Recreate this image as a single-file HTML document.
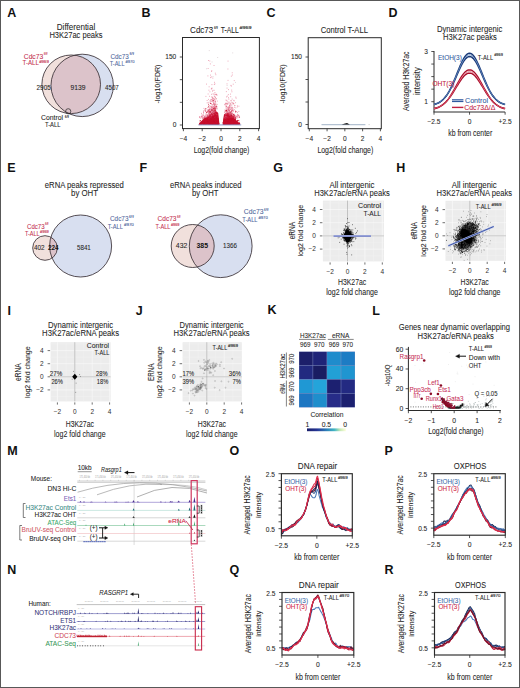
<!DOCTYPE html>
<html><head><meta charset="utf-8"><style>
html,body{margin:0;padding:0;background:#fff;overflow:hidden;}
svg{display:block;}
text{font-family:"Liberation Sans", sans-serif;}
</style></head><body>
<svg width="520" height="688" viewBox="0 0 520 688" font-family='"Liberation Sans", sans-serif' fill="#262626">
<rect width="520" height="688" fill="#fff"/>
<rect x="0.50" y="0.50" width="519.00" height="687.00" fill="none" stroke="#585858" stroke-width="1"/>
<text x="7.20" y="16.80" font-size="12.5" fill="#111" font-weight="bold">A</text>
<text x="141.60" y="16.80" font-size="12.5" fill="#111" font-weight="bold">B</text>
<text x="266.40" y="16.80" font-size="12.5" fill="#111" font-weight="bold">C</text>
<text x="388.60" y="16.80" font-size="12.5" fill="#111" font-weight="bold">D</text>
<text x="7.20" y="171.80" font-size="12.5" fill="#111" font-weight="bold">E</text>
<text x="139.60" y="171.80" font-size="12.5" fill="#111" font-weight="bold">F</text>
<text x="273.20" y="172.00" font-size="12.5" fill="#111" font-weight="bold">G</text>
<text x="396.20" y="171.80" font-size="12.5" fill="#111" font-weight="bold">H</text>
<text x="7.40" y="314.80" font-size="12.5" fill="#111" font-weight="bold">I</text>
<text x="135.80" y="314.80" font-size="12.5" fill="#111" font-weight="bold">J</text>
<text x="267.60" y="313.80" font-size="12.5" fill="#111" font-weight="bold">K</text>
<text x="372.20" y="314.60" font-size="12.5" fill="#111" font-weight="bold">L</text>
<text x="7.20" y="455.00" font-size="12.5" fill="#111" font-weight="bold">M</text>
<text x="229.60" y="455.00" font-size="12.5" fill="#111" font-weight="bold">O</text>
<text x="384.40" y="454.80" font-size="12.5" fill="#111" font-weight="bold">P</text>
<text x="7.20" y="573.80" font-size="12.5" fill="#111" font-weight="bold">N</text>
<text x="229.60" y="573.50" font-size="12.5" fill="#111" font-weight="bold">Q</text>
<text x="384.40" y="573.80" font-size="12.5" fill="#111" font-weight="bold">R</text>
<defs><clipPath id="cpA"><circle cx="82.2" cy="85.4" r="31.2"/></clipPath><clipPath id="cpF"><circle cx="220.7" cy="246.2" r="31.4"/></clipPath><clipPath id="cpE"><circle cx="80.6" cy="246" r="31"/></clipPath><linearGradient id="cb" x1="0" x2="1" y1="0" y2="0"><stop offset="0" stop-color="#1a1f6a"/><stop offset="0.25" stop-color="#253494"/><stop offset="0.5" stop-color="#2c7fb8"/><stop offset="0.7" stop-color="#41b6c4"/><stop offset="0.85" stop-color="#c7e9b4"/><stop offset="1" stop-color="#ffffe0"/></linearGradient></defs>
<text x="56.80" y="29.80" font-size="8.5" textLength="38.40" lengthAdjust="spacingAndGlyphs" stroke="#262626" stroke-width="0.07">Differential</text>
<text x="49.40" y="38.00" font-size="8.5" textLength="53.20" lengthAdjust="spacingAndGlyphs" stroke="#262626" stroke-width="0.07">H3K27ac peaks</text>
<circle cx="82.20" cy="85.40" r="31.20" fill="#d8dff0" stroke="none" stroke-width="0.8"/>
<circle cx="71.20" cy="84.30" r="29.30" fill="#f1e0dc" stroke="none" stroke-width="0.8"/>
<circle cx="71.20" cy="84.30" r="29.30" fill="#dcc3ca" stroke="none" stroke-width="0.8" clip-path="url(#cpA)"/>
<circle cx="82.20" cy="85.40" r="31.20" fill="none" stroke="#3a3036" stroke-width="0.85"/>
<circle cx="71.20" cy="84.30" r="29.30" fill="none" stroke="#3a3036" stroke-width="0.85"/>
<circle cx="68.20" cy="111.30" r="2.60" fill="none" stroke="#222" stroke-width="0.7"/>
<text x="36.50" y="89.60" font-size="6.4" textLength="14.30" lengthAdjust="spacingAndGlyphs" stroke="#262626" stroke-width="0.07">2905</text>
<text x="70.40" y="89.60" font-size="6.4" textLength="15.00" lengthAdjust="spacingAndGlyphs" stroke="#262626" stroke-width="0.07">9139</text>
<text x="105.00" y="89.60" font-size="6.4" textLength="13.80" lengthAdjust="spacingAndGlyphs" stroke="#262626" stroke-width="0.07">4507</text>
<text x="23.80" y="58.60" font-size="6.4" fill="#c4304f" textLength="19.40" lengthAdjust="spacingAndGlyphs" stroke="#c4304f" stroke-width="0.07">Cdc73</text>
<text x="43.80" y="55.00" font-size="4.3" fill="#c4304f" textLength="3.70" lengthAdjust="spacingAndGlyphs" stroke="#c4304f" stroke-width="0.12">f/f</text>
<text x="22.60" y="65.20" font-size="6.4" fill="#c4304f" textLength="16.30" lengthAdjust="spacingAndGlyphs" stroke="#c4304f" stroke-width="0.07">T-ALL</text>
<text x="39.20" y="62.60" font-size="4.3" fill="#c4304f" textLength="9.60" lengthAdjust="spacingAndGlyphs" stroke="#c4304f" stroke-width="0.12">#969</text>
<text x="110.40" y="58.70" font-size="6.4" fill="#4f679c" textLength="18.30" lengthAdjust="spacingAndGlyphs" stroke="#4f679c" stroke-width="0.07">Cdc73</text>
<text x="129.40" y="55.40" font-size="4.3" fill="#4f679c" textLength="4.60" lengthAdjust="spacingAndGlyphs" stroke="#4f679c" stroke-width="0.12">f/f</text>
<text x="109.70" y="66.40" font-size="6.4" fill="#4f679c" textLength="14.90" lengthAdjust="spacingAndGlyphs" stroke="#4f679c" stroke-width="0.07">T-ALL</text>
<text x="125.60" y="63.40" font-size="4.3" fill="#4f679c" textLength="9.00" lengthAdjust="spacingAndGlyphs" stroke="#4f679c" stroke-width="0.12">#970</text>
<text x="41.00" y="120.20" font-size="6.4" textLength="22.00" lengthAdjust="spacingAndGlyphs" stroke="#262626" stroke-width="0.07">Control</text>
<text x="64.80" y="117.50" font-size="4.3" textLength="4.20" lengthAdjust="spacingAndGlyphs" stroke="#262626" stroke-width="0.12">f/f</text>
<text x="44.90" y="127.40" font-size="6.4" textLength="15.60" lengthAdjust="spacingAndGlyphs" stroke="#262626" stroke-width="0.07">T-ALL</text>
<rect x="182.50" y="37.50" width="76.90" height="91.10" fill="none" stroke="#2a2a2a" stroke-width="1.0"/>
<line x1="179.80" y1="125.00" x2="182.50" y2="125.00" stroke="#2a2a2a" stroke-width="0.8"/>
<line x1="179.80" y1="102.33" x2="182.50" y2="102.33" stroke="#2a2a2a" stroke-width="0.8"/>
<line x1="179.80" y1="79.67" x2="182.50" y2="79.67" stroke="#2a2a2a" stroke-width="0.8"/>
<line x1="179.80" y1="57.00" x2="182.50" y2="57.00" stroke="#2a2a2a" stroke-width="0.8"/>
<text x="176.30" y="59.30" font-size="6.6" text-anchor="end" stroke="#262626" stroke-width="0.07">150</text>
<text x="176.30" y="127.30" font-size="6.6" text-anchor="end" stroke="#262626" stroke-width="0.07">0</text>
<line x1="183.40" y1="128.60" x2="183.40" y2="131.20" stroke="#2a2a2a" stroke-width="0.8"/>
<text x="183.40" y="140.50" font-size="6.6" text-anchor="middle" stroke="#262626" stroke-width="0.07">−4</text>
<line x1="202.20" y1="128.60" x2="202.20" y2="131.20" stroke="#2a2a2a" stroke-width="0.8"/>
<text x="202.20" y="140.50" font-size="6.6" text-anchor="middle" stroke="#262626" stroke-width="0.07">−2</text>
<line x1="221.00" y1="128.60" x2="221.00" y2="131.20" stroke="#2a2a2a" stroke-width="0.8"/>
<text x="221.00" y="140.50" font-size="6.6" text-anchor="middle" stroke="#262626" stroke-width="0.07">0</text>
<line x1="239.80" y1="128.60" x2="239.80" y2="131.20" stroke="#2a2a2a" stroke-width="0.8"/>
<text x="239.80" y="140.50" font-size="6.6" text-anchor="middle" stroke="#262626" stroke-width="0.07">2</text>
<line x1="258.60" y1="128.60" x2="258.60" y2="131.20" stroke="#2a2a2a" stroke-width="0.8"/>
<text x="258.60" y="140.50" font-size="6.6" text-anchor="middle" stroke="#262626" stroke-width="0.07">4</text>
<text x="190.10" y="33.40" font-size="8.6" textLength="23.20" lengthAdjust="spacingAndGlyphs" stroke="#262626" stroke-width="0.07">Cdc73</text>
<text x="213.90" y="29.00" font-size="4.4" textLength="3.90" lengthAdjust="spacingAndGlyphs" stroke="#262626" stroke-width="0.12">f/f</text>
<text x="220.70" y="33.40" font-size="8.6" textLength="18.10" lengthAdjust="spacingAndGlyphs" stroke="#262626" stroke-width="0.07">T-ALL</text>
<text x="239.50" y="29.00" font-size="4.4" textLength="12.10" lengthAdjust="spacingAndGlyphs" stroke="#262626" stroke-width="0.12">#969</text>
<text x="193.70" y="152.80" font-size="8.3" textLength="55.70" lengthAdjust="spacingAndGlyphs" stroke="#262626" stroke-width="0.07">Log2(fold change)</text>
<text x="159.90" y="84.00" font-size="7.6" text-anchor="middle" textLength="39.00" lengthAdjust="spacingAndGlyphs" transform="rotate(-90 159.90 84.00)" stroke="#262626" stroke-width="0.07">-log10(FDR)</text>
<path d="M198.5,124.8 L201,121.5 L204,118.5 L207.5,116.5 L211,114.5 L214.5,112.5 L216.8,111.6 L218.2,113 L218.9,119 L219.5,124.8 Z" fill="#c8102e"/>
<path d="M222.6,124.8 L223.2,119 L224,114.5 L226,113.6 L229.5,114.5 L233.5,117.5 L237,121 L239.5,124.8 Z" fill="#c8102e"/>
<path d="M208.5 90.2h0.85M215.1 110.8h0.85M214.2 106.8h0.85M213.6 113.4h0.85M207.9 117.4h0.85M211.5 114.7h0.85M211.0 118.1h0.85M215.7 111.0h0.85M207.5 118.1h0.85M212.6 114.4h0.85M213.2 115.1h0.85M203.5 108.4h0.85M206.9 110.6h0.85M211.3 115.3h0.85M207.8 116.1h0.85M215.2 112.8h0.85M212.1 107.0h0.85M210.7 99.8h0.85M213.0 117.4h0.85M213.8 96.0h0.85M212.0 91.2h0.85M215.2 109.2h0.85M211.9 104.9h0.85M205.5 96.4h0.85M209.0 118.0h0.85M210.3 117.4h0.85M213.5 94.2h0.85M211.1 88.4h0.85M214.9 118.1h0.85M211.1 118.0h0.85M208.3 118.2h0.85M209.4 114.3h0.85M210.6 112.9h0.85M207.3 107.6h0.85M213.7 107.0h0.85M213.7 116.7h0.85M214.6 102.6h0.85M209.4 111.5h0.85M211.3 104.7h0.85M211.7 115.9h0.85M206.1 115.1h0.85M213.3 112.1h0.85M212.0 118.2h0.85M209.1 114.5h0.85M199.3 117.2h0.85M199.4 116.5h0.85M207.8 116.6h0.85M210.8 116.9h0.85M208.0 99.4h0.85M208.0 60.5h0.85M206.1 84.1h0.85M211.5 107.6h0.85M215.6 117.9h0.85M207.9 118.1h0.85M213.1 112.2h0.85M211.3 115.3h0.85M213.9 115.9h0.85M210.4 106.1h0.85M215.5 94.5h0.85M212.5 112.5h0.85M207.8 102.4h0.85M212.3 114.6h0.85M212.6 114.8h0.85M204.1 117.4h0.85M212.0 101.0h0.85M212.4 106.8h0.85M214.6 117.6h0.85M209.8 111.7h0.85M206.1 117.5h0.85M209.9 117.8h0.85M213.0 116.8h0.85M208.8 105.5h0.85M211.1 115.5h0.85M212.7 107.2h0.85M214.8 106.4h0.85M209.3 113.4h0.85M211.1 71.3h0.85M204.0 116.4h0.85M213.6 107.5h0.85M210.8 107.4h0.85M209.2 114.2h0.85M213.2 114.2h0.85M212.5 100.5h0.85M212.3 98.6h0.85M209.4 114.5h0.85M201.4 115.0h0.85M208.8 112.7h0.85M215.7 113.3h0.85M214.4 114.2h0.85M211.5 84.6h0.85M207.7 114.2h0.85M210.4 116.5h0.85M208.2 110.1h0.85M214.0 108.1h0.85M212.4 78.1h0.85M215.8 108.8h0.85M211.1 115.9h0.85M199.9 118.1h0.85M214.5 113.9h0.85M208.4 114.8h0.85M209.1 112.5h0.85M202.0 116.1h0.85M209.8 112.7h0.85M206.8 109.7h0.85M209.9 63.9h0.85M209.0 116.7h0.85M214.4 107.5h0.85M214.9 108.3h0.85M210.2 114.2h0.85M211.3 110.5h0.85M210.6 115.0h0.85M204.3 110.1h0.85M215.3 114.1h0.85M211.4 70.8h0.85M205.0 115.7h0.85M215.2 100.9h0.85M214.5 101.6h0.85M216.3 112.9h0.85M208.2 112.9h0.85M209.2 112.7h0.85M215.8 115.0h0.85M205.1 111.4h0.85M213.1 100.2h0.85M212.7 108.5h0.85M209.1 108.4h0.85M207.4 117.2h0.85M214.6 112.6h0.85M210.2 103.5h0.85M211.7 88.2h0.85M203.1 117.3h0.85M214.0 115.4h0.85M203.3 111.7h0.85M216.3 114.5h0.85M208.4 117.1h0.85M202.3 117.0h0.85M204.0 117.5h0.85M205.9 114.9h0.85M215.7 94.1h0.85M213.6 106.7h0.85M204.8 109.2h0.85M210.2 77.6h0.85M211.9 115.9h0.85M203.0 113.1h0.85M209.1 115.6h0.85M215.1 116.6h0.85M211.0 116.8h0.85M212.9 106.4h0.85M214.7 116.3h0.85M212.3 100.0h0.85M213.0 114.1h0.85M211.5 116.8h0.85M211.7 97.5h0.85M212.7 104.5h0.85M213.2 116.6h0.85M211.4 114.1h0.85M212.1 109.1h0.85M211.4 112.7h0.85M211.6 116.5h0.85M214.3 110.5h0.85M210.5 99.7h0.85M214.9 73.2h0.85M208.9 110.9h0.85M201.2 116.4h0.85M211.8 113.7h0.85M211.1 118.0h0.85M211.8 99.1h0.85M214.9 118.2h0.85M209.6 102.2h0.85M214.5 92.5h0.85M208.2 113.5h0.85M215.3 114.1h0.85M210.9 109.7h0.85M210.1 114.4h0.85M205.3 114.1h0.85M209.5 109.8h0.85M215.0 97.5h0.85M210.4 108.9h0.85M211.0 106.5h0.85M202.4 117.7h0.85M212.9 116.3h0.85M212.3 117.5h0.85M209.4 115.4h0.85M212.3 97.3h0.85M214.8 101.5h0.85M214.0 114.2h0.85M210.8 103.5h0.85M211.5 114.3h0.85M214.6 103.9h0.85M212.3 112.0h0.85M211.1 112.9h0.85M216.7 95.1h0.85M215.9 94.8h0.85M216.6 118.1h0.85M216.2 107.5h0.85M210.5 109.9h0.85M210.9 89.1h0.85M216.4 115.3h0.85M208.1 109.4h0.85M206.5 116.9h0.85M211.4 109.7h0.85M209.8 111.5h0.85M209.7 111.4h0.85M213.7 116.4h0.85M202.9 115.0h0.85M214.5 83.8h0.85M213.0 115.9h0.85M217.1 108.8h0.85M207.9 116.4h0.85M213.8 117.8h0.85M201.7 116.1h0.85M202.5 114.9h0.85M216.9 101.1h0.85M212.2 118.1h0.85M211.6 107.6h0.85M213.1 103.7h0.85M214.6 111.6h0.85M212.8 102.1h0.85M211.4 116.1h0.85M211.8 112.2h0.85M212.6 117.3h0.85M209.9 101.9h0.85M212.5 117.8h0.85M204.1 117.9h0.85M214.2 96.7h0.85M211.8 109.6h0.85M209.5 112.6h0.85M209.0 117.1h0.85M203.8 117.3h0.85M213.5 99.2h0.85M206.9 114.9h0.85M211.8 107.9h0.85M216.4 114.3h0.85M207.5 115.4h0.85M215.4 74.7h0.85M213.4 115.4h0.85M209.5 111.7h0.85M213.6 107.5h0.85M214.5 107.9h0.85M209.3 112.5h0.85M206.7 116.9h0.85M213.7 112.1h0.85M212.9 102.1h0.85M210.0 117.7h0.85M211.4 108.9h0.85M212.6 105.2h0.85M201.0 113.4h0.85M212.8 116.1h0.85M214.5 115.9h0.85M213.1 100.9h0.85M210.1 103.5h0.85M214.0 82.3h0.85M214.7 110.9h0.85M215.9 116.8h0.85M199.0 117.3h0.85M209.2 109.5h0.85M215.2 115.7h0.85M209.5 91.8h0.85M209.8 103.6h0.85M205.7 117.8h0.85M214.7 112.4h0.85M205.7 116.5h0.85M207.9 111.1h0.85M215.2 118.2h0.85M210.9 114.0h0.85M210.8 111.8h0.85M210.4 115.9h0.85M216.8 104.4h0.85M210.7 101.3h0.85M213.0 103.2h0.85M207.8 117.9h0.85M210.9 113.5h0.85M213.7 90.3h0.85M214.8 117.4h0.85M212.7 116.8h0.85M210.5 111.2h0.85M211.9 110.1h0.85M215.7 94.7h0.85M203.2 110.9h0.85M207.7 68.5h0.85M211.4 96.7h0.85M210.9 76.9h0.85M209.2 96.3h0.85M210.7 109.0h0.85M212.4 110.1h0.85M206.1 113.1h0.85M212.3 116.1h0.85M212.7 117.9h0.85M211.5 116.8h0.85M212.0 115.7h0.85M211.0 94.3h0.85M213.4 111.6h0.85M209.6 114.0h0.85M207.5 116.7h0.85M215.7 116.4h0.85M212.6 93.9h0.85M215.8 117.1h0.85M214.0 115.6h0.85M215.8 115.4h0.85M210.8 107.2h0.85M213.7 103.4h0.85M206.7 100.5h0.85M212.7 108.9h0.85M213.1 114.5h0.85M213.7 115.8h0.85M214.3 117.9h0.85M206.7 102.9h0.85M215.5 106.9h0.85M205.6 116.2h0.85M212.4 98.1h0.85M215.4 103.2h0.85M211.3 117.4h0.85M213.8 110.2h0.85M213.9 100.2h0.85M205.3 111.4h0.85M208.9 117.3h0.85M217.4 117.5h0.85M212.5 112.0h0.85M212.5 90.3h0.85M213.4 117.9h0.85M203.3 115.7h0.85M214.5 103.9h0.85M214.5 99.2h0.85M211.2 117.5h0.85M206.2 117.7h0.85M215.7 108.6h0.85M212.5 114.8h0.85M212.9 111.9h0.85M209.0 111.8h0.85M208.0 117.6h0.85M213.4 104.4h0.85M214.3 117.8h0.85M217.2 117.1h0.85M211.5 113.2h0.85M207.6 115.1h0.85M208.7 86.8h0.85M213.6 65.5h0.85M203.1 112.6h0.85M215.2 107.4h0.85M206.4 118.1h0.85M209.6 110.3h0.85M213.7 113.6h0.85M206.6 117.8h0.85M214.6 118.2h0.85M210.3 106.7h0.85M200.8 117.8h0.85M207.5 75.9h0.85M213.9 104.2h0.85M202.4 117.8h0.85M210.5 108.4h0.85M211.3 111.7h0.85M214.9 107.1h0.85M214.9 118.0h0.85M215.7 112.3h0.85M214.8 97.0h0.85M216.0 118.2h0.85M212.9 113.7h0.85M214.2 105.7h0.85M213.2 117.9h0.85M210.0 75.1h0.85M215.0 101.8h0.85M214.2 99.1h0.85M211.4 99.7h0.85M207.7 94.0h0.85M216.6 107.0h0.85M208.7 113.3h0.85M209.6 110.2h0.85M212.8 111.0h0.85M214.6 113.9h0.85M210.4 113.2h0.85M200.9 116.8h0.85M207.1 111.8h0.85M213.0 98.6h0.85M213.0 111.7h0.85M209.4 61.0h0.85M209.7 100.5h0.85M204.2 116.2h0.85M211.6 101.6h0.85M212.6 116.8h0.85M213.8 111.1h0.85M213.1 115.3h0.85M214.0 108.9h0.85M214.4 94.2h0.85M216.2 114.6h0.85M213.9 84.5h0.85M209.7 113.3h0.85M205.8 117.5h0.85M212.1 115.6h0.85M201.3 116.6h0.85M227.6 80.4h0.85M235.4 107.8h0.85M229.4 115.1h0.85M238.0 115.3h0.85M228.2 117.3h0.85M229.9 117.2h0.85M238.4 111.5h0.85M233.4 118.2h0.85M226.1 116.5h0.85M229.9 115.6h0.85M229.6 105.0h0.85M226.3 109.6h0.85M236.7 115.4h0.85M231.7 110.3h0.85M226.8 101.3h0.85M226.1 112.4h0.85M230.8 117.0h0.85M225.0 103.5h0.85M234.7 115.4h0.85M228.0 97.7h0.85M225.8 115.1h0.85M232.5 117.7h0.85M226.8 113.1h0.85M229.2 105.4h0.85M230.5 112.6h0.85M226.5 117.9h0.85M231.7 99.1h0.85M237.1 114.4h0.85M235.4 112.0h0.85M229.5 116.1h0.85M233.8 116.8h0.85M226.2 116.6h0.85M229.1 115.6h0.85M235.7 116.1h0.85M226.3 106.6h0.85M230.7 107.0h0.85M234.0 118.1h0.85M230.4 117.1h0.85M228.3 113.4h0.85M227.8 112.1h0.85M225.5 116.5h0.85M230.9 110.2h0.85M230.4 100.7h0.85M227.0 113.5h0.85M231.7 114.4h0.85M239.2 117.1h0.85M227.9 106.7h0.85M237.3 117.1h0.85M233.5 115.0h0.85M229.1 114.2h0.85M224.4 111.6h0.85M229.3 108.2h0.85M227.0 108.2h0.85M231.3 115.5h0.85M227.8 116.3h0.85M229.0 110.6h0.85M227.2 116.5h0.85M227.7 103.8h0.85M231.7 102.9h0.85M224.8 114.9h0.85M236.1 111.5h0.85M232.7 115.3h0.85M224.7 113.8h0.85M231.1 107.5h0.85M228.3 116.1h0.85M227.6 116.7h0.85M228.9 117.7h0.85M229.1 106.0h0.85M226.8 110.1h0.85M227.9 110.4h0.85M235.4 97.1h0.85M225.2 104.9h0.85M234.3 105.7h0.85M226.9 112.0h0.85M232.0 107.9h0.85M225.6 118.0h0.85M226.9 110.8h0.85M228.7 117.2h0.85M224.4 117.7h0.85M225.6 102.9h0.85M238.7 115.9h0.85M233.7 100.9h0.85M234.6 116.2h0.85M232.6 108.9h0.85M227.6 61.1h0.85M226.0 114.8h0.85M229.6 109.5h0.85M229.2 106.0h0.85M229.5 109.0h0.85M234.5 117.2h0.85M229.8 109.5h0.85M230.3 112.6h0.85M229.8 113.4h0.85M225.7 107.8h0.85M225.5 100.1h0.85M228.5 109.6h0.85M228.9 107.6h0.85M231.5 91.8h0.85M232.7 116.5h0.85M224.6 116.9h0.85M230.5 105.1h0.85M226.4 117.5h0.85M231.9 75.0h0.85M224.6 118.1h0.85M230.9 76.2h0.85M224.2 104.7h0.85M225.7 105.9h0.85M229.3 113.4h0.85M232.8 84.2h0.85M233.9 107.4h0.85M231.6 102.4h0.85M227.5 69.0h0.85M231.0 111.3h0.85M229.4 113.7h0.85M227.7 112.6h0.85M235.3 111.6h0.85M230.3 115.3h0.85M230.2 114.2h0.85M233.8 80.6h0.85M227.8 113.4h0.85M229.4 118.1h0.85M225.9 91.6h0.85M226.6 88.1h0.85M225.5 113.4h0.85M226.0 110.8h0.85M226.3 106.2h0.85M229.1 110.5h0.85M232.2 107.3h0.85M227.6 107.6h0.85M230.1 114.8h0.85M227.3 111.5h0.85M228.5 110.2h0.85M228.1 89.6h0.85M230.7 116.5h0.85M225.3 114.3h0.85M231.3 117.6h0.85M226.6 83.9h0.85M229.3 116.4h0.85M233.1 116.6h0.85M230.5 85.4h0.85M226.3 116.6h0.85M225.2 116.1h0.85M227.4 117.5h0.85M231.0 117.5h0.85M227.3 109.8h0.85M227.3 113.8h0.85M229.7 103.6h0.85M234.6 117.9h0.85M224.0 112.6h0.85M226.2 114.6h0.85M225.6 116.5h0.85M227.9 114.8h0.85M233.9 117.2h0.85M232.1 117.3h0.85M230.2 117.0h0.85M232.7 111.2h0.85M229.2 113.0h0.85M230.1 117.3h0.85M233.4 100.4h0.85M236.3 116.5h0.85M225.8 108.7h0.85M225.8 117.7h0.85M237.1 112.4h0.85M229.0 111.5h0.85M236.9 105.8h0.85M226.9 115.8h0.85M232.6 113.4h0.85M232.7 111.2h0.85M227.5 109.3h0.85M230.9 86.1h0.85M227.5 107.6h0.85M228.6 113.4h0.85M229.5 105.1h0.85M230.0 103.9h0.85M226.3 100.4h0.85M225.5 110.1h0.85M230.6 116.6h0.85M227.5 114.7h0.85M237.4 116.8h0.85M228.1 113.6h0.85M228.1 110.7h0.85M227.9 94.6h0.85M229.7 115.8h0.85M227.0 104.0h0.85M232.2 109.2h0.85M230.8 116.7h0.85M226.3 115.3h0.85M231.1 108.6h0.85M227.8 112.2h0.85M231.8 103.8h0.85M226.1 96.9h0.85M234.2 115.4h0.85M235.2 102.7h0.85M226.7 113.9h0.85M229.5 107.7h0.85M232.9 115.6h0.85M225.6 116.6h0.85M230.1 94.1h0.85M231.2 113.1h0.85M225.9 115.7h0.85M226.9 96.1h0.85M237.0 116.0h0.85M231.5 114.9h0.85M228.5 107.8h0.85M226.2 116.7h0.85M232.8 110.3h0.85M227.6 102.8h0.85M231.3 115.4h0.85M235.6 117.0h0.85M230.7 112.0h0.85M238.9 117.1h0.85M231.4 105.1h0.85M226.6 118.1h0.85M230.9 100.8h0.85M228.6 118.2h0.85M230.6 116.4h0.85M228.9 110.5h0.85M229.6 111.7h0.85M227.7 118.2h0.85M228.3 117.2h0.85M230.8 110.2h0.85M228.8 113.7h0.85M235.4 117.2h0.85M233.9 109.7h0.85M228.3 108.0h0.85M226.0 117.5h0.85M237.2 106.9h0.85M228.2 110.9h0.85M225.9 114.2h0.85M227.1 113.1h0.85M228.7 107.2h0.85M237.5 114.9h0.85M234.0 114.3h0.85M230.3 108.0h0.85M225.7 106.7h0.85M228.4 99.1h0.85M227.6 113.5h0.85M238.5 106.2h0.85M229.1 114.4h0.85M232.3 116.5h0.85M227.2 111.8h0.85M230.6 114.8h0.85M226.8 113.3h0.85M232.0 113.6h0.85M224.4 110.1h0.85M236.5 118.2h0.85M230.7 116.0h0.85M233.8 116.4h0.85M225.8 106.6h0.85M225.8 110.3h0.85M230.7 113.6h0.85M225.8 118.1h0.85M228.5 115.1h0.85M231.3 90.1h0.85M225.3 114.3h0.85M229.2 112.0h0.85M231.8 72.8h0.85M226.4 116.1h0.85M234.5 105.6h0.85M229.0 112.7h0.85M225.9 103.7h0.85M227.3 112.6h0.85M226.7 113.3h0.85M229.5 102.8h0.85M232.8 103.0h0.85M229.7 111.8h0.85M231.1 114.9h0.85M229.6 106.6h0.85M232.3 110.2h0.85M235.7 98.2h0.85M225.2 113.7h0.85M230.3 96.7h0.85M229.0 114.5h0.85M238.2 115.4h0.85M235.2 112.3h0.85M225.7 116.3h0.85M227.7 118.1h0.85M224.7 104.1h0.85M231.5 109.1h0.85M230.9 116.1h0.85M228.5 102.0h0.85M225.2 116.1h0.85M231.7 116.7h0.85" stroke="#e06080" stroke-width="0.85" fill="none" stroke-opacity="0.7"/>
<path d="M212.1 120.8h0.9M213.3 124.1h0.9M214.0 123.5h0.9M211.8 116.0h0.9M214.1 119.1h0.9M209.6 122.2h0.9M211.6 116.3h0.9M212.2 120.7h0.9M216.6 120.6h0.9M217.5 124.1h0.9M216.4 118.8h0.9M211.4 123.1h0.9M212.3 122.6h0.9M216.9 121.8h0.9M211.4 122.4h0.9M215.2 121.5h0.9M215.2 120.1h0.9M207.2 118.1h0.9M212.6 122.7h0.9M211.8 120.2h0.9M211.8 123.2h0.9M217.0 122.3h0.9M211.6 123.0h0.9M216.2 123.3h0.9M209.1 123.1h0.9M208.5 123.9h0.9M208.6 122.5h0.9M214.8 122.7h0.9M214.0 123.1h0.9M216.2 121.7h0.9M213.0 122.5h0.9M205.3 122.2h0.9M215.1 124.1h0.9M217.7 120.8h0.9M212.6 111.0h0.9M208.4 119.5h0.9M213.7 115.3h0.9M202.4 123.6h0.9M213.4 123.0h0.9M212.7 117.3h0.9M216.0 113.3h0.9M214.0 123.4h0.9M208.6 122.9h0.9M208.5 124.0h0.9M206.0 112.4h0.9M209.1 122.0h0.9M210.4 124.1h0.9M217.7 122.2h0.9M215.4 118.5h0.9M214.6 124.1h0.9M209.6 118.3h0.9M213.0 123.2h0.9M209.4 120.6h0.9M212.5 121.1h0.9M215.9 120.5h0.9M215.3 120.8h0.9M211.2 124.0h0.9M214.5 123.8h0.9M217.7 118.3h0.9M210.3 122.8h0.9M207.4 119.4h0.9M208.0 121.5h0.9M207.9 122.0h0.9M217.0 119.3h0.9M203.0 121.1h0.9M213.3 122.8h0.9M215.7 123.4h0.9M214.3 122.9h0.9M215.1 120.9h0.9M216.4 123.5h0.9M212.8 124.1h0.9M212.1 123.7h0.9M213.5 123.2h0.9M212.1 119.6h0.9M213.4 121.2h0.9M215.2 123.7h0.9M214.7 123.0h0.9M210.4 121.3h0.9M216.8 121.4h0.9M214.6 109.3h0.9M208.1 122.5h0.9M211.8 121.6h0.9M209.8 121.0h0.9M212.7 119.3h0.9M216.3 121.0h0.9M214.2 122.9h0.9M212.3 119.2h0.9M214.2 123.9h0.9M213.4 121.4h0.9M212.0 123.2h0.9M208.5 119.3h0.9M214.4 122.6h0.9M206.7 123.0h0.9M212.7 121.2h0.9M207.8 121.2h0.9M206.9 122.2h0.9M202.4 122.4h0.9M207.3 115.3h0.9M207.2 121.1h0.9M202.7 121.9h0.9M217.2 117.3h0.9M215.8 117.4h0.9M207.5 121.0h0.9M217.8 122.9h0.9M211.9 116.5h0.9M211.9 122.9h0.9M216.9 116.3h0.9M215.6 123.9h0.9M209.5 122.0h0.9M210.1 120.4h0.9M214.7 119.0h0.9M215.4 123.7h0.9M215.1 117.5h0.9M210.4 120.6h0.9M216.7 122.4h0.9M212.5 121.8h0.9M216.8 123.7h0.9M208.1 123.9h0.9M211.7 119.6h0.9M205.3 119.6h0.9M217.9 122.9h0.9M217.7 124.1h0.9M214.8 112.3h0.9M203.9 122.5h0.9M216.2 118.6h0.9M205.4 108.5h0.9M211.9 124.0h0.9M211.9 123.2h0.9M209.2 116.8h0.9M215.8 118.9h0.9M214.8 120.0h0.9M216.4 117.9h0.9M212.1 117.1h0.9M200.6 123.7h0.9M214.0 119.6h0.9M210.2 120.1h0.9M210.9 123.0h0.9M211.7 120.5h0.9M213.3 123.6h0.9M205.0 123.2h0.9M212.1 122.2h0.9M214.4 123.4h0.9M206.6 121.1h0.9M208.5 123.7h0.9M211.1 123.2h0.9M213.0 120.2h0.9M202.4 118.8h0.9M212.4 124.1h0.9M214.6 121.7h0.9M209.5 122.2h0.9M213.6 124.0h0.9M212.4 123.2h0.9M213.8 113.3h0.9M213.1 123.5h0.9M217.1 115.6h0.9M215.3 120.5h0.9M215.1 123.2h0.9M213.5 116.8h0.9M211.2 109.9h0.9M215.7 98.8h0.9M213.0 123.1h0.9M210.5 123.9h0.9M216.0 118.0h0.9M215.5 116.3h0.9M202.3 123.8h0.9M209.2 123.7h0.9M213.0 117.8h0.9M216.6 123.1h0.9M202.7 122.9h0.9M215.6 122.3h0.9M214.2 122.0h0.9M213.0 122.0h0.9M210.7 123.2h0.9M212.3 123.8h0.9M212.5 110.8h0.9M199.3 124.1h0.9M211.9 119.1h0.9M210.2 116.8h0.9M216.7 120.1h0.9M208.3 122.7h0.9M217.3 123.0h0.9M214.8 120.1h0.9M215.1 120.3h0.9M212.4 122.1h0.9M216.1 123.1h0.9M216.1 116.6h0.9M205.9 119.0h0.9M214.1 122.5h0.9M212.7 122.9h0.9M213.6 121.2h0.9M216.8 118.9h0.9M213.0 122.3h0.9M206.4 112.3h0.9M215.1 123.2h0.9M210.1 119.8h0.9M206.2 123.9h0.9M216.3 122.5h0.9M207.7 123.8h0.9M217.6 123.5h0.9M209.0 123.2h0.9M213.7 123.7h0.9M216.1 121.8h0.9M212.9 122.2h0.9M214.7 115.6h0.9M217.2 123.9h0.9M206.5 122.0h0.9M205.9 119.2h0.9M215.8 123.1h0.9M214.0 119.3h0.9M214.3 108.3h0.9M213.4 120.2h0.9M216.4 120.1h0.9M207.2 119.4h0.9M212.1 120.7h0.9M215.7 123.9h0.9M214.2 123.5h0.9M215.1 120.5h0.9M213.1 120.6h0.9M209.0 119.9h0.9M208.9 124.1h0.9M216.0 122.6h0.9M211.9 122.9h0.9M215.5 122.9h0.9M217.3 122.7h0.9M215.9 117.7h0.9M212.4 122.8h0.9M216.9 122.3h0.9M215.0 123.7h0.9M210.2 123.2h0.9M214.9 115.2h0.9M215.0 123.6h0.9M215.6 120.5h0.9M217.5 122.4h0.9M213.5 120.1h0.9M212.3 118.2h0.9M211.9 123.5h0.9M215.8 123.3h0.9M215.8 120.4h0.9M208.1 123.6h0.9M215.6 123.3h0.9M213.6 119.9h0.9M215.9 120.9h0.9M215.9 123.6h0.9M216.9 124.1h0.9M203.5 122.4h0.9M213.8 123.2h0.9M217.6 122.6h0.9M212.3 123.2h0.9M212.5 122.0h0.9M212.4 123.9h0.9M204.2 123.6h0.9M212.7 116.6h0.9M212.4 116.5h0.9M215.0 121.6h0.9M215.8 120.8h0.9M212.6 121.7h0.9M212.9 121.5h0.9M215.6 123.2h0.9M214.3 121.7h0.9M212.1 124.0h0.9M211.8 124.1h0.9M214.6 119.9h0.9M217.8 123.0h0.9M211.4 120.9h0.9M213.9 123.2h0.9M215.7 122.0h0.9M214.3 121.0h0.9M216.2 123.5h0.9M211.4 118.0h0.9M213.9 114.3h0.9M217.2 123.1h0.9M210.9 121.4h0.9M210.2 121.3h0.9M213.2 122.7h0.9M209.9 121.8h0.9M216.9 123.6h0.9M205.2 120.8h0.9M211.0 124.1h0.9M206.8 124.1h0.9M216.9 121.9h0.9M214.6 122.7h0.9M213.7 116.1h0.9M200.4 122.7h0.9M212.6 118.7h0.9M216.4 118.1h0.9M210.0 123.1h0.9M211.6 119.0h0.9M215.1 115.8h0.9M208.2 106.3h0.9M205.9 124.0h0.9M213.4 123.8h0.9M215.7 123.7h0.9M209.1 122.3h0.9M210.6 122.7h0.9M213.7 118.9h0.9M215.3 123.6h0.9M213.5 123.0h0.9M210.2 121.3h0.9M212.2 122.8h0.9M218.4 123.7h0.9M209.3 122.8h0.9M200.8 123.8h0.9M210.6 122.9h0.9M207.8 120.5h0.9M212.3 116.5h0.9M212.3 117.1h0.9M203.8 123.8h0.9M202.8 123.6h0.9M212.9 120.8h0.9M207.8 119.4h0.9M216.9 122.8h0.9M210.4 123.6h0.9M216.9 124.1h0.9M209.6 123.8h0.9M214.1 121.0h0.9M213.2 120.3h0.9M215.5 122.3h0.9M211.1 114.0h0.9M208.5 123.2h0.9M215.5 122.5h0.9M213.6 121.6h0.9M211.1 118.3h0.9M214.6 119.6h0.9M204.8 118.8h0.9M211.1 122.1h0.9M212.7 122.7h0.9M211.6 122.7h0.9M215.2 123.0h0.9M216.8 124.0h0.9M215.0 110.7h0.9M211.1 122.0h0.9M213.5 108.4h0.9M215.4 121.7h0.9M215.8 122.3h0.9M212.2 120.3h0.9M213.6 122.3h0.9M208.3 120.6h0.9M215.8 123.4h0.9M212.6 121.3h0.9M213.7 109.6h0.9M209.6 121.2h0.9M214.2 119.1h0.9M200.7 121.4h0.9M208.4 122.7h0.9M214.9 120.9h0.9M213.0 122.8h0.9M208.5 121.1h0.9M217.2 121.9h0.9M215.0 123.6h0.9M214.5 121.5h0.9M218.1 122.7h0.9M210.9 110.3h0.9M217.4 123.7h0.9M216.3 119.6h0.9M211.7 122.7h0.9M210.4 123.3h0.9M210.7 121.9h0.9M213.5 120.6h0.9M214.3 123.9h0.9M217.2 123.7h0.9M199.5 124.1h0.9M204.0 121.6h0.9M214.8 123.2h0.9M212.4 119.9h0.9M213.4 122.0h0.9M213.9 122.6h0.9M216.0 113.4h0.9M213.2 123.5h0.9M208.3 117.4h0.9M213.0 123.3h0.9M210.8 122.9h0.9M202.1 121.4h0.9M211.7 120.0h0.9M202.6 123.7h0.9M214.7 115.2h0.9M208.6 122.3h0.9M203.4 120.1h0.9M208.0 123.5h0.9M214.7 122.6h0.9M213.7 118.1h0.9M214.7 120.0h0.9M210.6 116.9h0.9M213.0 123.0h0.9M215.0 118.8h0.9M216.3 118.6h0.9M214.7 119.8h0.9M212.4 120.1h0.9M208.4 122.6h0.9M210.3 118.9h0.9M208.8 117.3h0.9M204.7 122.2h0.9M210.1 120.2h0.9M216.8 117.9h0.9M213.2 123.6h0.9M216.6 121.9h0.9M211.6 122.3h0.9M217.3 123.8h0.9M212.5 122.5h0.9M211.7 117.0h0.9M209.2 123.3h0.9M212.3 120.4h0.9M214.0 120.5h0.9M207.8 122.6h0.9M214.1 123.8h0.9M215.7 121.2h0.9M214.1 120.9h0.9M216.8 123.9h0.9M211.4 121.2h0.9M217.4 123.0h0.9M207.7 122.1h0.9M212.5 110.3h0.9M208.8 115.2h0.9M216.2 106.3h0.9M203.0 124.0h0.9M205.2 124.0h0.9M206.8 122.0h0.9M212.8 100.6h0.9M207.9 117.5h0.9M212.5 120.9h0.9M204.8 120.1h0.9M217.3 122.9h0.9M212.0 121.8h0.9M204.0 123.9h0.9M207.6 123.7h0.9M207.3 118.9h0.9M207.9 122.6h0.9M211.4 123.8h0.9M215.5 123.8h0.9M209.8 123.9h0.9M213.9 116.0h0.9M213.3 121.9h0.9M212.7 122.1h0.9M212.2 122.0h0.9M215.6 122.3h0.9M208.6 123.8h0.9M211.2 121.9h0.9M205.4 120.6h0.9M208.1 120.5h0.9M211.6 122.9h0.9M216.5 124.1h0.9M212.3 122.2h0.9M211.2 113.7h0.9M210.8 119.0h0.9M211.9 120.6h0.9M214.2 118.3h0.9M207.1 118.2h0.9M211.4 123.3h0.9M206.1 121.2h0.9M214.9 113.1h0.9M210.6 122.4h0.9M205.0 123.0h0.9M205.0 123.3h0.9M216.0 112.4h0.9M212.6 116.5h0.9M213.6 122.5h0.9M205.0 121.0h0.9M210.1 114.7h0.9M214.7 112.6h0.9M212.3 123.9h0.9M214.1 122.0h0.9M212.0 113.9h0.9M213.9 121.9h0.9M211.1 123.5h0.9M204.9 120.7h0.9M207.7 123.9h0.9M199.4 120.9h0.9M208.6 118.6h0.9M208.1 104.3h0.9M209.8 123.5h0.9M212.5 120.7h0.9M218.0 123.9h0.9M215.8 121.9h0.9M213.1 121.1h0.9M210.2 123.4h0.9M215.5 123.0h0.9M212.2 124.1h0.9M212.8 123.4h0.9M212.7 120.8h0.9M212.0 123.3h0.9M209.1 124.1h0.9M213.6 121.6h0.9M212.8 122.3h0.9M215.4 121.7h0.9M213.8 116.6h0.9M215.2 121.3h0.9M210.1 122.6h0.9M200.1 123.8h0.9M214.7 115.9h0.9M209.9 123.8h0.9M211.9 119.2h0.9M217.4 123.4h0.9M218.0 122.1h0.9M214.9 123.1h0.9M213.1 116.3h0.9M216.8 123.7h0.9M215.9 119.0h0.9M215.6 123.2h0.9M215.9 120.4h0.9M216.6 122.8h0.9M213.5 121.7h0.9M209.1 121.7h0.9M211.2 123.7h0.9M215.7 106.3h0.9M213.2 120.6h0.9M212.3 122.9h0.9M217.7 123.5h0.9M207.2 121.5h0.9M215.1 121.0h0.9M216.6 121.2h0.9M216.0 122.6h0.9M213.8 122.1h0.9M215.2 108.9h0.9M207.2 118.9h0.9M213.7 120.5h0.9M217.0 122.6h0.9M218.0 123.6h0.9M214.6 110.3h0.9M199.3 123.7h0.9M216.1 115.9h0.9M205.2 118.3h0.9M215.6 123.3h0.9M213.3 122.5h0.9M211.3 122.1h0.9M213.0 123.4h0.9M217.9 122.2h0.9M214.9 121.8h0.9M211.0 122.2h0.9M214.6 123.6h0.9M210.4 123.7h0.9M216.8 122.7h0.9M216.2 122.8h0.9M213.0 123.5h0.9M213.0 118.3h0.9M208.1 117.5h0.9M213.9 116.4h0.9M212.3 121.3h0.9M212.9 116.3h0.9M210.3 123.9h0.9M210.3 117.8h0.9M212.7 121.6h0.9M208.0 122.3h0.9M203.8 118.5h0.9M215.0 123.7h0.9M214.8 123.9h0.9M214.9 119.2h0.9M215.1 118.3h0.9M214.9 122.0h0.9M212.3 121.5h0.9M208.7 121.2h0.9M215.0 116.7h0.9M210.5 120.8h0.9M214.2 123.8h0.9M211.5 123.2h0.9M208.9 115.2h0.9M215.9 121.2h0.9M215.6 122.3h0.9M211.7 124.0h0.9M215.3 124.1h0.9M212.8 124.0h0.9M206.0 121.9h0.9M215.2 116.1h0.9M215.5 120.2h0.9M211.9 123.4h0.9M213.7 120.3h0.9M209.5 124.1h0.9M213.2 117.3h0.9M216.1 116.0h0.9M217.9 124.0h0.9M211.1 123.2h0.9M215.2 124.1h0.9M212.1 123.9h0.9M217.5 123.4h0.9M215.3 122.0h0.9M211.0 123.4h0.9M207.1 118.8h0.9M206.9 120.3h0.9M205.4 124.0h0.9M212.8 122.8h0.9M207.6 121.7h0.9M211.1 124.0h0.9M213.7 122.6h0.9M214.4 115.4h0.9M215.4 122.1h0.9M207.1 120.1h0.9M212.5 118.1h0.9M215.2 120.6h0.9M213.2 117.5h0.9M200.4 123.8h0.9M216.9 124.0h0.9M216.8 124.0h0.9M204.1 121.8h0.9M216.9 123.9h0.9M204.5 123.8h0.9M214.8 122.5h0.9M210.7 120.8h0.9M205.1 121.4h0.9M205.0 124.0h0.9M208.6 122.8h0.9M212.7 123.6h0.9M213.7 124.0h0.9M213.6 123.2h0.9M203.0 124.1h0.9M211.1 121.4h0.9M205.9 122.2h0.9M218.2 123.4h0.9M214.0 123.2h0.9M211.2 117.9h0.9M214.1 122.3h0.9M216.3 120.5h0.9M210.0 121.8h0.9M207.8 122.4h0.9M215.5 123.1h0.9M207.9 122.0h0.9M210.5 124.1h0.9M203.5 123.9h0.9M212.7 123.4h0.9M207.1 123.2h0.9M210.5 120.6h0.9M214.3 118.2h0.9M209.1 123.4h0.9M210.0 123.3h0.9M202.4 123.0h0.9M216.9 123.5h0.9M216.8 123.9h0.9M215.3 115.2h0.9M209.0 120.0h0.9M206.4 120.6h0.9M213.0 122.3h0.9M211.3 123.4h0.9M212.3 121.6h0.9M217.3 123.6h0.9M215.5 124.0h0.9M207.5 122.2h0.9M207.9 122.3h0.9M205.6 122.4h0.9M208.8 118.0h0.9M218.3 123.8h0.9M211.0 119.6h0.9M210.7 120.9h0.9M216.7 123.2h0.9M199.8 123.8h0.9M213.1 119.3h0.9M207.2 111.8h0.9M208.2 117.1h0.9M209.3 116.8h0.9M203.9 123.1h0.9M213.0 122.1h0.9M207.2 123.1h0.9M210.2 121.3h0.9M216.4 123.8h0.9M214.9 119.4h0.9M216.4 123.0h0.9M217.1 123.9h0.9M210.1 122.9h0.9M216.9 122.2h0.9M207.0 118.1h0.9M213.5 121.3h0.9M213.6 117.7h0.9M216.5 116.2h0.9M210.6 123.3h0.9M215.7 117.7h0.9M209.1 122.9h0.9M208.8 121.3h0.9M217.4 123.7h0.9M210.0 122.3h0.9M217.9 123.3h0.9M208.0 122.9h0.9M217.9 119.4h0.9M216.1 119.8h0.9M204.7 124.0h0.9M211.4 123.9h0.9M208.8 124.1h0.9M218.2 123.0h0.9M208.3 123.3h0.9M215.5 115.1h0.9M201.8 122.8h0.9M212.2 119.7h0.9M212.9 123.7h0.9M217.3 122.6h0.9M215.7 124.1h0.9M212.6 117.0h0.9M204.2 122.1h0.9M204.9 122.7h0.9M213.5 123.6h0.9M216.3 121.9h0.9M216.5 122.2h0.9M201.4 123.2h0.9M211.0 122.8h0.9M216.1 121.0h0.9M202.9 122.5h0.9M209.6 121.2h0.9M208.3 111.9h0.9M207.7 119.3h0.9M210.7 119.0h0.9M214.4 120.6h0.9M217.3 119.1h0.9M216.7 121.9h0.9M215.6 118.4h0.9M209.8 123.9h0.9M215.2 123.1h0.9M208.1 110.8h0.9M207.4 123.8h0.9M202.8 123.9h0.9M202.6 121.6h0.9M201.9 122.4h0.9M211.3 123.6h0.9M211.6 118.6h0.9M214.8 119.8h0.9M211.0 122.9h0.9M211.7 116.3h0.9M214.9 123.3h0.9M217.6 123.9h0.9M203.9 123.8h0.9M209.4 120.8h0.9M215.8 114.4h0.9M214.2 105.0h0.9M208.0 124.1h0.9M214.4 124.0h0.9M210.7 122.6h0.9M206.2 121.1h0.9M207.4 122.1h0.9M212.9 117.8h0.9M215.5 116.2h0.9M213.8 117.3h0.9M208.1 120.8h0.9M213.0 124.1h0.9M201.3 124.0h0.9M200.0 120.5h0.9M202.6 121.7h0.9M208.2 123.0h0.9M216.3 123.0h0.9M200.8 123.9h0.9M207.9 119.2h0.9M214.7 123.1h0.9M215.4 121.2h0.9M214.6 122.9h0.9M211.4 123.5h0.9M216.8 119.2h0.9M205.0 122.5h0.9M213.7 122.5h0.9M209.2 122.1h0.9M217.3 122.7h0.9M206.2 123.4h0.9M212.6 109.3h0.9M216.3 123.8h0.9M202.5 122.4h0.9M213.9 119.0h0.9M214.0 120.9h0.9M215.5 121.8h0.9M216.4 123.9h0.9M212.6 123.9h0.9M212.1 121.0h0.9M214.0 123.8h0.9M216.1 122.1h0.9M202.7 123.8h0.9M201.8 122.2h0.9M215.5 122.9h0.9M204.4 121.4h0.9M212.1 123.7h0.9M212.6 121.6h0.9M199.2 123.6h0.9M214.1 119.1h0.9M208.6 119.4h0.9M214.8 115.3h0.9M217.3 122.3h0.9M207.6 123.1h0.9M210.2 112.4h0.9M208.5 107.2h0.9M213.7 113.7h0.9M210.0 118.9h0.9M211.8 122.9h0.9M217.7 122.5h0.9M213.4 116.3h0.9M217.2 123.4h0.9M212.3 120.8h0.9M216.2 123.8h0.9M216.4 123.9h0.9M203.8 122.8h0.9M214.2 123.8h0.9M213.8 123.3h0.9M211.0 122.7h0.9M218.0 122.3h0.9M215.8 119.7h0.9M215.4 118.4h0.9M210.6 122.6h0.9M211.5 121.2h0.9M215.0 123.2h0.9M201.0 124.1h0.9M214.7 121.6h0.9M215.5 123.5h0.9M210.8 122.7h0.9M215.3 120.9h0.9M205.4 119.1h0.9M211.2 122.0h0.9M215.3 120.5h0.9M214.3 120.5h0.9M212.8 123.8h0.9M211.2 124.0h0.9M211.1 122.4h0.9M210.8 121.7h0.9M216.8 123.6h0.9M212.4 123.4h0.9M217.9 123.4h0.9M213.7 122.2h0.9M213.2 108.5h0.9M210.1 123.9h0.9M215.5 119.5h0.9M211.4 118.4h0.9M214.4 123.1h0.9M212.4 112.4h0.9M215.9 122.1h0.9M207.4 116.7h0.9M207.8 123.9h0.9M217.3 123.5h0.9M213.8 116.2h0.9M214.2 110.9h0.9M217.9 123.7h0.9M216.7 118.3h0.9M213.8 123.8h0.9M216.6 124.1h0.9M212.2 122.3h0.9M209.2 121.7h0.9M215.1 119.0h0.9M209.8 123.5h0.9M204.6 117.1h0.9M215.1 114.7h0.9M206.1 118.7h0.9M206.0 118.0h0.9M204.7 123.1h0.9M212.6 123.7h0.9M211.3 120.8h0.9M215.5 123.6h0.9M207.9 123.3h0.9M208.7 121.8h0.9M210.8 120.3h0.9M212.6 117.7h0.9M215.0 122.1h0.9M218.1 122.9h0.9M214.7 114.7h0.9M217.5 118.9h0.9M213.1 119.7h0.9M215.5 119.2h0.9M214.9 121.3h0.9M215.8 120.9h0.9M200.6 122.4h0.9M217.3 122.5h0.9M205.6 123.5h0.9M205.2 123.7h0.9M212.9 121.2h0.9M216.7 117.0h0.9M214.7 120.7h0.9M211.8 123.9h0.9M207.7 118.0h0.9M209.6 124.0h0.9M210.3 120.1h0.9M214.1 120.3h0.9M206.3 121.0h0.9M216.0 124.1h0.9M215.0 124.0h0.9M211.6 122.2h0.9M208.3 123.0h0.9M210.1 121.8h0.9M209.8 121.0h0.9M214.3 124.0h0.9M206.9 123.5h0.9M217.9 123.3h0.9M214.9 111.6h0.9M216.7 123.6h0.9M216.1 120.9h0.9M210.3 111.5h0.9M208.0 123.3h0.9M215.9 121.0h0.9M212.5 122.4h0.9M199.5 122.8h0.9M210.9 118.0h0.9M203.3 123.8h0.9M206.3 120.3h0.9M205.5 123.2h0.9M213.6 113.4h0.9M210.5 123.9h0.9M215.2 121.9h0.9M204.9 110.2h0.9M214.6 124.1h0.9M212.0 121.6h0.9M209.1 122.9h0.9M213.9 122.0h0.9M213.3 123.6h0.9M216.3 115.4h0.9M212.9 123.6h0.9M216.6 121.7h0.9M210.3 103.5h0.9M211.8 123.3h0.9M206.1 123.0h0.9M213.4 118.8h0.9M206.2 124.1h0.9M205.5 121.3h0.9M205.0 123.3h0.9M208.2 122.8h0.9M210.1 119.3h0.9M211.0 123.9h0.9M214.2 123.7h0.9M212.6 121.4h0.9M212.5 115.0h0.9M216.4 123.7h0.9M213.5 122.3h0.9M211.1 124.1h0.9M215.7 122.2h0.9M208.5 122.6h0.9M214.8 118.5h0.9M210.6 117.7h0.9M212.2 121.1h0.9M209.3 111.7h0.9M216.6 122.1h0.9M210.8 122.9h0.9M203.3 123.1h0.9M207.6 121.6h0.9M212.4 116.7h0.9M212.1 118.2h0.9M211.5 114.5h0.9M213.3 118.4h0.9M215.4 123.6h0.9M212.4 122.4h0.9M212.6 124.0h0.9M209.8 115.9h0.9M212.5 124.0h0.9M210.6 122.3h0.9M212.2 120.4h0.9M215.4 104.8h0.9M215.7 112.4h0.9M213.5 123.5h0.9M206.9 122.4h0.9M216.0 122.5h0.9M216.7 123.8h0.9M212.6 118.2h0.9M214.8 119.5h0.9M215.0 121.6h0.9M202.4 120.3h0.9M212.6 122.3h0.9M209.6 121.0h0.9M212.8 120.0h0.9M208.4 123.1h0.9M212.8 122.9h0.9M213.2 122.0h0.9M209.0 122.5h0.9M212.8 123.7h0.9M204.8 121.5h0.9M215.1 123.3h0.9M203.2 122.7h0.9M216.2 123.9h0.9M214.1 119.4h0.9M212.0 120.0h0.9M216.3 118.1h0.9M214.8 121.3h0.9M208.8 109.9h0.9M213.5 123.9h0.9M215.2 121.2h0.9M208.7 121.8h0.9M212.1 122.1h0.9M209.7 121.4h0.9M203.6 119.1h0.9M212.5 120.9h0.9M210.9 122.4h0.9M217.8 123.3h0.9M211.6 121.9h0.9M215.4 124.1h0.9M210.4 121.8h0.9M215.4 113.2h0.9M214.3 111.1h0.9M216.6 119.2h0.9M208.6 122.0h0.9M212.4 115.3h0.9M232.8 117.9h0.9M234.2 121.6h0.9M229.3 123.2h0.9M238.8 123.3h0.9M226.9 121.0h0.9M231.6 113.0h0.9M231.2 121.3h0.9M227.6 119.0h0.9M228.3 120.9h0.9M231.8 118.0h0.9M224.2 124.1h0.9M229.9 122.6h0.9M223.5 122.6h0.9M223.3 124.0h0.9M235.1 123.9h0.9M228.9 116.8h0.9M233.2 118.0h0.9M231.1 123.0h0.9M237.5 123.7h0.9M228.4 119.9h0.9M227.1 121.7h0.9M227.9 122.4h0.9M222.6 122.6h0.9M223.5 123.3h0.9M233.5 116.2h0.9M223.6 119.3h0.9M231.4 121.4h0.9M233.1 123.3h0.9M225.0 121.1h0.9M225.2 124.1h0.9M224.7 124.0h0.9M225.6 123.4h0.9M227.6 118.0h0.9M226.3 115.5h0.9M227.0 122.9h0.9M225.7 123.3h0.9M229.3 119.6h0.9M226.5 122.0h0.9M225.2 121.5h0.9M231.7 121.4h0.9M229.2 121.7h0.9M233.8 122.4h0.9M229.0 123.9h0.9M232.8 123.8h0.9M226.5 122.3h0.9M223.8 123.4h0.9M226.6 121.0h0.9M225.3 121.3h0.9M225.4 122.5h0.9M232.6 121.3h0.9M231.2 123.4h0.9M229.4 123.5h0.9M227.0 123.7h0.9M231.9 123.0h0.9M228.1 122.2h0.9M229.8 121.8h0.9M233.0 122.9h0.9M227.7 119.2h0.9M227.2 118.5h0.9M235.3 121.2h0.9M227.3 121.5h0.9M228.6 120.9h0.9M235.2 123.4h0.9M228.0 121.0h0.9M227.0 123.2h0.9M232.1 123.7h0.9M225.4 123.1h0.9M229.1 123.7h0.9M226.8 113.9h0.9M228.1 109.0h0.9M237.7 122.8h0.9M223.9 123.9h0.9M224.1 124.0h0.9M231.7 123.0h0.9M226.5 115.4h0.9M226.0 119.9h0.9M224.4 121.5h0.9M237.6 123.6h0.9M236.2 121.7h0.9M228.1 124.0h0.9M226.5 117.6h0.9M232.3 123.5h0.9M234.4 122.8h0.9M230.5 119.1h0.9M228.6 121.8h0.9M225.1 123.7h0.9M229.8 124.1h0.9M225.7 119.7h0.9M224.2 124.1h0.9M228.3 116.9h0.9M235.2 121.6h0.9M235.7 123.9h0.9M227.0 120.9h0.9M226.9 123.2h0.9M238.4 123.8h0.9M229.9 119.3h0.9M233.6 123.8h0.9M228.4 122.9h0.9M232.9 122.0h0.9M229.4 122.7h0.9M237.1 123.9h0.9M225.9 120.0h0.9M224.8 124.1h0.9M231.6 115.2h0.9M223.5 123.1h0.9M231.4 119.0h0.9M235.6 123.1h0.9M231.5 123.0h0.9M229.7 123.0h0.9M232.4 120.2h0.9M229.7 123.0h0.9M224.4 123.2h0.9M228.6 122.9h0.9M225.7 124.1h0.9M238.6 123.5h0.9M233.1 122.7h0.9M228.4 121.6h0.9M230.7 121.8h0.9M227.8 121.8h0.9M238.0 123.7h0.9M226.0 124.0h0.9M235.8 122.6h0.9M225.5 123.2h0.9M227.4 122.3h0.9M230.4 123.3h0.9M231.8 121.9h0.9M235.3 118.5h0.9M227.3 120.8h0.9M225.8 121.6h0.9M229.0 121.4h0.9M225.9 122.1h0.9M227.3 123.5h0.9M225.1 121.3h0.9M232.8 121.1h0.9M228.7 124.0h0.9M232.9 123.8h0.9M229.0 124.0h0.9M226.6 124.1h0.9M231.8 119.8h0.9M224.9 122.7h0.9M226.2 111.1h0.9M234.5 119.0h0.9M229.7 121.9h0.9M233.5 120.9h0.9M230.6 122.3h0.9M224.7 122.3h0.9M227.2 120.0h0.9M235.1 120.2h0.9M228.5 118.5h0.9M233.5 117.9h0.9M229.3 121.4h0.9M225.0 123.6h0.9M234.1 121.5h0.9M227.7 120.7h0.9M223.8 122.0h0.9M239.2 123.7h0.9M228.3 119.8h0.9M226.7 123.2h0.9M227.3 121.9h0.9M230.4 120.6h0.9M223.7 123.5h0.9M227.3 123.0h0.9M223.2 123.3h0.9M234.4 117.8h0.9M229.2 116.4h0.9M234.2 123.4h0.9M226.5 122.9h0.9M234.5 120.9h0.9M225.8 119.8h0.9M223.4 123.2h0.9M231.5 122.4h0.9M226.0 123.9h0.9M232.8 119.4h0.9M223.5 122.5h0.9M229.0 121.4h0.9M226.6 123.5h0.9M233.2 116.8h0.9M227.9 121.6h0.9M236.4 123.9h0.9M232.4 120.3h0.9M231.4 122.5h0.9M226.6 117.3h0.9M228.7 119.6h0.9M226.0 122.4h0.9M225.2 121.4h0.9M230.0 123.1h0.9M231.8 120.3h0.9M227.6 117.8h0.9M229.2 123.7h0.9M225.4 121.3h0.9M226.4 118.7h0.9M227.0 122.7h0.9M223.7 123.9h0.9M226.6 121.0h0.9M225.1 123.6h0.9M227.2 120.9h0.9M223.4 123.9h0.9M230.8 122.6h0.9M236.2 122.3h0.9M228.1 120.3h0.9M231.0 115.2h0.9M229.1 118.3h0.9M232.6 122.5h0.9M228.9 121.4h0.9M224.1 123.4h0.9M224.0 120.5h0.9M231.6 123.7h0.9M233.0 114.5h0.9M224.5 122.8h0.9M226.9 120.5h0.9M227.4 119.7h0.9M229.1 120.0h0.9M232.8 123.2h0.9M224.6 121.3h0.9M227.8 123.2h0.9M233.5 116.6h0.9M234.1 123.1h0.9M234.6 123.8h0.9M233.0 123.3h0.9M227.7 122.6h0.9M225.2 121.3h0.9M235.1 118.1h0.9M228.1 117.4h0.9M232.6 119.0h0.9M225.3 120.8h0.9M223.9 121.9h0.9M230.6 119.6h0.9M238.6 122.4h0.9M226.6 123.4h0.9M224.6 124.0h0.9M231.1 117.0h0.9M230.6 120.0h0.9M226.7 120.3h0.9M224.3 123.1h0.9M238.1 123.2h0.9M227.0 118.9h0.9M237.3 122.9h0.9M224.2 123.1h0.9M230.0 123.8h0.9M225.8 123.5h0.9M227.6 122.8h0.9M231.0 118.6h0.9M227.5 122.5h0.9M232.5 123.7h0.9M229.9 123.8h0.9M226.0 122.7h0.9M224.6 122.2h0.9M225.4 124.0h0.9M233.2 114.9h0.9M225.0 123.6h0.9M223.4 123.8h0.9M232.8 122.9h0.9M234.4 123.5h0.9M224.7 120.6h0.9M231.8 122.9h0.9M226.2 123.3h0.9M224.9 117.0h0.9M231.2 116.1h0.9M225.1 123.1h0.9M231.7 118.3h0.9M228.1 120.5h0.9M224.7 123.1h0.9M233.9 123.2h0.9M226.0 110.5h0.9M227.3 123.6h0.9M231.5 115.2h0.9M235.3 117.2h0.9M226.6 120.4h0.9M228.6 121.6h0.9M225.4 123.6h0.9M224.1 123.8h0.9M230.3 122.8h0.9M231.6 119.0h0.9M236.1 122.7h0.9M227.9 123.8h0.9M225.6 113.1h0.9M226.2 124.0h0.9M229.9 120.8h0.9M223.7 123.2h0.9M231.1 121.5h0.9M228.2 118.4h0.9M229.1 118.4h0.9M224.2 123.7h0.9M227.4 123.6h0.9M231.0 122.1h0.9M231.8 116.4h0.9M229.2 124.1h0.9M232.5 122.4h0.9M228.1 123.1h0.9M224.8 115.4h0.9M225.7 123.4h0.9M235.9 122.8h0.9M230.8 122.4h0.9M225.7 122.5h0.9M232.9 123.9h0.9M223.0 124.1h0.9M230.3 121.3h0.9M229.3 122.3h0.9M238.4 120.7h0.9M232.8 122.6h0.9M224.9 120.3h0.9M222.9 123.0h0.9M231.1 122.2h0.9M233.0 118.1h0.9M227.1 123.3h0.9M228.0 123.0h0.9M225.2 120.6h0.9M232.4 121.0h0.9M229.0 123.8h0.9M232.6 120.8h0.9M227.6 115.6h0.9M225.9 121.9h0.9M226.4 123.2h0.9M236.2 122.7h0.9M234.5 121.9h0.9M236.3 123.9h0.9M228.0 121.0h0.9M228.8 116.4h0.9M224.5 124.0h0.9M232.4 122.9h0.9M235.7 122.8h0.9M227.3 123.1h0.9M225.5 122.0h0.9M228.3 123.5h0.9M229.6 118.5h0.9M235.3 120.5h0.9M236.4 122.0h0.9M226.1 119.7h0.9M234.0 119.9h0.9M226.7 123.0h0.9M233.2 122.3h0.9M228.1 120.6h0.9M233.7 120.9h0.9M227.8 123.1h0.9M233.8 122.1h0.9M226.1 123.6h0.9M229.9 112.7h0.9M232.3 123.6h0.9M229.2 123.8h0.9M226.7 123.2h0.9M239.2 124.0h0.9M227.5 113.8h0.9M235.2 120.7h0.9M227.9 122.0h0.9M231.3 123.9h0.9M230.6 113.4h0.9M227.6 115.6h0.9M229.2 120.9h0.9M224.8 121.2h0.9M228.0 122.3h0.9M228.5 116.5h0.9M229.2 119.8h0.9M226.0 121.4h0.9M226.4 116.5h0.9M223.6 123.9h0.9M234.8 119.5h0.9M226.5 119.4h0.9M225.4 122.9h0.9M223.2 123.4h0.9M226.5 123.7h0.9M234.0 121.7h0.9M223.4 123.1h0.9M239.0 123.2h0.9M226.5 103.9h0.9M225.2 123.8h0.9M228.7 123.5h0.9M228.2 122.2h0.9M233.8 123.8h0.9M228.1 122.5h0.9M227.9 119.4h0.9M229.1 120.1h0.9M231.7 123.9h0.9M236.5 123.0h0.9M229.4 123.1h0.9M232.0 116.8h0.9M234.1 120.1h0.9M232.3 122.4h0.9M229.6 119.3h0.9M226.1 122.0h0.9M226.9 120.6h0.9M226.3 124.0h0.9M238.9 123.7h0.9M224.1 121.4h0.9M235.2 123.8h0.9M235.7 123.4h0.9M231.3 121.6h0.9M227.0 123.9h0.9M229.4 121.5h0.9M231.3 121.4h0.9M229.4 116.6h0.9M224.1 123.8h0.9M226.1 121.5h0.9M227.9 114.8h0.9M225.9 119.3h0.9M230.5 122.9h0.9M229.2 120.7h0.9M227.5 123.0h0.9M228.3 122.3h0.9M239.2 124.0h0.9M233.8 119.3h0.9M225.6 121.1h0.9M232.9 121.5h0.9M225.9 123.6h0.9M231.3 115.6h0.9M228.1 122.6h0.9M234.3 120.3h0.9M232.2 119.5h0.9M238.6 124.1h0.9M227.2 123.4h0.9M229.6 123.2h0.9M232.7 119.4h0.9M227.9 123.2h0.9M227.0 123.2h0.9M230.7 111.5h0.9M233.5 121.7h0.9M232.2 119.1h0.9M226.2 117.8h0.9M230.4 116.0h0.9M229.8 123.8h0.9M237.2 123.7h0.9M226.6 122.4h0.9M227.8 114.1h0.9M228.0 123.2h0.9M225.9 123.7h0.9M227.5 121.9h0.9M227.3 123.7h0.9M227.2 120.3h0.9M238.7 123.5h0.9M226.6 122.1h0.9M224.6 123.5h0.9M236.8 121.2h0.9M230.2 124.0h0.9M231.8 121.3h0.9M230.2 118.1h0.9M231.6 123.4h0.9M232.6 122.3h0.9M230.5 120.3h0.9M224.5 123.7h0.9M229.5 123.2h0.9M225.8 110.6h0.9M230.7 124.0h0.9M229.6 122.9h0.9M237.7 123.2h0.9M226.0 123.9h0.9M225.8 123.8h0.9M225.6 123.1h0.9M232.0 119.4h0.9M225.5 123.6h0.9M225.6 110.8h0.9M232.8 123.7h0.9M225.2 123.1h0.9M224.3 121.2h0.9M225.6 120.2h0.9M229.6 121.2h0.9M224.7 122.7h0.9M229.2 121.6h0.9M226.4 115.7h0.9M233.9 115.3h0.9M228.2 123.2h0.9M228.6 120.2h0.9M226.1 122.1h0.9M229.4 122.4h0.9M228.1 116.3h0.9M226.9 119.9h0.9M236.6 123.7h0.9M234.9 123.1h0.9M235.0 111.2h0.9M225.7 118.9h0.9M226.9 118.5h0.9M225.1 124.1h0.9M235.2 122.6h0.9M227.5 123.8h0.9M228.8 114.9h0.9M227.5 124.1h0.9M230.8 117.7h0.9M229.8 123.6h0.9M230.6 124.0h0.9M231.6 119.8h0.9M229.8 119.9h0.9M228.1 121.7h0.9M236.7 122.0h0.9M231.2 122.6h0.9M226.3 121.1h0.9M237.7 120.5h0.9M228.8 124.0h0.9M234.0 123.3h0.9M228.9 121.0h0.9M229.3 122.0h0.9M228.5 120.4h0.9M227.9 120.7h0.9M231.7 120.1h0.9M232.1 122.8h0.9M223.8 121.9h0.9M225.8 122.0h0.9M237.6 123.9h0.9M230.0 121.1h0.9M223.6 121.2h0.9M229.2 123.0h0.9M226.3 120.5h0.9M227.4 113.6h0.9M225.7 122.9h0.9M227.5 120.3h0.9M225.3 123.0h0.9M227.1 116.3h0.9M226.0 119.8h0.9M233.8 122.8h0.9M227.7 121.0h0.9M230.1 123.4h0.9M226.6 122.5h0.9M233.0 121.1h0.9M230.0 123.5h0.9M227.2 123.0h0.9M235.0 120.2h0.9M228.2 122.1h0.9M230.2 122.6h0.9M229.8 122.4h0.9M229.9 119.5h0.9M236.9 123.9h0.9M230.0 116.3h0.9M227.4 120.0h0.9M225.1 122.4h0.9M236.9 121.8h0.9M238.8 123.6h0.9M228.8 123.9h0.9M225.3 120.4h0.9M230.5 122.3h0.9M225.8 122.4h0.9M227.2 115.7h0.9M236.5 123.6h0.9M227.0 120.9h0.9M225.0 120.3h0.9M229.5 115.1h0.9M224.0 121.5h0.9M231.8 123.2h0.9M225.7 121.6h0.9M237.2 123.1h0.9M224.6 123.8h0.9M225.0 123.6h0.9M227.2 123.6h0.9M224.9 122.0h0.9M228.4 122.1h0.9M231.6 120.4h0.9M228.0 123.0h0.9M231.3 124.0h0.9M229.8 117.2h0.9M228.9 123.2h0.9M225.7 121.5h0.9M227.8 123.0h0.9M234.3 124.1h0.9M233.9 123.2h0.9M232.0 123.4h0.9M226.0 123.4h0.9M236.4 123.2h0.9M226.3 114.9h0.9M229.1 117.8h0.9M223.7 123.4h0.9M229.1 124.1h0.9M233.2 122.5h0.9M227.6 123.0h0.9M223.9 123.5h0.9M233.8 121.3h0.9M236.1 123.9h0.9M238.8 117.2h0.9M225.3 111.1h0.9M224.2 114.7h0.9M230.4 114.4h0.9M228.1 123.8h0.9M234.7 119.5h0.9M226.7 118.7h0.9M232.0 121.8h0.9M233.1 118.9h0.9M227.4 121.4h0.9M228.5 124.0h0.9M226.5 123.6h0.9M224.9 122.9h0.9M223.8 122.0h0.9M235.3 123.5h0.9M230.1 121.1h0.9M227.4 124.1h0.9M226.3 120.7h0.9M227.1 122.9h0.9M237.0 120.5h0.9M232.0 121.4h0.9M223.2 123.9h0.9M224.6 123.9h0.9M224.2 122.4h0.9M230.6 120.2h0.9M229.6 123.5h0.9M234.1 121.5h0.9M227.2 124.1h0.9M227.5 123.1h0.9M226.6 122.1h0.9M232.8 121.4h0.9M225.0 123.0h0.9M226.7 121.2h0.9M223.6 122.9h0.9M233.1 122.8h0.9M224.6 123.3h0.9M226.9 122.8h0.9M228.7 123.7h0.9M227.3 118.5h0.9M223.1 122.6h0.9M231.6 123.3h0.9M233.1 122.3h0.9M229.5 121.0h0.9M227.3 116.1h0.9M228.6 119.7h0.9M226.0 123.6h0.9M225.6 122.4h0.9M233.6 121.6h0.9M235.2 122.9h0.9M229.1 122.0h0.9M226.9 124.1h0.9M232.1 122.1h0.9M223.8 123.7h0.9M233.9 121.3h0.9M228.9 120.0h0.9M237.2 120.4h0.9M222.9 123.9h0.9M231.0 121.9h0.9M228.8 117.2h0.9M228.1 118.3h0.9M230.3 121.1h0.9M227.8 120.3h0.9M233.3 103.8h0.9M225.0 122.1h0.9M231.5 122.4h0.9M235.9 124.1h0.9M225.5 119.9h0.9M228.8 118.7h0.9M226.4 119.9h0.9M232.0 121.9h0.9M231.7 120.1h0.9M230.7 123.4h0.9M224.0 122.6h0.9M233.7 123.5h0.9M233.6 123.5h0.9M226.1 119.5h0.9M228.6 113.0h0.9M230.9 122.2h0.9M224.3 121.5h0.9M231.6 122.7h0.9M225.1 123.7h0.9M224.3 119.3h0.9M229.7 122.8h0.9M237.4 123.4h0.9M226.5 122.1h0.9M225.5 121.9h0.9M236.1 122.2h0.9M234.8 123.5h0.9M229.0 122.3h0.9M230.7 122.2h0.9M225.6 114.8h0.9M224.9 123.1h0.9M224.7 120.8h0.9M227.7 124.0h0.9M233.4 122.3h0.9M227.8 118.7h0.9M229.2 121.5h0.9M232.8 119.3h0.9M223.4 123.7h0.9M234.5 123.7h0.9M230.8 121.9h0.9M225.5 121.5h0.9M228.1 122.0h0.9M224.4 122.6h0.9M232.1 121.3h0.9M229.2 120.7h0.9M228.2 122.9h0.9M224.9 120.1h0.9M231.2 123.7h0.9M231.6 110.7h0.9M232.4 123.7h0.9M224.3 122.7h0.9M227.7 122.5h0.9M227.2 123.1h0.9M233.9 123.3h0.9M233.2 124.1h0.9M231.4 119.6h0.9M234.0 121.6h0.9M229.4 119.0h0.9M228.1 122.1h0.9M228.9 121.8h0.9M225.1 123.9h0.9M230.5 115.2h0.9M230.3 122.4h0.9M235.9 121.7h0.9M230.9 121.3h0.9M225.0 122.1h0.9M229.3 118.9h0.9M229.4 121.7h0.9M232.5 123.2h0.9M229.6 120.8h0.9M227.2 120.6h0.9M229.7 121.0h0.9M229.9 121.9h0.9M225.5 122.8h0.9M226.2 122.5h0.9M229.6 123.7h0.9M235.0 123.9h0.9M229.9 119.8h0.9M229.0 121.1h0.9M231.5 118.0h0.9M229.4 123.8h0.9M224.3 119.7h0.9M227.1 115.0h0.9M236.2 122.3h0.9M229.7 117.6h0.9M225.4 123.5h0.9M229.8 119.9h0.9M228.6 123.7h0.9" stroke="#c8102e" stroke-width="0.9" fill="none" stroke-opacity="0.85"/>
<line x1="198.44" y1="124.90" x2="241.21" y2="124.90" stroke="#7d93c4" stroke-width="0.9"/>
<rect x="208.78" y="50.20" width="0.90" height="0.90" fill="#dcd0d4" stroke="none" stroke-width="0.8"/>
<rect x="211.60" y="61.53" width="0.90" height="0.90" fill="#dcd0d4" stroke="none" stroke-width="0.8"/>
<rect x="232.28" y="52.47" width="0.90" height="0.90" fill="#dcd0d4" stroke="none" stroke-width="0.8"/>
<rect x="205.96" y="68.33" width="0.90" height="0.90" fill="#dcd0d4" stroke="none" stroke-width="0.8"/>
<rect x="235.10" y="81.93" width="0.90" height="0.90" fill="#dcd0d4" stroke="none" stroke-width="0.8"/>
<rect x="212.54" y="76.04" width="0.90" height="0.90" fill="#dcd0d4" stroke="none" stroke-width="0.8"/>
<rect x="226.64" y="85.11" width="0.90" height="0.90" fill="#dcd0d4" stroke="none" stroke-width="0.8"/>
<rect x="217.24" y="57.00" width="0.90" height="0.90" fill="#dcd0d4" stroke="none" stroke-width="0.8"/>
<rect x="308.20" y="37.70" width="73.10" height="91.00" fill="none" stroke="#2a2a2a" stroke-width="1.0"/>
<line x1="305.50" y1="124.50" x2="308.20" y2="124.50" stroke="#2a2a2a" stroke-width="0.8"/>
<line x1="305.50" y1="102.00" x2="308.20" y2="102.00" stroke="#2a2a2a" stroke-width="0.8"/>
<line x1="305.50" y1="79.50" x2="308.20" y2="79.50" stroke="#2a2a2a" stroke-width="0.8"/>
<line x1="305.50" y1="57.00" x2="308.20" y2="57.00" stroke="#2a2a2a" stroke-width="0.8"/>
<text x="302.00" y="59.30" font-size="6.6" text-anchor="end" stroke="#262626" stroke-width="0.07">150</text>
<text x="302.00" y="126.80" font-size="6.6" text-anchor="end" stroke="#262626" stroke-width="0.07">0</text>
<line x1="309.30" y1="128.70" x2="309.30" y2="131.30" stroke="#2a2a2a" stroke-width="0.8"/>
<text x="309.30" y="140.60" font-size="6.6" text-anchor="middle" stroke="#262626" stroke-width="0.07">−4</text>
<line x1="327.07" y1="128.70" x2="327.07" y2="131.30" stroke="#2a2a2a" stroke-width="0.8"/>
<text x="327.07" y="140.60" font-size="6.6" text-anchor="middle" stroke="#262626" stroke-width="0.07">−2</text>
<line x1="344.85" y1="128.70" x2="344.85" y2="131.30" stroke="#2a2a2a" stroke-width="0.8"/>
<text x="344.85" y="140.60" font-size="6.6" text-anchor="middle" stroke="#262626" stroke-width="0.07">0</text>
<line x1="362.62" y1="128.70" x2="362.62" y2="131.30" stroke="#2a2a2a" stroke-width="0.8"/>
<text x="362.62" y="140.60" font-size="6.6" text-anchor="middle" stroke="#262626" stroke-width="0.07">2</text>
<line x1="380.40" y1="128.70" x2="380.40" y2="131.30" stroke="#2a2a2a" stroke-width="0.8"/>
<text x="380.40" y="140.60" font-size="6.6" text-anchor="middle" stroke="#262626" stroke-width="0.07">4</text>
<text x="320.80" y="32.70" font-size="8.2" textLength="47.20" lengthAdjust="spacingAndGlyphs" stroke="#262626" stroke-width="0.07">Control T-ALL</text>
<text x="317.40" y="152.60" font-size="8.3" textLength="55.90" lengthAdjust="spacingAndGlyphs" stroke="#262626" stroke-width="0.07">Log2(fold change)</text>
<text x="285.00" y="84.00" font-size="7.6" text-anchor="middle" textLength="39.00" lengthAdjust="spacingAndGlyphs" transform="rotate(-90 285.00 84.00)" stroke="#262626" stroke-width="0.07">-log10(FDR)</text>
<line x1="321.50" y1="124.60" x2="365.40" y2="124.60" stroke="#b4c2d2" stroke-width="1.3"/>
<path d="M341.6,124.6 L345,123.6 L347,122.9 L349.8,124.6 Z" fill="#111"/>
<rect x="368.60" y="124.10" width="1.00" height="1.00" fill="#c8c8c8" stroke="none" stroke-width="0.8"/>
<text x="436.90" y="31.50" font-size="8.5" textLength="65.40" lengthAdjust="spacingAndGlyphs" stroke="#262626" stroke-width="0.07">Dynamic intergenic</text>
<text x="443.10" y="39.70" font-size="8.5" textLength="53.80" lengthAdjust="spacingAndGlyphs" stroke="#262626" stroke-width="0.07">H3K27ac peaks</text>
<line x1="434.00" y1="51.00" x2="434.00" y2="112.00" stroke="#2a2a2a" stroke-width="1.0"/>
<line x1="433.50" y1="112.00" x2="505.10" y2="112.00" stroke="#2a2a2a" stroke-width="1.0"/>
<line x1="431.30" y1="101.70" x2="434.00" y2="101.70" stroke="#2a2a2a" stroke-width="0.8"/>
<line x1="431.30" y1="89.15" x2="434.00" y2="89.15" stroke="#2a2a2a" stroke-width="0.8"/>
<line x1="431.30" y1="76.60" x2="434.00" y2="76.60" stroke="#2a2a2a" stroke-width="0.8"/>
<line x1="431.30" y1="64.05" x2="434.00" y2="64.05" stroke="#2a2a2a" stroke-width="0.8"/>
<line x1="431.30" y1="51.50" x2="434.00" y2="51.50" stroke="#2a2a2a" stroke-width="0.8"/>
<text x="428.00" y="53.80" font-size="6.6" text-anchor="end" stroke="#262626" stroke-width="0.07">3</text>
<text x="428.00" y="104.00" font-size="6.6" text-anchor="end" stroke="#262626" stroke-width="0.07">1</text>
<line x1="434.00" y1="112.00" x2="434.00" y2="114.70" stroke="#2a2a2a" stroke-width="0.8"/>
<text x="434.00" y="123.60" font-size="6.6" text-anchor="middle" stroke="#262626" stroke-width="0.07">−2.5</text>
<line x1="469.55" y1="112.00" x2="469.55" y2="114.70" stroke="#2a2a2a" stroke-width="0.8"/>
<text x="469.55" y="123.60" font-size="6.6" text-anchor="middle" stroke="#262626" stroke-width="0.07">0</text>
<line x1="505.10" y1="112.00" x2="505.10" y2="114.70" stroke="#2a2a2a" stroke-width="0.8"/>
<text x="505.10" y="123.60" font-size="6.6" text-anchor="middle" stroke="#262626" stroke-width="0.07">+2.5</text>
<text x="448.30" y="136.40" font-size="8.6" textLength="43.90" lengthAdjust="spacingAndGlyphs" stroke="#262626" stroke-width="0.07">kb from center</text>
<text x="408.80" y="81.20" font-size="8.2" text-anchor="middle" textLength="59.40" lengthAdjust="spacingAndGlyphs" transform="rotate(-90 408.80 81.20)" stroke="#262626" stroke-width="0.07">Averaged H3K27ac</text>
<text x="419.80" y="81.20" font-size="8.2" text-anchor="middle" textLength="27.80" lengthAdjust="spacingAndGlyphs" transform="rotate(-90 419.80 81.20)" stroke="#262626" stroke-width="0.07">intensity</text>
<path d="M434.00,104.19 L435.19,103.89 L436.37,103.52 L437.56,103.07 L438.74,102.53 L439.93,101.87 L441.11,101.09 L442.30,100.17 L443.48,99.10 L444.67,97.86 L445.85,96.45 L447.04,94.85 L448.22,93.07 L449.41,91.11 L450.59,88.96 L451.77,86.65 L452.96,84.20 L454.14,81.62 L455.33,78.95 L456.51,76.23 L457.70,73.50 L458.88,70.80 L460.07,68.20 L461.25,65.75 L462.44,63.48 L463.62,61.47 L464.81,59.75 L466.00,58.36 L467.18,57.35 L468.37,56.73 L469.55,56.52 L470.74,56.73 L471.92,57.35 L473.11,58.36 L474.29,59.75 L475.48,61.47 L476.66,63.48 L477.85,65.75 L479.03,68.20 L480.22,70.80 L481.40,73.50 L482.59,76.23 L483.77,78.95 L484.96,81.62 L486.14,84.20 L487.33,86.65 L488.51,88.96 L489.69,91.11 L490.88,93.07 L492.06,94.85 L493.25,96.45 L494.44,97.86 L495.62,99.10 L496.81,100.17 L497.99,101.09 L499.18,101.87 L500.36,102.53 L501.55,103.07 L502.73,103.52 L503.92,103.89 L505.10,104.19" stroke="#1a3a78" stroke-width="1.4" fill="none"/>
<path d="M434.00,104.61 L435.19,104.29 L436.37,103.90 L437.56,103.41 L438.74,102.82 L439.93,102.12 L441.11,101.27 L442.30,100.28 L443.48,99.13 L444.67,97.79 L445.85,96.27 L447.04,94.55 L448.22,92.64 L449.41,90.52 L450.59,88.21 L451.77,85.72 L452.96,83.07 L454.14,80.29 L455.33,77.42 L456.51,74.49 L457.70,71.55 L458.88,68.65 L460.07,65.84 L461.25,63.20 L462.44,60.76 L463.62,58.59 L464.81,56.73 L466.00,55.24 L467.18,54.15 L468.37,53.48 L469.55,53.26 L470.74,53.48 L471.92,54.15 L473.11,55.24 L474.29,56.73 L475.48,58.59 L476.66,60.76 L477.85,63.20 L479.03,65.84 L480.22,68.65 L481.40,71.55 L482.59,74.49 L483.77,77.42 L484.96,80.29 L486.14,83.07 L487.33,85.72 L488.51,88.21 L489.69,90.52 L490.88,92.64 L492.06,94.55 L493.25,96.27 L494.44,97.79 L495.62,99.13 L496.81,100.28 L497.99,101.27 L499.18,102.12 L500.36,102.82 L501.55,103.41 L502.73,103.90 L503.92,104.29 L505.10,104.61" stroke="#1a3a78" stroke-width="1.4" fill="none"/>
<path d="M434.00,104.40 L435.19,104.09 L436.37,103.71 L437.56,103.24 L438.74,102.68 L439.93,101.99 L441.11,101.18 L442.30,100.23 L443.48,99.11 L444.67,97.83 L445.85,96.36 L447.04,94.70 L448.22,92.85 L449.41,90.81 L450.59,88.59 L451.77,86.19 L452.96,83.63 L454.14,80.96 L455.33,78.18 L456.51,75.36 L457.70,72.52 L458.88,69.73 L460.07,67.02 L461.25,64.47 L462.44,62.12 L463.62,60.03 L464.81,58.24 L466.00,56.80 L467.18,55.75 L468.37,55.10 L469.55,54.89 L470.74,55.10 L471.92,55.75 L473.11,56.80 L474.29,58.24 L475.48,60.03 L476.66,62.12 L477.85,64.47 L479.03,67.02 L480.22,69.73 L481.40,72.52 L482.59,75.36 L483.77,78.18 L484.96,80.96 L486.14,83.63 L487.33,86.19 L488.51,88.59 L489.69,90.81 L490.88,92.85 L492.06,94.70 L493.25,96.36 L494.44,97.83 L495.62,99.11 L496.81,100.23 L497.99,101.18 L499.18,101.99 L500.36,102.68 L501.55,103.24 L502.73,103.71 L503.92,104.09 L505.10,104.40" stroke="#6a90c8" stroke-width="0.8" fill="none"/>
<path d="M434.00,108.26 L435.19,107.99 L436.37,107.68 L437.56,107.29 L438.74,106.83 L439.93,106.29 L441.11,105.65 L442.30,104.91 L443.48,104.05 L444.67,103.08 L445.85,101.98 L447.04,100.75 L448.22,99.39 L449.41,97.90 L450.59,96.30 L451.77,94.58 L452.96,92.77 L454.14,90.89 L455.33,88.95 L456.51,86.99 L457.70,85.04 L458.88,83.12 L460.07,81.28 L461.25,79.54 L462.44,77.95 L463.62,76.54 L464.81,75.33 L466.00,74.37 L467.18,73.66 L468.37,73.23 L469.55,73.09 L470.74,73.23 L471.92,73.66 L473.11,74.37 L474.29,75.33 L475.48,76.54 L476.66,77.95 L477.85,79.54 L479.03,81.28 L480.22,83.12 L481.40,85.04 L482.59,86.99 L483.77,88.95 L484.96,90.89 L486.14,92.77 L487.33,94.58 L488.51,96.30 L489.69,97.90 L490.88,99.39 L492.06,100.75 L493.25,101.98 L494.44,103.08 L495.62,104.05 L496.81,104.91 L497.99,105.65 L499.18,106.29 L500.36,106.83 L501.55,107.29 L502.73,107.68 L503.92,107.99 L505.10,108.26" stroke="#a80e2a" stroke-width="1.35" fill="none"/>
<path d="M434.00,108.90 L435.19,108.61 L436.37,108.26 L437.56,107.83 L438.74,107.32 L439.93,106.72 L441.11,106.01 L442.30,105.18 L443.48,104.23 L444.67,103.15 L445.85,101.92 L447.04,100.56 L448.22,99.05 L449.41,97.40 L450.59,95.61 L451.77,93.71 L452.96,91.70 L454.14,89.61 L455.33,87.45 L456.51,85.28 L457.70,83.10 L458.88,80.97 L460.07,78.92 L461.25,76.99 L462.44,75.23 L463.62,73.66 L464.81,72.32 L466.00,71.25 L467.18,70.46 L468.37,69.98 L469.55,69.82 L470.74,69.98 L471.92,70.46 L473.11,71.25 L474.29,72.32 L475.48,73.66 L476.66,75.23 L477.85,76.99 L479.03,78.92 L480.22,80.97 L481.40,83.10 L482.59,85.28 L483.77,87.45 L484.96,89.61 L486.14,91.70 L487.33,93.71 L488.51,95.61 L489.69,97.40 L490.88,99.05 L492.06,100.56 L493.25,101.92 L494.44,103.15 L495.62,104.23 L496.81,105.18 L497.99,106.01 L499.18,106.72 L500.36,107.32 L501.55,107.83 L502.73,108.26 L503.92,108.61 L505.10,108.90" stroke="#a80e2a" stroke-width="1.35" fill="none"/>
<path d="M434.00,108.58 L435.19,108.30 L436.37,107.97 L437.56,107.56 L438.74,107.08 L439.93,106.50 L441.11,105.83 L442.30,105.04 L443.48,104.14 L444.67,103.11 L445.85,101.95 L447.04,100.65 L448.22,99.22 L449.41,97.65 L450.59,95.96 L451.77,94.15 L452.96,92.24 L454.14,90.25 L455.33,88.20 L456.51,86.13 L457.70,84.07 L458.88,82.05 L460.07,80.10 L461.25,78.27 L462.44,76.59 L463.62,75.10 L464.81,73.83 L466.00,72.81 L467.18,72.06 L468.37,71.61 L469.55,71.45 L470.74,71.61 L471.92,72.06 L473.11,72.81 L474.29,73.83 L475.48,75.10 L476.66,76.59 L477.85,78.27 L479.03,80.10 L480.22,82.05 L481.40,84.07 L482.59,86.13 L483.77,88.20 L484.96,90.25 L486.14,92.24 L487.33,94.15 L488.51,95.96 L489.69,97.65 L490.88,99.22 L492.06,100.65 L493.25,101.95 L494.44,103.11 L495.62,104.14 L496.81,105.04 L497.99,105.83 L499.18,106.50 L500.36,107.08 L501.55,107.56 L502.73,107.97 L503.92,108.30 L505.10,108.58" stroke="#e86a80" stroke-width="0.75" fill="none"/>
<text x="438.00" y="59.70" font-size="7" fill="#2f5aa0" textLength="23.80" lengthAdjust="spacingAndGlyphs" stroke="#2f5aa0" stroke-width="0.07">EtOH(3)</text>
<text x="477.80" y="59.80" font-size="7.2" textLength="15.40" lengthAdjust="spacingAndGlyphs" stroke="#262626" stroke-width="0.07">T-ALL</text>
<text x="494.20" y="56.40" font-size="4.3" textLength="8.60" lengthAdjust="spacingAndGlyphs" stroke="#262626" stroke-width="0.12">#969</text>
<text x="432.40" y="85.90" font-size="7" fill="#c02040" textLength="22.00" lengthAdjust="spacingAndGlyphs" stroke="#c02040" stroke-width="0.07">OHT(3)</text>
<line x1="452.00" y1="99.80" x2="463.40" y2="99.80" stroke="#2f5aa0" stroke-width="1.2"/>
<line x1="452.00" y1="101.50" x2="463.40" y2="101.50" stroke="#2f5aa0" stroke-width="1.2"/>
<text x="465.00" y="103.00" font-size="7.2" fill="#2f5aa0" textLength="23.00" lengthAdjust="spacingAndGlyphs" stroke="#2f5aa0" stroke-width="0.07">Control</text>
<line x1="452.00" y1="107.40" x2="463.40" y2="107.40" stroke="#c02040" stroke-width="1.4"/>
<text x="464.20" y="109.50" font-size="7.2" fill="#c02040" textLength="31.10" lengthAdjust="spacingAndGlyphs" stroke="#c02040" stroke-width="0.07">Cdc73Δ/Δ</text>
<text x="44.80" y="187.80" font-size="8.5" textLength="79.10" lengthAdjust="spacingAndGlyphs" stroke="#262626" stroke-width="0.07">eRNA peaks repressed</text>
<text x="71.10" y="195.90" font-size="8.5" textLength="26.90" lengthAdjust="spacingAndGlyphs" stroke="#262626" stroke-width="0.07">by OHT</text>
<circle cx="80.60" cy="246.00" r="31.00" fill="#d8dff0" stroke="none" stroke-width="0.8"/>
<circle cx="45.00" cy="248.00" r="12.30" fill="#f1e0dc" stroke="none" stroke-width="0.8"/>
<circle cx="45.00" cy="248.00" r="12.30" fill="#dcc3ca" stroke="none" stroke-width="0.8" clip-path="url(#cpE)"/>
<circle cx="80.60" cy="246.00" r="31.00" fill="none" stroke="#3a3036" stroke-width="0.85"/>
<circle cx="45.00" cy="248.00" r="12.30" fill="none" stroke="#3a3036" stroke-width="0.85"/>
<text x="34.00" y="249.60" font-size="6.4" textLength="10.60" lengthAdjust="spacingAndGlyphs" stroke="#262626" stroke-width="0.07">402</text>
<text x="48.00" y="249.60" font-size="6.4" fill="#111" font-weight="bold" textLength="10.50" lengthAdjust="spacingAndGlyphs">224</text>
<text x="77.00" y="249.60" font-size="6.4" textLength="13.80" lengthAdjust="spacingAndGlyphs" stroke="#262626" stroke-width="0.07">5841</text>
<text x="27.00" y="228.60" font-size="6.4" fill="#c4304f" textLength="17.60" lengthAdjust="spacingAndGlyphs" stroke="#c4304f" stroke-width="0.07">Cdc73</text>
<text x="45.00" y="225.20" font-size="4.3" fill="#c4304f" textLength="3.50" lengthAdjust="spacingAndGlyphs" stroke="#c4304f" stroke-width="0.12">f/f</text>
<text x="25.00" y="235.80" font-size="6.4" fill="#c4304f" textLength="14.60" lengthAdjust="spacingAndGlyphs" stroke="#c4304f" stroke-width="0.07">T-ALL</text>
<text x="40.00" y="233.00" font-size="4.3" fill="#c4304f" textLength="8.80" lengthAdjust="spacingAndGlyphs" stroke="#c4304f" stroke-width="0.12">#969</text>
<text x="110.00" y="221.20" font-size="6.4" fill="#4f679c" textLength="18.50" lengthAdjust="spacingAndGlyphs" stroke="#4f679c" stroke-width="0.07">Cdc73</text>
<text x="129.00" y="217.80" font-size="4.3" fill="#4f679c" textLength="4.80" lengthAdjust="spacingAndGlyphs" stroke="#4f679c" stroke-width="0.12">f/f</text>
<text x="107.70" y="228.50" font-size="6.4" fill="#4f679c" textLength="15.30" lengthAdjust="spacingAndGlyphs" stroke="#4f679c" stroke-width="0.07">T-ALL</text>
<text x="124.00" y="225.60" font-size="4.3" fill="#4f679c" textLength="9.80" lengthAdjust="spacingAndGlyphs" stroke="#4f679c" stroke-width="0.12">#970</text>
<text x="170.00" y="187.80" font-size="8.5" textLength="71.50" lengthAdjust="spacingAndGlyphs" stroke="#262626" stroke-width="0.07">eRNA peaks induced</text>
<text x="192.00" y="195.90" font-size="8.5" textLength="26.50" lengthAdjust="spacingAndGlyphs" stroke="#262626" stroke-width="0.07">by OHT</text>
<circle cx="220.70" cy="246.20" r="31.40" fill="#d8dff0" stroke="none" stroke-width="0.8"/>
<circle cx="192.70" cy="246.00" r="21.50" fill="#f1e0dc" stroke="none" stroke-width="0.8"/>
<circle cx="192.70" cy="246.00" r="21.50" fill="#dcc3ca" stroke="none" stroke-width="0.8" clip-path="url(#cpF)"/>
<circle cx="220.70" cy="246.20" r="31.40" fill="none" stroke="#3a3036" stroke-width="0.85"/>
<circle cx="192.70" cy="246.00" r="21.50" fill="none" stroke="#3a3036" stroke-width="0.85"/>
<text x="175.80" y="248.40" font-size="6.4" textLength="11.50" lengthAdjust="spacingAndGlyphs" stroke="#262626" stroke-width="0.07">432</text>
<text x="196.50" y="248.40" font-size="6.4" fill="#111" font-weight="bold" textLength="11.50" lengthAdjust="spacingAndGlyphs">385</text>
<text x="223.00" y="248.40" font-size="6.4" textLength="14.00" lengthAdjust="spacingAndGlyphs" stroke="#262626" stroke-width="0.07">1366</text>
<text x="157.50" y="221.20" font-size="6.4" fill="#c4304f" textLength="19.00" lengthAdjust="spacingAndGlyphs" stroke="#c4304f" stroke-width="0.07">Cdc73</text>
<text x="177.00" y="217.80" font-size="4.3" fill="#c4304f" textLength="3.50" lengthAdjust="spacingAndGlyphs" stroke="#c4304f" stroke-width="0.12">f/f</text>
<text x="155.50" y="228.80" font-size="6.4" fill="#c4304f" textLength="15.00" lengthAdjust="spacingAndGlyphs" stroke="#c4304f" stroke-width="0.07">T-ALL</text>
<text x="171.00" y="226.00" font-size="4.3" fill="#c4304f" textLength="8.50" lengthAdjust="spacingAndGlyphs" stroke="#c4304f" stroke-width="0.12">#969</text>
<text x="243.80" y="214.20" font-size="6.4" fill="#4f679c" textLength="19.70" lengthAdjust="spacingAndGlyphs" stroke="#4f679c" stroke-width="0.07">Cdc73</text>
<text x="264.00" y="210.80" font-size="4.3" fill="#4f679c" textLength="4.50" lengthAdjust="spacingAndGlyphs" stroke="#4f679c" stroke-width="0.12">f/f</text>
<text x="242.30" y="222.00" font-size="6.4" fill="#4f679c" textLength="15.20" lengthAdjust="spacingAndGlyphs" stroke="#4f679c" stroke-width="0.07">T-ALL</text>
<text x="258.50" y="219.00" font-size="4.3" fill="#4f679c" textLength="9.20" lengthAdjust="spacingAndGlyphs" stroke="#4f679c" stroke-width="0.12">#970</text>
<rect x="322.90" y="200.60" width="61.10" height="60.80" fill="#ececec" stroke="none" stroke-width="0.8"/>
<line x1="330.10" y1="200.60" x2="330.10" y2="261.40" stroke="#fcfcfc" stroke-width="0.6"/>
<line x1="338.80" y1="200.60" x2="338.80" y2="261.40" stroke="#f4f4f4" stroke-width="0.35"/>
<line x1="347.50" y1="200.60" x2="347.50" y2="261.40" stroke="#fcfcfc" stroke-width="0.6"/>
<line x1="356.20" y1="200.60" x2="356.20" y2="261.40" stroke="#f4f4f4" stroke-width="0.35"/>
<line x1="364.90" y1="200.60" x2="364.90" y2="261.40" stroke="#fcfcfc" stroke-width="0.6"/>
<line x1="373.60" y1="200.60" x2="373.60" y2="261.40" stroke="#f4f4f4" stroke-width="0.35"/>
<line x1="382.30" y1="200.60" x2="382.30" y2="261.40" stroke="#fcfcfc" stroke-width="0.6"/>
<line x1="322.90" y1="255.70" x2="384.00" y2="255.70" stroke="#f4f4f4" stroke-width="0.35"/>
<line x1="322.90" y1="249.10" x2="384.00" y2="249.10" stroke="#fcfcfc" stroke-width="0.6"/>
<line x1="322.90" y1="242.50" x2="384.00" y2="242.50" stroke="#f4f4f4" stroke-width="0.35"/>
<line x1="322.90" y1="235.90" x2="384.00" y2="235.90" stroke="#fcfcfc" stroke-width="0.6"/>
<line x1="322.90" y1="229.30" x2="384.00" y2="229.30" stroke="#f4f4f4" stroke-width="0.35"/>
<line x1="322.90" y1="222.70" x2="384.00" y2="222.70" stroke="#fcfcfc" stroke-width="0.6"/>
<line x1="322.90" y1="216.10" x2="384.00" y2="216.10" stroke="#f4f4f4" stroke-width="0.35"/>
<line x1="322.90" y1="209.50" x2="384.00" y2="209.50" stroke="#fcfcfc" stroke-width="0.6"/>
<line x1="322.90" y1="202.90" x2="384.00" y2="202.90" stroke="#f4f4f4" stroke-width="0.35"/>
<line x1="322.90" y1="235.90" x2="384.00" y2="235.90" stroke="#bcbcbc" stroke-width="0.8"/>
<line x1="347.50" y1="200.60" x2="347.50" y2="261.40" stroke="#a0a0a0" stroke-width="0.6"/>
<line x1="319.90" y1="209.50" x2="322.40" y2="209.50" stroke="#333" stroke-width="0.7"/>
<text x="315.90" y="211.80" font-size="6.5" fill="#333" text-anchor="end" stroke="#333" stroke-width="0.03">4</text>
<line x1="319.90" y1="222.70" x2="322.40" y2="222.70" stroke="#333" stroke-width="0.7"/>
<text x="315.90" y="225.00" font-size="6.5" fill="#333" text-anchor="end" stroke="#333" stroke-width="0.03">2</text>
<line x1="319.90" y1="235.90" x2="322.40" y2="235.90" stroke="#333" stroke-width="0.7"/>
<text x="315.90" y="238.20" font-size="6.5" fill="#333" text-anchor="end" stroke="#333" stroke-width="0.03">0</text>
<line x1="319.90" y1="249.10" x2="322.40" y2="249.10" stroke="#333" stroke-width="0.7"/>
<text x="315.90" y="251.40" font-size="6.5" fill="#333" text-anchor="end" stroke="#333" stroke-width="0.03">−2</text>
<line x1="330.10" y1="262.40" x2="330.10" y2="264.60" stroke="#333" stroke-width="0.7"/>
<text x="330.10" y="273.80" font-size="6.5" fill="#333" text-anchor="middle" stroke="#333" stroke-width="0.03">−2</text>
<line x1="347.50" y1="262.40" x2="347.50" y2="264.60" stroke="#333" stroke-width="0.7"/>
<text x="347.50" y="273.80" font-size="6.5" fill="#333" text-anchor="middle" stroke="#333" stroke-width="0.03">0</text>
<line x1="364.90" y1="262.40" x2="364.90" y2="264.60" stroke="#333" stroke-width="0.7"/>
<text x="364.90" y="273.80" font-size="6.5" fill="#333" text-anchor="middle" stroke="#333" stroke-width="0.03">2</text>
<line x1="382.30" y1="262.40" x2="382.30" y2="264.60" stroke="#333" stroke-width="0.7"/>
<text x="382.30" y="273.80" font-size="6.5" fill="#333" text-anchor="middle" stroke="#333" stroke-width="0.03">4</text>
<text x="338.00" y="285.10" font-size="8.6" textLength="28.20" lengthAdjust="spacingAndGlyphs" stroke="#262626" stroke-width="0.07">H3K27ac</text>
<text x="326.30" y="295.10" font-size="8.6" textLength="51.60" lengthAdjust="spacingAndGlyphs" stroke="#262626" stroke-width="0.07">log2 fold change</text>
<text x="294.60" y="230.60" font-size="8.4" text-anchor="middle" textLength="17.50" lengthAdjust="spacingAndGlyphs" transform="rotate(-90 294.60 230.60)" stroke="#262626" stroke-width="0.07">eRNA</text>
<text x="303.50" y="230.60" font-size="7.9" text-anchor="middle" textLength="51.70" lengthAdjust="spacingAndGlyphs" transform="rotate(-90 303.50 230.60)" stroke="#262626" stroke-width="0.07">log2 fold change</text>
<text x="329.45" y="187.90" font-size="8.5" textLength="45.00" lengthAdjust="spacingAndGlyphs" stroke="#262626" stroke-width="0.07">All intergenic</text>
<text x="314.15" y="196.10" font-size="8.5" textLength="75.60" lengthAdjust="spacingAndGlyphs" stroke="#262626" stroke-width="0.07">H3K27ac/eRNA peaks</text>
<text x="358.00" y="208.00" font-size="7.2" textLength="23.00" lengthAdjust="spacingAndGlyphs" stroke="#262626" stroke-width="0.07">Control</text>
<text x="363.50" y="216.30" font-size="7.2" textLength="17.50" lengthAdjust="spacingAndGlyphs" stroke="#262626" stroke-width="0.07">T-ALL</text>
<path d="M347.5 236.0h0.7M346.2 237.6h0.7M347.7 233.2h0.7M347.8 234.6h0.7M346.8 237.6h0.7M349.8 236.2h0.7M347.5 237.3h0.7M349.6 235.4h0.7M345.8 236.8h0.7M347.5 238.7h0.7M348.4 239.5h0.7M344.8 235.8h0.7M343.0 238.5h0.7M345.5 233.2h0.7M347.6 233.3h0.7M347.2 234.4h0.7M344.2 234.3h0.7M347.8 243.5h0.7M347.3 234.0h0.7M348.2 233.1h0.7M345.7 236.6h0.7M346.1 231.0h0.7M347.1 237.2h0.7M348.0 235.2h0.7M345.9 236.3h0.7M347.6 235.6h0.7M347.3 236.4h0.7M348.2 235.1h0.7M345.8 240.7h0.7M348.2 231.6h0.7M347.3 234.1h0.7M348.1 229.4h0.7M348.4 237.2h0.7M347.8 235.2h0.7M348.3 235.7h0.7M345.2 233.6h0.7M346.1 235.6h0.7M349.0 238.2h0.7M347.3 233.8h0.7M348.9 235.7h0.7M348.4 228.7h0.7M347.7 234.2h0.7M346.0 239.2h0.7M346.6 230.7h0.7M348.9 235.0h0.7M349.5 235.1h0.7M348.2 235.2h0.7M346.6 241.0h0.7M347.2 233.0h0.7M349.1 236.4h0.7M348.0 234.7h0.7M352.9 236.8h0.7M346.7 231.8h0.7M350.0 240.0h0.7M347.0 234.5h0.7M346.2 235.7h0.7M346.3 233.0h0.7M348.9 239.2h0.7M347.7 235.2h0.7M347.2 235.5h0.7M347.3 237.2h0.7M346.7 237.9h0.7M347.7 238.8h0.7M346.2 240.9h0.7M344.5 241.0h0.7M347.5 237.3h0.7M348.4 236.6h0.7M347.8 236.6h0.7M349.2 235.6h0.7M345.4 240.2h0.7M347.1 234.9h0.7M346.5 238.7h0.7M346.0 237.4h0.7M347.5 238.0h0.7M349.4 236.3h0.7M347.9 235.0h0.7M343.7 230.6h0.7M349.3 236.7h0.7M348.6 236.9h0.7M348.0 233.3h0.7M347.1 232.8h0.7M347.8 231.8h0.7M346.3 235.4h0.7M348.3 238.3h0.7M347.7 238.8h0.7M346.0 234.0h0.7M346.8 234.8h0.7M345.2 235.7h0.7M349.2 235.1h0.7M347.7 230.3h0.7M347.1 233.2h0.7M345.7 231.7h0.7M346.9 234.0h0.7M346.6 235.8h0.7M346.8 235.4h0.7M345.4 237.3h0.7M347.1 235.7h0.7M348.1 237.1h0.7M346.6 236.9h0.7M349.7 236.0h0.7M347.9 237.5h0.7M339.1 236.9h0.7M349.0 238.9h0.7M347.5 237.9h0.7M349.3 236.0h0.7M347.6 235.3h0.7M346.2 238.4h0.7M342.6 236.7h0.7M352.0 236.7h0.7M347.8 236.9h0.7M347.2 234.9h0.7M346.1 233.7h0.7M345.5 233.9h0.7M347.6 240.2h0.7M346.1 230.2h0.7M347.4 233.1h0.7M348.7 226.0h0.7M349.5 236.3h0.7M347.2 237.7h0.7M349.1 234.4h0.7M348.7 237.4h0.7M347.6 222.6h0.7M345.9 232.3h0.7M346.0 233.5h0.7M347.6 229.0h0.7M346.6 246.1h0.7M346.8 233.3h0.7M347.5 232.4h0.7M348.2 234.2h0.7M346.8 242.8h0.7M348.1 237.1h0.7M345.2 237.7h0.7M346.3 235.4h0.7M351.8 241.7h0.7M349.9 236.0h0.7M349.2 239.2h0.7M345.1 237.5h0.7M347.6 234.3h0.7M348.0 235.4h0.7M344.8 237.2h0.7M347.6 235.2h0.7M346.5 238.0h0.7M345.6 235.4h0.7M346.2 232.6h0.7M351.1 232.3h0.7M351.2 235.2h0.7M345.4 231.4h0.7M346.5 230.8h0.7M344.0 237.3h0.7M346.3 234.1h0.7M348.8 232.6h0.7M348.4 236.8h0.7M347.9 237.7h0.7M346.5 237.2h0.7M346.4 234.7h0.7M346.4 234.8h0.7M345.8 237.9h0.7M348.5 236.9h0.7M347.9 239.7h0.7M348.1 236.9h0.7M347.8 235.7h0.7M347.0 242.1h0.7M349.0 233.2h0.7M348.3 236.3h0.7M348.6 234.1h0.7M346.8 233.2h0.7M348.5 235.6h0.7M342.4 235.7h0.7M347.9 239.2h0.7M347.1 236.0h0.7M347.6 234.2h0.7M347.6 236.1h0.7M351.6 232.8h0.7M350.2 239.7h0.7M347.7 236.8h0.7M348.0 234.1h0.7M347.0 235.7h0.7M345.6 234.0h0.7M350.4 237.7h0.7M348.9 234.7h0.7M348.7 222.5h0.7M340.3 236.1h0.7M348.6 238.0h0.7M348.4 231.9h0.7M346.2 233.4h0.7M348.7 241.1h0.7M353.3 236.8h0.7M348.6 235.4h0.7M348.5 237.3h0.7M342.2 234.6h0.7M347.1 232.7h0.7M349.1 235.8h0.7M345.4 233.8h0.7M349.3 238.2h0.7M345.3 230.1h0.7M346.1 237.6h0.7M347.2 237.7h0.7M350.9 235.1h0.7M348.8 234.8h0.7M348.6 233.8h0.7M349.8 235.5h0.7M346.9 236.8h0.7M348.7 234.1h0.7M346.9 237.8h0.7M347.2 239.1h0.7M350.1 232.9h0.7M346.6 236.8h0.7M348.0 233.6h0.7M349.0 235.3h0.7M348.9 235.5h0.7M348.8 240.7h0.7M348.6 237.2h0.7M348.9 234.0h0.7M347.8 236.4h0.7M350.9 234.3h0.7M347.7 235.3h0.7M345.9 235.9h0.7M346.9 245.0h0.7M350.0 238.6h0.7M347.7 237.3h0.7M349.1 235.9h0.7M349.6 236.8h0.7M347.8 240.6h0.7M348.3 237.7h0.7M348.6 232.9h0.7M347.9 231.0h0.7M344.9 225.5h0.7M350.7 236.3h0.7M346.6 233.5h0.7M346.0 235.4h0.7M351.7 239.1h0.7M345.1 234.9h0.7M349.5 240.6h0.7M347.5 235.7h0.7M350.5 236.3h0.7M349.3 235.1h0.7M346.3 229.5h0.7M344.9 237.6h0.7M346.6 238.7h0.7M348.8 238.7h0.7M351.1 230.0h0.7M345.4 237.5h0.7M351.2 237.2h0.7M348.4 237.9h0.7M350.1 235.5h0.7M347.0 235.9h0.7M344.5 233.6h0.7M346.0 233.9h0.7M348.3 233.8h0.7M346.2 238.8h0.7M347.3 234.0h0.7M346.3 237.1h0.7M346.9 235.8h0.7M346.4 230.7h0.7M348.3 237.9h0.7M346.3 239.3h0.7M347.8 241.9h0.7M349.1 234.8h0.7M348.9 236.5h0.7M347.6 236.4h0.7M349.6 236.1h0.7M350.6 237.3h0.7M349.1 237.3h0.7M347.8 234.6h0.7M351.3 239.7h0.7M350.4 232.3h0.7M346.3 234.3h0.7M348.5 237.6h0.7M347.1 236.6h0.7M348.7 234.1h0.7M346.0 232.9h0.7M347.8 239.6h0.7M347.0 235.7h0.7M347.0 236.6h0.7M347.3 234.5h0.7M350.9 236.9h0.7M353.0 235.4h0.7M347.7 236.5h0.7M348.0 237.7h0.7M347.9 237.5h0.7M344.9 233.7h0.7M347.2 235.3h0.7M348.6 237.6h0.7M347.6 236.1h0.7M346.7 236.2h0.7M349.1 246.2h0.7M348.1 242.1h0.7M350.5 233.4h0.7M347.7 236.2h0.7M347.4 234.5h0.7M347.9 238.1h0.7M348.5 235.8h0.7M346.7 234.8h0.7M348.8 232.1h0.7M347.6 235.1h0.7M347.2 235.5h0.7M349.5 233.7h0.7M346.2 237.7h0.7M344.0 229.8h0.7M347.7 236.7h0.7M347.5 233.0h0.7M348.3 239.7h0.7M347.9 234.6h0.7M352.1 237.8h0.7M349.2 237.7h0.7M346.6 254.3h0.7M349.4 235.5h0.7M347.9 231.7h0.7M344.6 236.8h0.7M348.5 235.0h0.7M348.7 236.0h0.7M347.9 236.4h0.7M347.7 233.9h0.7M346.4 237.2h0.7M346.0 226.5h0.7M348.3 237.4h0.7M346.4 237.5h0.7M350.5 241.1h0.7M346.2 235.6h0.7M343.9 239.6h0.7M347.3 248.0h0.7M347.9 234.0h0.7M344.3 236.2h0.7M348.0 236.2h0.7M345.5 237.2h0.7M342.8 237.3h0.7M349.6 236.0h0.7M345.2 226.3h0.7M347.8 239.2h0.7M345.3 238.0h0.7M347.2 233.2h0.7M345.2 232.3h0.7M350.2 237.7h0.7M347.3 237.3h0.7M348.2 235.6h0.7M348.5 233.5h0.7M348.1 238.2h0.7M344.4 234.8h0.7M347.2 229.5h0.7M348.0 245.1h0.7M348.2 236.0h0.7M345.8 236.6h0.7M349.2 236.3h0.7M348.3 240.2h0.7M347.7 237.8h0.7M348.0 236.9h0.7M345.9 237.1h0.7M346.5 237.1h0.7M348.8 235.2h0.7M348.2 232.2h0.7M351.5 245.7h0.7M351.5 239.1h0.7M346.6 240.7h0.7M346.4 238.5h0.7M346.6 237.0h0.7M349.9 230.4h0.7M346.8 237.2h0.7M347.6 235.1h0.7M344.0 236.8h0.7M349.5 234.0h0.7M347.2 232.4h0.7M349.5 236.6h0.7M343.8 228.7h0.7M345.4 234.6h0.7M346.5 236.3h0.7M346.9 237.1h0.7M346.4 230.5h0.7M344.1 237.9h0.7M342.3 235.3h0.7M347.7 234.7h0.7M348.2 235.0h0.7M345.9 235.5h0.7M347.4 238.6h0.7M345.2 239.7h0.7M348.3 237.0h0.7M348.2 241.5h0.7M345.4 235.0h0.7M348.0 233.6h0.7M350.5 234.5h0.7M346.2 237.3h0.7M348.4 239.2h0.7M344.1 236.4h0.7M346.1 238.0h0.7M346.5 240.8h0.7M350.2 237.2h0.7M348.8 235.6h0.7M347.7 237.1h0.7M347.3 237.7h0.7M348.0 237.7h0.7M346.7 236.4h0.7M347.8 236.4h0.7M347.6 237.0h0.7M346.7 228.0h0.7M347.3 232.0h0.7M350.5 235.4h0.7M346.9 231.6h0.7M347.1 240.8h0.7M347.8 238.1h0.7M348.5 235.5h0.7M348.2 233.6h0.7M346.6 240.7h0.7M351.3 239.9h0.7M347.9 236.2h0.7M346.7 236.9h0.7M339.4 242.4h0.7M347.8 235.8h0.7M345.0 235.5h0.7M347.4 236.2h0.7M347.2 238.9h0.7M346.0 236.1h0.7M346.0 223.5h0.7M343.7 244.2h0.7M344.7 235.7h0.7M346.3 235.7h0.7M346.6 239.4h0.7M347.9 238.8h0.7M349.5 237.1h0.7M349.9 235.8h0.7M348.3 234.1h0.7M351.4 254.9h0.7M343.4 239.9h0.7M346.9 237.3h0.7M347.1 218.7h0.7M345.7 238.6h0.7M348.9 235.9h0.7M349.3 239.8h0.7M348.5 240.5h0.7M347.6 235.2h0.7M347.1 234.8h0.7M345.8 230.4h0.7M347.2 236.9h0.7M345.0 233.7h0.7M344.5 229.8h0.7M350.3 236.6h0.7M348.0 234.6h0.7M346.5 231.2h0.7M353.5 241.6h0.7M348.9 235.7h0.7M349.5 236.5h0.7M344.1 230.0h0.7M348.4 243.3h0.7M351.3 236.1h0.7M346.9 233.7h0.7M346.9 237.2h0.7M347.9 235.4h0.7M349.1 234.2h0.7M349.5 236.6h0.7M347.3 228.6h0.7M348.0 232.1h0.7M345.5 241.5h0.7M346.3 235.1h0.7M347.8 234.6h0.7M346.9 237.9h0.7M346.3 233.7h0.7M350.0 235.9h0.7M348.6 234.1h0.7M348.6 235.2h0.7M347.3 232.7h0.7M347.1 235.8h0.7M344.5 236.2h0.7M350.3 236.2h0.7M344.7 232.8h0.7M347.1 231.7h0.7M349.8 236.0h0.7M347.8 234.6h0.7M349.1 235.7h0.7M348.1 237.7h0.7M345.9 231.0h0.7M353.3 234.2h0.7M348.5 234.6h0.7M349.6 238.5h0.7M348.7 235.8h0.7M345.8 231.4h0.7M352.6 232.7h0.7M347.3 236.0h0.7M349.8 231.2h0.7M347.3 240.1h0.7M348.2 234.8h0.7M343.7 235.4h0.7M347.7 228.4h0.7M348.1 234.1h0.7M345.7 236.8h0.7M348.3 233.6h0.7M349.9 238.6h0.7M347.2 235.8h0.7M344.9 235.2h0.7M348.0 237.3h0.7M343.7 235.2h0.7M348.3 233.1h0.7M346.1 243.0h0.7M344.8 235.6h0.7M350.9 235.9h0.7M347.3 235.3h0.7M346.7 234.7h0.7M348.7 236.4h0.7M348.0 236.2h0.7M346.2 232.0h0.7M349.9 240.8h0.7M348.3 232.3h0.7M347.8 236.6h0.7M347.4 244.3h0.7M345.7 239.3h0.7M347.3 237.2h0.7M349.9 235.5h0.7M346.0 233.6h0.7M347.8 238.4h0.7M349.5 236.0h0.7M348.1 232.9h0.7M346.3 234.1h0.7M347.4 240.5h0.7M349.2 236.7h0.7M337.8 237.8h0.7M347.1 230.0h0.7M350.3 235.5h0.7M347.9 233.0h0.7M348.6 233.2h0.7M349.5 237.0h0.7M348.6 233.8h0.7M347.3 235.2h0.7M348.5 235.5h0.7M349.0 234.8h0.7M347.7 231.0h0.7M347.2 234.9h0.7M343.8 235.2h0.7M349.1 235.3h0.7M347.5 237.1h0.7M347.8 227.4h0.7M345.0 238.6h0.7M348.1 236.7h0.7M347.1 235.0h0.7M345.5 238.4h0.7M347.6 237.0h0.7M342.7 235.1h0.7M345.5 231.1h0.7M347.8 237.6h0.7M348.4 235.4h0.7M347.5 232.5h0.7M346.9 236.6h0.7M350.6 234.1h0.7M347.3 231.9h0.7M348.7 235.0h0.7M350.4 235.7h0.7M350.2 238.1h0.7M345.3 230.7h0.7M350.2 235.4h0.7M350.9 241.2h0.7M347.8 237.4h0.7M348.1 236.4h0.7M347.1 234.8h0.7M347.6 236.0h0.7M347.3 242.7h0.7M346.3 237.5h0.7M347.1 236.5h0.7M347.7 239.1h0.7M342.4 236.7h0.7M348.3 235.3h0.7M347.6 235.4h0.7M346.8 238.2h0.7M346.8 242.4h0.7M346.8 231.6h0.7M343.2 233.0h0.7M344.6 237.8h0.7M347.1 233.0h0.7M346.4 237.0h0.7M347.6 236.7h0.7M345.4 233.6h0.7M348.4 235.2h0.7M347.5 230.8h0.7M346.0 231.7h0.7M347.8 236.7h0.7M347.1 232.0h0.7M350.1 235.9h0.7M345.1 232.5h0.7M356.3 232.4h0.7M348.5 238.4h0.7M347.8 238.3h0.7M348.9 233.0h0.7M346.7 235.6h0.7M352.2 234.6h0.7M348.9 238.7h0.7M347.1 237.6h0.7M347.8 240.4h0.7M351.5 237.8h0.7M347.0 234.2h0.7M350.9 234.1h0.7M347.1 238.4h0.7M344.5 236.9h0.7M344.9 239.3h0.7M347.0 236.2h0.7M345.2 239.1h0.7M349.0 237.2h0.7M349.2 233.1h0.7M348.6 240.0h0.7M354.9 228.3h0.7M344.9 237.6h0.7M343.3 237.2h0.7M347.3 235.7h0.7M349.9 234.2h0.7M345.8 237.3h0.7M350.3 234.2h0.7M351.5 231.3h0.7M346.2 237.7h0.7M347.7 237.4h0.7M348.0 233.2h0.7M345.3 232.9h0.7M343.8 237.7h0.7M349.9 232.3h0.7M348.3 236.7h0.7M348.5 247.1h0.7M345.5 236.4h0.7M347.7 239.2h0.7M347.1 233.0h0.7M345.9 237.9h0.7M347.1 234.0h0.7M347.3 238.2h0.7M347.8 235.8h0.7M347.9 235.8h0.7M350.3 233.6h0.7M346.3 235.5h0.7M349.2 239.6h0.7M350.9 244.6h0.7M350.2 237.6h0.7M348.2 234.6h0.7M349.1 236.7h0.7M349.7 233.6h0.7M346.2 236.4h0.7M345.9 236.6h0.7M346.4 236.0h0.7M346.3 236.0h0.7M347.7 236.1h0.7M346.4 235.0h0.7M346.9 237.2h0.7M348.2 236.9h0.7M346.9 235.7h0.7M349.2 237.9h0.7M348.8 229.6h0.7M344.5 236.4h0.7M347.0 243.7h0.7M348.5 237.0h0.7M350.6 234.1h0.7M349.6 233.2h0.7M348.6 237.2h0.7M346.5 236.9h0.7M346.7 233.8h0.7M347.6 236.0h0.7M348.4 236.4h0.7M350.1 234.3h0.7M347.7 232.6h0.7M348.0 237.5h0.7M351.2 236.3h0.7M347.6 230.9h0.7M355.7 236.6h0.7M349.0 237.0h0.7M343.2 236.3h0.7M348.8 236.0h0.7M348.6 229.4h0.7M352.5 229.9h0.7M347.6 235.6h0.7M348.3 236.3h0.7M348.3 235.4h0.7M347.1 239.8h0.7M348.1 236.3h0.7M347.4 232.9h0.7M348.0 238.2h0.7M347.1 235.7h0.7M348.1 236.7h0.7M347.9 241.1h0.7M344.8 234.1h0.7M349.9 233.6h0.7M352.1 235.4h0.7M347.8 233.1h0.7M349.3 234.8h0.7M349.6 236.5h0.7M343.8 237.9h0.7M349.4 237.7h0.7M346.7 238.0h0.7M347.6 236.9h0.7M346.5 236.5h0.7M353.1 235.1h0.7M345.8 238.5h0.7M347.0 231.9h0.7M346.5 237.7h0.7M345.9 237.7h0.7M349.2 236.7h0.7M348.3 234.4h0.7M351.5 231.8h0.7M351.4 233.2h0.7M346.5 234.3h0.7M347.2 237.6h0.7M347.7 234.8h0.7M347.5 235.8h0.7M349.3 234.9h0.7M347.5 237.4h0.7M347.1 235.9h0.7M345.7 231.9h0.7M347.8 233.1h0.7M345.8 237.2h0.7M341.4 233.5h0.7M348.9 236.5h0.7M347.3 236.1h0.7M347.3 236.1h0.7M349.9 234.6h0.7M346.4 235.6h0.7M346.2 232.9h0.7M355.6 238.3h0.7M343.7 240.1h0.7M343.5 235.4h0.7M347.3 235.1h0.7M348.0 236.2h0.7M347.7 227.1h0.7M348.6 232.8h0.7M345.9 236.4h0.7M347.7 234.3h0.7M345.5 237.8h0.7M348.8 240.4h0.7M348.8 235.1h0.7M347.6 233.8h0.7M350.1 235.4h0.7M347.2 240.1h0.7M346.8 239.1h0.7M348.2 234.1h0.7M346.5 228.9h0.7M348.2 238.1h0.7M348.7 241.5h0.7M345.2 234.1h0.7M347.3 241.3h0.7M347.6 237.9h0.7M351.9 234.1h0.7M348.8 236.8h0.7M348.0 237.9h0.7M347.2 237.4h0.7M347.6 240.1h0.7M342.2 236.6h0.7M348.3 233.4h0.7M351.9 235.3h0.7M347.2 245.9h0.7M349.2 229.5h0.7M349.6 237.5h0.7M347.2 234.7h0.7M351.0 238.7h0.7M346.8 234.1h0.7M347.5 234.6h0.7M346.9 239.9h0.7M348.6 238.5h0.7M349.2 238.8h0.7M347.5 231.9h0.7M347.3 232.2h0.7M345.5 238.4h0.7M348.6 232.8h0.7M345.3 234.2h0.7M346.6 229.7h0.7M342.6 238.3h0.7M348.7 235.7h0.7M345.2 234.1h0.7M349.1 234.6h0.7M348.4 235.1h0.7M347.8 239.7h0.7M345.2 236.6h0.7M346.3 238.3h0.7M348.9 234.3h0.7M346.7 235.0h0.7M347.2 236.2h0.7M346.6 237.9h0.7M349.7 238.1h0.7M347.3 237.7h0.7M345.9 231.9h0.7M349.4 236.5h0.7M348.2 235.2h0.7M346.4 233.7h0.7M346.5 235.4h0.7M348.5 235.6h0.7M348.4 234.1h0.7M349.2 235.5h0.7M348.7 235.9h0.7M349.0 237.8h0.7M346.8 235.2h0.7M349.5 235.0h0.7M344.1 238.4h0.7M348.1 236.2h0.7M345.8 240.4h0.7M348.1 239.2h0.7M348.1 236.3h0.7M345.2 235.6h0.7M346.2 240.1h0.7M346.8 235.8h0.7M345.2 234.5h0.7M350.7 235.0h0.7M352.0 238.1h0.7M344.8 232.4h0.7M355.5 233.6h0.7M349.0 235.2h0.7M347.5 236.2h0.7M349.3 233.1h0.7M349.6 235.5h0.7M345.6 238.4h0.7M346.9 231.6h0.7M347.8 235.5h0.7M348.0 236.0h0.7M347.9 236.5h0.7M348.2 237.4h0.7M345.3 236.6h0.7M348.1 235.1h0.7M346.9 237.3h0.7M347.7 237.7h0.7M349.5 240.2h0.7M347.4 235.4h0.7M352.6 234.3h0.7M348.7 236.0h0.7M346.2 229.5h0.7M348.9 233.8h0.7M349.7 234.2h0.7M345.7 234.0h0.7M347.5 237.6h0.7M348.1 241.9h0.7M353.6 237.2h0.7M347.9 234.9h0.7M348.8 241.6h0.7M344.4 236.2h0.7M348.4 237.0h0.7M348.0 236.2h0.7M345.5 236.1h0.7M347.0 235.1h0.7M348.3 239.0h0.7M346.9 234.8h0.7M340.8 239.2h0.7M350.1 231.4h0.7M346.7 233.6h0.7M348.3 237.8h0.7M346.9 235.0h0.7M349.9 242.3h0.7M350.3 233.0h0.7M347.4 238.1h0.7M349.0 239.9h0.7M348.4 231.0h0.7M348.3 235.7h0.7M349.2 246.2h0.7M346.5 234.2h0.7M342.4 235.0h0.7M350.1 231.8h0.7M347.8 240.8h0.7M347.2 236.6h0.7M348.4 238.7h0.7M355.0 239.0h0.7M345.8 234.9h0.7M346.5 236.7h0.7M344.3 240.3h0.7M348.4 235.2h0.7M347.4 237.9h0.7M347.8 235.9h0.7M346.2 234.4h0.7M349.7 236.2h0.7M347.7 240.1h0.7M348.4 233.8h0.7M354.2 235.5h0.7M346.9 241.9h0.7M347.2 235.2h0.7M347.2 230.5h0.7M348.5 234.6h0.7M345.0 235.4h0.7M349.1 235.6h0.7M351.6 236.4h0.7M348.0 236.3h0.7M344.7 231.3h0.7M346.5 236.5h0.7M346.6 237.0h0.7M347.5 237.1h0.7M346.2 234.6h0.7M354.7 237.3h0.7M346.7 234.6h0.7M348.0 235.4h0.7M347.3 231.3h0.7M343.5 237.3h0.7M347.3 234.9h0.7M343.1 237.2h0.7M349.0 235.2h0.7M347.2 236.0h0.7M346.6 233.4h0.7M343.1 237.1h0.7M347.0 239.9h0.7M348.2 239.1h0.7M349.0 235.5h0.7M344.9 238.8h0.7M348.9 236.8h0.7M346.3 237.3h0.7M348.8 230.7h0.7M348.6 233.7h0.7M346.8 237.7h0.7M347.9 236.9h0.7M345.6 233.5h0.7M349.1 236.0h0.7M352.0 224.7h0.7M348.4 235.7h0.7M346.7 236.2h0.7M343.3 230.2h0.7M350.3 240.6h0.7M350.3 236.1h0.7M348.1 238.6h0.7M346.3 238.5h0.7M347.1 239.3h0.7M345.2 239.5h0.7M342.3 237.2h0.7M348.7 237.2h0.7M347.8 237.2h0.7M346.8 236.6h0.7M348.6 236.9h0.7M352.9 237.6h0.7M346.9 235.9h0.7M346.0 233.5h0.7M348.6 237.0h0.7M350.6 241.5h0.7M347.8 232.6h0.7M346.4 234.8h0.7M345.2 236.0h0.7M349.1 246.0h0.7M347.7 240.3h0.7M346.1 238.7h0.7M346.9 234.6h0.7M349.1 236.0h0.7M347.1 231.0h0.7M347.0 238.5h0.7M351.4 236.3h0.7M348.2 237.1h0.7M348.9 235.8h0.7M345.7 237.7h0.7M346.3 235.9h0.7M344.3 234.1h0.7M341.1 234.6h0.7M347.2 233.8h0.7M347.5 238.7h0.7M348.6 235.7h0.7M349.3 237.4h0.7M346.6 234.9h0.7M352.6 238.8h0.7M346.2 234.9h0.7M345.7 239.7h0.7M347.4 232.4h0.7M346.1 238.0h0.7M347.8 236.4h0.7M348.3 234.6h0.7M347.7 235.7h0.7M345.7 235.7h0.7M346.6 234.0h0.7M352.2 235.3h0.7M345.9 240.8h0.7M348.2 237.4h0.7M348.1 234.2h0.7M347.6 231.9h0.7M347.3 235.6h0.7M348.1 232.6h0.7M347.5 234.2h0.7M348.1 232.4h0.7M351.7 236.7h0.7M345.4 237.9h0.7M347.2 235.2h0.7M347.8 238.7h0.7M348.3 235.3h0.7M345.9 235.9h0.7M349.4 234.0h0.7M346.4 252.4h0.7M348.5 236.0h0.7M347.5 232.7h0.7M348.1 237.7h0.7M349.7 234.0h0.7M348.4 233.5h0.7M346.7 232.8h0.7M344.9 236.9h0.7M348.8 232.8h0.7M345.0 227.1h0.7M348.9 236.1h0.7M347.1 235.8h0.7M345.8 231.5h0.7M344.8 230.4h0.7M346.5 235.7h0.7M349.2 237.3h0.7M349.3 232.8h0.7M347.5 236.2h0.7M347.1 235.5h0.7M346.7 235.8h0.7M347.2 236.0h0.7M347.7 237.5h0.7M345.2 233.5h0.7M346.2 235.9h0.7M348.1 238.1h0.7M348.4 238.1h0.7M349.4 240.0h0.7M348.9 232.2h0.7M346.6 242.8h0.7M352.5 236.9h0.7M346.8 236.0h0.7M344.3 234.3h0.7M349.7 231.5h0.7M347.3 238.1h0.7M344.8 228.8h0.7M346.8 238.4h0.7M349.9 236.3h0.7M345.0 236.3h0.7M350.4 233.8h0.7M349.6 234.8h0.7M348.3 231.1h0.7M347.4 237.4h0.7M345.3 232.5h0.7M351.4 240.5h0.7M355.5 236.6h0.7M351.9 237.0h0.7M347.8 231.8h0.7M347.7 237.0h0.7M347.8 239.0h0.7M352.5 236.3h0.7M349.3 234.9h0.7M345.3 232.4h0.7M348.1 233.9h0.7M346.5 235.2h0.7M344.6 236.4h0.7M347.2 240.2h0.7M346.7 232.7h0.7M344.2 240.8h0.7M355.0 235.6h0.7M357.2 230.9h0.7M345.3 238.8h0.7M347.5 228.1h0.7M347.8 237.8h0.7M347.3 235.2h0.7M344.8 235.4h0.7M348.1 238.5h0.7M351.4 234.2h0.7M345.9 237.3h0.7M346.8 232.7h0.7M346.9 237.3h0.7M349.3 240.9h0.7M346.8 232.2h0.7M350.0 232.4h0.7M346.3 236.8h0.7M347.9 233.4h0.7M349.2 238.6h0.7M349.4 242.0h0.7M349.2 236.5h0.7M352.1 234.6h0.7M349.6 235.6h0.7M349.5 236.5h0.7M345.3 233.7h0.7M346.2 237.6h0.7M349.9 237.9h0.7M347.0 238.9h0.7M349.7 229.5h0.7M347.8 233.4h0.7M347.8 235.5h0.7M347.1 234.6h0.7M348.2 236.3h0.7M345.3 238.8h0.7M347.2 238.0h0.7M344.9 237.1h0.7M347.4 234.2h0.7M348.2 234.2h0.7M349.8 237.3h0.7M347.1 237.6h0.7M346.9 237.9h0.7M349.7 234.9h0.7M347.3 233.9h0.7M347.9 232.8h0.7M351.1 234.5h0.7M343.1 233.0h0.7M349.1 234.7h0.7M348.8 234.9h0.7M344.5 235.2h0.7M347.3 234.7h0.7M352.2 235.9h0.7M348.1 238.2h0.7M349.9 233.6h0.7M347.9 235.6h0.7M346.5 234.8h0.7M347.6 236.5h0.7M350.6 237.4h0.7M347.5 234.8h0.7M346.3 235.4h0.7M347.3 226.8h0.7M349.5 233.6h0.7M349.5 231.3h0.7M346.5 234.2h0.7M345.0 233.3h0.7M345.7 234.5h0.7M348.7 236.4h0.7M349.9 234.1h0.7M345.9 237.5h0.7M345.8 239.7h0.7M347.7 230.4h0.7M345.7 235.0h0.7M347.2 233.6h0.7M346.0 241.1h0.7" stroke="#000" stroke-width="0.7" fill="none"/>
<path d="M342.9,235.9 L346.5,230.7 L348.7,230.3 L352.1,235.9 L348.7,241.9 L346.3,241.9 Z" fill="#000"/>
<line x1="333.58" y1="236.10" x2="370.99" y2="236.10" stroke="#c0c8ee" stroke-width="2.0"/>
<line x1="333.58" y1="236.10" x2="370.99" y2="236.10" stroke="#4f5fb0" stroke-width="0.9"/>
<rect x="445.50" y="200.80" width="60.50" height="60.00" fill="#ececec" stroke="none" stroke-width="0.8"/>
<line x1="452.40" y1="200.80" x2="452.40" y2="260.80" stroke="#fcfcfc" stroke-width="0.6"/>
<line x1="461.10" y1="200.80" x2="461.10" y2="260.80" stroke="#f4f4f4" stroke-width="0.35"/>
<line x1="469.80" y1="200.80" x2="469.80" y2="260.80" stroke="#fcfcfc" stroke-width="0.6"/>
<line x1="478.50" y1="200.80" x2="478.50" y2="260.80" stroke="#f4f4f4" stroke-width="0.35"/>
<line x1="487.20" y1="200.80" x2="487.20" y2="260.80" stroke="#fcfcfc" stroke-width="0.6"/>
<line x1="495.90" y1="200.80" x2="495.90" y2="260.80" stroke="#f4f4f4" stroke-width="0.35"/>
<line x1="504.60" y1="200.80" x2="504.60" y2="260.80" stroke="#fcfcfc" stroke-width="0.6"/>
<line x1="445.50" y1="255.45" x2="506.00" y2="255.45" stroke="#f4f4f4" stroke-width="0.35"/>
<line x1="445.50" y1="248.90" x2="506.00" y2="248.90" stroke="#fcfcfc" stroke-width="0.6"/>
<line x1="445.50" y1="242.35" x2="506.00" y2="242.35" stroke="#f4f4f4" stroke-width="0.35"/>
<line x1="445.50" y1="235.80" x2="506.00" y2="235.80" stroke="#fcfcfc" stroke-width="0.6"/>
<line x1="445.50" y1="229.25" x2="506.00" y2="229.25" stroke="#f4f4f4" stroke-width="0.35"/>
<line x1="445.50" y1="222.70" x2="506.00" y2="222.70" stroke="#fcfcfc" stroke-width="0.6"/>
<line x1="445.50" y1="216.15" x2="506.00" y2="216.15" stroke="#f4f4f4" stroke-width="0.35"/>
<line x1="445.50" y1="209.60" x2="506.00" y2="209.60" stroke="#fcfcfc" stroke-width="0.6"/>
<line x1="445.50" y1="203.05" x2="506.00" y2="203.05" stroke="#f4f4f4" stroke-width="0.35"/>
<line x1="445.50" y1="235.80" x2="506.00" y2="235.80" stroke="#bcbcbc" stroke-width="0.8"/>
<line x1="469.80" y1="200.80" x2="469.80" y2="260.80" stroke="#a0a0a0" stroke-width="0.6"/>
<line x1="442.50" y1="209.60" x2="445.00" y2="209.60" stroke="#333" stroke-width="0.7"/>
<text x="438.50" y="211.90" font-size="6.5" fill="#333" text-anchor="end" stroke="#333" stroke-width="0.03">4</text>
<line x1="442.50" y1="222.70" x2="445.00" y2="222.70" stroke="#333" stroke-width="0.7"/>
<text x="438.50" y="225.00" font-size="6.5" fill="#333" text-anchor="end" stroke="#333" stroke-width="0.03">2</text>
<line x1="442.50" y1="235.80" x2="445.00" y2="235.80" stroke="#333" stroke-width="0.7"/>
<text x="438.50" y="238.10" font-size="6.5" fill="#333" text-anchor="end" stroke="#333" stroke-width="0.03">0</text>
<line x1="442.50" y1="248.90" x2="445.00" y2="248.90" stroke="#333" stroke-width="0.7"/>
<text x="438.50" y="251.20" font-size="6.5" fill="#333" text-anchor="end" stroke="#333" stroke-width="0.03">−2</text>
<line x1="452.40" y1="261.80" x2="452.40" y2="264.00" stroke="#333" stroke-width="0.7"/>
<text x="452.40" y="273.20" font-size="6.5" fill="#333" text-anchor="middle" stroke="#333" stroke-width="0.03">−2</text>
<line x1="469.80" y1="261.80" x2="469.80" y2="264.00" stroke="#333" stroke-width="0.7"/>
<text x="469.80" y="273.20" font-size="6.5" fill="#333" text-anchor="middle" stroke="#333" stroke-width="0.03">0</text>
<line x1="487.20" y1="261.80" x2="487.20" y2="264.00" stroke="#333" stroke-width="0.7"/>
<text x="487.20" y="273.20" font-size="6.5" fill="#333" text-anchor="middle" stroke="#333" stroke-width="0.03">2</text>
<line x1="504.60" y1="261.80" x2="504.60" y2="264.00" stroke="#333" stroke-width="0.7"/>
<text x="504.60" y="273.20" font-size="6.5" fill="#333" text-anchor="middle" stroke="#333" stroke-width="0.03">4</text>
<text x="460.60" y="285.30" font-size="8.6" textLength="28.20" lengthAdjust="spacingAndGlyphs" stroke="#262626" stroke-width="0.07">H3K27ac</text>
<text x="448.90" y="295.30" font-size="8.6" textLength="51.60" lengthAdjust="spacingAndGlyphs" stroke="#262626" stroke-width="0.07">log2 fold change</text>
<text x="417.20" y="230.80" font-size="8.4" text-anchor="middle" textLength="17.50" lengthAdjust="spacingAndGlyphs" transform="rotate(-90 417.20 230.80)" stroke="#262626" stroke-width="0.07">eRNA</text>
<text x="426.10" y="230.80" font-size="7.9" text-anchor="middle" textLength="51.70" lengthAdjust="spacingAndGlyphs" transform="rotate(-90 426.10 230.80)" stroke="#262626" stroke-width="0.07">log2 fold change</text>
<text x="451.75" y="188.10" font-size="8.5" textLength="45.00" lengthAdjust="spacingAndGlyphs" stroke="#262626" stroke-width="0.07">All intergenic</text>
<text x="436.45" y="196.30" font-size="8.5" textLength="75.60" lengthAdjust="spacingAndGlyphs" stroke="#262626" stroke-width="0.07">H3K27ac/eRNA peaks</text>
<text x="475.70" y="208.80" font-size="7.2" textLength="14.90" lengthAdjust="spacingAndGlyphs" stroke="#262626" stroke-width="0.07">T-ALL</text>
<text x="491.40" y="205.50" font-size="4.3" textLength="10.00" lengthAdjust="spacingAndGlyphs" stroke="#262626" stroke-width="0.12">#969</text>
<path d="M465.6 240.5h0.75M464.3 237.2h0.75M466.2 234.6h0.75M468.7 238.4h0.75M469.7 239.2h0.75M466.8 243.5h0.75M466.7 236.8h0.75M466.6 231.3h0.75M474.8 232.2h0.75M457.9 240.4h0.75M462.3 230.5h0.75M466.4 228.2h0.75M465.4 232.4h0.75M471.0 232.0h0.75M469.7 232.0h0.75M474.0 227.2h0.75M464.2 235.9h0.75M468.0 231.0h0.75M465.7 235.4h0.75M468.6 230.3h0.75M467.2 242.8h0.75M470.2 239.3h0.75M463.2 231.9h0.75M467.0 229.8h0.75M464.9 241.0h0.75M465.3 243.3h0.75M464.5 232.3h0.75M462.6 238.6h0.75M469.6 234.1h0.75M467.6 228.6h0.75M471.4 232.2h0.75M462.9 236.2h0.75M459.8 233.2h0.75M464.9 244.2h0.75M465.9 237.4h0.75M469.7 219.4h0.75M470.4 230.2h0.75M471.3 225.7h0.75M472.1 237.2h0.75M467.1 224.9h0.75M467.3 242.3h0.75M464.0 234.0h0.75M469.2 233.7h0.75M465.5 241.6h0.75M463.9 234.2h0.75M468.8 250.0h0.75M467.2 231.8h0.75M469.8 234.8h0.75M463.5 240.6h0.75M469.9 241.7h0.75M467.3 242.1h0.75M466.4 243.3h0.75M462.3 242.7h0.75M462.1 238.3h0.75M461.7 248.6h0.75M472.8 236.9h0.75M461.0 247.0h0.75M469.7 225.3h0.75M465.6 233.4h0.75M464.6 249.7h0.75M465.1 232.9h0.75M465.6 223.3h0.75M468.9 233.6h0.75M467.9 234.1h0.75M466.7 232.7h0.75M461.2 228.8h0.75M459.3 227.8h0.75M472.9 233.0h0.75M462.9 247.7h0.75M460.0 239.8h0.75M470.4 242.9h0.75M461.3 245.3h0.75M469.2 230.5h0.75M469.9 235.1h0.75M467.8 236.1h0.75M469.8 231.9h0.75M460.3 235.0h0.75M460.9 246.2h0.75M465.8 229.4h0.75M466.6 245.4h0.75M466.2 232.6h0.75M468.4 237.5h0.75M462.7 238.5h0.75M459.0 240.6h0.75M468.8 229.2h0.75M465.3 232.3h0.75M469.1 234.6h0.75M472.5 227.5h0.75M467.1 243.0h0.75M468.8 232.8h0.75M463.0 243.8h0.75M470.4 249.1h0.75M469.8 242.4h0.75M466.8 229.5h0.75M470.0 235.6h0.75M462.9 237.2h0.75M468.7 238.4h0.75M468.9 238.4h0.75M472.7 239.2h0.75M460.1 240.0h0.75M466.1 235.4h0.75M475.0 232.4h0.75M464.1 236.8h0.75M464.6 238.6h0.75M472.6 232.4h0.75M477.0 227.0h0.75M468.4 239.2h0.75M462.9 235.9h0.75M463.5 232.5h0.75M464.8 242.7h0.75M462.2 243.1h0.75M463.1 240.1h0.75M465.6 241.8h0.75M466.1 238.3h0.75M467.0 240.4h0.75M465.2 229.3h0.75M461.8 236.8h0.75M469.2 227.1h0.75M467.0 236.2h0.75M464.6 237.1h0.75M465.1 237.4h0.75M465.9 237.5h0.75M467.7 221.5h0.75M465.5 230.0h0.75M470.2 233.8h0.75M469.6 245.5h0.75M466.8 238.0h0.75M465.5 231.1h0.75M461.9 236.6h0.75M464.9 239.1h0.75M467.7 231.8h0.75M468.9 232.4h0.75M466.6 237.1h0.75M465.9 235.2h0.75M463.8 232.8h0.75M467.5 231.8h0.75M461.6 238.5h0.75M466.1 239.0h0.75M467.0 234.2h0.75M463.2 234.1h0.75M467.7 233.2h0.75M464.9 231.9h0.75M470.3 235.9h0.75M464.0 237.6h0.75M467.0 238.3h0.75M470.3 232.0h0.75M466.2 245.3h0.75M469.4 228.3h0.75M464.3 238.5h0.75M465.5 230.0h0.75M459.7 231.7h0.75M468.9 241.8h0.75M461.7 237.1h0.75M467.2 233.6h0.75M459.0 239.9h0.75M464.0 234.3h0.75M466.4 240.4h0.75M468.5 230.2h0.75M460.9 237.3h0.75M464.8 237.7h0.75M476.5 242.9h0.75M471.0 229.9h0.75M466.1 243.2h0.75M454.9 234.3h0.75M461.9 233.3h0.75M467.8 242.4h0.75M468.2 243.8h0.75M468.3 232.8h0.75M471.0 227.5h0.75M466.7 234.2h0.75M469.5 233.5h0.75M460.0 238.0h0.75M472.6 225.1h0.75M466.0 233.7h0.75M464.1 243.4h0.75M472.6 227.1h0.75M468.2 231.1h0.75M471.6 233.0h0.75M463.8 238.3h0.75M467.5 228.3h0.75M469.7 230.5h0.75M461.6 240.4h0.75M465.4 230.3h0.75M463.4 238.2h0.75M466.7 236.8h0.75M463.8 246.4h0.75M461.1 240.5h0.75M469.1 222.3h0.75M468.1 242.6h0.75M470.0 240.6h0.75M466.7 230.6h0.75M466.5 239.6h0.75M461.4 234.4h0.75M466.8 227.5h0.75M465.4 238.2h0.75M474.2 234.5h0.75M473.4 228.5h0.75M472.8 230.7h0.75M463.6 229.9h0.75M461.0 237.4h0.75M464.9 234.9h0.75M462.3 240.8h0.75M471.9 238.8h0.75M466.6 241.1h0.75M464.7 241.8h0.75M465.9 228.0h0.75M470.7 230.1h0.75M463.4 237.0h0.75M467.5 236.0h0.75M460.8 240.5h0.75M465.9 231.4h0.75M462.8 237.6h0.75M467.1 244.5h0.75M467.2 236.3h0.75M471.1 244.0h0.75M469.3 237.5h0.75M464.1 239.4h0.75M461.4 247.4h0.75M462.5 246.7h0.75M464.7 238.7h0.75M465.7 234.9h0.75M463.0 233.0h0.75M470.8 238.1h0.75M469.6 238.7h0.75M468.4 234.0h0.75M464.9 231.2h0.75M464.4 232.4h0.75M465.3 237.1h0.75M466.8 240.7h0.75M460.3 234.7h0.75M464.9 234.8h0.75M458.4 243.2h0.75M467.4 241.0h0.75M472.8 236.5h0.75M462.1 232.0h0.75M467.3 229.3h0.75M464.8 238.3h0.75M461.7 236.9h0.75M474.2 224.6h0.75M469.0 242.0h0.75M468.6 234.7h0.75M465.4 238.1h0.75M468.2 234.5h0.75M464.0 244.4h0.75M468.0 233.0h0.75M463.2 245.8h0.75M466.9 233.4h0.75M463.2 237.9h0.75M461.3 240.8h0.75M473.8 230.2h0.75M469.0 233.6h0.75M462.8 242.9h0.75M460.6 233.3h0.75M463.1 238.4h0.75M462.6 237.1h0.75M464.3 229.7h0.75M460.0 245.6h0.75M463.1 233.6h0.75M466.4 232.0h0.75M468.9 224.3h0.75M458.1 249.7h0.75M466.0 231.6h0.75M462.0 228.1h0.75M463.0 235.6h0.75M465.1 235.4h0.75M464.6 238.4h0.75M468.8 243.5h0.75M469.2 228.2h0.75M467.1 242.6h0.75M465.9 245.6h0.75M473.4 228.4h0.75M473.5 227.5h0.75M465.9 230.2h0.75M465.9 231.5h0.75M470.7 239.1h0.75M472.0 234.6h0.75M464.7 239.8h0.75M471.7 238.7h0.75M466.4 233.6h0.75M470.3 239.6h0.75M465.1 237.5h0.75M466.8 228.6h0.75M463.1 238.2h0.75M467.0 237.1h0.75M470.1 229.6h0.75M462.6 244.7h0.75M464.7 234.0h0.75M469.3 229.6h0.75M464.7 235.7h0.75M472.6 238.7h0.75M460.9 233.7h0.75M476.0 233.1h0.75M464.0 232.1h0.75M470.3 238.6h0.75M472.7 237.9h0.75M468.5 227.4h0.75M460.2 239.9h0.75M464.9 237.9h0.75M466.8 243.0h0.75M468.6 238.6h0.75M470.6 226.3h0.75M472.2 230.9h0.75M472.2 233.3h0.75M462.6 247.2h0.75M469.9 230.7h0.75M462.7 238.5h0.75M468.3 229.4h0.75M462.5 239.9h0.75M459.9 236.2h0.75M471.4 237.3h0.75M466.2 244.2h0.75M470.3 247.1h0.75M458.7 237.0h0.75M462.3 239.2h0.75M465.8 237.3h0.75M466.2 244.0h0.75M465.7 229.3h0.75M463.4 240.2h0.75M464.8 245.0h0.75M462.0 244.9h0.75M470.2 237.6h0.75M465.5 232.8h0.75M461.0 237.8h0.75M469.0 232.3h0.75M469.1 238.7h0.75M466.7 231.8h0.75M468.3 235.7h0.75M464.7 231.9h0.75M465.7 238.8h0.75M458.3 243.2h0.75M460.2 242.3h0.75M464.4 240.4h0.75M466.8 241.8h0.75M471.6 229.8h0.75M466.3 238.5h0.75M465.6 242.4h0.75M471.4 238.1h0.75M466.5 243.3h0.75M468.8 244.5h0.75M464.7 236.5h0.75M461.5 236.0h0.75M467.8 236.1h0.75M466.8 229.5h0.75M462.0 243.4h0.75M460.7 235.6h0.75M461.6 238.4h0.75M471.4 239.7h0.75M472.7 226.7h0.75M469.2 241.5h0.75M472.3 233.0h0.75M461.3 236.4h0.75M472.0 235.3h0.75M474.2 235.9h0.75M472.2 230.1h0.75M460.7 233.3h0.75M470.9 236.5h0.75M464.9 229.2h0.75M470.7 233.2h0.75M463.7 243.8h0.75M465.3 232.4h0.75M464.3 237.9h0.75M467.5 238.2h0.75M465.6 234.4h0.75M467.7 233.1h0.75M469.1 238.6h0.75M468.2 238.8h0.75M465.5 236.6h0.75M463.7 234.0h0.75M466.3 227.4h0.75M469.1 234.4h0.75M468.3 235.5h0.75M470.0 239.2h0.75M466.3 226.6h0.75M466.9 235.2h0.75M464.0 235.0h0.75M459.4 232.8h0.75M468.3 231.6h0.75M469.1 239.1h0.75M462.0 239.7h0.75M473.1 228.0h0.75M460.9 237.3h0.75M470.1 238.2h0.75M466.1 237.5h0.75M467.8 230.9h0.75M470.1 240.4h0.75M468.3 235.8h0.75M466.7 230.3h0.75M462.4 232.1h0.75M462.2 243.2h0.75M466.6 236.5h0.75M472.1 232.2h0.75M470.5 233.0h0.75M464.7 237.5h0.75M468.2 238.1h0.75M469.9 236.5h0.75M472.9 234.7h0.75M464.3 237.2h0.75M469.8 227.7h0.75M468.0 234.3h0.75M462.7 234.8h0.75M462.2 234.8h0.75M471.1 234.8h0.75M466.9 230.7h0.75M465.1 239.3h0.75M466.8 230.1h0.75M469.8 230.6h0.75M466.3 239.6h0.75M471.3 230.1h0.75M464.1 240.2h0.75M462.3 233.9h0.75M465.9 241.7h0.75M462.4 237.2h0.75M463.8 230.2h0.75M471.1 237.3h0.75M472.6 243.9h0.75M466.1 239.7h0.75M468.1 232.8h0.75M462.8 238.3h0.75M462.4 246.0h0.75M464.9 240.1h0.75M467.5 238.8h0.75M464.0 246.7h0.75M465.4 239.1h0.75M472.1 235.1h0.75M469.6 236.8h0.75M466.3 238.1h0.75M467.1 229.0h0.75M471.1 242.6h0.75M467.7 240.1h0.75M466.7 231.3h0.75M459.8 238.2h0.75M458.8 247.6h0.75M460.0 237.3h0.75M459.4 251.7h0.75M463.2 238.9h0.75M467.5 234.0h0.75M463.4 245.4h0.75M467.4 233.0h0.75M468.1 235.3h0.75M466.6 236.7h0.75M460.4 226.2h0.75M472.3 229.6h0.75M471.1 234.0h0.75M465.7 245.1h0.75M473.9 240.6h0.75M467.0 239.0h0.75M463.9 237.2h0.75M464.8 234.3h0.75M458.7 243.9h0.75M464.9 239.9h0.75M459.3 236.9h0.75M470.6 241.8h0.75M466.7 236.7h0.75M460.8 234.8h0.75M469.9 236.6h0.75M459.4 238.7h0.75M467.2 236.1h0.75M467.9 234.3h0.75M467.0 234.2h0.75M461.3 237.6h0.75M466.1 238.9h0.75M465.9 238.0h0.75M466.2 234.0h0.75M471.9 237.3h0.75M473.8 225.3h0.75M472.6 245.4h0.75M464.1 234.2h0.75M462.1 230.0h0.75M465.2 234.9h0.75M467.5 230.0h0.75M459.5 238.0h0.75M463.6 223.7h0.75M475.0 228.5h0.75M461.3 230.3h0.75M463.1 240.1h0.75M463.7 236.8h0.75M466.4 238.6h0.75M466.1 237.5h0.75M465.7 239.9h0.75M460.5 238.0h0.75M468.4 241.9h0.75M466.5 232.7h0.75M464.5 234.0h0.75M466.0 233.6h0.75M469.2 238.1h0.75M460.8 236.4h0.75M453.7 229.6h0.75M461.3 233.1h0.75M465.4 231.9h0.75M453.0 237.7h0.75M463.7 227.8h0.75M470.5 227.4h0.75M464.8 239.5h0.75M470.5 234.6h0.75M454.7 239.6h0.75M464.9 228.6h0.75M471.9 228.5h0.75M472.7 235.0h0.75M464.5 233.3h0.75M463.4 235.0h0.75M468.0 236.6h0.75M461.9 240.2h0.75M464.7 245.0h0.75M460.6 245.4h0.75M467.4 240.0h0.75M466.9 227.4h0.75M476.0 229.6h0.75M467.5 230.2h0.75M463.4 236.6h0.75M466.2 236.8h0.75M462.3 230.2h0.75M466.4 237.5h0.75M465.8 232.3h0.75M468.2 233.6h0.75M469.6 238.3h0.75M458.4 241.9h0.75M467.5 233.1h0.75M468.9 236.8h0.75M461.1 232.0h0.75M473.9 234.1h0.75M463.7 234.2h0.75M476.3 231.2h0.75M469.8 235.1h0.75M470.3 231.8h0.75M467.6 237.0h0.75M467.7 237.6h0.75M461.9 241.8h0.75M464.2 235.8h0.75M458.0 238.9h0.75M467.9 228.9h0.75M463.6 234.5h0.75M469.1 231.3h0.75M470.3 229.5h0.75M455.1 242.2h0.75M469.6 230.6h0.75M466.8 238.2h0.75M471.2 244.3h0.75M468.2 249.9h0.75M466.4 237.6h0.75M465.7 231.0h0.75M471.1 236.1h0.75M460.9 232.3h0.75M460.8 232.9h0.75M469.8 238.6h0.75M465.1 234.3h0.75M474.0 226.1h0.75M453.6 245.2h0.75M463.7 242.0h0.75M464.3 235.5h0.75M467.6 231.8h0.75M480.7 230.0h0.75M466.3 233.5h0.75M463.0 235.9h0.75M469.8 231.7h0.75M471.9 230.4h0.75M456.2 245.3h0.75M469.6 245.3h0.75M467.7 238.3h0.75M463.0 242.3h0.75M464.9 248.3h0.75M467.3 228.9h0.75M465.7 240.2h0.75M465.8 230.9h0.75M462.6 241.2h0.75M468.3 233.4h0.75M464.7 235.5h0.75M466.9 234.1h0.75M463.7 238.3h0.75M466.4 237.9h0.75M470.8 233.7h0.75M466.8 222.6h0.75M467.4 228.4h0.75M461.6 244.0h0.75M468.6 236.8h0.75M468.4 239.9h0.75M461.7 230.0h0.75M465.9 231.5h0.75M456.8 241.5h0.75M466.2 241.4h0.75M464.2 241.5h0.75M457.6 241.8h0.75M467.9 236.7h0.75M461.8 240.4h0.75M466.9 237.8h0.75M465.4 242.5h0.75M469.5 233.2h0.75M466.6 237.3h0.75M466.8 232.2h0.75M468.6 241.7h0.75M469.2 232.0h0.75M457.6 235.0h0.75M466.0 232.1h0.75M463.5 241.8h0.75M460.1 243.8h0.75M468.0 236.3h0.75M469.3 233.9h0.75M460.8 237.0h0.75M461.0 237.7h0.75M478.3 240.2h0.75M464.1 239.1h0.75M464.6 236.5h0.75M458.5 241.8h0.75M464.4 234.6h0.75M469.6 230.0h0.75M464.1 243.3h0.75M465.7 234.7h0.75M472.7 237.3h0.75M470.4 240.0h0.75M468.9 235.3h0.75M468.5 225.6h0.75M470.6 231.2h0.75M460.5 241.5h0.75M463.3 232.2h0.75M459.7 238.5h0.75M474.8 230.1h0.75M467.9 241.3h0.75M465.6 241.3h0.75M463.1 244.5h0.75M461.5 234.6h0.75M454.8 249.7h0.75M475.4 225.3h0.75M465.1 243.3h0.75M467.0 236.2h0.75M461.2 237.0h0.75M465.7 242.3h0.75M467.7 245.9h0.75M467.0 239.2h0.75M468.4 227.2h0.75M462.2 230.9h0.75M467.4 241.3h0.75M469.7 235.2h0.75M469.0 237.0h0.75M467.7 230.9h0.75M466.5 235.9h0.75M461.7 242.7h0.75M469.6 223.8h0.75M464.9 233.2h0.75M463.7 241.5h0.75M469.2 228.7h0.75M459.7 233.8h0.75M464.1 232.1h0.75M469.3 240.6h0.75M469.4 233.7h0.75M464.4 240.3h0.75M467.8 236.9h0.75M469.0 235.7h0.75M465.4 235.1h0.75M463.6 243.3h0.75M467.9 231.1h0.75M467.4 236.4h0.75M465.1 234.0h0.75M470.0 234.0h0.75M467.8 234.5h0.75M464.4 232.5h0.75M466.6 240.1h0.75M472.4 228.6h0.75M461.6 240.6h0.75M464.7 235.6h0.75M465.9 234.5h0.75M468.0 237.9h0.75M461.2 240.6h0.75M470.1 241.1h0.75M469.2 238.9h0.75M464.5 239.1h0.75M464.4 231.1h0.75M459.6 243.0h0.75M466.4 233.4h0.75M461.0 227.8h0.75M464.5 241.6h0.75M464.7 234.5h0.75M463.6 233.3h0.75M469.4 234.5h0.75M472.0 231.5h0.75M458.0 236.8h0.75M463.8 225.6h0.75M467.6 238.6h0.75M463.6 234.4h0.75M464.2 236.2h0.75M467.3 225.6h0.75M473.1 224.0h0.75M471.4 224.2h0.75M466.6 233.7h0.75M467.1 234.0h0.75M464.9 237.5h0.75M466.4 238.3h0.75M462.2 241.4h0.75M459.3 236.5h0.75M464.3 232.7h0.75M470.3 232.7h0.75M468.8 243.7h0.75M458.8 237.0h0.75M465.3 223.9h0.75M463.8 237.5h0.75M466.3 240.5h0.75M459.8 232.3h0.75M471.3 239.2h0.75M464.7 235.7h0.75M467.1 233.5h0.75M470.0 237.0h0.75M459.2 243.0h0.75M464.4 234.4h0.75M472.8 238.9h0.75M466.3 235.7h0.75M469.8 232.6h0.75M468.2 242.1h0.75M464.9 233.2h0.75M467.6 242.7h0.75M470.8 232.8h0.75M473.0 236.0h0.75M472.0 240.2h0.75M459.7 242.1h0.75M470.6 234.2h0.75M460.2 235.2h0.75M465.7 233.6h0.75M465.2 243.3h0.75M468.9 235.4h0.75M466.5 249.6h0.75M471.7 230.2h0.75M464.3 236.7h0.75M469.6 235.3h0.75M468.0 237.7h0.75M464.4 245.9h0.75M461.5 236.2h0.75M468.8 233.8h0.75M469.0 234.4h0.75M468.8 230.3h0.75M466.2 235.7h0.75M465.2 241.3h0.75M467.5 229.3h0.75M467.1 236.4h0.75M469.6 238.9h0.75M474.5 240.7h0.75M463.1 239.6h0.75M473.7 234.9h0.75M455.6 246.5h0.75M470.7 231.3h0.75M462.5 246.4h0.75M473.7 233.2h0.75M463.4 237.4h0.75M470.7 228.5h0.75M465.1 237.2h0.75M462.3 239.3h0.75M468.5 228.3h0.75M469.8 228.1h0.75M463.8 236.2h0.75M475.2 236.3h0.75M464.7 234.5h0.75M472.3 239.0h0.75M463.7 231.2h0.75M462.9 236.2h0.75M464.4 241.9h0.75M462.7 230.8h0.75M469.0 244.9h0.75M458.6 234.4h0.75M466.8 237.3h0.75M463.9 240.1h0.75M462.5 245.0h0.75M466.9 245.9h0.75M465.4 236.3h0.75M465.5 242.0h0.75M469.3 228.9h0.75M467.6 236.2h0.75M467.3 234.0h0.75M471.7 224.3h0.75M465.8 244.8h0.75M469.3 234.1h0.75M465.2 238.6h0.75M469.1 231.6h0.75M468.2 237.2h0.75M463.3 239.9h0.75M460.7 242.2h0.75M461.8 239.1h0.75M465.0 244.0h0.75M468.4 231.9h0.75M465.8 250.2h0.75M466.3 234.0h0.75M468.7 231.5h0.75M469.1 234.5h0.75M471.3 235.4h0.75M463.1 233.8h0.75M468.7 232.0h0.75M469.0 230.3h0.75M462.4 240.5h0.75M467.2 233.5h0.75M461.8 238.2h0.75M465.7 238.7h0.75M468.9 229.5h0.75M459.0 245.0h0.75M460.4 239.6h0.75M463.5 243.9h0.75M466.3 244.3h0.75M463.4 231.9h0.75M468.0 232.1h0.75M462.4 236.6h0.75M465.1 242.5h0.75M469.2 235.4h0.75M468.6 230.9h0.75M463.2 247.3h0.75M465.4 233.4h0.75M470.9 231.3h0.75M471.5 224.8h0.75M468.1 240.5h0.75M459.9 230.6h0.75M461.9 237.1h0.75M472.9 231.8h0.75M463.2 233.1h0.75M460.7 227.1h0.75M466.6 230.5h0.75M471.0 225.1h0.75M462.8 237.0h0.75M466.3 233.1h0.75M460.5 234.7h0.75M463.3 244.3h0.75M473.7 231.8h0.75M466.9 234.9h0.75M465.1 233.3h0.75M466.5 227.9h0.75M468.2 232.0h0.75M466.4 234.8h0.75M461.5 237.6h0.75M461.4 237.3h0.75M474.1 239.2h0.75M464.2 237.7h0.75M471.1 240.7h0.75M462.9 244.7h0.75M471.9 228.8h0.75M467.4 239.9h0.75M463.8 242.5h0.75M474.3 240.9h0.75M461.8 232.7h0.75M465.7 233.5h0.75M463.2 236.6h0.75M464.3 238.6h0.75M465.1 234.6h0.75M462.3 235.2h0.75M461.1 237.7h0.75M472.5 231.7h0.75M454.7 249.7h0.75M463.2 236.7h0.75M462.8 240.4h0.75M464.9 238.0h0.75M470.4 235.5h0.75M469.1 242.2h0.75M468.5 233.6h0.75M467.1 231.7h0.75M475.9 240.9h0.75M461.9 247.2h0.75M461.4 229.3h0.75M467.0 244.1h0.75M468.0 233.0h0.75M465.4 232.5h0.75M462.9 230.1h0.75M461.4 240.1h0.75M465.6 240.3h0.75M463.5 241.7h0.75M463.5 242.8h0.75M462.1 246.8h0.75M472.1 239.1h0.75M468.3 236.1h0.75M473.3 235.0h0.75M464.6 234.0h0.75M467.0 227.4h0.75M464.7 237.4h0.75M466.6 244.3h0.75M464.9 234.6h0.75M466.2 237.5h0.75M458.4 248.1h0.75M466.0 238.5h0.75M469.3 238.8h0.75M459.0 239.9h0.75M463.4 237.4h0.75M467.9 227.6h0.75M471.2 238.1h0.75M470.1 234.8h0.75M467.9 241.3h0.75M473.4 236.6h0.75M471.8 240.4h0.75M465.2 237.0h0.75M464.2 234.0h0.75M470.1 236.4h0.75M467.9 229.8h0.75M464.0 236.6h0.75M465.1 232.7h0.75M467.3 237.1h0.75M465.2 236.7h0.75M465.9 228.2h0.75M465.3 240.8h0.75M460.2 235.7h0.75M472.6 241.3h0.75M471.3 235.1h0.75M472.0 228.0h0.75M465.7 226.2h0.75M466.7 232.3h0.75M468.0 235.5h0.75M468.6 236.3h0.75M458.9 241.5h0.75M468.0 233.7h0.75M462.6 237.5h0.75M466.2 230.7h0.75M463.8 241.4h0.75M472.4 237.6h0.75M468.7 227.6h0.75M466.4 233.2h0.75M472.2 236.8h0.75M466.0 237.6h0.75M461.9 235.5h0.75M465.6 238.8h0.75M466.1 239.8h0.75M465.8 235.8h0.75M469.0 232.6h0.75M466.1 241.5h0.75M466.9 237.7h0.75M470.9 230.3h0.75M466.9 244.3h0.75M470.0 236.7h0.75M466.4 232.2h0.75M461.4 241.8h0.75M461.4 234.8h0.75M459.6 228.3h0.75M469.3 231.7h0.75M467.4 239.1h0.75M464.1 225.2h0.75M463.2 235.6h0.75M466.0 231.5h0.75M465.8 232.6h0.75M466.6 240.1h0.75M460.4 239.2h0.75M460.3 239.7h0.75M471.8 225.0h0.75M462.5 231.5h0.75M469.1 236.2h0.75M471.6 235.5h0.75M458.9 236.5h0.75M470.3 230.1h0.75M466.9 229.9h0.75M465.1 242.8h0.75M467.1 230.4h0.75M462.2 243.4h0.75M457.6 242.1h0.75M473.4 240.3h0.75M465.3 237.9h0.75M469.5 230.1h0.75M470.2 235.7h0.75M467.0 231.1h0.75M466.4 231.1h0.75M469.5 235.6h0.75M471.9 236.1h0.75M468.5 227.8h0.75M470.9 231.0h0.75M466.1 231.2h0.75M464.5 231.0h0.75M467.0 237.5h0.75M467.9 238.7h0.75M468.7 234.6h0.75M474.3 235.2h0.75M469.7 232.8h0.75M465.5 240.6h0.75M474.3 233.4h0.75M464.4 237.9h0.75M467.3 234.2h0.75M472.3 230.3h0.75M464.9 230.8h0.75M462.9 236.7h0.75M467.2 235.1h0.75M465.2 233.4h0.75M462.2 236.8h0.75M467.5 233.6h0.75M464.5 239.4h0.75M463.4 238.4h0.75M459.5 245.3h0.75M465.5 231.6h0.75M473.5 229.0h0.75M469.4 232.5h0.75M470.1 240.7h0.75M465.6 240.2h0.75M470.8 236.2h0.75M464.3 247.1h0.75M464.1 232.5h0.75M468.2 232.4h0.75M462.4 237.6h0.75M466.5 231.4h0.75M467.5 245.6h0.75M473.3 237.0h0.75M463.8 231.9h0.75M467.9 232.1h0.75M463.5 238.6h0.75M463.8 235.3h0.75M457.5 239.9h0.75M462.5 240.1h0.75M471.8 236.9h0.75M468.3 239.8h0.75M467.0 236.2h0.75M475.6 233.3h0.75M462.9 233.9h0.75M462.3 246.1h0.75M466.1 237.1h0.75M466.6 238.2h0.75M472.4 232.3h0.75M463.1 238.0h0.75M467.3 228.6h0.75M471.1 225.3h0.75M463.7 247.9h0.75M466.6 231.0h0.75M459.3 247.3h0.75M466.7 242.4h0.75M458.2 243.9h0.75M464.8 243.6h0.75M473.3 227.2h0.75M467.5 228.0h0.75M467.3 246.1h0.75M467.0 233.1h0.75M474.2 230.5h0.75M468.3 238.4h0.75M470.4 235.4h0.75M465.0 239.5h0.75M464.4 240.1h0.75M460.4 242.5h0.75M465.3 237.7h0.75M462.7 237.1h0.75M469.8 234.9h0.75M468.7 240.9h0.75M466.1 234.1h0.75M464.1 244.2h0.75M456.1 244.9h0.75M464.0 242.3h0.75M466.6 246.2h0.75M469.3 234.7h0.75M454.0 248.8h0.75M457.1 235.3h0.75M468.9 238.0h0.75M462.7 233.6h0.75M466.4 241.0h0.75M464.8 240.0h0.75M467.7 233.6h0.75M455.4 242.3h0.75M463.5 241.9h0.75M470.1 234.1h0.75M466.7 230.1h0.75M461.4 236.8h0.75M468.6 232.8h0.75M468.0 223.5h0.75M462.6 235.9h0.75M468.0 237.8h0.75M469.2 234.0h0.75M465.2 243.1h0.75M468.9 235.3h0.75M461.3 231.5h0.75M470.3 232.0h0.75M466.1 242.6h0.75M464.8 241.2h0.75M465.1 245.2h0.75M471.0 223.7h0.75M466.4 239.5h0.75M465.0 242.8h0.75M463.7 229.6h0.75M464.2 236.6h0.75M470.6 238.9h0.75M472.5 237.9h0.75M471.4 239.7h0.75M469.1 235.7h0.75M470.3 235.3h0.75M464.7 235.7h0.75M464.1 242.3h0.75M461.7 240.9h0.75M470.8 232.7h0.75M464.9 231.6h0.75M463.9 227.8h0.75M463.6 232.3h0.75M466.0 242.5h0.75M465.1 238.6h0.75M467.0 233.3h0.75M466.9 240.8h0.75M470.8 241.2h0.75M461.0 247.2h0.75M467.5 236.4h0.75M463.9 241.3h0.75M463.9 240.3h0.75M471.4 240.4h0.75M468.5 234.9h0.75M464.8 241.2h0.75M468.6 240.5h0.75M466.2 242.8h0.75M469.3 241.3h0.75M464.5 235.8h0.75M468.2 229.9h0.75M466.3 238.6h0.75M467.1 239.2h0.75M465.5 226.9h0.75M463.9 233.2h0.75M469.9 227.7h0.75M469.6 232.7h0.75M464.0 237.0h0.75M463.8 236.4h0.75M468.0 228.3h0.75M463.8 225.8h0.75M469.8 232.9h0.75M469.1 234.7h0.75M457.5 234.0h0.75M463.5 233.9h0.75M461.4 239.0h0.75M468.5 238.4h0.75M470.3 239.7h0.75M462.0 230.1h0.75M462.9 239.2h0.75M466.1 237.9h0.75M465.1 239.2h0.75M468.9 240.7h0.75M470.7 232.9h0.75M468.5 235.5h0.75M470.2 232.3h0.75M469.1 228.4h0.75M466.2 237.1h0.75M465.5 236.5h0.75M463.6 240.5h0.75M469.0 230.5h0.75M469.7 232.6h0.75M470.4 229.8h0.75M464.8 226.2h0.75M464.9 243.2h0.75M467.3 227.3h0.75M471.8 241.1h0.75M467.4 241.3h0.75M466.8 242.0h0.75M462.2 230.9h0.75M467.8 239.9h0.75M468.5 233.6h0.75M462.5 241.5h0.75M474.8 221.1h0.75M463.2 244.0h0.75M469.3 236.8h0.75M464.7 242.1h0.75M467.4 236.7h0.75M463.9 231.1h0.75M464.5 235.3h0.75M468.8 233.9h0.75M465.6 233.6h0.75M464.8 240.0h0.75M469.5 241.0h0.75M469.6 240.2h0.75M466.6 238.1h0.75M468.5 229.5h0.75M472.1 232.4h0.75M466.0 236.7h0.75M468.3 230.3h0.75M465.7 239.9h0.75M461.8 233.9h0.75M459.4 236.5h0.75M467.1 239.0h0.75M470.0 227.6h0.75M468.0 241.4h0.75M464.6 238.3h0.75M464.6 238.1h0.75M469.2 230.7h0.75M465.9 233.2h0.75M460.9 238.1h0.75M468.9 233.2h0.75M467.3 243.3h0.75M467.9 242.7h0.75M470.3 233.9h0.75M471.0 232.1h0.75M469.0 237.6h0.75M463.9 234.3h0.75M459.2 234.4h0.75M467.0 243.7h0.75M466.9 233.7h0.75M472.8 224.4h0.75M470.8 234.5h0.75M467.5 235.7h0.75M473.0 233.2h0.75M466.4 233.6h0.75M466.1 248.0h0.75M462.8 237.9h0.75M466.3 237.8h0.75M468.0 232.3h0.75M470.2 237.3h0.75M463.2 237.2h0.75M469.9 233.9h0.75M476.4 226.0h0.75M460.8 238.3h0.75M465.9 234.6h0.75M466.9 242.3h0.75M469.6 235.8h0.75M474.7 230.5h0.75M470.4 224.4h0.75M466.4 240.1h0.75M462.8 237.2h0.75M467.1 237.1h0.75M466.3 234.0h0.75M467.4 239.9h0.75M464.0 232.8h0.75M472.2 237.8h0.75M463.9 229.5h0.75M471.7 233.3h0.75M466.8 236.4h0.75M462.0 237.4h0.75M466.8 235.1h0.75M466.2 234.3h0.75M465.8 231.2h0.75M470.2 233.6h0.75M464.4 239.9h0.75M476.4 239.2h0.75M469.9 236.5h0.75M463.3 241.4h0.75M455.9 237.2h0.75M471.7 239.1h0.75M467.7 238.2h0.75M467.5 235.0h0.75M461.4 232.4h0.75M461.0 245.5h0.75M459.1 239.4h0.75M476.2 226.7h0.75M472.7 251.8h0.75M464.0 233.7h0.75M473.4 245.3h0.75M460.0 239.1h0.75M468.6 239.3h0.75M469.0 237.4h0.75M463.0 236.2h0.75M462.5 230.1h0.75M462.2 242.0h0.75M466.6 227.9h0.75M471.4 226.0h0.75M471.1 241.9h0.75M468.0 235.5h0.75M470.1 231.8h0.75M459.6 231.5h0.75M473.6 229.6h0.75M465.4 238.4h0.75M462.3 241.2h0.75M465.0 233.3h0.75M463.0 240.9h0.75M467.2 234.1h0.75M466.8 235.2h0.75M453.5 245.0h0.75M470.1 222.9h0.75M473.5 233.4h0.75M462.3 226.8h0.75M471.3 227.9h0.75M469.8 229.3h0.75M467.7 238.3h0.75M472.2 235.9h0.75M460.8 238.1h0.75M469.7 234.9h0.75M461.1 244.4h0.75M476.1 219.9h0.75M463.0 226.9h0.75M460.4 235.8h0.75M471.6 229.8h0.75M469.1 235.7h0.75M464.0 241.8h0.75M466.7 233.5h0.75M468.6 235.2h0.75M473.0 230.7h0.75M464.1 233.2h0.75M463.8 226.1h0.75M464.0 236.0h0.75M456.2 239.9h0.75M467.2 237.0h0.75M460.0 237.1h0.75M467.7 240.8h0.75M462.1 229.4h0.75M465.2 234.3h0.75M465.4 243.2h0.75M465.7 236.8h0.75M472.5 227.6h0.75M472.0 229.6h0.75M470.2 238.5h0.75M470.9 231.6h0.75M465.9 234.5h0.75M471.5 236.4h0.75M467.2 234.8h0.75M467.6 241.4h0.75M465.7 237.6h0.75M461.4 244.5h0.75M462.7 233.3h0.75M465.6 232.3h0.75M467.9 237.3h0.75M465.3 236.5h0.75M463.2 230.5h0.75M463.2 244.8h0.75M466.6 236.9h0.75M461.2 235.8h0.75M461.8 236.6h0.75M466.3 238.4h0.75M467.8 246.7h0.75M463.3 241.1h0.75M461.0 233.5h0.75M467.5 238.4h0.75M468.7 234.7h0.75M465.1 237.6h0.75M465.5 232.1h0.75M454.9 244.5h0.75M470.2 233.1h0.75M462.1 236.9h0.75M468.7 242.2h0.75M463.9 236.9h0.75M465.6 231.6h0.75M466.8 234.1h0.75M458.4 242.3h0.75M477.4 234.6h0.75M460.3 245.5h0.75M466.8 241.8h0.75M463.3 248.7h0.75M465.6 234.0h0.75M470.0 234.8h0.75M458.7 239.9h0.75M465.2 225.2h0.75M468.6 234.3h0.75M467.2 231.3h0.75M468.9 240.6h0.75M463.5 240.0h0.75M459.2 242.2h0.75M461.0 237.5h0.75M464.5 242.3h0.75M468.9 238.2h0.75M467.0 237.5h0.75M471.8 232.8h0.75M466.4 242.3h0.75M466.9 232.8h0.75M466.9 233.4h0.75M459.3 239.3h0.75M468.5 228.8h0.75M461.9 238.0h0.75M465.2 234.7h0.75M477.3 229.8h0.75M475.4 227.8h0.75M467.4 233.6h0.75M467.6 240.3h0.75M466.9 233.4h0.75M466.9 240.9h0.75M464.2 233.3h0.75M473.5 239.9h0.75M458.4 230.7h0.75M460.5 241.3h0.75M472.0 234.3h0.75M467.5 237.3h0.75M462.8 235.2h0.75M463.3 248.4h0.75M465.4 239.8h0.75M475.5 228.0h0.75M466.6 233.5h0.75M462.1 244.0h0.75M468.1 230.4h0.75M463.9 228.2h0.75M472.4 237.9h0.75M466.0 239.3h0.75M471.3 240.3h0.75M468.1 238.7h0.75M475.1 233.4h0.75M468.0 224.6h0.75M467.6 243.3h0.75M462.2 228.1h0.75M463.9 236.7h0.75M466.5 238.0h0.75M464.9 239.6h0.75M475.8 229.3h0.75M467.3 236.5h0.75M462.7 238.6h0.75M470.7 235.1h0.75M463.3 237.2h0.75M468.3 234.8h0.75M466.6 238.5h0.75M463.6 241.8h0.75M471.7 230.0h0.75M467.1 237.6h0.75M470.2 234.3h0.75M464.4 246.8h0.75M461.0 239.2h0.75M457.9 242.2h0.75M465.2 242.3h0.75M466.5 238.6h0.75M466.6 241.0h0.75M468.7 243.1h0.75M461.3 244.6h0.75M467.0 232.1h0.75M462.9 237.3h0.75M465.8 241.0h0.75M476.3 231.7h0.75M470.5 244.1h0.75M462.0 231.2h0.75M473.5 227.1h0.75M471.9 234.6h0.75M470.6 232.3h0.75M472.0 236.6h0.75M464.9 239.2h0.75M465.6 238.2h0.75M465.6 239.8h0.75M468.1 233.1h0.75M461.5 243.9h0.75M464.4 234.6h0.75M467.8 240.3h0.75M463.7 237.1h0.75M467.2 230.3h0.75M473.8 224.5h0.75M462.6 245.8h0.75M471.8 230.3h0.75M464.1 230.0h0.75M461.7 238.9h0.75M466.9 229.9h0.75M466.9 239.3h0.75M463.8 236.5h0.75M461.6 227.8h0.75M465.1 233.1h0.75M463.3 230.5h0.75M467.2 237.1h0.75M463.5 236.6h0.75M466.4 232.6h0.75M467.6 235.9h0.75M464.6 229.8h0.75M472.5 236.7h0.75M463.6 241.7h0.75M463.1 235.9h0.75M474.2 240.6h0.75M472.7 230.0h0.75M466.4 229.3h0.75M469.7 225.8h0.75M468.0 242.0h0.75M465.1 237.1h0.75M468.6 231.9h0.75M466.6 238.4h0.75M471.3 230.5h0.75M458.8 247.9h0.75M470.4 233.8h0.75M466.7 231.5h0.75M465.1 239.2h0.75M464.4 235.5h0.75M464.5 235.7h0.75M461.2 239.8h0.75M464.2 242.3h0.75M469.3 235.7h0.75M460.8 237.4h0.75M464.4 237.9h0.75M456.6 237.3h0.75M463.8 235.3h0.75M467.7 244.8h0.75M466.6 235.9h0.75M467.5 229.6h0.75M460.5 236.2h0.75M467.6 236.9h0.75M462.0 232.0h0.75M470.4 233.4h0.75M466.3 235.4h0.75M465.1 231.1h0.75M472.9 233.9h0.75M464.7 234.1h0.75M469.7 232.6h0.75M466.7 234.8h0.75M466.5 231.1h0.75M471.4 225.1h0.75M467.3 239.3h0.75M465.3 231.5h0.75M459.9 238.0h0.75M466.9 228.4h0.75M466.4 238.6h0.75M464.7 233.0h0.75M461.6 236.0h0.75M455.5 244.9h0.75M466.9 235.1h0.75M464.7 237.4h0.75M471.0 236.9h0.75M468.4 238.2h0.75M471.0 241.4h0.75M473.6 231.9h0.75M465.3 236.4h0.75M463.8 236.4h0.75M469.0 235.2h0.75M463.1 235.9h0.75M465.5 238.2h0.75M471.6 237.2h0.75M468.9 233.3h0.75M470.8 233.9h0.75M461.8 235.2h0.75M466.4 234.4h0.75M471.0 240.8h0.75M461.3 244.3h0.75M468.0 238.9h0.75M468.4 225.5h0.75M455.9 237.2h0.75M472.5 238.7h0.75M463.7 232.7h0.75M465.0 233.4h0.75M474.9 233.3h0.75M458.5 235.9h0.75M469.3 238.0h0.75M464.3 236.6h0.75M466.8 234.0h0.75M462.7 232.4h0.75M471.1 230.5h0.75M461.1 246.1h0.75M468.2 237.8h0.75M468.9 228.5h0.75M464.6 226.3h0.75M465.4 241.5h0.75M465.9 230.7h0.75M470.4 241.5h0.75M467.9 233.1h0.75M465.0 239.4h0.75M462.2 234.3h0.75M467.1 231.5h0.75M468.2 239.3h0.75M465.3 241.8h0.75M472.1 238.6h0.75M458.9 247.5h0.75M476.8 247.1h0.75M465.9 240.5h0.75M461.4 236.5h0.75M459.5 241.1h0.75M469.6 231.9h0.75M469.5 238.8h0.75M465.7 233.4h0.75M467.0 233.7h0.75M467.7 237.8h0.75M464.5 243.0h0.75M470.8 243.4h0.75M468.5 232.2h0.75M465.7 236.7h0.75M460.2 248.0h0.75M471.8 237.1h0.75M466.3 238.3h0.75M463.2 229.7h0.75M471.5 229.3h0.75M468.5 235.4h0.75M458.7 236.2h0.75M460.1 247.0h0.75M464.9 239.0h0.75M461.5 239.5h0.75M466.8 243.2h0.75M476.2 225.2h0.75M477.3 232.6h0.75M467.9 229.3h0.75M470.4 243.3h0.75M469.7 230.9h0.75M465.5 232.6h0.75M460.6 243.8h0.75M472.1 231.5h0.75M465.5 234.6h0.75M468.0 232.2h0.75M468.6 237.3h0.75M461.6 241.4h0.75M473.5 239.5h0.75M466.6 235.5h0.75M468.1 238.4h0.75M464.1 238.0h0.75M467.4 247.0h0.75M469.4 236.3h0.75M463.8 245.6h0.75M467.9 235.5h0.75M465.4 230.3h0.75M460.5 236.3h0.75M465.0 238.1h0.75M468.1 230.2h0.75M468.1 244.9h0.75M469.7 236.4h0.75M464.1 232.0h0.75M465.7 239.5h0.75M467.2 244.5h0.75M468.8 240.4h0.75M467.1 233.3h0.75M461.9 234.7h0.75M460.6 238.1h0.75M470.7 229.3h0.75M470.7 233.3h0.75M463.8 235.6h0.75M472.5 228.4h0.75M465.9 244.8h0.75M468.2 222.9h0.75M471.5 233.2h0.75M464.3 225.7h0.75M462.8 236.3h0.75M461.1 231.4h0.75M467.8 232.1h0.75M468.5 233.2h0.75M469.1 233.5h0.75M469.5 234.9h0.75M467.5 228.5h0.75M471.0 229.9h0.75M462.0 230.5h0.75M468.0 242.2h0.75M468.8 244.6h0.75M466.6 233.4h0.75M471.7 227.2h0.75M468.1 241.2h0.75M471.5 239.4h0.75M469.2 239.5h0.75M465.3 237.1h0.75M475.3 228.0h0.75M470.6 234.6h0.75M466.0 234.2h0.75M466.7 243.9h0.75M462.4 247.1h0.75M464.0 236.4h0.75M465.5 240.2h0.75M466.8 239.8h0.75M464.4 236.4h0.75M468.3 233.9h0.75M463.3 240.3h0.75M460.3 241.0h0.75M463.9 237.0h0.75M462.5 229.1h0.75M462.2 245.7h0.75M462.6 239.2h0.75M470.5 236.6h0.75M460.7 235.3h0.75M457.9 245.0h0.75M465.1 243.1h0.75M479.2 233.8h0.75M461.7 245.3h0.75M467.9 233.6h0.75M464.2 227.5h0.75M469.4 230.3h0.75M472.7 229.6h0.75M460.0 237.2h0.75M471.2 235.3h0.75M462.5 245.2h0.75M467.7 239.7h0.75M461.5 234.2h0.75M467.6 242.4h0.75M464.4 228.1h0.75M467.7 241.5h0.75M461.8 241.5h0.75M466.0 240.2h0.75M466.9 241.4h0.75M465.0 239.3h0.75M462.6 239.1h0.75M462.0 239.0h0.75M465.5 233.4h0.75M468.4 233.9h0.75M464.5 231.7h0.75M465.6 238.7h0.75M471.5 238.3h0.75M464.5 240.3h0.75M467.1 236.7h0.75M469.4 228.2h0.75M469.1 235.5h0.75M468.5 237.2h0.75M465.7 235.1h0.75M473.7 238.0h0.75M466.2 238.3h0.75M465.0 239.6h0.75M466.8 240.2h0.75M472.9 229.6h0.75M472.0 237.4h0.75M466.7 237.2h0.75M471.5 239.7h0.75M468.1 233.9h0.75M467.8 241.2h0.75M471.9 223.2h0.75M468.0 239.6h0.75M467.7 231.0h0.75M472.7 227.3h0.75M465.0 233.0h0.75M471.5 232.8h0.75M475.5 237.6h0.75M473.1 221.0h0.75M468.2 233.6h0.75M466.3 241.5h0.75M460.7 231.2h0.75M466.7 234.7h0.75M475.9 235.2h0.75M460.4 235.6h0.75M461.3 238.0h0.75M468.8 231.3h0.75M468.7 234.7h0.75M460.0 233.2h0.75M466.7 234.1h0.75M467.6 237.8h0.75M460.9 239.5h0.75M470.2 230.3h0.75M461.4 237.9h0.75M471.1 237.1h0.75M467.8 233.8h0.75M463.3 234.7h0.75M459.9 234.7h0.75M464.8 243.1h0.75M467.0 241.2h0.75M465.9 237.9h0.75M464.8 232.7h0.75M468.4 234.0h0.75M470.3 227.1h0.75M464.5 230.7h0.75M466.0 231.6h0.75M468.5 234.6h0.75M466.5 236.8h0.75M469.3 238.8h0.75M470.8 234.4h0.75M467.6 242.3h0.75M467.6 231.1h0.75M454.7 249.0h0.75M464.7 231.0h0.75M465.1 236.5h0.75M462.2 241.3h0.75M471.2 233.4h0.75M459.1 238.3h0.75M472.7 232.8h0.75M464.0 242.8h0.75M462.9 251.7h0.75M465.0 230.6h0.75M465.4 237.4h0.75M462.4 234.1h0.75M461.3 249.3h0.75M464.5 239.0h0.75M469.0 239.7h0.75M468.3 234.9h0.75M472.2 229.4h0.75M463.7 242.0h0.75M464.2 234.0h0.75M465.1 234.4h0.75M467.2 245.5h0.75M468.3 235.6h0.75M472.8 233.1h0.75M469.6 236.1h0.75M467.1 233.2h0.75M471.7 227.8h0.75M463.9 233.7h0.75M462.3 231.6h0.75M468.4 229.8h0.75M466.8 236.8h0.75M466.6 239.5h0.75M469.9 240.1h0.75M464.8 245.8h0.75M466.1 239.2h0.75M469.9 233.0h0.75M468.9 234.8h0.75M470.3 235.2h0.75M466.8 231.8h0.75M467.5 231.6h0.75M458.0 240.0h0.75M471.4 233.8h0.75M460.8 245.6h0.75M467.7 230.1h0.75M477.1 231.7h0.75M462.5 251.4h0.75M460.4 236.5h0.75M474.7 234.7h0.75M464.0 233.8h0.75M465.4 236.7h0.75M465.5 233.7h0.75M469.7 237.7h0.75M469.5 230.5h0.75M466.1 241.9h0.75M469.8 235.6h0.75M463.4 235.6h0.75M468.4 237.4h0.75M463.8 229.5h0.75M469.1 232.9h0.75M463.9 230.9h0.75M465.1 237.4h0.75M472.5 231.2h0.75M459.7 235.8h0.75M462.5 242.2h0.75M468.8 235.1h0.75M463.6 239.0h0.75M464.6 238.0h0.75M467.1 235.9h0.75M474.9 233.9h0.75M461.1 244.3h0.75M465.5 238.0h0.75M466.8 230.9h0.75M462.1 236.0h0.75M466.2 246.4h0.75M468.7 238.5h0.75M463.0 235.5h0.75M469.8 240.5h0.75M462.2 235.6h0.75M465.1 228.1h0.75M467.7 233.9h0.75M479.2 234.9h0.75M458.0 237.9h0.75M467.7 244.5h0.75M476.8 233.0h0.75M464.4 246.1h0.75M470.7 236.7h0.75M467.5 244.8h0.75M461.0 242.4h0.75M468.2 237.8h0.75M463.9 232.5h0.75M466.1 234.6h0.75M461.8 229.7h0.75M467.1 229.7h0.75M456.3 241.5h0.75M465.7 233.8h0.75M470.1 240.1h0.75M467.9 235.5h0.75M464.4 238.7h0.75M465.8 241.5h0.75M463.6 230.5h0.75M477.7 233.8h0.75M464.7 234.8h0.75M466.6 237.7h0.75M463.8 232.3h0.75M464.6 234.1h0.75M468.5 243.0h0.75M464.5 242.7h0.75M463.4 224.9h0.75M462.9 233.8h0.75M465.2 231.3h0.75M467.1 232.5h0.75M464.1 231.1h0.75M466.4 237.7h0.75M463.4 241.7h0.75M470.5 236.0h0.75M466.5 243.7h0.75M465.2 241.4h0.75M467.5 229.7h0.75M465.7 239.7h0.75M461.1 242.2h0.75M465.1 231.3h0.75M471.6 230.5h0.75M467.3 236.8h0.75M471.3 234.0h0.75M464.1 238.9h0.75M460.4 238.8h0.75M463.6 231.7h0.75M471.2 232.3h0.75M462.1 242.4h0.75M462.8 237.7h0.75M470.6 241.1h0.75M465.7 238.7h0.75M465.8 228.9h0.75M468.2 242.4h0.75M466.7 237.7h0.75M465.0 234.0h0.75M468.2 235.4h0.75M463.8 237.2h0.75M465.4 240.4h0.75M469.5 237.6h0.75M461.8 235.6h0.75M465.5 236.7h0.75M462.2 235.7h0.75M468.8 231.1h0.75M468.7 240.5h0.75M469.3 243.4h0.75M469.5 233.1h0.75M470.5 228.9h0.75M470.5 232.9h0.75M463.7 233.4h0.75M468.4 240.8h0.75M464.4 238.2h0.75M474.8 235.6h0.75M467.4 238.4h0.75M469.2 232.2h0.75M461.3 251.6h0.75M464.0 238.7h0.75M470.9 227.3h0.75M460.8 240.6h0.75M464.2 241.8h0.75M464.2 236.0h0.75M463.8 243.6h0.75M471.4 230.5h0.75M475.0 237.9h0.75M461.5 232.2h0.75M470.6 232.7h0.75M465.9 240.5h0.75M472.1 234.1h0.75M456.1 242.1h0.75M459.2 238.3h0.75M471.2 238.6h0.75M464.2 234.1h0.75M470.9 239.1h0.75M464.8 245.6h0.75M470.2 236.8h0.75M467.4 240.4h0.75M464.4 237.7h0.75M463.7 230.3h0.75M464.8 238.2h0.75M471.1 226.4h0.75M466.0 228.2h0.75M463.7 227.5h0.75M479.3 229.6h0.75M460.0 231.9h0.75M464.4 230.5h0.75M468.2 228.3h0.75M461.5 238.1h0.75M468.4 229.0h0.75M464.2 232.2h0.75M461.2 237.0h0.75M468.5 240.9h0.75M461.6 236.0h0.75M462.2 235.4h0.75M471.6 240.1h0.75M462.2 242.8h0.75M468.6 230.7h0.75M470.3 235.1h0.75M470.6 230.4h0.75M468.3 237.2h0.75M465.6 242.5h0.75M460.7 243.1h0.75M466.4 245.6h0.75M469.6 232.3h0.75M463.9 242.3h0.75M462.6 227.0h0.75M468.1 239.6h0.75M462.2 238.6h0.75M467.6 241.5h0.75M465.2 244.9h0.75M460.2 238.6h0.75M475.6 235.4h0.75M471.7 222.5h0.75M468.2 237.0h0.75M460.6 250.5h0.75M466.1 232.7h0.75M467.9 239.9h0.75M467.0 238.9h0.75M474.6 236.8h0.75M457.9 245.7h0.75M469.5 242.7h0.75M460.2 238.9h0.75M460.2 239.1h0.75M463.9 237.6h0.75M468.0 237.3h0.75M463.6 229.5h0.75M462.7 242.0h0.75M462.7 240.6h0.75M460.8 230.8h0.75M463.0 235.6h0.75M462.5 240.4h0.75M465.4 242.2h0.75M463.8 239.2h0.75M456.6 241.7h0.75M464.5 236.6h0.75M470.7 226.8h0.75M465.1 243.6h0.75M465.6 236.8h0.75M463.2 234.2h0.75M462.6 234.5h0.75M472.7 237.3h0.75M460.1 242.7h0.75M465.9 235.5h0.75M459.8 235.5h0.75M466.4 236.8h0.75M459.8 239.1h0.75M468.0 228.8h0.75M469.3 235.5h0.75M460.4 240.1h0.75M470.7 227.4h0.75M464.2 236.7h0.75M470.7 234.5h0.75M463.3 239.5h0.75M465.3 229.2h0.75M464.9 237.2h0.75M470.8 227.2h0.75M458.4 235.6h0.75M469.8 234.1h0.75M466.3 232.9h0.75M464.5 240.1h0.75M465.6 227.7h0.75M468.3 239.4h0.75M468.8 234.0h0.75M472.9 228.8h0.75M462.4 235.3h0.75M458.8 229.3h0.75M463.8 229.2h0.75M467.4 240.5h0.75M463.1 239.7h0.75M470.0 232.1h0.75M475.8 231.3h0.75M467.2 236.8h0.75M459.0 237.5h0.75M470.3 238.0h0.75M463.6 239.9h0.75M466.5 230.1h0.75M469.2 232.8h0.75M467.9 228.7h0.75M465.7 247.1h0.75M467.1 241.6h0.75M468.9 241.7h0.75M466.9 234.6h0.75M474.7 224.8h0.75M454.1 247.1h0.75M463.1 239.0h0.75M463.9 230.3h0.75M468.4 240.9h0.75M467.0 223.8h0.75M468.9 240.6h0.75M460.8 241.6h0.75M465.7 247.2h0.75M475.6 229.0h0.75M466.1 244.4h0.75M462.5 236.1h0.75M467.8 236.1h0.75M472.5 236.9h0.75M457.3 242.6h0.75M471.7 234.7h0.75M467.3 233.5h0.75M462.8 240.8h0.75M467.5 240.0h0.75M467.0 243.4h0.75M470.9 228.8h0.75M462.3 231.3h0.75M470.2 231.8h0.75M463.4 245.0h0.75M467.6 235.1h0.75M468.7 232.4h0.75M465.8 232.6h0.75M469.3 234.8h0.75M463.1 241.6h0.75M473.3 223.5h0.75M463.7 237.5h0.75M462.7 241.6h0.75M465.1 234.4h0.75M464.7 231.2h0.75M463.4 239.2h0.75M468.3 232.8h0.75M465.3 235.5h0.75M468.8 236.5h0.75M460.3 240.4h0.75M461.6 237.5h0.75M464.1 251.4h0.75M462.0 238.3h0.75M466.1 241.7h0.75M467.8 240.4h0.75M469.9 232.2h0.75M470.8 236.8h0.75M469.0 237.1h0.75M462.4 238.3h0.75M467.9 245.4h0.75M463.1 245.2h0.75M467.2 227.9h0.75M462.6 243.5h0.75M471.2 236.0h0.75M467.3 232.8h0.75M463.5 242.2h0.75M460.8 238.7h0.75M467.8 245.5h0.75M463.7 244.7h0.75M467.7 234.7h0.75M463.2 236.9h0.75M464.0 232.1h0.75M467.8 231.4h0.75M471.1 236.7h0.75M460.9 238.5h0.75M464.7 240.9h0.75M466.7 232.7h0.75M465.5 240.9h0.75M463.9 235.2h0.75M474.6 230.8h0.75M460.6 232.8h0.75M468.1 239.9h0.75M464.1 238.8h0.75M465.3 243.3h0.75M458.6 235.3h0.75M471.2 236.1h0.75M464.9 240.0h0.75M460.7 243.6h0.75M472.2 237.7h0.75M465.9 238.7h0.75M462.9 240.3h0.75M462.4 231.4h0.75M470.0 235.7h0.75M465.9 242.9h0.75M464.7 247.1h0.75M461.6 241.3h0.75M459.7 230.2h0.75M467.1 226.8h0.75M464.2 248.0h0.75M457.5 231.0h0.75M462.5 238.5h0.75M466.0 242.8h0.75M476.6 228.0h0.75M462.0 234.7h0.75M457.3 235.9h0.75M467.8 232.8h0.75M464.5 229.4h0.75M460.8 239.6h0.75M470.3 231.5h0.75M464.7 224.9h0.75M462.2 237.3h0.75M460.4 245.3h0.75M470.4 226.9h0.75M465.3 236.1h0.75M458.5 244.8h0.75M470.2 225.3h0.75M461.3 233.2h0.75M470.3 235.3h0.75M468.3 233.8h0.75M465.4 245.6h0.75M466.8 235.2h0.75M463.6 248.5h0.75M466.1 242.2h0.75M471.4 225.7h0.75M464.1 236.1h0.75M469.8 243.6h0.75M461.9 241.2h0.75M466.2 232.9h0.75M468.9 235.9h0.75M461.3 238.8h0.75M467.9 236.6h0.75M458.6 246.4h0.75M461.6 232.5h0.75M464.1 245.1h0.75M468.8 236.8h0.75M468.2 243.0h0.75M462.2 239.5h0.75M465.1 236.3h0.75M466.1 237.0h0.75M459.3 238.6h0.75M466.9 232.7h0.75M471.6 243.5h0.75M471.3 233.4h0.75M463.0 230.5h0.75M464.6 228.9h0.75M460.8 234.7h0.75M463.6 244.5h0.75M466.2 240.5h0.75M468.0 231.9h0.75M466.0 230.2h0.75M462.7 240.3h0.75M470.1 235.9h0.75M470.6 230.3h0.75M462.8 233.0h0.75M464.3 240.8h0.75M465.4 241.6h0.75M459.9 248.4h0.75M465.4 240.8h0.75M463.1 246.1h0.75M473.5 237.6h0.75M467.0 230.4h0.75M469.4 233.4h0.75M464.0 239.9h0.75M466.5 231.8h0.75M467.5 243.6h0.75M462.3 235.9h0.75M467.6 238.2h0.75M469.9 233.4h0.75M458.7 234.5h0.75M471.8 239.4h0.75M464.8 233.2h0.75M469.5 235.6h0.75M465.8 237.4h0.75M465.1 244.1h0.75M466.5 237.3h0.75M466.9 237.0h0.75M469.5 235.3h0.75M466.1 237.5h0.75M461.2 244.9h0.75M462.8 229.9h0.75M462.1 240.5h0.75M468.6 230.2h0.75M462.3 240.1h0.75M471.6 238.0h0.75M469.5 228.1h0.75M467.4 230.7h0.75M471.2 235.7h0.75M464.5 235.9h0.75M464.8 235.9h0.75M470.1 241.8h0.75M469.2 237.6h0.75M462.1 249.0h0.75M474.4 228.2h0.75M468.1 245.3h0.75M460.6 237.2h0.75M467.2 242.5h0.75M469.2 237.8h0.75M468.1 236.3h0.75M467.1 238.2h0.75M474.7 230.8h0.75M469.3 238.9h0.75M472.7 229.8h0.75M468.5 232.2h0.75M463.5 241.0h0.75M471.5 235.6h0.75M463.7 237.9h0.75M469.7 230.9h0.75M468.4 229.0h0.75M461.7 239.5h0.75M463.9 236.0h0.75M464.8 237.3h0.75M468.6 234.2h0.75M470.6 239.7h0.75M464.4 244.0h0.75M474.6 228.5h0.75M469.1 229.8h0.75M466.0 236.2h0.75M463.6 239.8h0.75M466.4 234.1h0.75M464.5 241.4h0.75M467.1 228.6h0.75M469.3 242.0h0.75M467.1 234.7h0.75M469.9 230.1h0.75M462.9 240.1h0.75M463.3 241.5h0.75M461.2 241.1h0.75M458.9 238.9h0.75M463.8 232.2h0.75M466.7 236.2h0.75M465.0 234.9h0.75M467.1 232.2h0.75M476.8 229.3h0.75M462.0 234.7h0.75M464.9 234.5h0.75M464.2 235.4h0.75M462.6 242.5h0.75M472.6 236.3h0.75M467.3 239.7h0.75M471.0 223.4h0.75M462.9 238.2h0.75M474.1 234.4h0.75M475.0 227.6h0.75M462.7 236.0h0.75M465.6 238.8h0.75M466.2 231.7h0.75M468.1 238.4h0.75M462.0 243.1h0.75M469.3 235.4h0.75M470.0 228.2h0.75M464.2 237.4h0.75M457.6 234.8h0.75M462.0 243.9h0.75M464.9 248.0h0.75M470.1 233.7h0.75M464.5 238.8h0.75M461.6 247.3h0.75M468.2 233.5h0.75M467.0 224.9h0.75M469.0 234.7h0.75M468.8 240.6h0.75M473.1 236.6h0.75M466.8 238.9h0.75M458.9 249.6h0.75M456.8 246.1h0.75M470.3 240.1h0.75M465.9 238.7h0.75M471.4 236.3h0.75M464.7 236.0h0.75M468.6 233.3h0.75M461.0 235.1h0.75M466.7 236.9h0.75M464.8 240.0h0.75M462.6 237.0h0.75M460.9 237.6h0.75M467.6 219.6h0.75M468.0 236.4h0.75M463.9 237.3h0.75M460.7 235.1h0.75M462.8 234.4h0.75M469.1 244.8h0.75M461.6 239.4h0.75M470.6 241.0h0.75M459.5 235.3h0.75M469.1 243.1h0.75M468.9 243.9h0.75M471.5 238.2h0.75M464.1 229.0h0.75M462.1 232.9h0.75M460.2 234.3h0.75M469.9 238.3h0.75M464.9 234.1h0.75M464.6 242.1h0.75M460.5 239.0h0.75M467.3 230.1h0.75M466.2 232.0h0.75M470.2 234.7h0.75M458.3 243.9h0.75M470.7 236.3h0.75M464.1 245.3h0.75M465.7 244.9h0.75M464.8 239.3h0.75M465.4 235.3h0.75M468.5 229.0h0.75M467.3 227.9h0.75M460.7 241.1h0.75M466.6 233.1h0.75M466.6 245.2h0.75M468.3 233.5h0.75M466.1 225.8h0.75M465.1 234.0h0.75M470.7 227.2h0.75M461.6 234.2h0.75M475.4 227.0h0.75M463.2 232.3h0.75M461.7 243.9h0.75M469.0 237.6h0.75M470.6 227.6h0.75M470.7 236.3h0.75M471.5 227.1h0.75M467.8 239.1h0.75M467.3 236.8h0.75M468.5 239.0h0.75M466.9 230.4h0.75M464.1 235.0h0.75M472.6 245.3h0.75M472.9 239.0h0.75M467.0 242.1h0.75M466.0 233.3h0.75M464.3 235.6h0.75M459.7 248.2h0.75M463.9 234.4h0.75M463.9 231.7h0.75M466.2 235.4h0.75M462.9 234.5h0.75M458.6 219.9h0.75M471.5 234.5h0.75M472.4 235.3h0.75M458.3 237.0h0.75M467.2 235.6h0.75M470.4 239.6h0.75M461.6 240.3h0.75M460.0 246.0h0.75M466.7 227.2h0.75M465.6 242.7h0.75M464.3 228.5h0.75M473.1 236.9h0.75M472.3 240.9h0.75M468.4 236.5h0.75M466.8 228.1h0.75M465.2 236.2h0.75M470.5 227.0h0.75M464.9 233.3h0.75M471.1 233.8h0.75M471.3 236.4h0.75M464.2 233.3h0.75M469.4 233.7h0.75M473.3 236.0h0.75M469.0 237.5h0.75M463.8 234.0h0.75M465.1 236.0h0.75M464.6 230.4h0.75M467.0 224.8h0.75M467.5 231.4h0.75M464.9 233.2h0.75M470.3 230.5h0.75M472.4 229.4h0.75M464.9 237.1h0.75M461.7 241.0h0.75M470.1 235.5h0.75M467.2 240.0h0.75M468.1 232.6h0.75M464.1 242.9h0.75M467.7 235.9h0.75M464.1 242.8h0.75M470.8 238.8h0.75M472.9 230.3h0.75M463.9 236.8h0.75M456.8 235.8h0.75M463.4 241.3h0.75M465.2 239.7h0.75M467.4 235.7h0.75M466.6 232.5h0.75M469.2 232.5h0.75M477.2 225.4h0.75M461.0 246.9h0.75M464.4 237.8h0.75M468.9 239.1h0.75M459.3 234.0h0.75M469.5 243.1h0.75M464.1 241.6h0.75M460.6 233.3h0.75M462.9 242.5h0.75M469.2 243.4h0.75M468.9 225.9h0.75M470.8 230.1h0.75M468.6 238.8h0.75M463.8 243.7h0.75M470.5 236.1h0.75M466.0 240.4h0.75M476.2 234.9h0.75M457.6 236.9h0.75M470.7 238.0h0.75M470.2 235.6h0.75M468.0 240.4h0.75M466.5 232.3h0.75M464.1 238.3h0.75M461.9 232.8h0.75M460.7 244.4h0.75M474.5 236.0h0.75M469.9 236.2h0.75M468.8 234.2h0.75M468.2 237.7h0.75M459.0 229.4h0.75M470.4 236.6h0.75M466.9 238.8h0.75M471.4 240.7h0.75M461.9 241.2h0.75M466.5 227.0h0.75M466.0 235.6h0.75M467.3 239.2h0.75M463.9 234.2h0.75M467.7 238.1h0.75M466.6 233.6h0.75M459.8 246.1h0.75M471.2 237.5h0.75M475.0 223.3h0.75M463.1 237.2h0.75M471.3 228.2h0.75M463.1 235.2h0.75M464.8 233.0h0.75M472.8 236.1h0.75M467.2 240.9h0.75M472.9 233.0h0.75M470.0 229.4h0.75M470.4 236.4h0.75M466.2 231.7h0.75M474.5 239.8h0.75M473.8 236.0h0.75M469.5 240.7h0.75M465.1 246.0h0.75M465.4 225.3h0.75M463.0 236.3h0.75M470.1 223.7h0.75M468.1 232.8h0.75M463.8 242.0h0.75M469.9 228.0h0.75M463.3 233.9h0.75M475.0 222.4h0.75M469.8 230.6h0.75M473.9 234.2h0.75M463.2 235.9h0.75M462.5 239.7h0.75M460.9 243.9h0.75M469.3 237.3h0.75M462.3 233.1h0.75M471.9 238.8h0.75M467.7 229.1h0.75M470.1 228.0h0.75M462.6 237.7h0.75M464.0 238.4h0.75M467.5 232.0h0.75M469.8 237.8h0.75M462.0 236.2h0.75M467.9 231.6h0.75M463.7 238.0h0.75M469.2 237.6h0.75M466.0 241.8h0.75M465.6 236.7h0.75M467.9 241.1h0.75M470.8 234.8h0.75M466.3 233.7h0.75M471.8 235.6h0.75M462.5 235.6h0.75M467.8 230.8h0.75M462.6 243.4h0.75M467.6 236.3h0.75M463.4 240.2h0.75M467.6 239.3h0.75M468.6 237.9h0.75M464.0 232.2h0.75M459.5 232.7h0.75M465.7 238.9h0.75M470.5 235.2h0.75M467.1 236.9h0.75M464.3 238.1h0.75M470.4 226.2h0.75M465.8 231.3h0.75M470.2 243.2h0.75M464.0 235.2h0.75M468.1 233.3h0.75M471.2 239.3h0.75M463.6 229.9h0.75M466.3 232.1h0.75M469.3 227.3h0.75M468.8 242.2h0.75M467.9 237.0h0.75M465.8 239.8h0.75M461.4 242.3h0.75M467.2 236.1h0.75M461.2 245.5h0.75M465.7 236.0h0.75M457.1 247.9h0.75M472.6 228.8h0.75M474.7 228.4h0.75M468.6 246.6h0.75M463.0 244.2h0.75M466.5 234.6h0.75M470.5 222.0h0.75M467.1 238.5h0.75M465.3 230.5h0.75M472.1 223.0h0.75M469.2 234.8h0.75M467.7 241.2h0.75M465.3 241.8h0.75M466.5 243.7h0.75M464.5 235.8h0.75M467.5 234.8h0.75M463.5 240.8h0.75M471.3 224.9h0.75M467.1 238.3h0.75M469.0 235.6h0.75M468.2 229.9h0.75M468.6 230.4h0.75M461.1 236.1h0.75M472.3 231.9h0.75M468.4 234.1h0.75M464.5 231.0h0.75M463.2 232.9h0.75M475.1 236.2h0.75M464.5 235.5h0.75M468.2 235.4h0.75M463.4 238.3h0.75M467.6 227.8h0.75M468.9 234.0h0.75M464.1 234.7h0.75M475.3 225.8h0.75M465.8 240.8h0.75M468.1 238.2h0.75M466.8 238.3h0.75M466.6 241.4h0.75M469.3 233.7h0.75M471.8 238.5h0.75M466.5 234.3h0.75M464.5 236.3h0.75M469.1 233.9h0.75M457.9 238.0h0.75M467.3 236.8h0.75M465.9 232.9h0.75M469.0 236.7h0.75M458.9 239.4h0.75M464.5 236.4h0.75M461.4 234.4h0.75M465.6 236.2h0.75M471.1 238.1h0.75M466.3 225.3h0.75M462.2 231.7h0.75M471.2 236.9h0.75M467.4 231.6h0.75M458.8 244.4h0.75M464.5 233.4h0.75M466.4 238.1h0.75M467.7 231.9h0.75M466.7 234.1h0.75M468.1 239.4h0.75M462.8 235.4h0.75M466.4 236.1h0.75M462.4 240.5h0.75M463.7 237.2h0.75M463.1 233.8h0.75M463.1 236.1h0.75M463.7 239.3h0.75M465.9 238.5h0.75M463.6 239.3h0.75M471.8 241.7h0.75M464.9 241.7h0.75M471.9 234.7h0.75M470.9 243.0h0.75M461.4 230.5h0.75M469.6 234.3h0.75M461.1 231.5h0.75M472.9 233.6h0.75M467.8 236.0h0.75M463.3 240.4h0.75M458.5 248.3h0.75M465.0 242.6h0.75M461.2 236.8h0.75M471.0 235.9h0.75M461.2 236.5h0.75M466.0 235.5h0.75M469.0 241.9h0.75M467.4 241.4h0.75M465.7 241.8h0.75M465.7 244.3h0.75M468.8 240.6h0.75M462.2 237.6h0.75M464.8 231.5h0.75M461.4 232.4h0.75M466.6 233.5h0.75M462.3 240.4h0.75M465.3 242.0h0.75M468.1 229.3h0.75M471.8 233.1h0.75M458.4 244.6h0.75M464.1 242.3h0.75M463.0 227.4h0.75M470.7 231.7h0.75M464.0 235.7h0.75M469.4 232.6h0.75M463.2 238.9h0.75M460.9 235.6h0.75M467.5 231.8h0.75M461.8 231.0h0.75M468.4 243.5h0.75M466.0 232.7h0.75M469.3 233.8h0.75M463.4 233.6h0.75M472.3 231.9h0.75M474.4 242.5h0.75M459.4 238.2h0.75M475.8 224.8h0.75M472.7 230.2h0.75M462.3 242.3h0.75M467.6 245.0h0.75M461.7 232.2h0.75M466.0 236.4h0.75M466.2 233.6h0.75M469.9 239.8h0.75M462.8 233.1h0.75M465.8 235.3h0.75M463.1 239.3h0.75M467.5 241.9h0.75M469.0 234.0h0.75M466.6 235.4h0.75M470.0 238.3h0.75M468.8 237.8h0.75M467.5 233.5h0.75M471.1 239.9h0.75M462.2 235.6h0.75M465.8 233.3h0.75M459.5 240.0h0.75M466.8 242.2h0.75M464.9 229.8h0.75M469.0 230.0h0.75M464.5 236.4h0.75M469.6 241.1h0.75M465.1 233.2h0.75M466.0 234.7h0.75M468.8 228.6h0.75M462.4 230.9h0.75M459.6 235.0h0.75M462.2 239.1h0.75M469.9 244.9h0.75M460.8 248.2h0.75M461.4 239.6h0.75M459.2 244.1h0.75M469.3 237.2h0.75M464.5 241.2h0.75M471.5 239.0h0.75M463.3 231.9h0.75M466.8 234.7h0.75M469.4 234.7h0.75M470.0 227.2h0.75M460.8 242.1h0.75M464.8 235.5h0.75M465.8 241.2h0.75M459.6 241.3h0.75M468.4 234.0h0.75M466.8 237.5h0.75M467.2 239.3h0.75M465.9 237.9h0.75M467.1 238.3h0.75M467.3 239.5h0.75M470.5 240.3h0.75M464.5 230.7h0.75M469.5 241.8h0.75M473.5 234.4h0.75M464.5 242.7h0.75M465.5 241.5h0.75M465.0 232.9h0.75M460.5 235.5h0.75M467.7 235.8h0.75M472.7 224.0h0.75M462.1 239.3h0.75M465.9 231.7h0.75M469.8 233.6h0.75M468.3 231.8h0.75M467.0 236.2h0.75M464.3 234.8h0.75M466.0 237.4h0.75M466.6 247.6h0.75M469.0 224.0h0.75M466.9 233.6h0.75M471.3 232.9h0.75M458.6 240.2h0.75M470.9 238.2h0.75M461.8 240.7h0.75M466.9 234.6h0.75M464.6 232.4h0.75M468.9 233.1h0.75M465.8 235.7h0.75M469.0 233.1h0.75M460.1 244.7h0.75M467.2 231.0h0.75M469.4 236.0h0.75M470.6 231.2h0.75M465.9 240.5h0.75M467.2 230.9h0.75M464.4 242.5h0.75M465.6 227.4h0.75M465.9 239.2h0.75M470.6 235.8h0.75M468.9 239.0h0.75M472.0 238.9h0.75M473.0 234.6h0.75M459.2 246.4h0.75M467.8 230.0h0.75M464.9 237.2h0.75M459.8 250.4h0.75M463.0 236.4h0.75M464.0 237.0h0.75M470.4 233.6h0.75M466.7 238.5h0.75M465.7 237.9h0.75M466.6 249.3h0.75M463.7 243.7h0.75M466.7 247.0h0.75M466.3 243.6h0.75M459.9 236.2h0.75M464.6 227.1h0.75M478.6 223.5h0.75M469.1 238.9h0.75M466.5 234.5h0.75M468.6 236.4h0.75M463.2 236.7h0.75M466.5 234.5h0.75M469.7 239.2h0.75M460.9 234.4h0.75M464.1 239.2h0.75M465.4 239.4h0.75M466.3 237.9h0.75M465.2 240.2h0.75M467.0 243.5h0.75M470.2 236.1h0.75M468.0 232.6h0.75M471.2 230.2h0.75M470.8 238.3h0.75M463.5 229.7h0.75M466.9 237.7h0.75M465.3 239.4h0.75M468.7 245.8h0.75M465.4 229.7h0.75M465.4 231.6h0.75M473.2 226.6h0.75M466.0 243.9h0.75M460.1 236.1h0.75M466.1 244.8h0.75M466.6 230.4h0.75M464.5 237.7h0.75M469.5 236.1h0.75M470.7 232.8h0.75M461.9 238.4h0.75M462.9 230.6h0.75M463.2 230.2h0.75M467.1 243.6h0.75M465.2 233.7h0.75M462.9 249.7h0.75M465.8 229.9h0.75M473.4 235.7h0.75M460.3 241.7h0.75M461.0 239.9h0.75M467.4 224.5h0.75M460.7 235.7h0.75M473.0 234.5h0.75M460.6 234.9h0.75M461.9 240.1h0.75M464.3 237.4h0.75M471.1 236.9h0.75M469.0 235.8h0.75M468.9 236.9h0.75M468.9 229.1h0.75M471.6 232.0h0.75M460.1 239.9h0.75M467.4 243.2h0.75M472.0 228.9h0.75M462.3 239.3h0.75M467.4 234.3h0.75M471.6 235.8h0.75M470.9 232.2h0.75M465.6 233.3h0.75M474.4 241.1h0.75M467.2 243.8h0.75M470.5 235.4h0.75M463.9 244.9h0.75M464.5 232.6h0.75M463.6 237.5h0.75M472.9 227.7h0.75M456.8 236.8h0.75M459.5 237.1h0.75M470.3 237.7h0.75M466.4 234.5h0.75M455.2 236.4h0.75M464.7 231.5h0.75M467.5 234.3h0.75M470.9 235.1h0.75M454.6 245.1h0.75M464.5 239.0h0.75M470.4 237.1h0.75M467.7 229.1h0.75M461.6 233.0h0.75M464.8 237.6h0.75M460.5 241.7h0.75M471.3 230.2h0.75M465.8 229.8h0.75M471.7 231.7h0.75M470.4 240.6h0.75M463.0 244.6h0.75M465.7 229.3h0.75M468.8 230.7h0.75M467.1 238.8h0.75M472.1 234.4h0.75M470.5 234.2h0.75M468.0 235.8h0.75M469.7 239.7h0.75M463.3 233.3h0.75M464.6 240.5h0.75M467.9 241.6h0.75M467.7 230.7h0.75M461.9 238.0h0.75M467.4 229.9h0.75M462.8 236.2h0.75M462.9 233.3h0.75M471.2 225.7h0.75M461.9 236.8h0.75M464.0 232.4h0.75M468.7 237.2h0.75M466.8 235.2h0.75M467.3 249.1h0.75M461.2 239.3h0.75M467.0 240.0h0.75M466.4 244.7h0.75M463.3 234.5h0.75M464.8 237.1h0.75M464.6 235.7h0.75M475.4 242.5h0.75M472.7 231.5h0.75M467.0 225.6h0.75M472.0 230.1h0.75M466.7 241.4h0.75M461.7 235.3h0.75M465.9 236.1h0.75M470.5 238.0h0.75M466.1 240.5h0.75M463.2 238.3h0.75M475.0 242.2h0.75M464.1 232.6h0.75M464.3 233.6h0.75M464.5 237.5h0.75M471.4 230.7h0.75M468.1 230.5h0.75M468.9 242.2h0.75M458.2 239.2h0.75M466.2 234.1h0.75M466.4 228.3h0.75M468.1 237.3h0.75M465.1 237.0h0.75M470.7 230.9h0.75M463.5 233.7h0.75M462.4 228.9h0.75M460.7 247.8h0.75M471.7 233.4h0.75M469.7 236.0h0.75M463.1 236.4h0.75M470.9 233.4h0.75M465.7 237.4h0.75M468.1 233.9h0.75M460.1 246.9h0.75M464.2 244.5h0.75M467.0 242.1h0.75M467.0 235.3h0.75M464.6 232.0h0.75M470.6 227.9h0.75M471.4 240.6h0.75M463.4 239.2h0.75M467.7 230.8h0.75M461.3 238.7h0.75M467.8 229.2h0.75M462.8 230.9h0.75M466.2 239.5h0.75M467.5 238.6h0.75M465.6 235.7h0.75M469.7 239.8h0.75M464.0 237.3h0.75M464.8 238.2h0.75M467.6 227.5h0.75M465.5 238.2h0.75M467.9 238.8h0.75M465.4 236.3h0.75M462.7 237.0h0.75M468.7 244.6h0.75M467.0 241.0h0.75M468.7 242.1h0.75M471.4 235.1h0.75M465.6 235.7h0.75M464.2 239.0h0.75M464.9 244.6h0.75M461.4 234.1h0.75M460.4 241.7h0.75M470.8 234.8h0.75M467.8 234.6h0.75M475.4 227.9h0.75M464.3 239.7h0.75M468.3 240.1h0.75M467.5 242.1h0.75M466.6 241.3h0.75M470.0 234.8h0.75M467.1 223.3h0.75M466.3 234.8h0.75M466.5 239.4h0.75M458.4 240.3h0.75M464.1 239.9h0.75M463.4 244.0h0.75M473.0 233.6h0.75M470.4 232.9h0.75M468.0 234.8h0.75M469.3 238.6h0.75M466.7 236.3h0.75M472.7 237.5h0.75M465.5 237.5h0.75M461.3 247.4h0.75M468.9 230.7h0.75M470.5 236.2h0.75M467.2 249.3h0.75M466.6 237.2h0.75M473.1 229.7h0.75M472.7 219.0h0.75M468.5 240.1h0.75M472.2 225.1h0.75M467.0 241.4h0.75M474.0 228.2h0.75M460.8 235.4h0.75M468.3 236.0h0.75M467.8 241.2h0.75M468.7 241.1h0.75M461.6 233.0h0.75M470.6 226.9h0.75M467.1 236.9h0.75M461.6 240.3h0.75M465.4 241.3h0.75M464.3 237.3h0.75M465.6 239.8h0.75M463.0 232.0h0.75M463.0 236.1h0.75M468.0 232.8h0.75M465.9 242.2h0.75M474.8 240.0h0.75M465.2 240.0h0.75M469.6 227.9h0.75M473.4 229.4h0.75M466.6 236.6h0.75M469.5 230.1h0.75M467.6 232.1h0.75M467.2 239.0h0.75M473.6 225.1h0.75M462.8 232.0h0.75M464.2 243.5h0.75M459.2 241.5h0.75M466.6 231.9h0.75M468.8 227.1h0.75M465.2 228.5h0.75M470.0 239.3h0.75M464.0 240.1h0.75M470.8 227.9h0.75M465.7 239.7h0.75M464.8 235.1h0.75M475.2 234.4h0.75M468.7 232.2h0.75M468.7 241.5h0.75M465.7 242.4h0.75M469.1 240.0h0.75M466.6 226.4h0.75M461.7 229.2h0.75M467.4 227.0h0.75M469.0 237.3h0.75M467.9 240.3h0.75M465.7 234.6h0.75M469.3 236.4h0.75M462.6 242.8h0.75M465.5 233.5h0.75M467.8 241.0h0.75M463.6 231.6h0.75M462.7 237.7h0.75M468.7 236.6h0.75M469.0 241.8h0.75M466.1 238.1h0.75M460.5 238.9h0.75M464.7 233.7h0.75M467.0 236.8h0.75M468.1 235.9h0.75M470.8 241.9h0.75M472.4 236.5h0.75M471.2 230.3h0.75M472.8 232.4h0.75M457.3 240.8h0.75M470.0 241.4h0.75M464.2 242.4h0.75M468.1 237.3h0.75M467.0 233.9h0.75M462.7 239.2h0.75M463.3 243.0h0.75M469.0 235.2h0.75M468.0 236.4h0.75M471.1 228.1h0.75M464.4 236.1h0.75M475.1 235.1h0.75M466.1 236.8h0.75M474.3 231.6h0.75M462.6 247.1h0.75M468.0 239.3h0.75M469.8 239.6h0.75M463.0 240.3h0.75M463.2 239.8h0.75M468.4 228.3h0.75M471.3 230.9h0.75M471.3 232.3h0.75M468.6 239.5h0.75M468.6 233.8h0.75M461.4 236.4h0.75M464.7 244.9h0.75M475.3 239.4h0.75M465.2 230.8h0.75M465.2 231.6h0.75M456.9 241.4h0.75M467.2 231.6h0.75M457.0 237.2h0.75M468.2 223.5h0.75M471.5 247.1h0.75M469.1 233.3h0.75M467.1 229.8h0.75M465.1 234.5h0.75M468.2 238.7h0.75M461.9 240.1h0.75M464.5 230.5h0.75M475.0 221.7h0.75M462.4 246.8h0.75M464.3 253.2h0.75M461.3 234.4h0.75M471.7 229.4h0.75M465.8 238.8h0.75M461.7 246.7h0.75M463.2 232.6h0.75M471.0 227.9h0.75M468.7 244.8h0.75M468.7 234.9h0.75M466.3 233.9h0.75M469.5 234.9h0.75M470.7 228.0h0.75M468.7 233.6h0.75M462.8 235.0h0.75M457.7 239.4h0.75M460.5 246.3h0.75M467.4 224.3h0.75M461.3 241.2h0.75M461.3 238.2h0.75M464.9 231.6h0.75M463.3 234.9h0.75M462.3 238.1h0.75M470.2 247.5h0.75M468.5 234.9h0.75M469.5 229.5h0.75M468.9 234.0h0.75M470.2 241.6h0.75M465.5 231.5h0.75M465.6 226.2h0.75M460.1 234.6h0.75M464.9 231.6h0.75M464.0 245.7h0.75M470.6 236.7h0.75M468.7 247.4h0.75M471.5 228.9h0.75M470.0 232.2h0.75M470.1 246.5h0.75M469.3 232.5h0.75M467.0 230.2h0.75M465.6 241.7h0.75M469.2 235.4h0.75M462.6 229.1h0.75M467.6 243.0h0.75M466.9 233.9h0.75M458.2 235.4h0.75M456.3 239.0h0.75M461.5 240.4h0.75M464.4 236.0h0.75M466.7 230.5h0.75M470.9 230.0h0.75M463.8 229.9h0.75M461.7 247.8h0.75M468.4 235.1h0.75M471.3 234.2h0.75M472.0 224.9h0.75M463.1 243.8h0.75M465.0 228.2h0.75M464.1 240.5h0.75M471.9 238.4h0.75M468.3 241.7h0.75M461.4 239.1h0.75M468.5 237.0h0.75M466.0 235.9h0.75M465.4 237.1h0.75M466.2 233.3h0.75M464.6 234.9h0.75M465.8 248.2h0.75M468.4 228.1h0.75M466.9 236.4h0.75M471.6 234.4h0.75M470.7 238.8h0.75M466.2 232.0h0.75M458.0 240.6h0.75M460.7 234.0h0.75M464.7 242.2h0.75M464.7 229.0h0.75M460.9 234.0h0.75M464.3 242.6h0.75M466.0 232.0h0.75M463.6 240.7h0.75M465.8 243.1h0.75M466.6 238.5h0.75M461.6 238.0h0.75M462.7 239.4h0.75M465.0 234.5h0.75M468.4 229.8h0.75M462.1 245.5h0.75M459.0 248.6h0.75M462.2 240.1h0.75M468.1 234.3h0.75M460.0 237.5h0.75M468.4 231.5h0.75M463.2 234.9h0.75M466.4 246.5h0.75M463.0 237.9h0.75M467.4 239.1h0.75M465.7 237.5h0.75M466.7 243.3h0.75M459.3 237.3h0.75M468.8 235.9h0.75M459.2 241.0h0.75M464.8 244.1h0.75M467.6 228.5h0.75M464.9 232.2h0.75M467.9 232.5h0.75M466.6 238.7h0.75M466.9 240.4h0.75M461.5 230.9h0.75M469.9 235.3h0.75M469.6 231.2h0.75M464.2 226.6h0.75M463.1 244.6h0.75M467.1 241.9h0.75M463.5 234.5h0.75M467.3 243.7h0.75M468.5 237.0h0.75M468.2 238.8h0.75M470.1 231.0h0.75M467.9 242.6h0.75M458.7 238.6h0.75M462.7 235.5h0.75M469.1 240.5h0.75M473.3 238.2h0.75M463.3 232.5h0.75M463.1 233.9h0.75M471.6 241.7h0.75M466.5 243.9h0.75M469.3 226.3h0.75M469.5 232.6h0.75M462.4 240.9h0.75M464.5 237.1h0.75M464.1 237.6h0.75M468.1 233.3h0.75M467.7 227.9h0.75M464.1 229.9h0.75M468.4 239.4h0.75M460.3 242.1h0.75M467.9 237.0h0.75M469.1 227.4h0.75M466.2 230.8h0.75M460.8 248.1h0.75M465.3 238.9h0.75M462.0 240.7h0.75M473.1 227.3h0.75M464.9 230.2h0.75M464.2 240.6h0.75M466.0 244.0h0.75M468.7 234.8h0.75M466.5 233.3h0.75M468.7 233.9h0.75M463.1 243.1h0.75M470.4 236.0h0.75M465.1 234.7h0.75M468.4 234.8h0.75M465.8 233.6h0.75M470.2 237.8h0.75M466.2 238.4h0.75M461.2 238.7h0.75M462.0 252.3h0.75M463.9 238.6h0.75M471.9 231.6h0.75M464.6 234.2h0.75M466.7 237.7h0.75M470.7 235.4h0.75M463.5 233.8h0.75M467.6 236.0h0.75M467.2 242.6h0.75M463.8 235.5h0.75M466.6 244.7h0.75M469.6 239.1h0.75M468.1 224.5h0.75M465.1 235.5h0.75M477.6 226.3h0.75M467.3 233.3h0.75M465.4 232.6h0.75M463.8 236.7h0.75M462.7 234.3h0.75M468.4 233.9h0.75M453.7 246.6h0.75M465.0 235.3h0.75M460.8 238.5h0.75M465.4 231.1h0.75M465.6 231.2h0.75M461.2 232.2h0.75M463.6 242.0h0.75M471.3 228.6h0.75M463.8 229.7h0.75M466.5 238.0h0.75M465.5 239.9h0.75M461.3 241.4h0.75M470.1 237.2h0.75M469.8 238.3h0.75M467.1 228.1h0.75M469.1 238.4h0.75M462.2 237.6h0.75M471.0 238.5h0.75M462.8 225.3h0.75M463.0 240.8h0.75M463.8 244.4h0.75M463.3 232.8h0.75M467.5 239.0h0.75M469.3 234.0h0.75M472.0 225.7h0.75M465.5 241.8h0.75M462.5 230.2h0.75M465.1 239.7h0.75M461.6 251.9h0.75M463.5 236.8h0.75M471.6 235.1h0.75M462.8 244.3h0.75M461.7 225.8h0.75M469.6 236.9h0.75M466.8 242.6h0.75M469.5 235.2h0.75M464.4 232.4h0.75M462.3 232.7h0.75M471.7 235.4h0.75M463.8 238.6h0.75M468.7 236.6h0.75M467.3 241.2h0.75M459.8 235.5h0.75M465.7 235.3h0.75M463.3 230.7h0.75M468.5 239.8h0.75M465.8 228.9h0.75M457.1 234.5h0.75M467.7 231.4h0.75M457.4 241.0h0.75M462.3 233.2h0.75M464.3 238.7h0.75M463.7 232.2h0.75M460.3 239.4h0.75M469.7 237.7h0.75M462.8 238.9h0.75M462.3 243.5h0.75M469.3 231.4h0.75M467.9 234.9h0.75M468.5 239.3h0.75M468.9 222.7h0.75M465.3 236.4h0.75M464.3 231.0h0.75M462.9 241.3h0.75M469.7 232.7h0.75M471.9 235.1h0.75M472.3 230.3h0.75M461.3 236.7h0.75M465.2 225.3h0.75M465.3 248.0h0.75M465.9 236.1h0.75M462.4 229.2h0.75M473.7 241.7h0.75M471.4 229.1h0.75M466.5 235.9h0.75M464.3 235.1h0.75M466.2 239.2h0.75M461.8 240.5h0.75M465.1 247.2h0.75M469.8 236.9h0.75M471.2 236.1h0.75M469.3 234.6h0.75M470.5 226.4h0.75M457.6 240.0h0.75M453.3 236.3h0.75M470.4 233.0h0.75M468.6 240.1h0.75M465.8 237.4h0.75M471.7 234.9h0.75M462.0 239.8h0.75M462.2 232.9h0.75M463.3 236.0h0.75M472.5 235.0h0.75M469.4 233.4h0.75M460.4 243.9h0.75M471.4 237.2h0.75M467.2 229.4h0.75M466.8 230.3h0.75M463.5 233.1h0.75M472.9 224.4h0.75M467.6 234.8h0.75M471.6 233.8h0.75M463.1 235.8h0.75M468.7 229.6h0.75M466.0 229.2h0.75M465.9 235.8h0.75M462.9 237.1h0.75M462.8 232.3h0.75M462.4 234.6h0.75M463.5 235.9h0.75M465.9 239.6h0.75M467.4 236.3h0.75M459.9 239.0h0.75M461.9 236.7h0.75M463.1 236.6h0.75M461.0 236.3h0.75M465.7 235.3h0.75M464.7 239.1h0.75M464.9 237.9h0.75M466.9 234.1h0.75M469.7 232.5h0.75M469.8 233.0h0.75M467.6 232.2h0.75M467.1 238.4h0.75M463.2 229.9h0.75M462.4 243.4h0.75M463.1 248.6h0.75M468.2 230.4h0.75M475.8 228.1h0.75M464.4 240.8h0.75M462.3 240.8h0.75M466.3 228.9h0.75M464.7 233.4h0.75M462.6 240.5h0.75M471.1 236.5h0.75M472.7 230.6h0.75M468.2 228.4h0.75M463.9 226.1h0.75M466.8 235.5h0.75M465.2 234.8h0.75M460.9 243.0h0.75M469.0 236.9h0.75M467.4 247.7h0.75M470.8 242.9h0.75M464.0 231.4h0.75M467.6 233.6h0.75M465.5 240.7h0.75M456.0 235.7h0.75M475.1 232.3h0.75M457.2 242.5h0.75M461.7 242.1h0.75M465.3 237.9h0.75M459.8 231.3h0.75M468.2 237.1h0.75M464.5 226.0h0.75M467.2 232.6h0.75M467.9 229.4h0.75M467.4 236.6h0.75M467.1 241.7h0.75M463.5 232.4h0.75M467.6 240.2h0.75M468.4 229.1h0.75M446.0 240.4h0.75M464.0 237.2h0.75M467.2 239.2h0.75M467.9 238.9h0.75M467.1 232.8h0.75M464.7 240.6h0.75M460.5 252.9h0.75M473.9 239.2h0.75M461.4 233.8h0.75M474.4 231.2h0.75M468.3 239.6h0.75M469.6 236.3h0.75M467.6 237.7h0.75M467.2 223.7h0.75M467.9 241.7h0.75M468.0 239.5h0.75M468.8 234.1h0.75M471.8 232.7h0.75M463.1 239.0h0.75M468.7 230.8h0.75M472.3 234.7h0.75M472.0 236.2h0.75M461.9 241.6h0.75M467.4 236.6h0.75M467.4 236.9h0.75M466.3 234.5h0.75M457.8 233.4h0.75M468.9 236.4h0.75M461.2 233.7h0.75M475.3 227.4h0.75M468.7 235.7h0.75M466.0 245.2h0.75M472.1 232.8h0.75M466.9 234.0h0.75M462.7 232.6h0.75M464.7 247.9h0.75M467.5 231.9h0.75M463.4 238.5h0.75M469.4 233.0h0.75M470.3 229.1h0.75M470.2 232.5h0.75M470.2 231.3h0.75M471.1 232.8h0.75M468.3 242.0h0.75M471.6 232.7h0.75M466.3 237.9h0.75M467.4 234.1h0.75M471.9 241.9h0.75M473.8 229.9h0.75M465.1 236.2h0.75M461.7 238.6h0.75M474.8 233.8h0.75M468.5 230.4h0.75M473.1 232.0h0.75M470.4 230.7h0.75M467.1 234.0h0.75M464.2 239.2h0.75M461.7 236.0h0.75M471.4 229.5h0.75M470.3 236.7h0.75M467.0 233.8h0.75M461.4 237.3h0.75M462.8 231.9h0.75M463.6 237.1h0.75M464.0 236.8h0.75M455.4 244.1h0.75M467.5 237.7h0.75M470.7 231.7h0.75M464.2 230.7h0.75M466.8 243.7h0.75M466.9 238.5h0.75M463.5 235.7h0.75M468.8 231.7h0.75M462.4 241.0h0.75M462.5 242.3h0.75M467.3 236.4h0.75M466.1 234.1h0.75M464.6 236.6h0.75M465.0 239.2h0.75M469.6 233.0h0.75M461.6 239.9h0.75M469.4 235.7h0.75M463.8 233.8h0.75M461.3 238.7h0.75M466.4 232.5h0.75M463.1 233.6h0.75M464.8 239.2h0.75M465.6 239.1h0.75M468.8 233.6h0.75M468.9 234.9h0.75M468.2 227.3h0.75M465.5 234.4h0.75M459.1 238.6h0.75M465.8 241.4h0.75M464.8 237.5h0.75M465.2 233.7h0.75M464.8 243.6h0.75M463.7 240.0h0.75M470.7 230.5h0.75M460.0 235.9h0.75M466.2 238.8h0.75M471.3 234.4h0.75M463.6 239.4h0.75M462.9 238.0h0.75M464.0 232.2h0.75M464.2 233.6h0.75M467.4 223.9h0.75M473.7 225.4h0.75M465.5 234.5h0.75M467.9 233.1h0.75M464.4 232.1h0.75M463.6 234.4h0.75M468.2 233.2h0.75M463.5 235.5h0.75M471.3 232.9h0.75M464.1 240.1h0.75M466.9 233.3h0.75M463.0 238.6h0.75M465.0 240.4h0.75M462.3 234.8h0.75M465.0 240.8h0.75M459.3 243.5h0.75M467.2 226.1h0.75M473.8 228.9h0.75M460.7 239.1h0.75M472.9 231.5h0.75M466.9 235.0h0.75M469.5 237.7h0.75M462.6 240.7h0.75M474.0 238.9h0.75M462.9 234.7h0.75M466.5 229.5h0.75M472.5 226.7h0.75M461.7 237.1h0.75M457.0 234.4h0.75M466.2 232.9h0.75M465.6 231.2h0.75M463.0 230.7h0.75M461.9 239.9h0.75M459.5 236.7h0.75M471.8 234.2h0.75M471.3 236.3h0.75M461.6 237.2h0.75M465.4 230.6h0.75M465.1 229.9h0.75M471.2 236.1h0.75M463.6 237.1h0.75M472.4 223.3h0.75M466.8 234.9h0.75M463.4 237.4h0.75M466.5 225.4h0.75M462.4 237.4h0.75M474.8 227.0h0.75M467.5 235.0h0.75M464.6 243.1h0.75M465.8 235.2h0.75M472.9 240.7h0.75M462.2 247.5h0.75M460.7 231.8h0.75M472.1 229.8h0.75M469.1 235.4h0.75M465.1 231.8h0.75M466.8 228.2h0.75M470.5 231.7h0.75M454.7 246.9h0.75M471.5 237.9h0.75M466.9 230.6h0.75M469.0 235.1h0.75M465.4 230.1h0.75M478.0 235.0h0.75M464.1 234.0h0.75M470.3 243.0h0.75M455.0 239.9h0.75M466.3 232.3h0.75M469.8 228.6h0.75M460.5 247.8h0.75M457.7 245.2h0.75M466.6 239.1h0.75M469.6 231.6h0.75M471.6 225.8h0.75M464.9 230.3h0.75M468.4 241.6h0.75M461.9 240.2h0.75M471.3 228.1h0.75M464.8 234.0h0.75M471.3 239.6h0.75M466.5 231.7h0.75M464.9 233.5h0.75M473.4 228.2h0.75M463.1 237.0h0.75M471.5 231.0h0.75M464.9 231.2h0.75M462.7 234.6h0.75M463.0 234.9h0.75M470.6 229.0h0.75M466.4 231.7h0.75M464.9 238.0h0.75M460.2 235.0h0.75M470.5 228.8h0.75M470.9 237.2h0.75M466.5 241.4h0.75M469.2 231.5h0.75M453.5 237.9h0.75M463.8 239.6h0.75M466.5 233.4h0.75M466.5 225.2h0.75M464.3 244.5h0.75M467.2 233.6h0.75M462.5 236.4h0.75M462.5 237.3h0.75M460.2 239.3h0.75M468.9 234.0h0.75M461.5 238.4h0.75M464.9 238.4h0.75M471.7 229.2h0.75M465.6 226.6h0.75M465.5 237.4h0.75M460.3 235.0h0.75M463.9 231.4h0.75M469.4 239.9h0.75M469.5 236.1h0.75M467.3 238.8h0.75M465.8 236.2h0.75M467.1 230.5h0.75M468.7 239.4h0.75M467.6 229.3h0.75M455.4 230.2h0.75M473.9 236.9h0.75M471.2 233.4h0.75M465.5 231.8h0.75M471.8 239.4h0.75M461.3 246.5h0.75M472.9 231.4h0.75M467.3 238.1h0.75M469.8 233.7h0.75M465.0 239.5h0.75M466.5 237.8h0.75M469.3 237.5h0.75M469.8 238.8h0.75M467.7 229.8h0.75M468.3 233.8h0.75M464.4 233.9h0.75M473.1 237.9h0.75M467.1 228.7h0.75M465.8 230.5h0.75M465.4 228.7h0.75M460.9 238.1h0.75M463.3 240.8h0.75M459.9 237.0h0.75M467.1 241.2h0.75M467.0 236.0h0.75M467.3 237.1h0.75M461.7 238.9h0.75M464.8 244.2h0.75M463.7 232.7h0.75M471.0 241.0h0.75M460.1 237.4h0.75M461.5 239.9h0.75M472.2 243.3h0.75M468.6 231.8h0.75M463.6 236.9h0.75M471.6 224.6h0.75M471.6 224.8h0.75M470.7 238.0h0.75M458.3 249.9h0.75M466.7 232.0h0.75M463.0 233.6h0.75M465.2 236.1h0.75M460.1 229.5h0.75M472.6 231.9h0.75M463.3 241.7h0.75M467.4 236.7h0.75M468.4 234.6h0.75M469.1 229.7h0.75M468.0 237.9h0.75M455.2 239.6h0.75M467.2 232.9h0.75M465.5 237.3h0.75M457.8 238.7h0.75M470.7 229.3h0.75M464.2 234.4h0.75M465.4 233.1h0.75M465.1 239.3h0.75M462.4 244.3h0.75M460.6 242.0h0.75M458.9 241.2h0.75M469.1 233.2h0.75M471.5 236.7h0.75M467.1 239.9h0.75M462.0 239.2h0.75M471.9 231.8h0.75M465.1 238.8h0.75M460.4 233.9h0.75M458.8 236.8h0.75M467.4 234.2h0.75M471.9 236.7h0.75M464.6 229.7h0.75M462.7 235.5h0.75M464.6 231.4h0.75M462.8 235.1h0.75M464.1 238.7h0.75M468.2 236.9h0.75M463.9 239.1h0.75M470.0 230.4h0.75M462.2 236.0h0.75M469.3 242.9h0.75M466.9 232.7h0.75M465.6 243.9h0.75M471.6 236.4h0.75M464.7 231.2h0.75M474.2 230.6h0.75M461.6 239.4h0.75M470.7 246.4h0.75M470.5 231.3h0.75M465.6 238.6h0.75M472.1 234.1h0.75M455.9 247.8h0.75M466.5 240.2h0.75M467.4 236.5h0.75M466.0 246.4h0.75M473.0 229.6h0.75M464.8 232.2h0.75M465.4 240.6h0.75M471.4 238.4h0.75M466.9 237.0h0.75M462.5 238.8h0.75M468.2 238.4h0.75M464.5 238.3h0.75M463.7 242.7h0.75M468.3 243.3h0.75M463.2 233.8h0.75M462.9 236.1h0.75M464.7 243.5h0.75M465.7 236.5h0.75M466.7 236.5h0.75M461.6 229.6h0.75M472.3 228.1h0.75M477.9 224.5h0.75M465.9 238.0h0.75M467.7 230.6h0.75M455.7 244.7h0.75M469.7 238.9h0.75M462.6 227.1h0.75M469.5 241.2h0.75M461.8 231.6h0.75M470.1 236.7h0.75M464.7 241.5h0.75M462.9 228.3h0.75M472.5 242.6h0.75M469.8 233.6h0.75M461.2 237.0h0.75M461.6 244.8h0.75M467.0 240.8h0.75M465.5 241.5h0.75M469.6 223.5h0.75M463.4 246.2h0.75M458.6 245.8h0.75M462.5 239.5h0.75M465.5 242.7h0.75M468.4 231.4h0.75M470.1 240.4h0.75M472.0 237.0h0.75M466.8 236.4h0.75M467.0 239.7h0.75M469.6 234.3h0.75M465.9 244.0h0.75M464.6 238.3h0.75M464.5 232.9h0.75M470.2 231.3h0.75M469.1 241.3h0.75M469.8 242.5h0.75M456.6 230.2h0.75M471.1 229.8h0.75M462.8 248.2h0.75M460.5 234.5h0.75M468.5 234.4h0.75M460.6 237.2h0.75M461.7 230.2h0.75M463.8 238.7h0.75M473.2 230.5h0.75M470.4 236.6h0.75M462.6 230.9h0.75M467.0 232.8h0.75M465.2 231.0h0.75M468.5 234.7h0.75M463.1 245.6h0.75M472.5 235.7h0.75M464.8 235.6h0.75M469.5 234.2h0.75M459.1 244.7h0.75M468.0 246.6h0.75M467.3 239.5h0.75M472.2 239.2h0.75M456.7 239.6h0.75M468.7 239.6h0.75M470.7 227.7h0.75M467.3 238.3h0.75M471.2 239.5h0.75M470.8 235.1h0.75M469.7 229.3h0.75M470.5 228.9h0.75M475.8 236.0h0.75M468.4 237.9h0.75M471.5 234.8h0.75M468.3 233.4h0.75M464.8 239.7h0.75M462.0 252.6h0.75M471.3 229.7h0.75M469.1 232.4h0.75M464.2 242.0h0.75M466.5 236.4h0.75M472.8 235.6h0.75M459.9 245.0h0.75M462.4 237.3h0.75M467.1 241.5h0.75M470.2 235.7h0.75M462.4 235.4h0.75M463.0 234.0h0.75M467.2 226.8h0.75M471.7 233.7h0.75M466.6 233.4h0.75M457.1 238.8h0.75M470.3 238.1h0.75M464.2 247.5h0.75M464.7 242.1h0.75M463.3 246.7h0.75M471.4 234.2h0.75M466.7 228.1h0.75M468.2 232.6h0.75M467.6 223.2h0.75M468.3 234.6h0.75M469.6 222.4h0.75M472.9 223.5h0.75M461.3 234.1h0.75M463.8 228.5h0.75M464.7 238.6h0.75M472.6 242.6h0.75M465.6 231.9h0.75M459.9 232.1h0.75M466.6 232.0h0.75M463.9 233.6h0.75M463.3 238.6h0.75M464.3 239.9h0.75M461.5 236.3h0.75M458.3 236.3h0.75M473.5 234.3h0.75M466.0 230.2h0.75M464.3 228.1h0.75M468.7 244.8h0.75M471.1 232.5h0.75M458.5 246.1h0.75M464.2 238.7h0.75M465.3 236.3h0.75M462.8 234.4h0.75M467.1 233.6h0.75M461.9 234.1h0.75M463.2 236.1h0.75M465.5 239.9h0.75M468.1 231.6h0.75M466.3 236.2h0.75M461.8 235.2h0.75M463.2 237.4h0.75M456.9 240.8h0.75M473.3 240.7h0.75M465.1 235.0h0.75M465.7 239.9h0.75M467.5 234.3h0.75M470.0 235.5h0.75M467.7 227.1h0.75M462.5 230.8h0.75M459.9 228.8h0.75M465.5 238.4h0.75M462.6 227.9h0.75M462.2 238.8h0.75M466.3 237.8h0.75M467.5 232.7h0.75M470.3 237.1h0.75M465.1 225.3h0.75M460.9 238.6h0.75M467.7 234.8h0.75M470.9 236.6h0.75M460.1 239.4h0.75M467.1 237.8h0.75M466.8 228.7h0.75M463.8 231.6h0.75M467.6 233.3h0.75M466.9 237.9h0.75M468.8 233.4h0.75M470.9 230.7h0.75M465.6 241.2h0.75M467.4 233.2h0.75M476.2 240.4h0.75M462.7 240.8h0.75M465.1 240.4h0.75M464.9 238.4h0.75M468.6 226.4h0.75M469.4 240.7h0.75M461.1 237.7h0.75M471.4 237.1h0.75M461.7 243.7h0.75M476.8 233.9h0.75M464.4 244.2h0.75M470.5 235.0h0.75M466.0 234.5h0.75M470.0 240.5h0.75M463.2 237.1h0.75M466.7 236.2h0.75M465.7 250.2h0.75M468.0 236.5h0.75M469.9 239.0h0.75M464.3 240.7h0.75M465.2 243.7h0.75M460.8 249.9h0.75M467.0 242.4h0.75M466.2 248.2h0.75M469.4 232.2h0.75M469.9 240.1h0.75M464.1 233.5h0.75M468.5 237.3h0.75M471.9 232.9h0.75M466.0 239.6h0.75M460.6 240.6h0.75M476.2 231.3h0.75M468.9 236.8h0.75M470.1 232.5h0.75M476.7 235.3h0.75M462.4 242.3h0.75M466.6 243.7h0.75M459.1 231.4h0.75M469.1 227.8h0.75M467.9 235.9h0.75M462.6 236.7h0.75M462.1 240.4h0.75M466.0 236.8h0.75M465.6 226.9h0.75M472.0 232.3h0.75M464.5 236.0h0.75M466.7 237.6h0.75M465.1 235.1h0.75M460.9 234.7h0.75M464.3 238.9h0.75M460.8 240.3h0.75M468.3 232.8h0.75M456.6 240.2h0.75M460.5 241.8h0.75M467.5 234.9h0.75M458.1 238.1h0.75M460.7 240.1h0.75M470.0 237.0h0.75M459.9 237.3h0.75M458.1 243.2h0.75M468.0 241.4h0.75M461.1 242.8h0.75M458.8 240.6h0.75M472.4 237.6h0.75M462.1 244.7h0.75M468.6 230.4h0.75M464.1 245.1h0.75M467.6 240.9h0.75M459.6 234.1h0.75M460.8 242.3h0.75M462.3 241.6h0.75M464.1 242.1h0.75M463.2 237.3h0.75M465.2 245.6h0.75M467.6 231.9h0.75M464.8 239.5h0.75M470.3 231.7h0.75M464.1 240.5h0.75M468.2 241.8h0.75M471.4 237.8h0.75M471.0 227.5h0.75M458.5 240.2h0.75M473.2 234.3h0.75M459.3 234.0h0.75M472.9 243.9h0.75M465.9 238.4h0.75M467.4 232.2h0.75M463.5 244.0h0.75M469.9 233.3h0.75M469.4 236.7h0.75M463.9 230.5h0.75M463.2 235.8h0.75M468.8 233.5h0.75M470.9 234.7h0.75M468.8 237.8h0.75M464.8 244.0h0.75M466.4 240.5h0.75M470.2 244.8h0.75M470.3 236.1h0.75M471.1 232.2h0.75M466.5 227.0h0.75M463.8 235.4h0.75M467.2 228.6h0.75M468.4 241.2h0.75M463.8 239.3h0.75M468.0 234.3h0.75M462.2 241.3h0.75M468.4 230.4h0.75M464.9 232.5h0.75M476.1 233.1h0.75M471.4 238.1h0.75M467.7 237.3h0.75M461.3 243.2h0.75M462.0 228.3h0.75M469.3 236.8h0.75M466.2 229.3h0.75M468.2 241.6h0.75M459.0 229.7h0.75M460.1 241.5h0.75M467.4 236.5h0.75M467.0 232.6h0.75M460.0 234.0h0.75M463.2 230.3h0.75M470.4 234.1h0.75M464.9 241.2h0.75M468.7 228.0h0.75M472.7 233.7h0.75M468.1 241.0h0.75M466.5 241.9h0.75M465.5 238.5h0.75M470.7 245.1h0.75M460.8 244.0h0.75M462.5 240.5h0.75M465.8 229.2h0.75M460.1 234.7h0.75M468.9 235.1h0.75M462.5 250.0h0.75M468.8 240.3h0.75M465.2 239.4h0.75M465.3 233.6h0.75M467.2 243.2h0.75M458.2 241.3h0.75M463.8 245.3h0.75M463.3 230.3h0.75M475.9 232.9h0.75M470.4 239.8h0.75M460.9 244.3h0.75M470.7 236.1h0.75M470.6 233.9h0.75M466.9 239.7h0.75M476.6 234.2h0.75M460.9 230.7h0.75M461.5 238.6h0.75M466.2 238.3h0.75M462.6 230.3h0.75M466.6 234.6h0.75M467.9 228.2h0.75M465.5 238.7h0.75M466.6 236.9h0.75M468.0 233.1h0.75M469.5 231.7h0.75M463.7 239.0h0.75M463.7 228.0h0.75M470.3 240.7h0.75M465.0 233.7h0.75M463.4 238.5h0.75M468.1 237.2h0.75M464.9 237.3h0.75M466.8 226.2h0.75M465.7 240.1h0.75M469.4 246.3h0.75M473.0 227.7h0.75M462.8 236.6h0.75M461.0 236.3h0.75M472.3 229.6h0.75M462.2 229.3h0.75M460.1 242.4h0.75M457.6 241.8h0.75M466.7 232.4h0.75M462.7 238.9h0.75M459.3 238.3h0.75M462.2 243.4h0.75M461.7 242.2h0.75M470.8 231.5h0.75M467.5 251.6h0.75M466.3 234.0h0.75M461.0 251.6h0.75M465.5 224.3h0.75M469.4 228.1h0.75M468.1 227.3h0.75M470.6 227.5h0.75M465.6 241.6h0.75M468.8 235.2h0.75M467.4 239.5h0.75M464.5 234.7h0.75M470.7 235.8h0.75M468.1 233.6h0.75M468.9 238.6h0.75M462.5 236.5h0.75M461.9 242.8h0.75M466.7 238.8h0.75M463.8 241.9h0.75M468.4 236.4h0.75M468.1 233.5h0.75M468.9 234.6h0.75M467.5 237.8h0.75M464.1 233.7h0.75M469.6 239.7h0.75M462.7 231.0h0.75M463.1 238.7h0.75M467.0 240.3h0.75M466.1 236.2h0.75M469.7 231.1h0.75M478.0 230.2h0.75M467.9 233.3h0.75M472.3 233.5h0.75M462.7 226.2h0.75M467.6 233.9h0.75M464.1 235.3h0.75M464.6 235.6h0.75M471.8 219.0h0.75M468.3 233.0h0.75M467.5 234.2h0.75M462.8 242.8h0.75M473.7 227.9h0.75M466.1 238.5h0.75M465.1 238.0h0.75M466.6 225.3h0.75M469.1 240.8h0.75M469.1 230.1h0.75M472.0 234.6h0.75M462.1 246.5h0.75M464.5 240.6h0.75M471.6 236.8h0.75M477.1 232.4h0.75M464.8 238.7h0.75M466.4 238.1h0.75M459.9 240.1h0.75M463.7 231.0h0.75M463.4 233.0h0.75M466.2 241.6h0.75M461.3 237.9h0.75M469.7 237.0h0.75M466.1 230.6h0.75M465.3 244.5h0.75M469.0 231.3h0.75M465.8 232.9h0.75M460.2 241.5h0.75M467.7 237.7h0.75M475.4 230.6h0.75M466.1 243.0h0.75M468.7 240.6h0.75M465.1 244.0h0.75M466.0 233.9h0.75M469.4 240.1h0.75M456.7 241.3h0.75M461.4 250.4h0.75M464.5 239.8h0.75M465.2 231.4h0.75M477.3 229.1h0.75M474.9 225.7h0.75M468.5 248.6h0.75M467.9 246.8h0.75M468.9 226.6h0.75M472.2 232.1h0.75M462.4 245.4h0.75M465.5 233.0h0.75M468.0 234.6h0.75M467.6 235.4h0.75M458.8 237.7h0.75M468.4 230.4h0.75M460.6 234.4h0.75M469.1 234.4h0.75M468.3 233.7h0.75M457.1 238.4h0.75M468.2 234.3h0.75M467.4 234.6h0.75M464.3 238.1h0.75M470.5 233.3h0.75M473.7 229.8h0.75M469.0 235.6h0.75M461.8 239.5h0.75M460.6 230.0h0.75M461.2 230.0h0.75M462.0 237.7h0.75M470.2 238.7h0.75M466.6 228.9h0.75M465.5 243.6h0.75M469.7 226.9h0.75M467.1 230.1h0.75M464.8 239.0h0.75M462.5 238.4h0.75M465.2 242.4h0.75M466.4 235.3h0.75M462.9 243.5h0.75M472.7 241.1h0.75M466.7 234.3h0.75M464.1 240.7h0.75M469.6 235.4h0.75M462.2 238.8h0.75M470.7 238.3h0.75M466.4 236.4h0.75M474.5 238.1h0.75M463.9 235.8h0.75M465.2 239.2h0.75M465.3 230.1h0.75M461.2 240.3h0.75M467.0 232.3h0.75M462.6 234.2h0.75M467.4 236.8h0.75M463.7 243.9h0.75M468.5 232.0h0.75M456.6 247.7h0.75M468.1 233.5h0.75M466.1 244.5h0.75M466.0 238.7h0.75M466.1 237.5h0.75M470.7 237.6h0.75M464.1 236.1h0.75M467.1 233.0h0.75M465.2 235.9h0.75M464.8 236.4h0.75M466.2 230.0h0.75M468.3 232.6h0.75M458.0 238.9h0.75M463.6 241.6h0.75M461.5 244.5h0.75M468.2 238.3h0.75M462.5 234.0h0.75M463.2 237.3h0.75M469.1 231.6h0.75M466.0 243.1h0.75M468.3 244.1h0.75M469.4 234.3h0.75M467.5 247.9h0.75M466.6 237.4h0.75M463.5 247.3h0.75M467.0 235.4h0.75M464.1 234.6h0.75M457.2 246.4h0.75M467.3 230.6h0.75M464.0 235.3h0.75M461.9 238.9h0.75M470.6 242.5h0.75M472.7 238.9h0.75M464.9 238.4h0.75M470.4 233.4h0.75M467.9 235.8h0.75M463.3 246.1h0.75M463.0 246.8h0.75M465.8 235.3h0.75M464.7 238.8h0.75M465.3 233.9h0.75M465.9 234.4h0.75M462.6 233.1h0.75M469.2 230.3h0.75M462.4 232.7h0.75M462.4 237.8h0.75M469.2 245.4h0.75M470.0 231.5h0.75M471.6 232.9h0.75M469.0 231.9h0.75M463.7 243.6h0.75M469.9 232.2h0.75M465.3 232.1h0.75M465.3 234.1h0.75M462.8 240.6h0.75M467.6 246.8h0.75M457.5 244.9h0.75M467.3 227.3h0.75M457.9 239.7h0.75M469.8 230.8h0.75M464.4 238.4h0.75M470.0 240.6h0.75M478.1 224.2h0.75M465.4 233.9h0.75M460.2 232.3h0.75M476.7 233.5h0.75M464.8 243.3h0.75M459.7 232.9h0.75M470.2 236.8h0.75M454.5 240.5h0.75M459.6 239.1h0.75M459.1 235.1h0.75M463.6 235.4h0.75M458.3 233.5h0.75M470.1 234.6h0.75M469.4 229.0h0.75M466.3 228.7h0.75M467.2 236.9h0.75M459.9 243.4h0.75M468.0 238.7h0.75M463.3 231.7h0.75M468.4 233.9h0.75M469.9 228.5h0.75M466.9 235.8h0.75M457.9 250.9h0.75M462.2 241.8h0.75M471.3 240.2h0.75M467.0 245.3h0.75M471.4 235.6h0.75M456.6 236.1h0.75M466.1 232.5h0.75M465.5 235.9h0.75M459.0 236.3h0.75M463.3 238.6h0.75M470.1 226.4h0.75M468.4 230.9h0.75M465.5 233.8h0.75M466.8 247.0h0.75M470.6 229.4h0.75M462.7 232.0h0.75M466.9 236.0h0.75M469.0 243.7h0.75M464.2 232.3h0.75M470.8 236.2h0.75M466.0 237.5h0.75M470.4 236.8h0.75M470.8 236.2h0.75M466.9 241.0h0.75M463.7 236.2h0.75M463.6 231.1h0.75M465.6 236.3h0.75M467.0 241.9h0.75M470.8 235.6h0.75M467.6 237.5h0.75M466.3 238.3h0.75M473.1 230.5h0.75M469.6 236.2h0.75M468.3 235.1h0.75M472.5 233.0h0.75M466.2 242.8h0.75M468.8 232.5h0.75M468.8 230.3h0.75M466.1 235.1h0.75M461.4 239.3h0.75M458.2 226.4h0.75M465.6 232.6h0.75M470.4 224.1h0.75M471.0 238.0h0.75M472.1 238.2h0.75M470.1 241.1h0.75M464.8 242.0h0.75M460.5 242.7h0.75M465.3 237.6h0.75M467.2 234.8h0.75M463.6 239.5h0.75M467.7 235.2h0.75M463.9 241.2h0.75M467.7 239.8h0.75M469.5 240.4h0.75M458.9 242.6h0.75M464.3 229.2h0.75M471.4 246.6h0.75M468.6 232.3h0.75M467.9 230.1h0.75M461.5 241.9h0.75M461.2 235.8h0.75M467.1 229.1h0.75M471.5 236.6h0.75M468.2 234.0h0.75M464.6 239.3h0.75M466.7 237.4h0.75M468.6 235.4h0.75M459.5 240.2h0.75M461.6 241.1h0.75M467.1 238.2h0.75M472.2 228.6h0.75M470.7 227.4h0.75M462.3 236.9h0.75M466.5 231.4h0.75M463.4 239.7h0.75M465.3 239.6h0.75M465.0 237.0h0.75M464.1 229.6h0.75M464.2 236.4h0.75M461.2 244.4h0.75M459.8 233.7h0.75M465.8 224.8h0.75M464.2 235.1h0.75M468.4 242.9h0.75M462.5 236.6h0.75M463.2 228.2h0.75M470.9 235.8h0.75M467.3 234.0h0.75M470.3 236.5h0.75M464.0 234.7h0.75M463.0 246.7h0.75M463.7 241.7h0.75M469.8 235.7h0.75M459.9 236.9h0.75M459.5 238.5h0.75M463.8 241.2h0.75M471.4 235.4h0.75M466.8 241.6h0.75M467.1 240.1h0.75M466.8 238.1h0.75M464.9 235.7h0.75M465.5 227.5h0.75M461.3 240.0h0.75M472.9 236.2h0.75M465.2 236.5h0.75M481.7 241.4h0.75M459.2 236.5h0.75M467.9 230.5h0.75M461.8 243.7h0.75M460.2 241.6h0.75M466.3 227.8h0.75M470.2 234.0h0.75M471.5 236.7h0.75M471.9 236.8h0.75M464.7 229.1h0.75M471.7 234.0h0.75M464.1 240.4h0.75M463.5 235.4h0.75M466.6 227.2h0.75M465.6 241.3h0.75M469.6 243.4h0.75M459.8 231.7h0.75M469.1 235.6h0.75M463.7 231.3h0.75M478.2 227.0h0.75M470.8 240.8h0.75M461.7 246.6h0.75M465.1 230.6h0.75M468.9 237.8h0.75M462.8 236.2h0.75M463.8 242.8h0.75M465.4 231.3h0.75M469.4 238.6h0.75M469.8 241.4h0.75M464.4 228.9h0.75M469.4 233.2h0.75M473.9 233.4h0.75M469.2 229.9h0.75M463.1 244.5h0.75M462.2 231.8h0.75M466.0 229.7h0.75M469.6 231.4h0.75M468.4 237.8h0.75M465.3 240.8h0.75M462.7 236.7h0.75M471.7 239.2h0.75M465.4 236.5h0.75M472.3 236.7h0.75M462.8 238.8h0.75M464.8 236.5h0.75M464.4 242.4h0.75M475.9 232.7h0.75M470.7 233.6h0.75M464.6 245.1h0.75M459.0 232.2h0.75M471.4 236.3h0.75M467.4 235.0h0.75M462.9 233.0h0.75M461.1 238.1h0.75M467.5 246.0h0.75M465.5 228.1h0.75M466.2 228.7h0.75M467.8 237.7h0.75M465.4 233.8h0.75M465.8 233.6h0.75M468.0 241.3h0.75M466.3 235.5h0.75M466.8 235.1h0.75M467.1 228.4h0.75M459.1 250.1h0.75M471.5 234.9h0.75M467.6 240.0h0.75M462.7 232.0h0.75M463.6 242.3h0.75M472.2 238.8h0.75M468.3 239.3h0.75M459.8 239.1h0.75M462.2 236.0h0.75M467.5 233.9h0.75M473.2 234.4h0.75M468.2 237.0h0.75M465.0 241.0h0.75M469.9 237.9h0.75M466.2 240.8h0.75M464.7 242.8h0.75M467.7 224.2h0.75M458.8 241.4h0.75M471.0 233.5h0.75M468.3 238.1h0.75M464.5 239.4h0.75M463.3 229.8h0.75M462.1 230.0h0.75M467.5 236.5h0.75M466.9 235.9h0.75M466.6 223.0h0.75M472.8 239.2h0.75M456.2 240.2h0.75M463.9 234.3h0.75M462.2 242.4h0.75M472.5 228.8h0.75M465.5 242.9h0.75M462.8 234.0h0.75M467.9 229.0h0.75M468.0 242.0h0.75M473.0 231.0h0.75M468.2 226.7h0.75M464.1 240.3h0.75M462.8 235.4h0.75M463.5 238.0h0.75M467.4 243.5h0.75M469.0 234.7h0.75M464.7 228.8h0.75M467.0 237.1h0.75M471.8 227.3h0.75M465.8 251.2h0.75M468.0 236.6h0.75M462.6 248.7h0.75M464.1 242.4h0.75M458.1 238.7h0.75M460.9 233.4h0.75M466.6 239.4h0.75M471.2 226.4h0.75M465.2 229.4h0.75M462.3 239.0h0.75M467.9 242.7h0.75M471.1 239.9h0.75M465.8 240.8h0.75M469.8 235.1h0.75M466.1 228.0h0.75M461.4 230.2h0.75M462.3 232.6h0.75M464.9 236.7h0.75M475.6 230.6h0.75M468.1 228.6h0.75M464.5 244.0h0.75M467.8 235.5h0.75M466.5 232.2h0.75M464.0 242.1h0.75M466.1 229.0h0.75M465.4 234.4h0.75M468.6 233.5h0.75M473.3 231.7h0.75M472.4 235.5h0.75M466.0 234.9h0.75M467.8 238.0h0.75M463.4 240.8h0.75M462.8 238.1h0.75M465.7 228.8h0.75M469.2 240.7h0.75M465.5 229.3h0.75M469.9 228.3h0.75M469.8 235.5h0.75M467.8 237.5h0.75M466.8 233.2h0.75M461.6 240.5h0.75M473.8 241.1h0.75M464.8 229.3h0.75M468.4 242.2h0.75M468.8 238.0h0.75M465.2 240.5h0.75M471.7 234.4h0.75M469.6 230.1h0.75M465.9 238.1h0.75M464.5 239.2h0.75M462.5 236.8h0.75M458.4 241.8h0.75M468.7 233.6h0.75M466.1 231.4h0.75M464.7 235.9h0.75M471.2 224.4h0.75M466.2 233.0h0.75M468.7 231.4h0.75M464.8 250.4h0.75M464.5 239.5h0.75M470.4 229.8h0.75M465.2 243.2h0.75M469.2 238.4h0.75M468.7 232.0h0.75M466.8 228.9h0.75M459.8 238.0h0.75M460.8 238.3h0.75M461.7 236.4h0.75M461.7 248.4h0.75M469.2 234.9h0.75M462.7 242.8h0.75M461.1 240.4h0.75M464.8 244.0h0.75M465.9 243.2h0.75M458.5 241.2h0.75M468.1 232.6h0.75M468.9 232.8h0.75M465.3 244.4h0.75M469.2 239.6h0.75M458.8 245.1h0.75M464.5 234.1h0.75M466.4 231.7h0.75M466.4 232.0h0.75M466.8 232.6h0.75M465.6 227.8h0.75M463.0 238.4h0.75M464.9 237.0h0.75M466.9 231.1h0.75M465.8 244.5h0.75M464.9 242.2h0.75M467.2 236.4h0.75M464.0 228.6h0.75M468.9 240.2h0.75M462.9 236.8h0.75M463.1 238.6h0.75M470.8 230.5h0.75M464.4 234.7h0.75M465.5 235.5h0.75M468.7 237.9h0.75M469.7 236.3h0.75M469.9 243.0h0.75M463.7 242.2h0.75M469.1 232.5h0.75M459.8 253.0h0.75M461.8 230.1h0.75M466.3 242.5h0.75M472.1 231.9h0.75M472.9 225.3h0.75M461.8 252.5h0.75M465.0 246.3h0.75M463.3 242.5h0.75M459.7 238.8h0.75M475.2 227.5h0.75M465.7 226.7h0.75M471.6 236.6h0.75M467.3 229.3h0.75M464.5 237.4h0.75M463.7 238.7h0.75M465.1 232.3h0.75M468.5 239.7h0.75M465.4 241.8h0.75M477.1 226.8h0.75M468.7 235.1h0.75M462.2 237.2h0.75M466.5 235.2h0.75M470.8 244.6h0.75M467.7 233.1h0.75M464.6 227.9h0.75M463.0 238.0h0.75M463.5 233.0h0.75M462.0 235.5h0.75M464.2 231.8h0.75M465.9 233.8h0.75M464.5 246.7h0.75M471.1 228.4h0.75M468.8 230.8h0.75M466.0 245.5h0.75M466.8 238.8h0.75M472.5 228.5h0.75M459.9 231.4h0.75M467.1 238.8h0.75M476.7 218.1h0.75M470.1 231.9h0.75M462.8 237.1h0.75M465.8 235.2h0.75M468.4 232.3h0.75M477.4 226.9h0.75M461.7 242.7h0.75M465.4 232.7h0.75M465.6 233.7h0.75M460.7 222.8h0.75M454.5 238.2h0.75M465.9 236.9h0.75M468.5 238.1h0.75M463.5 236.3h0.75" stroke="#000" stroke-width="0.75" fill="none"/>
<path d="M461.3 232.5h0.6M464.9 234.2h0.6M489.2 230.1h0.6M472.3 230.1h0.6M473.1 244.8h0.6M460.3 243.2h0.6M465.4 255.1h0.6M466.9 245.9h0.6M469.2 241.8h0.6M473.1 250.6h0.6M457.8 239.5h0.6M470.0 215.4h0.6M476.3 218.7h0.6M476.9 233.4h0.6M447.0 235.5h0.6M476.3 241.9h0.6M464.7 231.9h0.6M462.6 241.7h0.6M478.7 229.0h0.6M480.0 239.1h0.6M464.9 228.5h0.6M467.9 226.9h0.6M462.9 225.5h0.6M464.3 240.9h0.6M465.0 243.6h0.6M454.3 230.8h0.6M466.1 233.9h0.6M478.9 225.4h0.6M462.0 223.6h0.6M464.3 245.5h0.6M466.3 233.0h0.6M466.0 238.6h0.6M466.6 238.3h0.6M470.8 231.2h0.6M471.9 228.5h0.6M469.8 221.3h0.6M471.5 224.4h0.6M473.5 216.5h0.6M477.4 229.4h0.6M465.6 254.2h0.6M459.0 237.0h0.6M476.6 244.2h0.6M460.4 237.8h0.6M461.5 235.6h0.6M471.3 235.3h0.6M460.8 220.9h0.6M463.9 244.2h0.6M472.8 241.4h0.6M469.6 231.0h0.6M477.2 228.6h0.6M471.4 226.6h0.6M458.3 238.4h0.6M477.4 230.3h0.6M473.7 226.9h0.6M455.2 236.9h0.6M463.3 233.4h0.6M466.5 241.3h0.6M481.2 252.1h0.6M467.7 238.6h0.6M468.7 229.9h0.6M475.1 243.5h0.6M469.9 241.5h0.6M465.5 224.7h0.6M470.3 228.3h0.6M470.0 231.3h0.6M472.9 236.1h0.6M465.4 241.5h0.6M469.3 234.2h0.6M473.3 250.2h0.6M459.9 243.3h0.6M458.2 222.8h0.6M480.0 225.5h0.6M447.9 251.5h0.6M473.7 230.1h0.6M459.4 231.6h0.6M471.8 239.5h0.6M472.3 230.6h0.6M460.7 250.6h0.6M466.2 241.2h0.6M465.4 242.4h0.6M466.5 223.8h0.6M470.4 237.4h0.6M471.3 240.2h0.6M470.7 241.3h0.6M467.7 236.5h0.6M471.8 219.1h0.6M478.2 227.3h0.6M462.9 238.8h0.6M482.7 231.9h0.6M474.4 223.0h0.6M468.3 253.3h0.6M469.1 239.5h0.6M450.3 249.4h0.6M462.2 240.3h0.6M459.1 236.0h0.6M473.8 250.1h0.6M473.9 226.0h0.6M482.2 233.0h0.6M477.9 246.3h0.6M475.1 232.5h0.6M476.1 237.7h0.6M467.4 230.1h0.6M469.9 252.4h0.6M476.1 246.2h0.6M480.6 211.8h0.6M469.3 243.0h0.6M465.9 234.1h0.6M473.4 223.4h0.6M475.6 218.3h0.6M464.2 227.0h0.6M456.7 246.3h0.6M464.1 232.9h0.6M471.5 229.6h0.6M472.5 222.6h0.6M470.1 226.8h0.6M481.2 238.8h0.6M454.6 249.6h0.6M462.0 224.2h0.6M471.7 246.5h0.6M478.1 227.6h0.6M455.1 233.5h0.6M484.7 242.5h0.6M466.8 239.4h0.6M463.4 246.3h0.6M461.9 224.4h0.6M474.6 243.1h0.6M488.2 225.0h0.6M466.5 238.8h0.6M481.0 220.9h0.6M465.4 231.8h0.6M474.0 227.4h0.6M474.9 232.4h0.6M468.3 222.1h0.6M459.7 243.8h0.6M466.4 227.6h0.6M455.6 236.0h0.6M465.0 235.3h0.6M481.3 231.3h0.6M471.1 253.3h0.6M464.1 228.4h0.6M461.4 232.9h0.6M463.5 221.7h0.6M452.7 236.8h0.6M468.0 242.9h0.6M463.6 229.5h0.6M467.7 246.2h0.6M470.1 242.6h0.6M461.1 235.0h0.6M479.2 244.5h0.6M466.2 224.1h0.6M453.3 236.5h0.6M475.3 237.4h0.6M466.2 246.9h0.6M456.8 227.8h0.6M472.7 234.4h0.6M467.2 215.4h0.6M470.5 241.3h0.6M456.5 241.1h0.6M463.2 243.1h0.6M465.6 246.6h0.6M461.2 238.2h0.6M468.4 236.9h0.6M471.3 214.1h0.6M472.0 237.5h0.6M474.8 228.6h0.6M467.8 234.8h0.6M463.9 247.9h0.6M463.2 241.6h0.6M462.3 220.4h0.6M465.5 229.3h0.6M476.6 224.7h0.6M463.3 246.0h0.6M480.2 218.3h0.6M464.5 237.2h0.6M462.6 246.1h0.6M465.4 242.9h0.6M460.2 239.0h0.6M456.7 236.7h0.6M459.2 235.5h0.6M475.2 221.3h0.6M476.0 226.8h0.6M452.1 252.9h0.6M474.4 227.4h0.6M467.0 259.4h0.6M467.7 232.9h0.6M474.0 234.6h0.6M474.6 241.5h0.6M475.1 222.6h0.6M469.4 234.9h0.6M458.6 237.1h0.6M475.2 241.3h0.6M454.6 234.4h0.6M471.9 241.1h0.6M461.9 249.2h0.6M455.8 242.6h0.6M470.7 227.7h0.6M466.5 241.0h0.6M459.8 220.9h0.6M470.4 237.7h0.6M463.0 227.8h0.6M470.6 229.2h0.6M459.2 226.6h0.6M470.6 239.4h0.6M471.6 227.2h0.6M459.1 227.0h0.6M477.7 242.2h0.6M456.9 245.5h0.6M471.5 251.0h0.6M462.0 241.1h0.6M463.2 246.1h0.6M459.5 228.2h0.6M466.6 251.8h0.6M466.0 246.7h0.6M461.9 254.6h0.6M470.8 248.8h0.6M471.7 228.4h0.6M466.1 244.9h0.6M471.1 239.8h0.6M457.9 227.0h0.6M469.7 228.0h0.6M468.7 232.4h0.6M487.6 226.3h0.6M461.1 237.3h0.6M470.8 214.1h0.6M464.0 228.2h0.6M475.6 228.0h0.6M471.1 225.3h0.6M473.5 222.1h0.6M471.1 231.2h0.6M455.6 238.5h0.6M463.5 243.7h0.6M466.5 230.8h0.6M463.3 242.4h0.6M463.5 221.1h0.6M486.6 231.6h0.6M462.2 236.9h0.6M474.7 234.0h0.6M468.4 250.7h0.6M467.2 249.4h0.6M479.3 223.2h0.6M468.1 231.6h0.6M459.0 232.8h0.6M469.2 249.5h0.6M462.8 234.3h0.6M480.2 237.8h0.6M472.1 226.4h0.6M467.4 237.9h0.6M471.3 238.4h0.6M475.3 236.8h0.6M461.6 233.1h0.6M467.8 228.8h0.6M465.2 251.6h0.6M470.1 239.7h0.6M466.8 246.3h0.6M478.0 242.1h0.6M461.4 232.9h0.6M475.4 237.2h0.6M460.9 237.2h0.6M468.0 231.1h0.6M470.7 210.5h0.6M464.6 238.2h0.6M459.4 238.4h0.6M463.3 211.2h0.6M476.8 226.0h0.6M471.7 237.8h0.6M446.0 233.9h0.6M461.7 238.7h0.6M467.8 239.0h0.6M466.2 247.2h0.6M473.5 215.6h0.6M469.1 229.6h0.6M462.7 239.5h0.6M466.3 248.5h0.6M462.0 243.6h0.6M469.5 218.9h0.6M463.4 247.1h0.6M460.8 236.4h0.6M465.4 232.1h0.6M470.4 227.8h0.6M471.1 235.9h0.6M467.8 241.5h0.6M480.1 221.0h0.6M465.2 220.9h0.6M478.1 241.6h0.6M482.3 226.9h0.6M471.3 229.7h0.6M460.1 243.1h0.6M473.2 229.5h0.6M459.9 234.2h0.6M467.2 243.7h0.6M463.6 237.3h0.6M467.3 237.7h0.6M477.2 235.9h0.6M465.4 231.5h0.6M483.5 224.4h0.6M468.0 220.1h0.6M460.5 257.3h0.6M470.0 244.2h0.6M460.7 241.5h0.6M468.4 233.5h0.6M483.5 222.0h0.6M481.1 250.2h0.6M459.4 237.6h0.6M460.9 256.9h0.6M459.5 225.7h0.6M467.0 234.9h0.6M465.6 241.3h0.6M470.4 243.8h0.6M457.4 244.8h0.6M466.9 236.7h0.6M461.1 238.7h0.6M459.2 247.0h0.6M474.6 237.4h0.6M463.3 226.6h0.6M481.5 221.8h0.6M458.9 243.4h0.6M470.8 244.3h0.6M470.4 242.1h0.6M479.8 217.4h0.6M486.2 216.6h0.6M485.8 239.4h0.6M476.4 234.3h0.6M475.6 224.8h0.6M475.9 234.1h0.6M475.2 234.8h0.6M460.9 253.5h0.6M454.2 238.4h0.6M461.1 228.5h0.6M459.5 241.2h0.6M472.6 244.9h0.6M474.1 229.5h0.6M466.1 229.3h0.6M463.0 243.4h0.6M473.7 249.0h0.6M476.0 231.7h0.6M470.9 245.7h0.6M474.9 226.3h0.6M461.3 233.5h0.6M462.3 240.4h0.6M478.1 231.5h0.6M463.5 248.7h0.6M478.9 236.8h0.6M486.7 246.1h0.6M469.6 225.3h0.6M476.2 244.0h0.6M471.0 243.3h0.6M470.2 248.1h0.6M466.8 236.8h0.6M475.9 221.8h0.6M470.5 232.1h0.6M470.1 236.8h0.6M454.6 237.9h0.6M466.1 220.6h0.6M466.3 243.6h0.6M464.8 240.6h0.6M459.8 241.2h0.6M465.9 231.4h0.6M479.5 236.8h0.6M468.3 237.2h0.6M456.9 237.4h0.6M457.2 231.4h0.6M469.4 224.6h0.6M472.7 241.5h0.6M470.5 241.3h0.6M472.7 239.8h0.6M466.1 233.2h0.6M473.9 235.5h0.6M471.3 230.6h0.6M455.4 232.9h0.6M478.4 245.6h0.6M473.1 229.9h0.6M458.6 242.9h0.6M469.1 232.3h0.6M469.6 236.5h0.6M461.6 241.4h0.6M464.9 232.3h0.6M475.9 224.1h0.6M464.7 241.7h0.6M468.6 232.3h0.6M466.5 225.8h0.6M464.0 242.4h0.6M466.7 229.5h0.6M472.2 228.8h0.6M469.4 247.8h0.6M462.3 248.4h0.6M475.0 239.4h0.6M466.2 242.0h0.6M458.5 226.6h0.6M471.6 245.2h0.6M477.4 221.4h0.6M468.4 245.1h0.6M476.7 246.9h0.6M475.1 239.1h0.6M467.6 245.2h0.6M474.5 236.6h0.6M464.7 235.4h0.6M471.0 246.8h0.6M459.8 242.6h0.6M468.4 227.0h0.6M470.0 242.3h0.6M476.4 215.8h0.6M467.5 238.1h0.6M467.5 245.4h0.6M486.7 214.5h0.6M467.7 245.8h0.6M471.0 228.9h0.6M469.5 225.6h0.6M456.1 228.3h0.6M466.4 238.7h0.6M474.6 247.7h0.6M478.2 225.6h0.6M468.1 236.3h0.6M475.3 247.6h0.6M459.7 236.4h0.6M466.3 245.2h0.6M472.3 232.5h0.6M465.4 239.1h0.6M466.3 229.3h0.6M462.5 234.7h0.6M478.5 241.5h0.6M469.3 227.1h0.6M469.8 227.6h0.6M474.4 213.0h0.6M462.7 232.5h0.6M475.0 232.6h0.6M457.7 234.3h0.6M464.9 238.6h0.6M474.8 228.1h0.6M453.3 241.9h0.6M456.4 227.4h0.6M466.5 238.3h0.6M474.8 244.1h0.6M473.4 239.8h0.6M473.2 216.2h0.6M462.4 226.9h0.6M466.1 246.9h0.6M467.7 236.2h0.6M473.5 235.8h0.6M469.5 214.4h0.6M465.0 234.6h0.6M462.2 236.7h0.6M471.3 231.9h0.6M469.1 250.7h0.6M462.3 239.1h0.6M470.0 238.7h0.6M465.6 239.8h0.6M480.5 245.8h0.6M460.8 232.7h0.6M463.7 231.5h0.6M468.0 238.4h0.6M458.4 233.9h0.6M460.4 230.3h0.6M458.2 232.2h0.6M462.2 238.9h0.6M465.1 255.1h0.6M483.7 249.5h0.6M478.3 233.4h0.6M457.7 248.4h0.6M461.3 233.8h0.6M476.6 244.7h0.6M464.4 236.9h0.6M471.0 224.7h0.6M468.8 236.3h0.6M479.2 249.0h0.6M480.4 240.9h0.6M476.1 226.3h0.6M469.1 237.2h0.6M470.1 254.8h0.6M470.2 231.8h0.6M468.7 244.8h0.6M455.9 229.3h0.6M463.6 230.2h0.6M457.1 227.8h0.6M468.6 235.3h0.6M472.3 236.4h0.6M472.6 246.4h0.6M460.7 249.5h0.6M474.8 230.2h0.6M458.4 242.0h0.6M470.5 235.7h0.6M467.3 232.6h0.6M467.1 255.2h0.6M474.2 237.6h0.6M475.6 225.3h0.6M462.8 226.4h0.6M467.6 228.4h0.6M468.0 211.7h0.6M472.4 237.7h0.6M455.4 241.9h0.6M458.0 242.4h0.6M485.2 232.4h0.6M473.7 237.6h0.6M468.6 244.3h0.6M467.7 244.2h0.6M467.8 236.5h0.6M460.3 245.6h0.6M465.7 237.7h0.6M467.3 234.0h0.6M464.0 238.3h0.6M463.3 237.4h0.6M463.7 229.5h0.6M489.6 243.8h0.6M474.2 237.4h0.6M459.7 243.3h0.6M464.9 221.1h0.6M469.8 230.2h0.6M463.7 231.1h0.6M472.4 233.6h0.6M483.0 234.0h0.6M451.2 237.2h0.6M476.1 250.9h0.6M468.4 225.6h0.6M458.3 254.1h0.6M462.7 243.8h0.6M449.7 232.7h0.6M458.6 247.9h0.6M480.2 228.6h0.6M459.8 234.7h0.6M452.5 250.6h0.6M470.7 226.0h0.6M478.1 250.2h0.6M479.2 232.1h0.6M457.2 246.9h0.6M462.4 240.5h0.6M466.5 234.5h0.6M471.9 239.4h0.6M460.9 217.3h0.6M472.9 223.2h0.6M476.4 216.1h0.6M466.8 227.9h0.6M471.7 235.2h0.6M479.2 234.5h0.6M466.1 228.9h0.6M476.3 247.0h0.6M464.8 247.0h0.6M468.5 248.4h0.6M467.9 229.5h0.6M466.1 245.2h0.6M471.3 232.0h0.6M470.4 236.1h0.6M468.3 241.6h0.6M469.6 237.4h0.6M472.6 232.3h0.6M460.0 231.7h0.6M460.9 232.6h0.6M467.6 251.9h0.6M472.8 237.2h0.6M461.5 224.4h0.6M472.4 216.2h0.6M464.7 230.9h0.6M466.2 226.4h0.6M472.2 226.7h0.6M468.2 247.7h0.6M464.7 246.1h0.6M472.0 236.2h0.6M469.1 240.2h0.6M462.5 234.5h0.6M449.8 246.6h0.6M477.9 251.1h0.6M463.4 247.1h0.6M468.3 247.8h0.6M470.3 212.7h0.6M456.4 230.4h0.6M473.3 235.9h0.6M474.9 240.4h0.6M463.8 227.7h0.6M468.1 239.3h0.6M483.8 250.4h0.6M459.6 249.7h0.6M459.7 240.4h0.6M466.9 240.1h0.6M466.3 242.0h0.6M460.7 251.4h0.6M468.2 241.3h0.6M463.7 231.2h0.6M476.6 232.2h0.6M476.6 226.2h0.6M480.4 242.7h0.6M482.4 234.6h0.6M466.6 242.2h0.6M465.1 235.2h0.6M479.4 221.5h0.6M475.9 238.7h0.6M475.1 233.7h0.6M460.0 253.9h0.6M476.6 229.0h0.6M473.6 235.5h0.6M462.9 233.4h0.6M472.7 233.1h0.6M465.3 230.0h0.6M470.1 230.1h0.6M470.9 245.7h0.6M464.2 236.8h0.6M469.0 233.6h0.6M464.2 226.2h0.6M472.3 244.6h0.6M468.5 235.9h0.6M485.4 229.8h0.6M464.7 239.0h0.6M466.5 245.6h0.6M457.2 250.4h0.6M458.2 230.4h0.6M464.8 241.6h0.6M471.3 247.1h0.6M455.0 245.2h0.6M460.2 253.5h0.6M477.5 240.3h0.6M480.1 237.0h0.6M467.0 241.2h0.6M474.1 244.2h0.6M459.9 239.1h0.6M482.0 237.4h0.6M469.1 238.6h0.6M477.0 238.1h0.6M468.7 242.1h0.6M466.3 234.0h0.6M455.7 236.5h0.6M465.4 237.3h0.6M490.0 240.7h0.6M473.4 228.4h0.6M474.8 251.9h0.6M469.4 223.4h0.6M470.3 232.6h0.6M477.0 223.2h0.6M463.5 225.8h0.6M463.8 260.4h0.6M472.4 241.3h0.6M472.2 227.3h0.6M466.9 225.8h0.6M472.1 249.3h0.6M472.9 241.7h0.6M467.9 227.4h0.6M469.8 240.4h0.6M470.8 234.4h0.6M467.7 236.6h0.6M468.3 227.9h0.6M471.3 229.7h0.6M457.3 233.9h0.6M466.5 234.1h0.6M469.7 237.8h0.6M471.0 220.7h0.6M473.0 241.1h0.6M464.3 251.5h0.6M474.9 246.7h0.6M475.1 222.7h0.6M468.4 248.5h0.6M461.1 230.9h0.6M465.6 251.2h0.6M466.6 234.9h0.6M476.2 233.5h0.6M465.6 243.0h0.6M471.9 234.8h0.6M463.0 221.1h0.6M478.9 224.5h0.6M464.3 221.7h0.6M465.9 228.5h0.6M474.0 223.1h0.6M469.9 227.1h0.6M452.8 244.6h0.6M467.5 231.3h0.6M478.0 219.4h0.6M451.7 239.6h0.6M470.3 232.7h0.6M455.4 235.7h0.6M460.9 225.0h0.6M453.0 251.7h0.6M474.2 219.0h0.6M474.7 241.3h0.6M473.2 236.8h0.6M490.1 222.4h0.6M464.8 244.5h0.6M467.2 226.8h0.6M474.5 231.1h0.6M457.4 232.5h0.6M468.4 240.8h0.6M457.9 246.9h0.6M474.7 233.0h0.6M474.8 240.6h0.6M469.9 234.5h0.6M461.2 217.4h0.6M453.1 233.8h0.6M461.8 238.1h0.6M473.8 232.7h0.6M459.3 227.7h0.6M467.5 246.1h0.6M478.0 237.2h0.6M460.1 238.0h0.6M476.4 231.8h0.6M460.1 239.7h0.6M464.9 248.3h0.6M473.6 234.4h0.6M466.1 217.3h0.6M457.2 242.5h0.6M464.0 232.4h0.6M467.8 246.5h0.6M466.2 240.9h0.6" stroke="#555" stroke-width="0.6" fill="none"/>
<ellipse cx="466.5" cy="236.3" rx="4.8" ry="8.2" fill="#000" transform="rotate(-30 466.5 236.3)"/>
<line x1="448.30" y1="245.80" x2="493.70" y2="226.50" stroke="#b8c4ea" stroke-width="2.0"/>
<line x1="448.30" y1="245.80" x2="493.70" y2="226.50" stroke="#3f56a8" stroke-width="1.0"/>
<rect x="50.60" y="342.20" width="60.00" height="59.20" fill="#ececec" stroke="none" stroke-width="0.8"/>
<line x1="57.40" y1="342.20" x2="57.40" y2="401.40" stroke="#fcfcfc" stroke-width="0.6"/>
<line x1="66.10" y1="342.20" x2="66.10" y2="401.40" stroke="#f4f4f4" stroke-width="0.35"/>
<line x1="74.80" y1="342.20" x2="74.80" y2="401.40" stroke="#fcfcfc" stroke-width="0.6"/>
<line x1="83.50" y1="342.20" x2="83.50" y2="401.40" stroke="#f4f4f4" stroke-width="0.35"/>
<line x1="92.20" y1="342.20" x2="92.20" y2="401.40" stroke="#fcfcfc" stroke-width="0.6"/>
<line x1="100.90" y1="342.20" x2="100.90" y2="401.40" stroke="#f4f4f4" stroke-width="0.35"/>
<line x1="109.60" y1="342.20" x2="109.60" y2="401.40" stroke="#fcfcfc" stroke-width="0.6"/>
<line x1="50.60" y1="396.45" x2="110.60" y2="396.45" stroke="#f4f4f4" stroke-width="0.35"/>
<line x1="50.60" y1="389.90" x2="110.60" y2="389.90" stroke="#fcfcfc" stroke-width="0.6"/>
<line x1="50.60" y1="383.35" x2="110.60" y2="383.35" stroke="#f4f4f4" stroke-width="0.35"/>
<line x1="50.60" y1="376.80" x2="110.60" y2="376.80" stroke="#fcfcfc" stroke-width="0.6"/>
<line x1="50.60" y1="370.25" x2="110.60" y2="370.25" stroke="#f4f4f4" stroke-width="0.35"/>
<line x1="50.60" y1="363.70" x2="110.60" y2="363.70" stroke="#fcfcfc" stroke-width="0.6"/>
<line x1="50.60" y1="357.15" x2="110.60" y2="357.15" stroke="#f4f4f4" stroke-width="0.35"/>
<line x1="50.60" y1="350.60" x2="110.60" y2="350.60" stroke="#fcfcfc" stroke-width="0.6"/>
<line x1="50.60" y1="344.05" x2="110.60" y2="344.05" stroke="#f4f4f4" stroke-width="0.35"/>
<line x1="50.60" y1="376.80" x2="110.60" y2="376.80" stroke="#bcbcbc" stroke-width="0.8"/>
<line x1="74.80" y1="342.20" x2="74.80" y2="401.40" stroke="#a0a0a0" stroke-width="0.6"/>
<line x1="47.60" y1="350.60" x2="50.10" y2="350.60" stroke="#333" stroke-width="0.7"/>
<text x="43.60" y="352.90" font-size="6.5" fill="#333" text-anchor="end" stroke="#333" stroke-width="0.03">4</text>
<line x1="47.60" y1="363.70" x2="50.10" y2="363.70" stroke="#333" stroke-width="0.7"/>
<text x="43.60" y="366.00" font-size="6.5" fill="#333" text-anchor="end" stroke="#333" stroke-width="0.03">2</text>
<line x1="47.60" y1="376.80" x2="50.10" y2="376.80" stroke="#333" stroke-width="0.7"/>
<text x="43.60" y="379.10" font-size="6.5" fill="#333" text-anchor="end" stroke="#333" stroke-width="0.03">0</text>
<line x1="47.60" y1="389.90" x2="50.10" y2="389.90" stroke="#333" stroke-width="0.7"/>
<text x="43.60" y="392.20" font-size="6.5" fill="#333" text-anchor="end" stroke="#333" stroke-width="0.03">−2</text>
<line x1="57.40" y1="402.40" x2="57.40" y2="404.60" stroke="#333" stroke-width="0.7"/>
<text x="57.40" y="413.80" font-size="6.5" fill="#333" text-anchor="middle" stroke="#333" stroke-width="0.03">−2</text>
<line x1="74.80" y1="402.40" x2="74.80" y2="404.60" stroke="#333" stroke-width="0.7"/>
<text x="74.80" y="413.80" font-size="6.5" fill="#333" text-anchor="middle" stroke="#333" stroke-width="0.03">0</text>
<line x1="92.20" y1="402.40" x2="92.20" y2="404.60" stroke="#333" stroke-width="0.7"/>
<text x="92.20" y="413.80" font-size="6.5" fill="#333" text-anchor="middle" stroke="#333" stroke-width="0.03">2</text>
<line x1="109.60" y1="402.40" x2="109.60" y2="404.60" stroke="#333" stroke-width="0.7"/>
<text x="109.60" y="413.80" font-size="6.5" fill="#333" text-anchor="middle" stroke="#333" stroke-width="0.03">4</text>
<text x="65.70" y="426.70" font-size="8.6" textLength="28.20" lengthAdjust="spacingAndGlyphs" stroke="#262626" stroke-width="0.07">H3K27ac</text>
<text x="54.00" y="436.70" font-size="8.6" textLength="51.60" lengthAdjust="spacingAndGlyphs" stroke="#262626" stroke-width="0.07">log2 fold change</text>
<text x="21.00" y="372.20" font-size="8.4" text-anchor="middle" textLength="17.50" lengthAdjust="spacingAndGlyphs" transform="rotate(-90 21.00 372.20)" stroke="#262626" stroke-width="0.07">eRNA</text>
<text x="29.90" y="372.20" font-size="7.9" text-anchor="middle" textLength="51.70" lengthAdjust="spacingAndGlyphs" transform="rotate(-90 29.90 372.20)" stroke="#262626" stroke-width="0.07">log2 fold change</text>
<text x="48.10" y="328.20" font-size="8.5" textLength="65.00" lengthAdjust="spacingAndGlyphs" stroke="#262626" stroke-width="0.07">Dynamic intergenic</text>
<text x="42.10" y="336.40" font-size="8.5" textLength="77.00" lengthAdjust="spacingAndGlyphs" stroke="#262626" stroke-width="0.07">H3K27ac/eRNA peaks</text>
<text x="86.80" y="348.30" font-size="7.2" textLength="22.20" lengthAdjust="spacingAndGlyphs" stroke="#262626" stroke-width="0.07">Control</text>
<text x="94.50" y="354.50" font-size="7.2" textLength="15.00" lengthAdjust="spacingAndGlyphs" stroke="#262626" stroke-width="0.07">T-ALL</text>
<text x="49.80" y="376.30" font-size="6.8" textLength="12.40" lengthAdjust="spacingAndGlyphs" stroke="#262626" stroke-width="0.07">27%</text>
<text x="51.40" y="383.70" font-size="6.8" textLength="11.50" lengthAdjust="spacingAndGlyphs" stroke="#262626" stroke-width="0.07">26%</text>
<text x="96.00" y="376.30" font-size="6.8" textLength="11.50" lengthAdjust="spacingAndGlyphs" stroke="#262626" stroke-width="0.07">28%</text>
<text x="96.80" y="383.70" font-size="6.8" textLength="11.50" lengthAdjust="spacingAndGlyphs" stroke="#262626" stroke-width="0.07">18%</text>
<path d="M72.2,376.8 L74.8,373.8 L77.4,376.8 L74.8,379.8 Z" fill="#000"/>
<rect x="79.15" y="374.18" width="0.90" height="0.90" fill="#888" stroke="none" stroke-width="0.8"/>
<rect x="71.75" y="378.76" width="0.90" height="0.90" fill="#888" stroke="none" stroke-width="0.8"/>
<rect x="75.67" y="382.69" width="0.90" height="0.90" fill="#888" stroke="none" stroke-width="0.8"/>
<rect x="80.02" y="376.15" width="0.90" height="0.90" fill="#888" stroke="none" stroke-width="0.8"/>
<rect x="73.06" y="370.91" width="0.90" height="0.90" fill="#888" stroke="none" stroke-width="0.8"/>
<rect x="75.23" y="391.87" width="0.90" height="0.90" fill="#888" stroke="none" stroke-width="0.8"/>
<rect x="182.60" y="342.20" width="59.20" height="59.20" fill="#ececec" stroke="none" stroke-width="0.8"/>
<line x1="189.40" y1="342.20" x2="189.40" y2="401.40" stroke="#fcfcfc" stroke-width="0.6"/>
<line x1="198.10" y1="342.20" x2="198.10" y2="401.40" stroke="#f4f4f4" stroke-width="0.35"/>
<line x1="206.80" y1="342.20" x2="206.80" y2="401.40" stroke="#fcfcfc" stroke-width="0.6"/>
<line x1="215.50" y1="342.20" x2="215.50" y2="401.40" stroke="#f4f4f4" stroke-width="0.35"/>
<line x1="224.20" y1="342.20" x2="224.20" y2="401.40" stroke="#fcfcfc" stroke-width="0.6"/>
<line x1="232.90" y1="342.20" x2="232.90" y2="401.40" stroke="#f4f4f4" stroke-width="0.35"/>
<line x1="182.60" y1="396.45" x2="241.80" y2="396.45" stroke="#f4f4f4" stroke-width="0.35"/>
<line x1="182.60" y1="389.90" x2="241.80" y2="389.90" stroke="#fcfcfc" stroke-width="0.6"/>
<line x1="182.60" y1="383.35" x2="241.80" y2="383.35" stroke="#f4f4f4" stroke-width="0.35"/>
<line x1="182.60" y1="376.80" x2="241.80" y2="376.80" stroke="#fcfcfc" stroke-width="0.6"/>
<line x1="182.60" y1="370.25" x2="241.80" y2="370.25" stroke="#f4f4f4" stroke-width="0.35"/>
<line x1="182.60" y1="363.70" x2="241.80" y2="363.70" stroke="#fcfcfc" stroke-width="0.6"/>
<line x1="182.60" y1="357.15" x2="241.80" y2="357.15" stroke="#f4f4f4" stroke-width="0.35"/>
<line x1="182.60" y1="350.60" x2="241.80" y2="350.60" stroke="#fcfcfc" stroke-width="0.6"/>
<line x1="182.60" y1="344.05" x2="241.80" y2="344.05" stroke="#f4f4f4" stroke-width="0.35"/>
<line x1="182.60" y1="376.80" x2="241.80" y2="376.80" stroke="#bcbcbc" stroke-width="0.8"/>
<line x1="206.80" y1="342.20" x2="206.80" y2="401.40" stroke="#a0a0a0" stroke-width="0.6"/>
<line x1="179.60" y1="350.60" x2="182.10" y2="350.60" stroke="#333" stroke-width="0.7"/>
<text x="175.60" y="352.90" font-size="6.5" fill="#333" text-anchor="end" stroke="#333" stroke-width="0.03">4</text>
<line x1="179.60" y1="363.70" x2="182.10" y2="363.70" stroke="#333" stroke-width="0.7"/>
<text x="175.60" y="366.00" font-size="6.5" fill="#333" text-anchor="end" stroke="#333" stroke-width="0.03">2</text>
<line x1="179.60" y1="376.80" x2="182.10" y2="376.80" stroke="#333" stroke-width="0.7"/>
<text x="175.60" y="379.10" font-size="6.5" fill="#333" text-anchor="end" stroke="#333" stroke-width="0.03">0</text>
<line x1="179.60" y1="389.90" x2="182.10" y2="389.90" stroke="#333" stroke-width="0.7"/>
<text x="175.60" y="392.20" font-size="6.5" fill="#333" text-anchor="end" stroke="#333" stroke-width="0.03">−2</text>
<line x1="189.40" y1="402.40" x2="189.40" y2="404.60" stroke="#333" stroke-width="0.7"/>
<text x="189.40" y="413.80" font-size="6.5" fill="#333" text-anchor="middle" stroke="#333" stroke-width="0.03">−2</text>
<line x1="206.80" y1="402.40" x2="206.80" y2="404.60" stroke="#333" stroke-width="0.7"/>
<text x="206.80" y="413.80" font-size="6.5" fill="#333" text-anchor="middle" stroke="#333" stroke-width="0.03">0</text>
<line x1="224.20" y1="402.40" x2="224.20" y2="404.60" stroke="#333" stroke-width="0.7"/>
<text x="224.20" y="413.80" font-size="6.5" fill="#333" text-anchor="middle" stroke="#333" stroke-width="0.03">2</text>
<line x1="241.60" y1="402.40" x2="241.60" y2="404.60" stroke="#333" stroke-width="0.7"/>
<text x="241.60" y="413.80" font-size="6.5" fill="#333" text-anchor="middle" stroke="#333" stroke-width="0.03">4</text>
<text x="197.70" y="426.70" font-size="8.6" textLength="28.20" lengthAdjust="spacingAndGlyphs" stroke="#262626" stroke-width="0.07">H3K27ac</text>
<text x="186.00" y="436.70" font-size="8.6" textLength="51.60" lengthAdjust="spacingAndGlyphs" stroke="#262626" stroke-width="0.07">log2 fold change</text>
<text x="153.60" y="372.20" font-size="8.4" text-anchor="middle" textLength="17.50" lengthAdjust="spacingAndGlyphs" transform="rotate(-90 153.60 372.20)" stroke="#262626" stroke-width="0.07">ERNA</text>
<text x="162.50" y="372.20" font-size="7.9" text-anchor="middle" textLength="51.70" lengthAdjust="spacingAndGlyphs" transform="rotate(-90 162.50 372.20)" stroke="#262626" stroke-width="0.07">log2 fold change</text>
<text x="179.60" y="328.20" font-size="8.5" textLength="64.00" lengthAdjust="spacingAndGlyphs" stroke="#262626" stroke-width="0.07">Dynamic intergenic</text>
<text x="173.60" y="336.40" font-size="8.5" textLength="76.00" lengthAdjust="spacingAndGlyphs" stroke="#262626" stroke-width="0.07">H3K27ac/eRNA peaks</text>
<text x="212.60" y="350.20" font-size="7.2" textLength="14.60" lengthAdjust="spacingAndGlyphs" stroke="#262626" stroke-width="0.07">T-ALL</text>
<text x="228.00" y="347.00" font-size="4.3" textLength="10.00" lengthAdjust="spacingAndGlyphs" stroke="#262626" stroke-width="0.12">#969</text>
<text x="182.60" y="376.30" font-size="6.8" textLength="11.60" lengthAdjust="spacingAndGlyphs" stroke="#262626" stroke-width="0.07">17%</text>
<text x="182.60" y="383.70" font-size="6.8" textLength="11.60" lengthAdjust="spacingAndGlyphs" stroke="#262626" stroke-width="0.07">39%</text>
<text x="228.80" y="376.30" font-size="6.8" textLength="12.20" lengthAdjust="spacingAndGlyphs" stroke="#262626" stroke-width="0.07">36%</text>
<text x="232.60" y="383.70" font-size="6.8" textLength="8.40" lengthAdjust="spacingAndGlyphs" stroke="#262626" stroke-width="0.07">7%</text>
<path d="M197.8,386.7a0.55,0.55 0 1,0 1.1,0a0.55,0.55 0 1,0 -1.1,0M199.1,388.0a0.55,0.55 0 1,0 1.1,0a0.55,0.55 0 1,0 -1.1,0M199.8,388.5a0.55,0.55 0 1,0 1.1,0a0.55,0.55 0 1,0 -1.1,0M204.4,384.9a0.55,0.55 0 1,0 1.1,0a0.55,0.55 0 1,0 -1.1,0M198.6,389.0a0.55,0.55 0 1,0 1.1,0a0.55,0.55 0 1,0 -1.1,0M200.2,386.7a0.55,0.55 0 1,0 1.1,0a0.55,0.55 0 1,0 -1.1,0M196.0,389.7a0.55,0.55 0 1,0 1.1,0a0.55,0.55 0 1,0 -1.1,0M188.0,393.1a0.55,0.55 0 1,0 1.1,0a0.55,0.55 0 1,0 -1.1,0M198.0,391.7a0.55,0.55 0 1,0 1.1,0a0.55,0.55 0 1,0 -1.1,0M196.2,386.4a0.55,0.55 0 1,0 1.1,0a0.55,0.55 0 1,0 -1.1,0M196.2,386.5a0.55,0.55 0 1,0 1.1,0a0.55,0.55 0 1,0 -1.1,0M191.8,390.4a0.55,0.55 0 1,0 1.1,0a0.55,0.55 0 1,0 -1.1,0M195.0,391.6a0.55,0.55 0 1,0 1.1,0a0.55,0.55 0 1,0 -1.1,0M199.8,386.3a0.55,0.55 0 1,0 1.1,0a0.55,0.55 0 1,0 -1.1,0M192.4,393.6a0.55,0.55 0 1,0 1.1,0a0.55,0.55 0 1,0 -1.1,0M200.4,387.9a0.55,0.55 0 1,0 1.1,0a0.55,0.55 0 1,0 -1.1,0M201.4,386.3a0.55,0.55 0 1,0 1.1,0a0.55,0.55 0 1,0 -1.1,0M202.5,383.9a0.55,0.55 0 1,0 1.1,0a0.55,0.55 0 1,0 -1.1,0M194.8,388.3a0.55,0.55 0 1,0 1.1,0a0.55,0.55 0 1,0 -1.1,0M198.7,387.6a0.55,0.55 0 1,0 1.1,0a0.55,0.55 0 1,0 -1.1,0M199.9,386.0a0.55,0.55 0 1,0 1.1,0a0.55,0.55 0 1,0 -1.1,0M190.2,390.7a0.55,0.55 0 1,0 1.1,0a0.55,0.55 0 1,0 -1.1,0M197.2,386.2a0.55,0.55 0 1,0 1.1,0a0.55,0.55 0 1,0 -1.1,0M205.4,384.8a0.55,0.55 0 1,0 1.1,0a0.55,0.55 0 1,0 -1.1,0M197.8,387.5a0.55,0.55 0 1,0 1.1,0a0.55,0.55 0 1,0 -1.1,0M196.5,386.3a0.55,0.55 0 1,0 1.1,0a0.55,0.55 0 1,0 -1.1,0M200.5,387.4a0.55,0.55 0 1,0 1.1,0a0.55,0.55 0 1,0 -1.1,0M194.3,387.6a0.55,0.55 0 1,0 1.1,0a0.55,0.55 0 1,0 -1.1,0M199.6,384.9a0.55,0.55 0 1,0 1.1,0a0.55,0.55 0 1,0 -1.1,0M192.2,389.3a0.55,0.55 0 1,0 1.1,0a0.55,0.55 0 1,0 -1.1,0M197.6,389.3a0.55,0.55 0 1,0 1.1,0a0.55,0.55 0 1,0 -1.1,0M200.1,383.8a0.55,0.55 0 1,0 1.1,0a0.55,0.55 0 1,0 -1.1,0M197.1,388.7a0.55,0.55 0 1,0 1.1,0a0.55,0.55 0 1,0 -1.1,0M193.8,389.3a0.55,0.55 0 1,0 1.1,0a0.55,0.55 0 1,0 -1.1,0M195.8,388.6a0.55,0.55 0 1,0 1.1,0a0.55,0.55 0 1,0 -1.1,0M201.8,384.8a0.55,0.55 0 1,0 1.1,0a0.55,0.55 0 1,0 -1.1,0M201.0,381.8a0.55,0.55 0 1,0 1.1,0a0.55,0.55 0 1,0 -1.1,0M196.3,390.8a0.55,0.55 0 1,0 1.1,0a0.55,0.55 0 1,0 -1.1,0M201.6,386.1a0.55,0.55 0 1,0 1.1,0a0.55,0.55 0 1,0 -1.1,0M193.2,389.1a0.55,0.55 0 1,0 1.1,0a0.55,0.55 0 1,0 -1.1,0M205.0,388.1a0.55,0.55 0 1,0 1.1,0a0.55,0.55 0 1,0 -1.1,0M199.1,389.6a0.55,0.55 0 1,0 1.1,0a0.55,0.55 0 1,0 -1.1,0M203.2,384.1a0.55,0.55 0 1,0 1.1,0a0.55,0.55 0 1,0 -1.1,0M199.5,385.5a0.55,0.55 0 1,0 1.1,0a0.55,0.55 0 1,0 -1.1,0M194.9,389.2a0.55,0.55 0 1,0 1.1,0a0.55,0.55 0 1,0 -1.1,0M197.0,390.8a0.55,0.55 0 1,0 1.1,0a0.55,0.55 0 1,0 -1.1,0M204.8,386.2a0.55,0.55 0 1,0 1.1,0a0.55,0.55 0 1,0 -1.1,0M196.4,390.5a0.55,0.55 0 1,0 1.1,0a0.55,0.55 0 1,0 -1.1,0M200.9,387.7a0.55,0.55 0 1,0 1.1,0a0.55,0.55 0 1,0 -1.1,0M200.6,387.3a0.55,0.55 0 1,0 1.1,0a0.55,0.55 0 1,0 -1.1,0M195.6,392.0a0.55,0.55 0 1,0 1.1,0a0.55,0.55 0 1,0 -1.1,0M194.0,395.6a0.55,0.55 0 1,0 1.1,0a0.55,0.55 0 1,0 -1.1,0M196.0,387.8a0.55,0.55 0 1,0 1.1,0a0.55,0.55 0 1,0 -1.1,0M201.0,385.0a0.55,0.55 0 1,0 1.1,0a0.55,0.55 0 1,0 -1.1,0M195.2,392.6a0.55,0.55 0 1,0 1.1,0a0.55,0.55 0 1,0 -1.1,0M199.0,388.4a0.55,0.55 0 1,0 1.1,0a0.55,0.55 0 1,0 -1.1,0M200.3,387.3a0.55,0.55 0 1,0 1.1,0a0.55,0.55 0 1,0 -1.1,0M199.5,389.2a0.55,0.55 0 1,0 1.1,0a0.55,0.55 0 1,0 -1.1,0M199.9,389.4a0.55,0.55 0 1,0 1.1,0a0.55,0.55 0 1,0 -1.1,0M204.8,385.6a0.55,0.55 0 1,0 1.1,0a0.55,0.55 0 1,0 -1.1,0M197.5,390.3a0.55,0.55 0 1,0 1.1,0a0.55,0.55 0 1,0 -1.1,0M195.2,388.9a0.55,0.55 0 1,0 1.1,0a0.55,0.55 0 1,0 -1.1,0M203.4,385.4a0.55,0.55 0 1,0 1.1,0a0.55,0.55 0 1,0 -1.1,0M197.7,389.8a0.55,0.55 0 1,0 1.1,0a0.55,0.55 0 1,0 -1.1,0M197.4,384.8a0.55,0.55 0 1,0 1.1,0a0.55,0.55 0 1,0 -1.1,0M195.5,389.0a0.55,0.55 0 1,0 1.1,0a0.55,0.55 0 1,0 -1.1,0M197.9,387.2a0.55,0.55 0 1,0 1.1,0a0.55,0.55 0 1,0 -1.1,0M196.3,392.2a0.55,0.55 0 1,0 1.1,0a0.55,0.55 0 1,0 -1.1,0M196.2,390.4a0.55,0.55 0 1,0 1.1,0a0.55,0.55 0 1,0 -1.1,0M196.6,392.2a0.55,0.55 0 1,0 1.1,0a0.55,0.55 0 1,0 -1.1,0M209.8,372.7a0.55,0.55 0 1,0 1.1,0a0.55,0.55 0 1,0 -1.1,0M215.5,363.4a0.55,0.55 0 1,0 1.1,0a0.55,0.55 0 1,0 -1.1,0M212.0,365.7a0.55,0.55 0 1,0 1.1,0a0.55,0.55 0 1,0 -1.1,0M208.0,361.5a0.55,0.55 0 1,0 1.1,0a0.55,0.55 0 1,0 -1.1,0M209.9,366.0a0.55,0.55 0 1,0 1.1,0a0.55,0.55 0 1,0 -1.1,0M207.6,369.9a0.55,0.55 0 1,0 1.1,0a0.55,0.55 0 1,0 -1.1,0M208.8,373.0a0.55,0.55 0 1,0 1.1,0a0.55,0.55 0 1,0 -1.1,0M199.9,368.2a0.55,0.55 0 1,0 1.1,0a0.55,0.55 0 1,0 -1.1,0M203.3,368.1a0.55,0.55 0 1,0 1.1,0a0.55,0.55 0 1,0 -1.1,0M204.8,361.4a0.55,0.55 0 1,0 1.1,0a0.55,0.55 0 1,0 -1.1,0M203.9,366.2a0.55,0.55 0 1,0 1.1,0a0.55,0.55 0 1,0 -1.1,0M212.6,375.2a0.55,0.55 0 1,0 1.1,0a0.55,0.55 0 1,0 -1.1,0M213.4,367.5a0.55,0.55 0 1,0 1.1,0a0.55,0.55 0 1,0 -1.1,0M211.7,363.4a0.55,0.55 0 1,0 1.1,0a0.55,0.55 0 1,0 -1.1,0M204.6,369.5a0.55,0.55 0 1,0 1.1,0a0.55,0.55 0 1,0 -1.1,0M214.3,366.6a0.55,0.55 0 1,0 1.1,0a0.55,0.55 0 1,0 -1.1,0M205.6,362.3a0.55,0.55 0 1,0 1.1,0a0.55,0.55 0 1,0 -1.1,0M206.5,362.3a0.55,0.55 0 1,0 1.1,0a0.55,0.55 0 1,0 -1.1,0M215.1,365.3a0.55,0.55 0 1,0 1.1,0a0.55,0.55 0 1,0 -1.1,0M215.5,366.1a0.55,0.55 0 1,0 1.1,0a0.55,0.55 0 1,0 -1.1,0M206.9,368.3a0.55,0.55 0 1,0 1.1,0a0.55,0.55 0 1,0 -1.1,0M208.7,366.2a0.55,0.55 0 1,0 1.1,0a0.55,0.55 0 1,0 -1.1,0M208.8,360.0a0.55,0.55 0 1,0 1.1,0a0.55,0.55 0 1,0 -1.1,0M206.5,368.2a0.55,0.55 0 1,0 1.1,0a0.55,0.55 0 1,0 -1.1,0M212.6,368.7a0.55,0.55 0 1,0 1.1,0a0.55,0.55 0 1,0 -1.1,0M213.0,362.8a0.55,0.55 0 1,0 1.1,0a0.55,0.55 0 1,0 -1.1,0M205.0,369.8a0.55,0.55 0 1,0 1.1,0a0.55,0.55 0 1,0 -1.1,0M208.4,366.0a0.55,0.55 0 1,0 1.1,0a0.55,0.55 0 1,0 -1.1,0M206.4,370.0a0.55,0.55 0 1,0 1.1,0a0.55,0.55 0 1,0 -1.1,0M201.2,367.9a0.55,0.55 0 1,0 1.1,0a0.55,0.55 0 1,0 -1.1,0M212.1,365.6a0.55,0.55 0 1,0 1.1,0a0.55,0.55 0 1,0 -1.1,0M207.3,361.0a0.55,0.55 0 1,0 1.1,0a0.55,0.55 0 1,0 -1.1,0M206.2,364.5a0.55,0.55 0 1,0 1.1,0a0.55,0.55 0 1,0 -1.1,0M210.5,367.9a0.55,0.55 0 1,0 1.1,0a0.55,0.55 0 1,0 -1.1,0M215.0,365.7a0.55,0.55 0 1,0 1.1,0a0.55,0.55 0 1,0 -1.1,0M209.7,366.8a0.55,0.55 0 1,0 1.1,0a0.55,0.55 0 1,0 -1.1,0M213.4,363.8a0.55,0.55 0 1,0 1.1,0a0.55,0.55 0 1,0 -1.1,0M212.0,365.9a0.55,0.55 0 1,0 1.1,0a0.55,0.55 0 1,0 -1.1,0M216.4,364.3a0.55,0.55 0 1,0 1.1,0a0.55,0.55 0 1,0 -1.1,0M205.8,368.3a0.55,0.55 0 1,0 1.1,0a0.55,0.55 0 1,0 -1.1,0M213.1,367.4a0.55,0.55 0 1,0 1.1,0a0.55,0.55 0 1,0 -1.1,0M212.4,364.6a0.55,0.55 0 1,0 1.1,0a0.55,0.55 0 1,0 -1.1,0M203.6,362.8a0.55,0.55 0 1,0 1.1,0a0.55,0.55 0 1,0 -1.1,0M213.1,367.0a0.55,0.55 0 1,0 1.1,0a0.55,0.55 0 1,0 -1.1,0M212.1,367.5a0.55,0.55 0 1,0 1.1,0a0.55,0.55 0 1,0 -1.1,0M214.4,371.0a0.55,0.55 0 1,0 1.1,0a0.55,0.55 0 1,0 -1.1,0M209.6,368.7a0.55,0.55 0 1,0 1.1,0a0.55,0.55 0 1,0 -1.1,0M207.3,360.8a0.55,0.55 0 1,0 1.1,0a0.55,0.55 0 1,0 -1.1,0M214.3,367.0a0.55,0.55 0 1,0 1.1,0a0.55,0.55 0 1,0 -1.1,0M206.8,363.8a0.55,0.55 0 1,0 1.1,0a0.55,0.55 0 1,0 -1.1,0M204.9,369.6a0.55,0.55 0 1,0 1.1,0a0.55,0.55 0 1,0 -1.1,0M205.1,366.0a0.55,0.55 0 1,0 1.1,0a0.55,0.55 0 1,0 -1.1,0M209.2,371.3a0.55,0.55 0 1,0 1.1,0a0.55,0.55 0 1,0 -1.1,0M206.2,366.5a0.55,0.55 0 1,0 1.1,0a0.55,0.55 0 1,0 -1.1,0M209.5,364.0a0.55,0.55 0 1,0 1.1,0a0.55,0.55 0 1,0 -1.1,0M214.2,387.7a0.55,0.55 0 1,0 1.1,0a0.55,0.55 0 1,0 -1.1,0M210.7,372.7a0.55,0.55 0 1,0 1.1,0a0.55,0.55 0 1,0 -1.1,0M220.6,362.2a0.55,0.55 0 1,0 1.1,0a0.55,0.55 0 1,0 -1.1,0M220.8,381.3a0.55,0.55 0 1,0 1.1,0a0.55,0.55 0 1,0 -1.1,0M199.5,366.2a0.55,0.55 0 1,0 1.1,0a0.55,0.55 0 1,0 -1.1,0M219.3,364.6a0.55,0.55 0 1,0 1.1,0a0.55,0.55 0 1,0 -1.1,0M219.1,390.1a0.55,0.55 0 1,0 1.1,0a0.55,0.55 0 1,0 -1.1,0M228.0,381.7a0.55,0.55 0 1,0 1.1,0a0.55,0.55 0 1,0 -1.1,0M203.4,359.9a0.55,0.55 0 1,0 1.1,0a0.55,0.55 0 1,0 -1.1,0M219.4,366.1a0.55,0.55 0 1,0 1.1,0a0.55,0.55 0 1,0 -1.1,0M203.4,373.3a0.55,0.55 0 1,0 1.1,0a0.55,0.55 0 1,0 -1.1,0M231.6,358.8a0.55,0.55 0 1,0 1.1,0a0.55,0.55 0 1,0 -1.1,0M202.1,378.4a0.55,0.55 0 1,0 1.1,0a0.55,0.55 0 1,0 -1.1,0M207.6,362.8a0.55,0.55 0 1,0 1.1,0a0.55,0.55 0 1,0 -1.1,0M201.7,390.5a0.55,0.55 0 1,0 1.1,0a0.55,0.55 0 1,0 -1.1,0M225.0,387.7a0.55,0.55 0 1,0 1.1,0a0.55,0.55 0 1,0 -1.1,0M223.5,368.5a0.55,0.55 0 1,0 1.1,0a0.55,0.55 0 1,0 -1.1,0M206.0,388.9a0.55,0.55 0 1,0 1.1,0a0.55,0.55 0 1,0 -1.1,0M198.0,361.0a0.55,0.55 0 1,0 1.1,0a0.55,0.55 0 1,0 -1.1,0M214.5,381.0a0.55,0.55 0 1,0 1.1,0a0.55,0.55 0 1,0 -1.1,0" fill="none" stroke="#8a8a8a" stroke-width="0.35"/>
<path d="M202.5 368.9h0.8M204.2 370.2h0.8M207.7 368.3h0.8M210.3 367.6h0.8M198.1 386.6h0.8M200.7 384.7h0.8M199.8 387.9h0.8M202.5 383.4h0.8M214.6 365.0h0.8" stroke="#333" stroke-width="0.8" fill="none"/>
<rect x="299.00" y="351.60" width="56.00" height="55.80" fill="#7f8cc0" stroke="none" stroke-width="0.8"/>
<rect x="299.25" y="351.85" width="13.40" height="13.40" fill="#1c1f6a" stroke="none" stroke-width="0.8"/>
<rect x="313.15" y="351.85" width="13.50" height="13.40" fill="#1f2478" stroke="none" stroke-width="0.8"/>
<rect x="327.15" y="351.85" width="13.60" height="13.40" fill="#1f8ccc" stroke="none" stroke-width="0.8"/>
<rect x="341.25" y="351.85" width="13.50" height="13.40" fill="#1d7cc4" stroke="none" stroke-width="0.8"/>
<rect x="299.25" y="365.75" width="13.40" height="13.40" fill="#222a80" stroke="none" stroke-width="0.8"/>
<rect x="313.15" y="365.75" width="13.50" height="13.40" fill="#1a1d62" stroke="none" stroke-width="0.8"/>
<rect x="327.15" y="365.75" width="13.60" height="13.40" fill="#22a0d6" stroke="none" stroke-width="0.8"/>
<rect x="341.25" y="365.75" width="13.50" height="13.40" fill="#1f95d0" stroke="none" stroke-width="0.8"/>
<rect x="299.25" y="379.65" width="13.40" height="13.50" fill="#1f98d4" stroke="none" stroke-width="0.8"/>
<rect x="313.15" y="379.65" width="13.50" height="13.50" fill="#24a4da" stroke="none" stroke-width="0.8"/>
<rect x="327.15" y="379.65" width="13.60" height="13.50" fill="#1c2070" stroke="none" stroke-width="0.8"/>
<rect x="341.25" y="379.65" width="13.50" height="13.50" fill="#232a82" stroke="none" stroke-width="0.8"/>
<rect x="299.25" y="393.65" width="13.40" height="13.50" fill="#1d76c2" stroke="none" stroke-width="0.8"/>
<rect x="313.15" y="393.65" width="13.50" height="13.50" fill="#1f8ecc" stroke="none" stroke-width="0.8"/>
<rect x="327.15" y="393.65" width="13.60" height="13.50" fill="#272c88" stroke="none" stroke-width="0.8"/>
<rect x="341.25" y="393.65" width="13.50" height="13.50" fill="#1c2070" stroke="none" stroke-width="0.8"/>
<text x="300.00" y="337.90" font-size="7.2" textLength="26.00" lengthAdjust="spacingAndGlyphs" stroke="#262626" stroke-width="0.07">H3K27ac</text>
<text x="332.00" y="337.90" font-size="7.2" textLength="17.40" lengthAdjust="spacingAndGlyphs" stroke="#262626" stroke-width="0.07">eRNA</text>
<line x1="299.00" y1="339.40" x2="325.60" y2="339.40" stroke="#333" stroke-width="0.6"/>
<line x1="327.80" y1="339.40" x2="353.70" y2="339.40" stroke="#333" stroke-width="0.6"/>
<text x="300.00" y="346.60" font-size="7.0" textLength="10.50" lengthAdjust="spacingAndGlyphs" stroke="#262626" stroke-width="0.07">969</text>
<text x="314.00" y="346.60" font-size="7.0" textLength="10.50" lengthAdjust="spacingAndGlyphs" stroke="#262626" stroke-width="0.07">970</text>
<text x="328.70" y="346.60" font-size="7.0" textLength="10.50" lengthAdjust="spacingAndGlyphs" stroke="#262626" stroke-width="0.07">969</text>
<text x="342.50" y="346.60" font-size="7.0" textLength="10.50" lengthAdjust="spacingAndGlyphs" stroke="#262626" stroke-width="0.07">970</text>
<text x="285.40" y="366.10" font-size="7.0" text-anchor="middle" textLength="25.00" lengthAdjust="spacingAndGlyphs" transform="rotate(-90 285.40 366.10)" stroke="#262626" stroke-width="0.07">H3K27ac</text>
<text x="285.40" y="388.50" font-size="7.0" text-anchor="middle" textLength="10.40" lengthAdjust="spacingAndGlyphs" transform="rotate(-90 285.40 388.50)" stroke="#262626" stroke-width="0.07">eRNA</text>
<line x1="286.40" y1="352.50" x2="286.40" y2="378.80" stroke="#333" stroke-width="0.6"/>
<line x1="286.40" y1="380.50" x2="286.40" y2="406.50" stroke="#333" stroke-width="0.6"/>
<text x="294.30" y="358.70" font-size="7.0" text-anchor="middle" textLength="10.20" lengthAdjust="spacingAndGlyphs" transform="rotate(-90 294.30 358.70)" stroke="#262626" stroke-width="0.07">970</text>
<text x="294.30" y="372.60" font-size="7.0" text-anchor="middle" textLength="10.20" lengthAdjust="spacingAndGlyphs" transform="rotate(-90 294.30 372.60)" stroke="#262626" stroke-width="0.07">969</text>
<text x="294.30" y="386.50" font-size="7.0" text-anchor="middle" textLength="10.20" lengthAdjust="spacingAndGlyphs" transform="rotate(-90 294.30 386.50)" stroke="#262626" stroke-width="0.07">970</text>
<text x="294.30" y="400.40" font-size="7.0" text-anchor="middle" textLength="10.20" lengthAdjust="spacingAndGlyphs" transform="rotate(-90 294.30 400.40)" stroke="#262626" stroke-width="0.07">969</text>
<text x="310.50" y="416.70" font-size="7.4" textLength="32.90" lengthAdjust="spacingAndGlyphs" stroke="#262626" stroke-width="0.07">Correlation</text>
<text x="307.30" y="427.00" font-size="6.8" text-anchor="middle" stroke="#262626" stroke-width="0.07">1</text>
<text x="326.40" y="427.00" font-size="6.8" text-anchor="middle" stroke="#262626" stroke-width="0.07">0.5</text>
<text x="345.10" y="427.00" font-size="6.8" text-anchor="middle" stroke="#262626" stroke-width="0.07">0</text>
<rect x="307.00" y="428.40" width="39.00" height="2.80" fill="url(#cb)" stroke="none" stroke-width="0.8"/>
<text x="398.80" y="330.00" font-size="8.5" textLength="111.20" lengthAdjust="spacingAndGlyphs" stroke="#262626" stroke-width="0.07">Genes near dynamic overlapping</text>
<text x="417.50" y="338.60" font-size="8.5" textLength="76.30" lengthAdjust="spacingAndGlyphs" stroke="#262626" stroke-width="0.07">H3K27ac/eRNA peaks</text>
<line x1="408.40" y1="346.90" x2="408.40" y2="410.50" stroke="#2a2a2a" stroke-width="1.0"/>
<line x1="407.90" y1="410.50" x2="500.80" y2="410.50" stroke="#2a2a2a" stroke-width="1.0"/>
<line x1="405.60" y1="408.50" x2="408.40" y2="408.50" stroke="#2a2a2a" stroke-width="0.8"/>
<text x="403.20" y="410.80" font-size="6.8" text-anchor="end" stroke="#262626" stroke-width="0.07">0</text>
<line x1="405.60" y1="388.73" x2="408.40" y2="388.73" stroke="#2a2a2a" stroke-width="0.8"/>
<text x="403.20" y="391.03" font-size="6.8" text-anchor="end" stroke="#262626" stroke-width="0.07">20</text>
<line x1="405.60" y1="368.97" x2="408.40" y2="368.97" stroke="#2a2a2a" stroke-width="0.8"/>
<text x="403.20" y="371.27" font-size="6.8" text-anchor="end" stroke="#262626" stroke-width="0.07">40</text>
<line x1="405.60" y1="349.20" x2="408.40" y2="349.20" stroke="#2a2a2a" stroke-width="0.8"/>
<text x="403.20" y="351.50" font-size="6.8" text-anchor="end" stroke="#262626" stroke-width="0.07">60</text>
<line x1="408.40" y1="410.50" x2="408.40" y2="413.20" stroke="#2a2a2a" stroke-width="0.8"/>
<text x="408.40" y="423.20" font-size="6.8" text-anchor="middle" stroke="#262626" stroke-width="0.07">−2</text>
<line x1="431.30" y1="410.50" x2="431.30" y2="413.20" stroke="#2a2a2a" stroke-width="0.8"/>
<text x="431.30" y="423.20" font-size="6.8" text-anchor="middle" stroke="#262626" stroke-width="0.07">−1</text>
<line x1="454.20" y1="410.50" x2="454.20" y2="413.20" stroke="#2a2a2a" stroke-width="0.8"/>
<text x="454.20" y="423.20" font-size="6.8" text-anchor="middle" stroke="#262626" stroke-width="0.07">0</text>
<line x1="477.10" y1="410.50" x2="477.10" y2="413.20" stroke="#2a2a2a" stroke-width="0.8"/>
<text x="477.10" y="423.20" font-size="6.8" text-anchor="middle" stroke="#262626" stroke-width="0.07">1</text>
<line x1="500.00" y1="410.50" x2="500.00" y2="413.20" stroke="#2a2a2a" stroke-width="0.8"/>
<text x="500.00" y="423.20" font-size="6.8" text-anchor="middle" stroke="#262626" stroke-width="0.07">2</text>
<text x="428.20" y="434.10" font-size="8.3" textLength="55.30" lengthAdjust="spacingAndGlyphs" stroke="#262626" stroke-width="0.07">Log2(fold change)</text>
<text x="389.80" y="375.40" font-size="7.6" text-anchor="middle" textLength="21.60" lengthAdjust="spacingAndGlyphs" transform="rotate(-90 389.80 375.40)" stroke="#262626" stroke-width="0.07">-log10Q</text>
<line x1="410.40" y1="406.90" x2="497.00" y2="406.90" stroke="#333" stroke-width="0.7" stroke-dasharray="1 1.5"/>
<path d="M491.0 404.7h0.8M469.6 404.9h0.8M464.2 404.1h0.8M460.7 406.3h0.8M457.3 406.1h0.8M484.3 404.8h0.8M466.0 405.4h0.8M476.7 404.7h0.8M474.7 406.9h0.8M470.5 407.6h0.8M455.5 408.0h0.8M486.3 396.2h0.8M458.1 408.1h0.8M466.7 407.4h0.8M461.2 407.0h0.8M461.3 406.9h0.8M456.7 407.7h0.8M481.8 403.6h0.8M457.0 408.3h0.8M467.1 405.3h0.8M456.5 408.2h0.8M488.5 407.5h0.8M462.0 408.5h0.8M457.1 407.9h0.8M489.1 401.2h0.8M477.6 405.1h0.8M462.6 406.2h0.8M473.1 403.7h0.8M490.0 404.8h0.8M468.3 408.2h0.8M481.7 408.3h0.8M456.3 407.7h0.8M473.2 405.2h0.8M474.7 402.5h0.8M491.8 401.0h0.8M461.7 405.3h0.8M469.4 403.6h0.8M463.9 405.0h0.8M490.0 405.7h0.8M480.1 407.4h0.8M476.6 398.4h0.8M484.5 403.0h0.8M463.2 407.0h0.8M463.3 406.0h0.8M462.9 406.3h0.8M492.5 403.3h0.8M486.8 408.3h0.8M472.8 407.6h0.8M460.9 408.1h0.8M468.7 406.9h0.8M454.9 406.5h0.8M464.3 406.7h0.8M493.0 408.0h0.8M488.3 405.5h0.8M467.2 406.2h0.8M456.7 407.9h0.8M472.8 407.6h0.8M477.0 405.6h0.8M485.9 398.8h0.8M490.5 405.1h0.8M491.8 400.6h0.8M456.0 407.1h0.8M486.2 405.4h0.8M455.9 407.0h0.8M489.6 408.3h0.8M492.5 406.1h0.8M464.0 407.0h0.8M484.0 406.5h0.8M491.1 401.7h0.8M471.3 406.1h0.8M470.1 407.4h0.8M469.9 406.2h0.8M483.5 396.2h0.8M475.6 407.1h0.8M476.6 406.9h0.8M467.9 401.3h0.8M460.3 407.5h0.8M458.7 408.3h0.8M471.1 408.1h0.8M472.9 407.0h0.8M465.8 408.5h0.8M488.4 407.2h0.8M477.5 404.8h0.8M489.2 396.0h0.8M471.7 406.6h0.8M455.0 407.3h0.8M492.2 401.8h0.8M464.8 406.7h0.8M469.8 404.9h0.8M459.2 408.5h0.8M456.8 407.9h0.8M454.7 407.7h0.8M478.3 408.1h0.8M479.3 408.4h0.8M464.5 407.4h0.8M458.1 406.2h0.8M488.3 402.5h0.8M464.0 407.0h0.8M485.4 399.9h0.8M490.1 402.4h0.8M486.9 404.4h0.8M479.9 404.3h0.8M485.3 406.7h0.8M466.6 407.5h0.8M465.8 406.8h0.8M478.4 401.5h0.8M475.0 402.5h0.8M474.2 403.8h0.8M474.0 404.7h0.8M462.3 406.3h0.8" stroke="#b4bcbc" stroke-width="0.8" fill="none"/>
<path d="M481.7 357.2h0.8M454.9 381.7h0.8M485.5 362.0h0.8M413.5 386.9h0.8M423.0 363.7h0.8M467.5 367.8h0.8M468.7 394.5h0.8M419.2 360.2h0.8M472.6 384.1h0.8M490.7 354.1h0.8M448.2 364.5h0.8M467.7 366.8h0.8M429.1 399.8h0.8M419.4 370.0h0.8M461.4 366.3h0.8M415.0 382.3h0.8M479.0 390.4h0.8M476.7 363.4h0.8M456.7 373.7h0.8M435.5 380.3h0.8M414.6 365.5h0.8M415.6 355.9h0.8M493.7 385.3h0.8M492.9 400.1h0.8M439.5 400.9h0.8M494.0 354.2h0.8M471.8 359.3h0.8M414.5 402.2h0.8M456.9 372.2h0.8M434.2 382.8h0.8M466.3 365.1h0.8M449.3 352.5h0.8M457.5 374.0h0.8M488.4 393.0h0.8M474.6 376.7h0.8" stroke="#e6e6e6" stroke-width="0.8" fill="none"/>
<path d="M449.1 404.6h0.8M460.0 406.3h0.8M453.3 407.8h0.8M457.3 406.8h0.8M448.1 406.8h0.8M455.0 406.8h0.8M455.5 408.3h0.8M457.8 406.3h0.8M453.7 407.6h0.8M460.7 406.6h0.8M457.2 406.7h0.8M455.1 406.8h0.8M458.0 407.6h0.8M452.6 403.5h0.8M449.5 408.3h0.8M450.8 403.3h0.8M456.1 406.8h0.8M456.0 408.2h0.8M455.6 407.4h0.8M450.0 407.2h0.8M447.6 408.0h0.8M458.6 408.5h0.8M449.9 408.3h0.8M460.0 408.5h0.8M454.1 406.9h0.8M458.7 406.2h0.8M455.4 407.5h0.8M448.0 408.4h0.8M460.3 408.3h0.8M456.3 408.4h0.8" stroke="#70a8a0" stroke-width="0.8" fill="none"/>
<path d="M450.4 408.2h1.1M441.9 400.2h1.1M455.1 408.2h1.1M456.0 407.6h1.1M442.4 400.5h1.1M448.5 407.0h1.1M457.7 407.7h1.1M444.8 403.7h1.1M459.8 407.3h1.1M457.8 407.6h1.1M444.9 404.3h1.1M447.1 405.2h1.1M455.3 408.1h1.1M454.1 408.0h1.1M449.6 407.9h1.1M460.0 406.7h1.1M444.0 403.1h1.1M462.0 405.7h1.1M461.2 405.6h1.1M459.6 406.4h1.1M457.1 407.3h1.1M447.2 406.1h1.1M444.4 402.3h1.1M450.5 407.4h1.1M455.4 408.2h1.1M448.5 407.2h1.1M462.1 405.0h1.1M461.9 404.7h1.1M445.1 403.0h1.1M451.3 407.3h1.1M442.4 400.6h1.1M448.8 406.8h1.1M447.6 406.1h1.1M446.1 404.7h1.1M446.1 405.5h1.1M459.4 407.1h1.1M445.4 403.3h1.1M446.1 404.7h1.1M453.5 408.2h1.1M456.1 408.2h1.1M446.6 405.9h1.1M443.2 401.6h1.1M460.5 405.5h1.1M456.0 408.2h1.1M445.7 405.2h1.1M442.8 400.9h1.1M459.8 405.4h1.1M447.7 405.9h1.1M451.9 408.2h1.1M448.3 407.7h1.1M444.4 402.6h1.1M445.3 404.0h1.1M454.7 408.2h1.1M461.5 404.1h1.1M446.6 405.0h1.1M451.4 407.6h1.1M456.3 408.2h1.1M452.5 408.2h1.1M456.2 408.2h1.1M458.6 407.0h1.1M448.5 406.3h1.1M455.9 408.2h1.1M443.8 401.0h1.1M449.5 407.6h1.1M457.8 408.1h1.1M455.9 408.2h1.1M458.0 408.2h1.1M444.5 402.3h1.1M456.7 408.2h1.1M443.1 401.4h1.1M443.7 401.5h1.1M451.0 408.2h1.1M460.0 406.7h1.1M445.0 403.9h1.1M441.0 398.5h1.1M455.3 408.2h1.1M452.6 408.2h1.1M462.2 403.8h1.1M460.4 406.7h1.1M462.4 404.9h1.1M454.8 407.6h1.1M460.1 407.3h1.1M452.4 408.2h1.1M459.5 407.0h1.1M441.5 399.6h1.1M456.2 407.1h1.1M447.7 405.7h1.1M448.0 406.0h1.1M453.6 408.2h1.1M462.3 403.9h1.1M449.4 406.7h1.1M457.2 407.8h1.1M442.3 400.5h1.1M459.8 406.9h1.1M451.2 408.2h1.1M453.6 408.2h1.1M459.4 407.5h1.1M447.5 405.4h1.1M449.3 408.1h1.1M452.8 408.2h1.1M452.9 408.2h1.1M442.3 400.4h1.1M452.9 408.2h1.1M441.0 399.0h1.1M455.4 408.2h1.1M449.5 407.1h1.1M442.5 398.8h1.1M456.2 407.9h1.1M456.5 408.2h1.1M460.6 405.3h1.1M458.6 407.1h1.1M460.1 407.3h1.1M445.8 404.5h1.1M456.9 407.0h1.1M456.9 408.2h1.1M447.2 406.2h1.1M449.9 408.2h1.1M457.0 407.3h1.1M458.5 408.1h1.1M441.7 399.5h1.1M449.2 405.7h1.1M461.8 404.9h1.1M447.4 405.6h1.1M449.6 408.2h1.1M443.6 402.2h1.1M459.3 407.6h1.1M457.6 408.2h1.1M445.0 403.8h1.1M441.3 399.2h1.1M452.6 408.1h1.1M441.4 398.8h1.1M442.8 401.4h1.1M450.2 407.1h1.1M447.6 405.0h1.1M452.5 408.2h1.1M450.7 407.2h1.1M454.8 408.2h1.1M460.0 406.2h1.1M444.2 403.1h1.1M457.3 408.2h1.1M450.2 407.7h1.1M442.9 400.7h1.1M460.2 406.5h1.1M447.5 405.5h1.1M455.3 408.2h1.1M459.8 407.1h1.1M452.8 407.8h1.1M448.4 406.1h1.1M450.1 406.9h1.1M445.9 404.2h1.1M456.9 407.4h1.1M457.2 408.2h1.1M448.0 406.6h1.1M451.5 408.2h1.1M443.2 402.0h1.1M450.4 407.4h1.1M452.6 407.8h1.1M442.5 400.9h1.1M446.5 405.8h1.1M460.1 407.2h1.1" stroke="#1a1a1a" stroke-width="1.1" fill="none"/>
<path d="M448.1 402.3h1.3M446.3 402.7h1.3M448.8 406.4h1.3M445.9 403.6h1.3M446.2 403.8h1.3M447.1 403.1h1.3M451.5 407.5h1.3M446.1 404.3h1.3M443.5 399.0h1.3M449.2 406.6h1.3M450.0 407.3h1.3M448.2 405.5h1.3M446.4 404.4h1.3M444.6 403.2h1.3M449.5 404.3h1.3M449.4 405.7h1.3M448.1 404.8h1.3M450.4 406.8h1.3M451.8 407.9h1.3M452.8 407.3h1.3M444.9 401.4h1.3M442.6 399.5h1.3M445.9 404.2h1.3M447.9 405.0h1.3M449.5 403.6h1.3M443.8 400.4h1.3M451.2 407.9h1.3M445.7 402.5h1.3M446.7 405.0h1.3M446.1 403.7h1.3M446.7 404.2h1.3M444.3 401.7h1.3M441.5 398.0h1.3M452.7 408.1h1.3M445.8 404.2h1.3M447.8 405.6h1.3M449.1 406.7h1.3M447.9 406.0h1.3M449.0 406.8h1.3M447.1 405.0h1.3M448.4 404.5h1.3M446.7 404.9h1.3M446.9 403.6h1.3M451.5 405.4h1.3M449.9 406.8h1.3M453.5 406.7h1.3M448.0 405.1h1.3M450.2 405.2h1.3M445.6 403.6h1.3M447.0 404.7h1.3M449.5 404.3h1.3M443.9 402.2h1.3M448.6 403.8h1.3M445.8 403.8h1.3M446.2 404.6h1.3M451.1 403.8h1.3M450.5 406.9h1.3M447.4 402.9h1.3M442.7 400.7h1.3M446.3 400.9h1.3M441.8 399.2h1.3M447.0 404.9h1.3M448.7 406.4h1.3M442.8 400.0h1.3M454.0 405.8h1.3M452.7 407.6h1.3M447.3 402.7h1.3M454.0 408.1h1.3M447.0 404.1h1.3M448.1 405.9h1.3M445.5 402.8h1.3M453.9 406.8h1.3M445.1 403.1h1.3M449.3 406.7h1.3M448.5 405.4h1.3M449.8 405.5h1.3M451.5 407.5h1.3M449.1 406.2h1.3M449.5 403.9h1.3M446.7 403.7h1.3M447.3 405.4h1.3M450.9 405.7h1.3M445.5 402.1h1.3M446.7 404.3h1.3M449.7 406.1h1.3M448.4 406.0h1.3M447.7 404.1h1.3M448.9 406.0h1.3M446.5 404.9h1.3M451.4 408.0h1.3" stroke="#8a1030" stroke-width="1.3" fill="none"/>
<circle cx="424.20" cy="360.57" r="1.30" fill="#8a0a24" stroke="none" stroke-width="0.8"/>
<circle cx="440.92" cy="385.57" r="1.30" fill="#8a0a24" stroke="none" stroke-width="0.8"/>
<circle cx="437.94" cy="393.97" r="1.30" fill="#8a0a24" stroke="none" stroke-width="0.8"/>
<circle cx="430.84" cy="393.87" r="1.30" fill="#8a0a24" stroke="none" stroke-width="0.8"/>
<circle cx="421.68" cy="398.81" r="1.30" fill="#8a0a24" stroke="none" stroke-width="0.8"/>
<circle cx="442.75" cy="402.08" r="1.30" fill="#8a0a24" stroke="none" stroke-width="0.8"/>
<circle cx="444.58" cy="403.56" r="1.30" fill="#8a0a24" stroke="none" stroke-width="0.8"/>
<circle cx="446.19" cy="405.04" r="1.30" fill="#8a0a24" stroke="none" stroke-width="0.8"/>
<circle cx="447.79" cy="406.33" r="1.30" fill="#8a0a24" stroke="none" stroke-width="0.8"/>
<text x="399.60" y="358.80" font-size="6.8" fill="#c83058" textLength="23.90" lengthAdjust="spacingAndGlyphs" stroke="#c83058" stroke-width="0.07">Rasgrp1</text>
<text x="427.80" y="384.80" font-size="6.8" fill="#c83058" textLength="11.80" lengthAdjust="spacingAndGlyphs" stroke="#c83058" stroke-width="0.07">Lef1</text>
<text x="409.60" y="392.20" font-size="6.8" fill="#c83058" textLength="21.20" lengthAdjust="spacingAndGlyphs" stroke="#c83058" stroke-width="0.07">Ppp3cb</text>
<text x="438.00" y="392.20" font-size="6.8" fill="#c83058" textLength="12.80" lengthAdjust="spacingAndGlyphs" stroke="#c83058" stroke-width="0.07">Ets1</text>
<text x="413.50" y="398.10" font-size="6.8" fill="#c83058" textLength="6.90" lengthAdjust="spacingAndGlyphs" stroke="#c83058" stroke-width="0.07">Il7r</text>
<text x="425.80" y="401.10" font-size="6.8" fill="#c83058" textLength="16.20" lengthAdjust="spacingAndGlyphs" stroke="#c83058" stroke-width="0.07">Runx1</text>
<text x="446.50" y="401.10" font-size="6.8" fill="#c83058" textLength="17.00" lengthAdjust="spacingAndGlyphs" stroke="#c83058" stroke-width="0.07">Gata3</text>
<text x="432.70" y="409.20" font-size="6.8" fill="#c83058" textLength="10.80" lengthAdjust="spacingAndGlyphs" stroke="#c83058" stroke-width="0.07">Hes1</text>
<text x="468.80" y="351.20" font-size="7.2" textLength="15.20" lengthAdjust="spacingAndGlyphs" stroke="#262626" stroke-width="0.07">T-ALL</text>
<text x="484.50" y="348.00" font-size="4.3" textLength="7.50" lengthAdjust="spacingAndGlyphs" stroke="#262626" stroke-width="0.12">#969</text>
<text x="468.80" y="359.80" font-size="7.2" textLength="31.20" lengthAdjust="spacingAndGlyphs" stroke="#262626" stroke-width="0.07">Down with</text>
<text x="468.80" y="368.30" font-size="7.2" textLength="12.50" lengthAdjust="spacingAndGlyphs" stroke="#262626" stroke-width="0.07">OHT</text>
<path d="M458,356.2 L466,356.2" stroke="#111" stroke-width="1.0" fill="none"/>
<path d="M455.5,356.2 L459.5,354.2 L459.5,358.2 Z" stroke="#111" stroke-width="0.3" fill="#111"/>
<text x="474.50" y="396.00" font-size="7.2" textLength="23.00" lengthAdjust="spacingAndGlyphs" stroke="#262626" stroke-width="0.07">Q = 0.05</text>
<path d="M492.5,398.8 L487,404.5" stroke="#111" stroke-width="1.0" fill="none"/>
<path d="M485,406.5 L485.9,402.4 L489.1,405.6 Z" stroke="#111" stroke-width="0.3" fill="#111"/>
<text x="77.70" y="470.40" font-size="7.2" textLength="14.00" lengthAdjust="spacingAndGlyphs" stroke="#262626" stroke-width="0.07">10kb</text>
<line x1="77.70" y1="471.70" x2="91.70" y2="471.70" stroke="#333" stroke-width="0.5"/>
<text x="101.00" y="472.20" font-size="7.4" font-style="italic" textLength="20.70" lengthAdjust="spacingAndGlyphs" stroke="#262626" stroke-width="0.07">Rasgrp1</text>
<path d="M126.5,472.6 L134.5,472.6" stroke="#111" stroke-width="1.0" fill="none"/>
<path d="M124.4,472.6 L128,470.8 L128,474.4 Z" stroke="#111" stroke-width="0.3" fill="#111"/>
<text x="79.50" y="478.00" font-size="2.6" fill="#999" textLength="10.50" lengthAdjust="spacingAndGlyphs">171,450 kb</text>
<text x="95.10" y="478.00" font-size="2.6" fill="#999" textLength="10.50" lengthAdjust="spacingAndGlyphs">171,450 kb</text>
<text x="110.70" y="478.00" font-size="2.6" fill="#999" textLength="10.50" lengthAdjust="spacingAndGlyphs">171,450 kb</text>
<text x="126.30" y="478.00" font-size="2.6" fill="#999" textLength="10.50" lengthAdjust="spacingAndGlyphs">171,450 kb</text>
<text x="141.90" y="478.00" font-size="2.6" fill="#999" textLength="10.50" lengthAdjust="spacingAndGlyphs">171,450 kb</text>
<text x="157.50" y="478.00" font-size="2.6" fill="#999" textLength="10.50" lengthAdjust="spacingAndGlyphs">171,450 kb</text>
<text x="173.10" y="478.00" font-size="2.6" fill="#999" textLength="10.50" lengthAdjust="spacingAndGlyphs">171,450 kb</text>
<text x="188.70" y="478.00" font-size="2.6" fill="#999" textLength="10.50" lengthAdjust="spacingAndGlyphs">171,450 kb</text>
<line x1="77.30" y1="481.00" x2="205.40" y2="481.00" stroke="#b0b0b0" stroke-width="0.6"/>
<line x1="77.30" y1="482.40" x2="205.40" y2="482.40" stroke="#b0b0b0" stroke-width="0.6"/>
<line x1="79.50" y1="479.80" x2="79.50" y2="481.00" stroke="#b0b0b0" stroke-width="0.4"/>
<line x1="87.30" y1="479.80" x2="87.30" y2="481.00" stroke="#b0b0b0" stroke-width="0.4"/>
<line x1="95.10" y1="479.80" x2="95.10" y2="481.00" stroke="#b0b0b0" stroke-width="0.4"/>
<line x1="102.90" y1="479.80" x2="102.90" y2="481.00" stroke="#b0b0b0" stroke-width="0.4"/>
<line x1="110.70" y1="479.80" x2="110.70" y2="481.00" stroke="#b0b0b0" stroke-width="0.4"/>
<line x1="118.50" y1="479.80" x2="118.50" y2="481.00" stroke="#b0b0b0" stroke-width="0.4"/>
<line x1="126.30" y1="479.80" x2="126.30" y2="481.00" stroke="#b0b0b0" stroke-width="0.4"/>
<line x1="134.10" y1="479.80" x2="134.10" y2="481.00" stroke="#b0b0b0" stroke-width="0.4"/>
<line x1="141.90" y1="479.80" x2="141.90" y2="481.00" stroke="#b0b0b0" stroke-width="0.4"/>
<line x1="149.70" y1="479.80" x2="149.70" y2="481.00" stroke="#b0b0b0" stroke-width="0.4"/>
<line x1="157.50" y1="479.80" x2="157.50" y2="481.00" stroke="#b0b0b0" stroke-width="0.4"/>
<line x1="165.30" y1="479.80" x2="165.30" y2="481.00" stroke="#b0b0b0" stroke-width="0.4"/>
<line x1="173.10" y1="479.80" x2="173.10" y2="481.00" stroke="#b0b0b0" stroke-width="0.4"/>
<line x1="180.90" y1="479.80" x2="180.90" y2="481.00" stroke="#b0b0b0" stroke-width="0.4"/>
<line x1="188.70" y1="479.80" x2="188.70" y2="481.00" stroke="#b0b0b0" stroke-width="0.4"/>
<line x1="196.50" y1="479.80" x2="196.50" y2="481.00" stroke="#b0b0b0" stroke-width="0.4"/>
<path d="M77.6,492.2 Q137,474 207,491" stroke="#8a8a8a" stroke-width="0.6" fill="none"/>
<path d="M97,494.8 Q130,482 162,484.5" stroke="#8a8a8a" stroke-width="0.6" fill="none"/>
<path d="M137,497 Q172,480 207,493" stroke="#7a7a7a" stroke-width="0.6" fill="none"/>
<path d="M160,484.5 Q190,484 207,490" stroke="#9a9a9a" stroke-width="0.5" fill="none"/>
<line x1="134.10" y1="480.00" x2="134.10" y2="545.00" stroke="#c4c4c4" stroke-width="0.6"/>
<text x="47.50" y="490.60" font-size="7.4" fill="#222" textLength="28.80" lengthAdjust="spacingAndGlyphs" stroke="#222" stroke-width="0.07">DN3 Hi-C</text>
<text x="63.80" y="501.00" font-size="7.4" fill="#7a60b8" textLength="12.50" lengthAdjust="spacingAndGlyphs" stroke="#7a60b8" stroke-width="0.07">Ets1</text>
<text x="25.40" y="509.80" font-size="7.4" fill="#3a8a86" textLength="50.90" lengthAdjust="spacingAndGlyphs" stroke="#3a8a86" stroke-width="0.07">H3K27ac Control</text>
<text x="34.60" y="517.40" font-size="7.4" fill="#222" textLength="41.70" lengthAdjust="spacingAndGlyphs" stroke="#222" stroke-width="0.07">H3K27ac OHT</text>
<text x="47.50" y="524.60" font-size="7.4" fill="#3aa868" textLength="28.80" lengthAdjust="spacingAndGlyphs" stroke="#3aa868" stroke-width="0.07">ATAC-Seq</text>
<text x="21.50" y="532.00" font-size="7.4" fill="#d05868" textLength="54.80" lengthAdjust="spacingAndGlyphs" stroke="#d05868" stroke-width="0.07">BruUV-seq Control</text>
<text x="29.20" y="540.60" font-size="7.4" fill="#222" textLength="47.10" lengthAdjust="spacingAndGlyphs" stroke="#222" stroke-width="0.07">BruUV-seq OHT</text>
<text x="30.80" y="481.00" font-size="7.4" textLength="21.20" lengthAdjust="spacingAndGlyphs" stroke="#262626" stroke-width="0.07">Mouse:</text>
<path d="M25.5,503.5 L23.3,503.5 L23.3,517.5 L25.5,517.5" stroke="#444" stroke-width="0.7" fill="none"/>
<path d="M22,525.5 L19.8,525.5 L19.8,540 L22,540" stroke="#444" stroke-width="0.7" fill="none"/>
<line x1="77.30" y1="502.30" x2="205.40" y2="502.30" stroke="#7a68c0" stroke-width="0.6"/>
<text x="79.00" y="498.10" font-size="2.2" fill="#aaa" textLength="6.50" lengthAdjust="spacingAndGlyphs">0 - 50</text>
<line x1="77.30" y1="510.40" x2="205.40" y2="510.40" stroke="#a8d8cc" stroke-width="0.6"/>
<text x="79.00" y="506.20" font-size="2.2" fill="#aaa" textLength="6.50" lengthAdjust="spacingAndGlyphs">0 - 50</text>
<line x1="77.30" y1="517.80" x2="205.40" y2="517.80" stroke="#b8b8b8" stroke-width="0.6"/>
<text x="79.00" y="513.60" font-size="2.2" fill="#aaa" textLength="6.50" lengthAdjust="spacingAndGlyphs">0 - 50</text>
<line x1="77.30" y1="525.50" x2="205.40" y2="525.50" stroke="#70c090" stroke-width="0.6"/>
<text x="79.00" y="521.30" font-size="2.2" fill="#aaa" textLength="6.50" lengthAdjust="spacingAndGlyphs">0 - 50</text>
<line x1="77.30" y1="533.50" x2="205.40" y2="533.50" stroke="#f0b8bc" stroke-width="0.6"/>
<text x="79.00" y="529.30" font-size="2.2" fill="#aaa" textLength="6.50" lengthAdjust="spacingAndGlyphs">0 - 50</text>
<line x1="77.30" y1="541.20" x2="205.40" y2="541.20" stroke="#c0c0c0" stroke-width="0.6"/>
<text x="79.00" y="537.00" font-size="2.2" fill="#aaa" textLength="6.50" lengthAdjust="spacingAndGlyphs">0 - 50</text>
<path d="M89.8,502.3 L90.8,501.7 L91.8,502.3 Z M177.1,502.3 L178.1,501.4 L179.1,502.3 Z M90.8,502.3 L91.8,501.6 L92.8,502.3 Z M137.8,502.3 L138.8,501.8 L139.8,502.3 Z M169.0,502.3 L170.0,501.8 L171.0,502.3 Z M127.1,502.3 L128.1,501.5 L129.1,502.3 Z M131.9,502.3 L132.9,501.4 L133.9,502.3 Z M169.4,502.3 L170.4,501.1 L171.4,502.3 Z M114.0,502.3 L115.0,501.4 L116.0,502.3 Z M164.3,502.3 L165.3,501.7 L166.3,502.3 Z M79.5,502.3 L80.5,501.1 L81.5,502.3 Z M115.7,502.3 L116.7,501.6 L117.7,502.3 Z M188.2,502.3 L189.2,501.4 L190.2,502.3 Z M136.8,502.3 L137.8,501.3 L138.8,502.3 Z M83.0,502.3 L84.0,501.3 L85.0,502.3 Z M125.0,502.3 L126.0,501.8 L127.0,502.3 Z M159.9,502.3 L160.9,501.2 L161.9,502.3 Z M104.6,502.3 L105.6,501.4 L106.6,502.3 Z M132.6,502.3 L133.6,499.9 L134.6,502.3 Z M193.4,502.3 L194.4,496.7 L195.4,502.3 Z M188.6,502.3 L189.6,499.7 L190.6,502.3 Z M177.8,502.3 L178.8,500.5 L179.8,502.3 Z M171.0,502.3 L172.0,501.0 L173.0,502.3 Z " fill="#4a2a90"/>
<path d="M132.6,510.4 L133.6,508.2 L134.6,510.4 Z M177.8,510.4 L178.8,508.8 L179.8,510.4 Z M193.4,510.4 L194.4,504.0 L195.4,510.4 Z M188.6,510.4 L189.6,507.6 L190.6,510.4 Z " fill="#1f6a78"/>
<path d="M132.4,517.8 L133.6,516.2 L134.8,517.8 Z M193.2,517.8 L194.4,514.2 L195.6,517.8 Z M188.4,517.8 L189.6,516.2 L190.8,517.8 Z " fill="#111"/>
<path d="M124.1,525.5 L124.7,523.3 L125.3,525.5 Z M133.0,525.5 L133.6,522.5 L134.2,525.5 Z M178.2,525.5 L178.8,517.0 L179.4,525.5 Z M193.8,525.5 L194.4,520.9 L195.0,525.5 Z M85.4,525.5 L86.0,524.5 L86.6,525.5 Z " fill="#2a9a5a"/>
<path d="M193.7,533.5 L194.4,531.7 L195.1,533.5 Z M188.9,533.5 L189.6,532.5 L190.3,533.5 Z " fill="#c02040"/>
<circle cx="194.40" cy="540.30" r="0.60" fill="#222" stroke="none" stroke-width="0.8"/>
<path d="M83.5,541.6 L106,541.6" stroke="#3a50b0" stroke-width="1.2" stroke-dasharray="1.2 0.8"/>
<text x="89.70" y="530.40" font-size="6.6" textLength="7.80" lengthAdjust="spacingAndGlyphs" stroke="#262626" stroke-width="0.07">(+)</text>
<text x="89.70" y="539.40" font-size="6.6" textLength="7.80" lengthAdjust="spacingAndGlyphs" stroke="#262626" stroke-width="0.07">(+)</text>
<line x1="102.60" y1="528.00" x2="102.60" y2="538.00" stroke="#111" stroke-width="0.9"/>
<path d="M99,527.8 L105.5,527.8" stroke="#111" stroke-width="1.0" fill="none"/>
<path d="M108,527.8 L104.8,526.1 L104.8,529.5 Z" stroke="#111" stroke-width="0.2" fill="#111"/>
<path d="M99,538 L105.5,538" stroke="#111" stroke-width="1.0" fill="none"/>
<path d="M108,538 L104.8,536.3 L104.8,539.7 Z" stroke="#111" stroke-width="0.2" fill="#111"/>
<rect x="191.20" y="480.60" width="6.00" height="63.20" fill="none" stroke="#d03860" stroke-width="1.2"/>
<path d="M196.8,506 L199.2,506 L199.2,513.2 L196.8,513.2" stroke="#222" stroke-width="0.7" fill="none"/>
<path d="M196.8,530 L199.2,530 L199.2,537 L196.8,537" stroke="#222" stroke-width="0.7" fill="none"/>
<path d="M201.50,504.90 L201.50,506.90 M202.37,505.40 L200.63,506.40 M202.37,506.40 L200.63,505.40 " stroke="#111" stroke-width="0.55"/>
<path d="M201.50,507.10 L201.50,509.10 M202.37,507.60 L200.63,508.60 M202.37,508.60 L200.63,507.60 " stroke="#111" stroke-width="0.55"/>
<path d="M201.50,509.30 L201.50,511.30 M202.37,509.80 L200.63,510.80 M202.37,510.80 L200.63,509.80 " stroke="#111" stroke-width="0.55"/>
<path d="M201.50,511.60 L201.50,513.60 M202.37,512.10 L200.63,513.10 M202.37,513.10 L200.63,512.10 " stroke="#111" stroke-width="0.55"/>
<path d="M201.50,530.00 L201.50,532.00 M202.37,530.50 L200.63,531.50 M202.37,531.50 L200.63,530.50 " stroke="#111" stroke-width="0.55"/>
<path d="M201.50,532.30 L201.50,534.30 M202.37,532.80 L200.63,533.80 M202.37,533.80 L200.63,532.80 " stroke="#111" stroke-width="0.55"/>
<path d="M201.50,534.60 L201.50,536.60 M202.37,535.10 L200.63,536.10 M202.37,536.10 L200.63,535.10 " stroke="#111" stroke-width="0.55"/>
<text x="168.30" y="523.20" font-size="6.0" fill="#d02040" textLength="17.50" lengthAdjust="spacingAndGlyphs" stroke="#d02040" stroke-width="0.07">eRNA</text>
<path d="M185.8,520.8 L192.9,530" stroke="#c02040" stroke-width="0.8" fill="none"/>
<path d="M191.3,544.5 L195.5,603" stroke="#d02040" stroke-width="0.8" fill="none" stroke-dasharray="1.2 1.8"/>
<text x="99.30" y="595.00" font-size="7.0" font-style="italic" textLength="28.70" lengthAdjust="spacingAndGlyphs" stroke="#262626" stroke-width="0.07">RASGRP1</text>
<path d="M132,594.2 L138.6,594.2 L138.6,598" stroke="#111" stroke-width="0.9" fill="none"/>
<path d="M130.2,594.2 L133.4,592.6 L133.4,595.8 Z" stroke="#111" stroke-width="0.2" fill="#111"/>
<text x="84.70" y="602.40" font-size="1.9" fill="#aaa" textLength="8.00" lengthAdjust="spacingAndGlyphs">27,050 kb</text>
<text x="100.30" y="602.40" font-size="1.9" fill="#aaa" textLength="8.00" lengthAdjust="spacingAndGlyphs">27,050 kb</text>
<text x="115.90" y="602.40" font-size="1.9" fill="#aaa" textLength="8.00" lengthAdjust="spacingAndGlyphs">27,050 kb</text>
<text x="131.50" y="602.40" font-size="1.9" fill="#aaa" textLength="8.00" lengthAdjust="spacingAndGlyphs">27,050 kb</text>
<text x="147.10" y="602.40" font-size="1.9" fill="#aaa" textLength="8.00" lengthAdjust="spacingAndGlyphs">27,050 kb</text>
<text x="162.70" y="602.40" font-size="1.9" fill="#aaa" textLength="8.00" lengthAdjust="spacingAndGlyphs">27,050 kb</text>
<text x="178.30" y="602.40" font-size="1.9" fill="#aaa" textLength="8.00" lengthAdjust="spacingAndGlyphs">27,050 kb</text>
<text x="193.90" y="602.40" font-size="1.9" fill="#aaa" textLength="8.00" lengthAdjust="spacingAndGlyphs">27,050 kb</text>
<line x1="76.70" y1="604.60" x2="205.20" y2="604.60" stroke="#b0b0b0" stroke-width="0.8"/>
<text x="28.50" y="605.70" font-size="7.2" fill="#222" textLength="22.20" lengthAdjust="spacingAndGlyphs" stroke="#222" stroke-width="0.07">Human:</text>
<text x="34.40" y="615.20" font-size="7.4" fill="#35357a" textLength="41.60" lengthAdjust="spacingAndGlyphs" stroke="#35357a" stroke-width="0.07">NOTCH/RBPJ</text>
<text x="60.20" y="622.60" font-size="7.4" fill="#35357a" textLength="15.80" lengthAdjust="spacingAndGlyphs" stroke="#35357a" stroke-width="0.07">ETS1</text>
<text x="49.60" y="630.40" font-size="7.4" fill="#35357a" textLength="26.40" lengthAdjust="spacingAndGlyphs" stroke="#35357a" stroke-width="0.07">H3K27ac</text>
<text x="54.50" y="637.80" font-size="7.4" fill="#d04858" textLength="21.50" lengthAdjust="spacingAndGlyphs" stroke="#d04858" stroke-width="0.07">CDC73</text>
<text x="45.40" y="645.90" font-size="7.4" fill="#3a9a5a" textLength="30.60" lengthAdjust="spacingAndGlyphs" stroke="#3a9a5a" stroke-width="0.07">ATAC-Seq</text>
<line x1="76.70" y1="613.60" x2="205.20" y2="613.60" stroke="#5050a8" stroke-width="0.55"/>
<text x="78.00" y="609.30" font-size="1.9" fill="#aaa" textLength="6.00" lengthAdjust="spacingAndGlyphs">0 - 50</text>
<line x1="76.70" y1="621.50" x2="205.20" y2="621.50" stroke="#5050a8" stroke-width="0.55"/>
<text x="78.00" y="617.20" font-size="1.9" fill="#aaa" textLength="6.00" lengthAdjust="spacingAndGlyphs">0 - 50</text>
<line x1="76.70" y1="629.00" x2="205.20" y2="629.00" stroke="#8080d0" stroke-width="0.55"/>
<text x="78.00" y="624.70" font-size="1.9" fill="#aaa" textLength="6.00" lengthAdjust="spacingAndGlyphs">0 - 50</text>
<line x1="76.70" y1="636.40" x2="205.20" y2="636.40" stroke="#e06070" stroke-width="0.55"/>
<text x="78.00" y="632.10" font-size="1.9" fill="#aaa" textLength="6.00" lengthAdjust="spacingAndGlyphs">0 - 50</text>
<line x1="76.70" y1="645.80" x2="205.20" y2="645.80" stroke="#d0d0d0" stroke-width="0.55"/>
<text x="78.00" y="641.50" font-size="1.9" fill="#aaa" textLength="6.00" lengthAdjust="spacingAndGlyphs">0 - 50</text>
<path d="M178.2,613.6 L178.9,612.6 L179.6,613.6 Z M142.2,613.6 L142.9,613.0 L143.6,613.6 Z M84.7,613.6 L85.4,613.0 L86.1,613.6 Z M128.9,613.6 L129.6,613.3 L130.3,613.6 Z M84.1,613.6 L84.8,612.4 L85.5,613.6 Z M159.2,613.6 L159.9,613.1 L160.6,613.6 Z M132.2,613.6 L132.9,612.4 L133.6,613.6 Z M189.8,613.6 L190.5,612.5 L191.2,613.6 Z M126.9,613.6 L127.6,612.9 L128.3,613.6 Z M162.2,613.6 L162.9,613.2 L163.6,613.6 Z M147.2,613.6 L147.9,613.1 L148.6,613.6 Z M187.5,613.6 L188.2,613.2 L188.9,613.6 Z M162.6,613.6 L163.3,612.5 L164.0,613.6 Z M106.3,613.6 L107.0,612.5 L107.7,613.6 Z M186.6,613.6 L187.3,613.3 L188.0,613.6 Z M166.1,613.6 L166.8,613.3 L167.5,613.6 Z M140.7,613.6 L141.4,612.9 L142.1,613.6 Z M103.3,613.6 L104.0,613.0 L104.7,613.6 Z M178.4,613.6 L179.1,613.0 L179.8,613.6 Z M96.6,613.6 L97.3,612.7 L98.0,613.6 Z M133.8,613.6 L134.5,612.6 L135.2,613.6 Z M107.3,613.6 L108.0,613.0 L108.7,613.6 Z M177.6,613.6 L178.3,612.8 L179.0,613.6 Z M141.0,613.6 L141.7,613.1 L142.4,613.6 Z M79.8,613.6 L80.5,612.5 L81.2,613.6 Z M88.7,613.6 L89.4,612.5 L90.1,613.6 Z M123.8,613.6 L124.5,612.4 L125.2,613.6 Z M127.7,613.6 L128.4,612.5 L129.1,613.6 Z M147.2,613.6 L147.9,613.1 L148.6,613.6 Z M170.3,613.6 L171.0,612.7 L171.7,613.6 Z M163.2,613.6 L163.9,612.9 L164.6,613.6 Z M105.6,613.6 L106.3,612.7 L107.0,613.6 Z M91.3,613.6 L92.0,612.7 L92.7,613.6 Z M157.1,613.6 L157.8,613.0 L158.5,613.6 Z M177.4,613.6 L178.1,613.1 L178.8,613.6 Z M126.6,613.6 L127.3,612.6 L128.0,613.6 Z M125.4,613.6 L126.1,612.7 L126.8,613.6 Z M154.3,613.6 L155.0,612.5 L155.7,613.6 Z M201.5,613.6 L202.2,612.6 L202.9,613.6 Z M178.7,613.6 L179.4,613.2 L180.1,613.6 Z M137.6,613.6 L138.3,608.1 L139.0,613.6 Z M172.3,613.6 L173.0,612.1 L173.7,613.6 Z M180.3,613.6 L181.0,612.4 L181.7,613.6 Z M197.8,613.6 L198.5,610.2 L199.2,613.6 Z M196.3,613.6 L197.0,611.6 L197.7,613.6 Z " fill="#1a1a60"/>
<path d="M166.8,621.5 L167.5,620.5 L168.2,621.5 Z M128.0,621.5 L128.7,620.8 L129.4,621.5 Z M137.7,621.5 L138.4,620.4 L139.1,621.5 Z M117.5,621.5 L118.2,620.9 L118.9,621.5 Z M78.1,621.5 L78.8,620.9 L79.5,621.5 Z M156.6,621.5 L157.3,620.5 L158.0,621.5 Z M193.0,621.5 L193.7,620.9 L194.4,621.5 Z M201.1,621.5 L201.8,621.0 L202.5,621.5 Z M180.5,621.5 L181.2,621.1 L181.9,621.5 Z M128.4,621.5 L129.1,621.1 L129.8,621.5 Z M184.8,621.5 L185.5,620.5 L186.2,621.5 Z M95.4,621.5 L96.1,620.8 L96.8,621.5 Z M110.1,621.5 L110.8,620.8 L111.5,621.5 Z M146.9,621.5 L147.6,621.1 L148.3,621.5 Z M185.6,621.5 L186.3,621.0 L187.0,621.5 Z M133.7,621.5 L134.4,621.2 L135.1,621.5 Z M78.3,621.5 L79.0,621.0 L79.7,621.5 Z M120.5,621.5 L121.2,620.5 L121.9,621.5 Z M188.8,621.5 L189.5,620.8 L190.2,621.5 Z M134.6,621.5 L135.3,620.7 L136.0,621.5 Z M184.9,621.5 L185.6,620.9 L186.3,621.5 Z M176.8,621.5 L177.5,620.9 L178.2,621.5 Z M152.0,621.5 L152.7,620.6 L153.4,621.5 Z M140.4,621.5 L141.1,620.6 L141.8,621.5 Z M164.8,621.5 L165.5,621.2 L166.2,621.5 Z M82.9,621.5 L83.6,621.1 L84.3,621.5 Z M104.6,621.5 L105.3,621.0 L106.0,621.5 Z M84.1,621.5 L84.8,621.0 L85.5,621.5 Z M152.8,621.5 L153.5,620.5 L154.2,621.5 Z M121.5,621.5 L122.2,620.9 L122.9,621.5 Z M129.9,621.5 L130.6,620.7 L131.3,621.5 Z M175.8,621.5 L176.5,620.4 L177.2,621.5 Z M124.8,621.5 L125.5,620.6 L126.2,621.5 Z M120.5,621.5 L121.2,620.5 L121.9,621.5 Z M106.7,621.5 L107.4,620.5 L108.1,621.5 Z M140.9,621.5 L141.6,620.6 L142.3,621.5 Z M144.6,621.5 L145.3,620.9 L146.0,621.5 Z M139.5,621.5 L140.2,621.2 L140.9,621.5 Z M83.4,621.5 L84.1,620.8 L84.8,621.5 Z M137.4,621.5 L138.1,620.5 L138.8,621.5 Z M137.6,621.5 L138.3,615.5 L139.0,621.5 Z M197.8,621.5 L198.5,616.9 L199.2,621.5 Z M196.3,621.5 L197.0,619.3 L197.7,621.5 Z " fill="#1a1a60"/>
<path d="M80.5,629.0 L81.2,628.4 L81.9,629.0 Z M139.1,629.0 L139.8,628.4 L140.5,629.0 Z M168.8,629.0 L169.5,628.4 L170.2,629.0 Z M148.1,629.0 L148.8,628.5 L149.5,629.0 Z M154.6,629.0 L155.3,628.6 L156.0,629.0 Z M146.8,629.0 L147.5,628.4 L148.2,629.0 Z M101.8,629.0 L102.5,628.2 L103.2,629.0 Z M170.9,629.0 L171.6,628.2 L172.3,629.0 Z M114.6,629.0 L115.3,628.5 L116.0,629.0 Z M110.5,629.0 L111.2,628.7 L111.9,629.0 Z M80.1,629.0 L80.8,628.6 L81.5,629.0 Z M185.2,629.0 L185.9,628.6 L186.6,629.0 Z M163.9,629.0 L164.6,628.6 L165.3,629.0 Z M86.2,629.0 L86.9,628.6 L87.6,629.0 Z M162.4,629.0 L163.1,628.4 L163.8,629.0 Z M146.4,629.0 L147.1,628.5 L147.8,629.0 Z M112.2,629.0 L112.9,628.5 L113.6,629.0 Z M192.8,629.0 L193.5,628.6 L194.2,629.0 Z M169.2,629.0 L169.9,628.6 L170.6,629.0 Z M102.1,629.0 L102.8,628.5 L103.5,629.0 Z M89.6,629.0 L90.3,628.2 L91.0,629.0 Z M123.5,629.0 L124.2,628.6 L124.9,629.0 Z M78.0,629.0 L78.7,628.7 L79.4,629.0 Z M104.7,629.0 L105.4,628.5 L106.1,629.0 Z M152.9,629.0 L153.6,628.2 L154.3,629.0 Z M137.6,629.0 L138.3,627.5 L139.0,629.0 Z M197.8,629.0 L198.5,624.0 L199.2,629.0 Z " fill="#2a2a80"/>
<path d="M77.0,636.4 L77.0,634.7 M77.7,636.4 L77.7,635.6 M78.4,636.4 L78.4,635.1 M79.1,636.4 L79.1,634.7 M79.8,636.4 L79.8,635.8 M80.5,636.4 L80.5,634.8 M81.2,636.4 L81.2,635.4 M81.9,636.4 L81.9,634.9 M82.6,636.4 L82.6,635.5 M83.3,636.4 L83.3,635.1 M84.0,636.4 L84.0,635.2 M84.7,636.4 L84.7,635.8 M85.4,636.4 L85.4,634.9 M86.1,636.4 L86.1,634.8 M86.8,636.4 L86.8,635.3 M87.5,636.4 L87.5,635.4 M88.2,636.4 L88.2,634.7 M88.9,636.4 L88.9,635.4 M89.6,636.4 L89.6,634.8 M90.3,636.4 L90.3,635.4 M91.0,636.4 L91.0,635.4 M91.7,636.4 L91.7,635.4 M92.4,636.4 L92.4,635.8 M93.1,636.4 L93.1,635.5 M93.8,636.4 L93.8,635.6 M94.5,636.4 L94.5,635.8 M95.2,636.4 L95.2,635.2 M95.9,636.4 L95.9,635.3 M96.6,636.4 L96.6,635.9 M97.3,636.4 L97.3,635.7 M98.0,636.4 L98.0,634.7 M98.7,636.4 L98.7,635.7 M99.4,636.4 L99.4,635.4 M100.1,636.4 L100.1,634.7 M100.8,636.4 L100.8,635.8 M101.5,636.4 L101.5,635.4 M102.2,636.4 L102.2,634.9 M102.9,636.4 L102.9,635.9 M103.6,636.4 L103.6,635.8 M104.3,636.4 L104.3,634.7 M105.0,636.4 L105.0,635.0 M105.7,636.4 L105.7,635.6 M106.4,636.4 L106.4,635.3 " stroke="#c02030" stroke-width="0.7"/>
<path d="M77,636.6 L107,636.6" stroke="#c02030" stroke-width="1.2"/>
<path d="M109.0,636.4 L109.7,635.5 L110.4,636.4 Z M196.3,636.4 L197.0,636.0 L197.7,636.4 Z M143.2,636.4 L143.9,635.9 L144.6,636.4 Z M128.3,636.4 L129.0,635.6 L129.7,636.4 Z M166.8,636.4 L167.5,635.9 L168.2,636.4 Z M119.4,636.4 L120.1,635.7 L120.8,636.4 Z M126.1,636.4 L126.8,635.6 L127.5,636.4 Z M176.2,636.4 L176.9,635.8 L177.6,636.4 Z M132.9,636.4 L133.6,636.0 L134.3,636.4 Z M123.7,636.4 L124.4,635.4 L125.1,636.4 Z M140.5,636.4 L141.2,635.7 L141.9,636.4 Z M153.5,636.4 L154.2,635.7 L154.9,636.4 Z M137.6,636.4 L138.3,634.9 L139.0,636.4 Z M197.8,636.4 L198.5,635.2 L199.2,636.4 Z " fill="#c02030"/>
<path d="M137.8,645.8 L138.3,641.3 L138.8,645.8 Z M198.0,645.8 L198.5,642.8 L199.0,645.8 Z " fill="#2a9a5a"/>
<path d="M77,645.8 L104,645.8" stroke="#222" stroke-width="1.0" stroke-dasharray="0.7 1.9"/>
<rect x="195.30" y="606.70" width="6.30" height="43.30" fill="none" stroke="#c8284a" stroke-width="1.1"/>
<path d="M281.40,530.12 L282.11,530.13 L282.82,530.57 L283.53,531.06 L284.24,530.23 L284.94,529.79 L285.65,528.87 L286.36,529.67 L287.07,528.59 L287.78,528.66 L288.49,527.11 L289.20,527.46 L289.91,527.10 L290.62,526.72 L291.33,525.78 L292.03,525.21 L292.74,525.02 L293.45,524.60 L294.16,524.42 L294.87,524.57 L295.58,524.16 L296.29,523.38 L297.00,522.81 L297.71,522.62 L298.42,521.77 L299.12,520.68 L299.83,520.24 L300.54,519.26 L301.25,517.53 L301.96,516.20 L302.67,515.62 L303.38,514.51 L304.09,512.53 L304.80,510.82 L305.51,509.27 L306.21,507.28 L306.92,504.63 L307.63,502.34 L308.34,499.88 L309.05,497.06 L309.76,494.33 L310.47,494.59 L311.18,495.29 L311.89,496.65 L312.60,497.44 L313.31,497.74 L314.01,497.72 L314.72,497.68 L315.43,496.64 L316.14,494.49 L316.85,490.79 L317.56,489.57 L318.27,491.07 L318.98,495.02 L319.69,497.58 L320.39,500.09 L321.10,502.50 L321.81,504.87 L322.52,507.63 L323.23,508.64 L323.94,510.72 L324.65,512.20 L325.36,514.19 L326.07,516.35 L326.78,517.88 L327.49,519.48 L328.19,520.03 L328.90,521.80 L329.61,522.54 L330.32,523.56 L331.03,524.00 L331.74,524.57 L332.45,524.63 L333.16,524.09 L333.87,525.49 L334.57,526.04 L335.28,526.84 L335.99,525.95 L336.70,526.43 L337.41,525.66 L338.12,525.80 L338.83,524.94 L339.54,525.30 L340.25,526.11 L340.96,527.16 L341.67,529.03 L342.37,528.68 L343.08,528.06 L343.79,526.60 L344.50,527.64 L345.21,528.70 L345.92,529.41 L346.63,527.94 L347.34,527.57 L348.05,528.34 L348.75,529.03 L349.46,529.33 L350.17,529.17 L350.88,529.75 L351.59,529.65 L352.30,529.49" stroke="#4a7ab8" stroke-width="1.05" fill="none" stroke-linejoin="round"/>
<path d="M281.40,530.94 L282.11,530.42 L282.82,529.88 L283.53,530.28 L284.24,530.45 L284.94,531.22 L285.65,530.49 L286.36,529.55 L287.07,528.74 L287.78,528.18 L288.49,528.90 L289.20,528.39 L289.91,528.42 L290.62,526.55 L291.33,525.79 L292.03,524.60 L292.74,524.80 L293.45,524.41 L294.16,524.03 L294.87,523.65 L295.58,523.51 L296.29,523.10 L297.00,522.44 L297.71,521.71 L298.42,521.01 L299.12,520.30 L299.83,519.03 L300.54,518.76 L301.25,517.42 L301.96,517.18 L302.67,515.83 L303.38,515.28 L304.09,513.54 L304.80,511.88 L305.51,509.78 L306.21,508.01 L306.92,505.16 L307.63,501.47 L308.34,498.12 L309.05,495.47 L309.76,493.58 L310.47,492.82 L311.18,492.11 L311.89,492.07 L312.60,492.09 L313.31,493.01 L314.01,493.32 L314.72,492.81 L315.43,491.32 L316.14,488.72 L316.85,485.40 L317.56,483.88 L318.27,485.45 L318.98,488.69 L319.69,491.33 L320.39,494.36 L321.10,497.45 L321.81,499.92 L322.52,503.27 L323.23,506.43 L323.94,509.22 L324.65,511.59 L325.36,514.25 L326.07,516.98 L326.78,518.48 L327.49,519.22 L328.19,520.73 L328.90,522.88 L329.61,524.50 L330.32,525.09 L331.03,525.02 L331.74,525.03 L332.45,524.88 L333.16,525.16 L333.87,525.56 L334.57,526.82 L335.28,527.53 L335.99,527.48 L336.70,526.43 L337.41,525.32 L338.12,524.80 L338.83,524.62 L339.54,524.98 L340.25,526.52 L340.96,527.74 L341.67,528.53 L342.37,528.16 L343.08,528.69 L343.79,528.51 L344.50,529.00 L345.21,528.61 L345.92,529.04 L346.63,528.69 L347.34,529.24 L348.05,529.07 L348.75,529.42 L349.46,529.26 L350.17,529.83 L350.88,530.78 L351.59,530.83 L352.30,530.73" stroke="#2e5088" stroke-width="1.05" fill="none" stroke-linejoin="round"/>
<path d="M281.40,531.99 L282.11,532.45 L282.82,530.35 L283.53,530.25 L284.24,529.21 L284.94,529.40 L285.65,529.44 L286.36,529.61 L287.07,529.12 L287.78,528.72 L288.49,528.69 L289.20,528.12 L289.91,527.20 L290.62,526.80 L291.33,526.74 L292.03,527.26 L292.74,525.89 L293.45,525.34 L294.16,523.58 L294.87,523.59 L295.58,522.15 L296.29,521.37 L297.00,520.64 L297.71,520.06 L298.42,520.29 L299.12,519.14 L299.83,519.57 L300.54,518.28 L301.25,517.59 L301.96,516.14 L302.67,515.45 L303.38,514.83 L304.09,513.48 L304.80,511.35 L305.51,509.12 L306.21,507.14 L306.92,505.31 L307.63,502.27 L308.34,499.69 L309.05,496.42 L309.76,494.67 L310.47,492.71 L311.18,491.98 L311.89,491.16 L312.60,491.09 L313.31,491.25 L314.01,491.00 L314.72,490.23 L315.43,488.94 L316.14,486.52 L316.85,483.95 L317.56,481.97 L318.27,483.89 L318.98,487.10 L319.69,490.77 L320.39,493.55 L321.10,497.13 L321.81,500.50 L322.52,504.55 L323.23,507.05 L323.94,509.47 L324.65,511.55 L325.36,513.66 L326.07,515.17 L326.78,516.71 L327.49,519.62 L328.19,521.77 L328.90,523.76 L329.61,524.51 L330.32,525.40 L331.03,524.86 L331.74,524.88 L332.45,525.41 L333.16,526.25 L333.87,526.49 L334.57,526.53 L335.28,527.29 L335.99,527.13 L336.70,526.62 L337.41,526.73 L338.12,526.99 L338.83,526.60 L339.54,525.89 L340.25,526.11 L340.96,527.62 L341.67,528.69 L342.37,529.49 L343.08,529.45 L343.79,528.81 L344.50,528.37 L345.21,527.86 L345.92,528.72 L346.63,528.72 L347.34,528.73 L348.05,529.27 L348.75,529.66 L349.46,530.38 L350.17,529.83 L350.88,529.16 L351.59,528.92 L352.30,529.71" stroke="#6a1428" stroke-width="1.05" fill="none" stroke-linejoin="round"/>
<path d="M281.40,532.62 L282.11,533.83 L282.82,533.25 L283.53,531.79 L284.24,530.26 L284.94,529.58 L285.65,529.35 L286.36,529.38 L287.07,528.19 L287.78,528.63 L288.49,527.75 L289.20,527.26 L289.91,526.46 L290.62,526.07 L291.33,526.89 L292.03,526.21 L292.74,526.62 L293.45,526.18 L294.16,525.14 L294.87,523.70 L295.58,522.97 L296.29,522.80 L297.00,521.95 L297.71,521.03 L298.42,520.17 L299.12,520.24 L299.83,519.29 L300.54,519.03 L301.25,517.28 L301.96,516.76 L302.67,515.92 L303.38,514.88 L304.09,513.70 L304.80,511.32 L305.51,509.75 L306.21,507.05 L306.92,505.13 L307.63,501.32 L308.34,498.68 L309.05,494.66 L309.76,492.58 L310.47,491.74 L311.18,491.65 L311.89,491.77 L312.60,490.79 L313.31,490.01 L314.01,489.18 L314.72,488.51 L315.43,488.44 L316.14,486.20 L316.85,483.29 L317.56,480.84 L318.27,483.16 L318.98,486.76 L319.69,490.53 L320.39,494.18 L321.10,498.03 L321.81,501.23 L322.52,504.35 L323.23,507.41 L323.94,509.61 L324.65,511.14 L325.36,512.95 L326.07,515.54 L326.78,517.87 L327.49,519.54 L328.19,521.08 L328.90,522.10 L329.61,522.69 L330.32,523.81 L331.03,524.62 L331.74,525.63 L332.45,526.34 L333.16,526.60 L333.87,526.56 L334.57,526.78 L335.28,526.75 L335.99,527.13 L336.70,525.95 L337.41,525.41 L338.12,524.95 L338.83,526.09 L339.54,527.12 L340.25,528.19 L340.96,528.57 L341.67,529.19 L342.37,528.60 L343.08,528.35 L343.79,528.43 L344.50,529.82 L345.21,530.13 L345.92,530.70 L346.63,529.84 L347.34,529.91 L348.05,529.46 L348.75,529.78 L349.46,529.74 L350.17,529.44 L350.88,529.33 L351.59,529.48 L352.30,529.88" stroke="#1c2550" stroke-width="1.05" fill="none" stroke-linejoin="round"/>
<path d="M281.40,532.57 L282.11,532.00 L282.82,531.16 L283.53,530.68 L284.24,530.68 L284.94,530.17 L285.65,530.34 L286.36,528.76 L287.07,528.53 L287.78,528.18 L288.49,528.48 L289.20,528.21 L289.91,527.41 L290.62,526.49 L291.33,525.88 L292.03,524.92 L292.74,524.69 L293.45,524.45 L294.16,525.08 L294.87,525.36 L295.58,524.66 L296.29,523.18 L297.00,521.35 L297.71,520.87 L298.42,520.31 L299.12,520.34 L299.83,519.50 L300.54,519.57 L301.25,518.25 L301.96,517.59 L302.67,515.84 L303.38,514.56 L304.09,512.60 L304.80,511.45 L305.51,509.50 L306.21,507.36 L306.92,503.89 L307.63,501.43 L308.34,499.05 L309.05,496.63 L309.76,493.90 L310.47,491.88 L311.18,490.76 L311.89,489.27 L312.60,488.50 L313.31,487.22 L314.01,486.87 L314.72,486.64 L315.43,485.29 L316.14,482.87 L316.85,479.68 L317.56,478.29 L318.27,480.21 L318.98,483.35 L319.69,487.03 L320.39,491.54 L321.10,495.52 L321.81,499.64 L322.52,502.71 L323.23,505.85 L323.94,507.88 L324.65,509.95 L325.36,512.63 L326.07,515.09 L326.78,516.91 L327.49,518.12 L328.19,520.31 L328.90,522.47 L329.61,524.00 L330.32,525.16 L331.03,525.62 L331.74,526.39 L332.45,525.93 L333.16,526.04 L333.87,526.01 L334.57,527.12 L335.28,527.46 L335.99,527.47 L336.70,526.88 L337.41,526.21 L338.12,525.86 L338.83,525.98 L339.54,526.49 L340.25,526.26 L340.96,525.87 L341.67,526.53 L342.37,526.94 L343.08,527.87 L343.79,527.48 L344.50,527.57 L345.21,527.67 L345.92,528.38 L346.63,529.68 L347.34,530.02 L348.05,530.06 L348.75,530.11 L349.46,529.77 L350.17,529.91 L350.88,529.55 L351.59,529.38 L352.30,528.92" stroke="#c01c3c" stroke-width="1.05" fill="none" stroke-linejoin="round"/>
<path d="M281.40,531.47 L282.11,530.62 L282.82,529.84 L283.53,530.05 L284.24,529.90 L284.94,530.38 L285.65,530.44 L286.36,530.58 L287.07,530.06 L287.78,529.54 L288.49,528.98 L289.20,528.16 L289.91,527.11 L290.62,526.33 L291.33,526.12 L292.03,525.91 L292.74,526.32 L293.45,525.59 L294.16,525.59 L294.87,524.32 L295.58,524.17 L296.29,522.85 L297.00,522.07 L297.71,521.38 L298.42,520.33 L299.12,520.13 L299.83,518.94 L300.54,519.14 L301.25,517.45 L301.96,517.17 L302.67,515.42 L303.38,513.91 L304.09,512.94 L304.80,511.60 L305.51,510.35 L306.21,507.19 L306.92,503.69 L307.63,500.38 L308.34,497.23 L309.05,494.40 L309.76,491.80 L310.47,490.37 L311.18,489.00 L311.89,488.01 L312.60,486.78 L313.31,485.56 L314.01,484.23 L314.72,483.64 L315.43,482.74 L316.14,480.19 L316.85,477.00 L317.56,476.20 L318.27,479.12 L318.98,482.80 L319.69,486.25 L320.39,489.92 L321.10,493.69 L321.81,497.85 L322.52,500.72 L323.23,504.50 L323.94,507.04 L324.65,509.60 L325.36,512.49 L326.07,515.03 L326.78,518.02 L327.49,519.62 L328.19,520.93 L328.90,522.06 L329.61,523.01 L330.32,524.03 L331.03,524.51 L331.74,524.27 L332.45,524.06 L333.16,525.60 L333.87,526.19 L334.57,526.87 L335.28,526.14 L335.99,526.82 L336.70,526.90 L337.41,526.74 L338.12,526.51 L338.83,525.76 L339.54,525.75 L340.25,525.89 L340.96,527.37 L341.67,527.86 L342.37,528.13 L343.08,527.62 L343.79,528.37 L344.50,527.82 L345.21,528.36 L345.92,527.58 L346.63,529.32 L347.34,529.25 L348.05,530.05 L348.75,530.34 L349.46,530.79 L350.17,531.38 L350.88,531.06 L351.59,531.20 L352.30,531.25" stroke="#e0304e" stroke-width="1.05" fill="none" stroke-linejoin="round"/>
<rect x="281.40" y="473.70" width="70.90" height="62.10" fill="none" stroke="#2a2a2a" stroke-width="1.15"/>
<line x1="278.50" y1="473.70" x2="281.40" y2="473.70" stroke="#2a2a2a" stroke-width="0.8"/>
<line x1="278.50" y1="480.57" x2="281.40" y2="480.57" stroke="#2a2a2a" stroke-width="0.8"/>
<line x1="278.50" y1="487.44" x2="281.40" y2="487.44" stroke="#2a2a2a" stroke-width="0.8"/>
<line x1="278.50" y1="494.31" x2="281.40" y2="494.31" stroke="#2a2a2a" stroke-width="0.8"/>
<line x1="278.50" y1="501.18" x2="281.40" y2="501.18" stroke="#2a2a2a" stroke-width="0.8"/>
<line x1="278.50" y1="508.05" x2="281.40" y2="508.05" stroke="#2a2a2a" stroke-width="0.8"/>
<line x1="278.50" y1="514.92" x2="281.40" y2="514.92" stroke="#2a2a2a" stroke-width="0.8"/>
<line x1="278.50" y1="521.79" x2="281.40" y2="521.79" stroke="#2a2a2a" stroke-width="0.8"/>
<line x1="278.50" y1="528.66" x2="281.40" y2="528.66" stroke="#2a2a2a" stroke-width="0.8"/>
<text x="274.90" y="476.70" font-size="6.6" text-anchor="end" stroke="#262626" stroke-width="0.07">2.5</text>
<text x="274.90" y="531.66" font-size="6.6" text-anchor="end" stroke="#262626" stroke-width="0.07">0.5</text>
<line x1="281.40" y1="535.80" x2="281.40" y2="538.70" stroke="#2a2a2a" stroke-width="0.8"/>
<text x="281.40" y="548.00" font-size="6.8" text-anchor="middle" stroke="#262626" stroke-width="0.07">−2.5</text>
<line x1="316.85" y1="535.80" x2="316.85" y2="538.70" stroke="#2a2a2a" stroke-width="0.8"/>
<text x="316.85" y="548.00" font-size="6.8" text-anchor="middle" stroke="#262626" stroke-width="0.07">0</text>
<line x1="352.30" y1="535.80" x2="352.30" y2="538.70" stroke="#2a2a2a" stroke-width="0.8"/>
<text x="352.30" y="548.00" font-size="6.8" text-anchor="middle" stroke="#262626" stroke-width="0.07">+2.5</text>
<text x="294.35" y="560.30" font-size="8.6" textLength="45.00" lengthAdjust="spacingAndGlyphs" stroke="#262626" stroke-width="0.07">kb from center</text>
<text x="297.80" y="468.70" font-size="8.2" textLength="39.50" lengthAdjust="spacingAndGlyphs" stroke="#262626" stroke-width="0.07">DNA repair</text>
<text x="250.50" y="504.90" font-size="8.2" text-anchor="middle" textLength="59.20" lengthAdjust="spacingAndGlyphs" transform="rotate(-90 250.50 504.90)" stroke="#262626" stroke-width="0.07">Averaged H3K27ac</text>
<text x="260.90" y="504.90" font-size="8.0" text-anchor="middle" textLength="26.10" lengthAdjust="spacingAndGlyphs" transform="rotate(-90 260.90 504.90)" stroke="#262626" stroke-width="0.07">intensity</text>
<text x="284.20" y="484.10" font-size="6.9" fill="#3a6aaa" textLength="23.20" lengthAdjust="spacingAndGlyphs" stroke="#3a6aaa" stroke-width="0.07">EtOH(3)</text>
<text x="285.30" y="490.50" font-size="6.9" fill="#d02848" textLength="21.10" lengthAdjust="spacingAndGlyphs" stroke="#d02848" stroke-width="0.07">OHT(3)</text>
<text x="322.30" y="481.50" font-size="6.6" textLength="15.00" lengthAdjust="spacingAndGlyphs" stroke="#262626" stroke-width="0.07">T-ALL</text>
<text x="337.90" y="478.50" font-size="4.3" textLength="9.80" lengthAdjust="spacingAndGlyphs" stroke="#262626" stroke-width="0.12">#969</text>
<path d="M433.80,527.48 L434.51,526.76 L435.23,527.03 L435.94,526.36 L436.66,526.97 L437.38,527.05 L438.09,526.53 L438.81,525.62 L439.52,524.70 L440.24,524.08 L440.95,524.71 L441.67,525.19 L442.38,524.50 L443.10,523.12 L443.81,521.33 L444.53,521.05 L445.24,521.38 L445.96,521.30 L446.67,521.11 L447.38,520.24 L448.10,520.61 L448.81,520.36 L449.53,519.76 L450.25,518.12 L450.96,516.95 L451.68,515.20 L452.39,514.69 L453.11,513.44 L453.82,512.72 L454.54,511.63 L455.25,511.12 L455.97,509.79 L456.68,508.02 L457.40,506.22 L458.11,504.93 L458.82,503.86 L459.54,502.20 L460.25,501.06 L460.97,499.23 L461.69,497.44 L462.40,495.85 L463.12,494.22 L463.83,493.75 L464.55,492.59 L465.26,492.26 L465.98,490.80 L466.69,489.69 L467.41,488.50 L468.12,487.91 L468.84,486.78 L469.55,485.53 L470.26,485.22 L470.98,485.01 L471.69,486.66 L472.41,487.37 L473.12,488.75 L473.84,489.33 L474.56,491.43 L475.27,494.00 L475.99,496.37 L476.70,498.59 L477.42,500.92 L478.13,502.87 L478.85,504.03 L479.56,505.37 L480.28,507.17 L480.99,509.08 L481.71,510.79 L482.42,512.54 L483.13,514.48 L483.85,515.53 L484.56,516.60 L485.28,517.35 L486.00,518.57 L486.71,519.40 L487.43,519.88 L488.14,521.11 L488.86,522.51 L489.57,523.88 L490.29,524.74 L491.00,524.58 L491.72,524.74 L492.43,524.60 L493.15,525.54 L493.86,526.04 L494.57,526.33 L495.29,526.53 L496.00,527.33 L496.72,528.72 L497.44,528.81 L498.15,528.99 L498.87,528.80 L499.58,528.93 L500.30,528.80 L501.01,529.13 L501.73,529.61 L502.44,529.95 L503.16,529.18 L503.87,529.96 L504.59,530.12 L505.30,530.62" stroke="#1c2550" stroke-width="1.05" fill="none" stroke-linejoin="round"/>
<path d="M433.80,528.57 L434.51,528.13 L435.23,527.10 L435.94,526.88 L436.66,526.15 L437.38,525.89 L438.09,525.25 L438.81,525.39 L439.52,525.30 L440.24,524.57 L440.95,523.48 L441.67,523.05 L442.38,522.60 L443.10,522.92 L443.81,522.99 L444.53,523.49 L445.24,523.27 L445.96,522.73 L446.67,521.79 L447.38,521.43 L448.10,520.70 L448.81,520.30 L449.53,519.39 L450.25,518.81 L450.96,517.11 L451.68,515.77 L452.39,514.68 L453.11,514.38 L453.82,512.80 L454.54,511.60 L455.25,509.89 L455.97,508.87 L456.68,508.10 L457.40,506.63 L458.11,505.57 L458.82,503.74 L459.54,502.76 L460.25,501.06 L460.97,499.17 L461.69,497.42 L462.40,496.31 L463.12,494.72 L463.83,493.24 L464.55,491.44 L465.26,490.41 L465.98,489.23 L466.69,488.23 L467.41,487.59 L468.12,487.24 L468.84,487.02 L469.55,486.42 L470.26,485.78 L470.98,486.14 L471.69,486.87 L472.41,487.85 L473.12,488.82 L473.84,490.35 L474.56,492.01 L475.27,494.05 L475.99,496.10 L476.70,498.75 L477.42,500.90 L478.13,503.13 L478.85,505.10 L479.56,506.61 L480.28,508.06 L480.99,509.40 L481.71,510.38 L482.42,511.66 L483.13,512.81 L483.85,514.50 L484.56,515.59 L485.28,516.94 L486.00,518.27 L486.71,519.44 L487.43,520.56 L488.14,521.84 L488.86,522.80 L489.57,523.65 L490.29,523.89 L491.00,524.71 L491.72,526.01 L492.43,526.14 L493.15,526.43 L493.86,526.73 L494.57,527.38 L495.29,527.98 L496.00,527.63 L496.72,528.21 L497.44,527.97 L498.15,528.24 L498.87,528.25 L499.58,528.64 L500.30,528.49 L501.01,529.03 L501.73,528.87 L502.44,529.14 L503.16,529.05 L503.87,529.49 L504.59,529.92 L505.30,529.84" stroke="#4a7ab8" stroke-width="1.05" fill="none" stroke-linejoin="round"/>
<path d="M433.80,527.84 L434.51,528.40 L435.23,528.04 L435.94,528.30 L436.66,527.10 L437.38,526.75 L438.09,525.63 L438.81,525.34 L439.52,525.11 L440.24,525.18 L440.95,525.18 L441.67,524.53 L442.38,524.18 L443.10,523.76 L443.81,523.96 L444.53,523.52 L445.24,523.13 L445.96,522.44 L446.67,521.96 L447.38,521.55 L448.10,521.37 L448.81,520.78 L449.53,520.31 L450.25,519.09 L450.96,517.63 L451.68,516.33 L452.39,515.22 L453.11,513.68 L453.82,512.61 L454.54,511.91 L455.25,511.67 L455.97,509.76 L456.68,507.50 L457.40,506.29 L458.11,505.13 L458.82,504.20 L459.54,502.55 L460.25,501.77 L460.97,500.04 L461.69,498.67 L462.40,496.64 L463.12,495.60 L463.83,493.74 L464.55,492.46 L465.26,491.77 L465.98,491.35 L466.69,490.53 L467.41,489.93 L468.12,489.40 L468.84,489.04 L469.55,488.52 L470.26,488.13 L470.98,488.40 L471.69,488.37 L472.41,489.04 L473.12,489.15 L473.84,490.37 L474.56,491.97 L475.27,494.50 L475.99,496.58 L476.70,499.01 L477.42,501.51 L478.13,503.45 L478.85,504.81 L479.56,505.39 L480.28,507.24 L480.99,509.16 L481.71,511.69 L482.42,514.23 L483.13,515.96 L483.85,516.86 L484.56,517.26 L485.28,518.69 L486.00,519.71 L486.71,520.68 L487.43,521.13 L488.14,522.48 L488.86,523.41 L489.57,524.12 L490.29,525.14 L491.00,525.63 L491.72,526.34 L492.43,525.99 L493.15,526.65 L493.86,526.50 L494.57,527.08 L495.29,526.78 L496.00,527.86 L496.72,528.19 L497.44,528.80 L498.15,529.18 L498.87,529.59 L499.58,529.94 L500.30,529.91 L501.01,530.17 L501.73,530.57 L502.44,530.55 L503.16,530.37 L503.87,530.30 L504.59,530.73 L505.30,530.62" stroke="#2e5088" stroke-width="1.05" fill="none" stroke-linejoin="round"/>
<path d="M433.80,529.46 L434.51,529.74 L435.23,529.66 L435.94,529.03 L436.66,528.45 L437.38,528.45 L438.09,527.73 L438.81,527.98 L439.52,527.29 L440.24,527.00 L440.95,526.07 L441.67,525.90 L442.38,525.22 L443.10,524.90 L443.81,524.55 L444.53,524.69 L445.24,524.65 L445.96,523.73 L446.67,523.75 L447.38,522.85 L448.10,523.14 L448.81,521.79 L449.53,521.07 L450.25,518.95 L450.96,518.38 L451.68,518.00 L452.39,517.73 L453.11,516.40 L453.82,513.86 L454.54,512.03 L455.25,510.34 L455.97,510.11 L456.68,509.19 L457.40,508.28 L458.11,506.08 L458.82,504.58 L459.54,503.09 L460.25,501.48 L460.97,500.15 L461.69,498.65 L462.40,498.28 L463.12,496.84 L463.83,495.51 L464.55,493.71 L465.26,493.16 L465.98,493.37 L466.69,492.83 L467.41,491.25 L468.12,490.15 L468.84,489.74 L469.55,489.75 L470.26,489.66 L470.98,490.41 L471.69,490.93 L472.41,490.87 L473.12,491.28 L473.84,492.49 L474.56,494.76 L475.27,496.75 L475.99,499.25 L476.70,500.76 L477.42,502.60 L478.13,504.23 L478.85,506.39 L479.56,507.68 L480.28,509.22 L480.99,510.47 L481.71,512.35 L482.42,513.58 L483.13,515.27 L483.85,516.28 L484.56,518.16 L485.28,519.43 L486.00,521.13 L486.71,521.17 L487.43,522.21 L488.14,522.93 L488.86,525.14 L489.57,526.24 L490.29,527.49 L491.00,527.46 L491.72,527.95 L492.43,527.34 L493.15,528.07 L493.86,527.88 L494.57,528.90 L495.29,528.90 L496.00,530.00 L496.72,530.38 L497.44,530.89 L498.15,531.02 L498.87,530.96 L499.58,531.54 L500.30,531.47 L501.01,531.86 L501.73,531.46 L502.44,531.92 L503.16,531.75 L503.87,532.21 L504.59,532.15 L505.30,532.79" stroke="#6a1428" stroke-width="1.05" fill="none" stroke-linejoin="round"/>
<path d="M433.80,530.23 L434.51,530.78 L435.23,530.46 L435.94,529.70 L436.66,528.38 L437.38,528.23 L438.09,527.52 L438.81,526.92 L439.52,526.50 L440.24,526.89 L440.95,526.85 L441.67,526.51 L442.38,526.02 L443.10,525.51 L443.81,524.63 L444.53,524.40 L445.24,524.45 L445.96,524.52 L446.67,523.90 L447.38,523.28 L448.10,522.76 L448.81,521.98 L449.53,521.19 L450.25,519.99 L450.96,519.62 L451.68,518.85 L452.39,517.87 L453.11,515.98 L453.82,514.63 L454.54,512.76 L455.25,511.64 L455.97,510.10 L456.68,509.23 L457.40,507.66 L458.11,505.94 L458.82,504.63 L459.54,502.83 L460.25,501.88 L460.97,500.13 L461.69,499.27 L462.40,497.74 L463.12,496.48 L463.83,495.34 L464.55,493.89 L465.26,493.34 L465.98,492.37 L466.69,491.94 L467.41,490.63 L468.12,489.85 L468.84,489.33 L469.55,488.94 L470.26,488.60 L470.98,488.82 L471.69,489.71 L472.41,490.42 L473.12,491.13 L473.84,491.87 L474.56,493.95 L475.27,496.14 L475.99,498.60 L476.70,501.32 L477.42,503.49 L478.13,505.90 L478.85,506.85 L479.56,508.36 L480.28,509.94 L480.99,511.46 L481.71,512.78 L482.42,514.03 L483.13,515.84 L483.85,516.84 L484.56,517.81 L485.28,518.97 L486.00,519.53 L486.71,520.54 L487.43,520.85 L488.14,522.49 L488.86,523.34 L489.57,525.17 L490.29,526.37 L491.00,527.11 L491.72,527.35 L492.43,527.64 L493.15,527.99 L493.86,529.13 L494.57,529.72 L495.29,530.06 L496.00,529.97 L496.72,530.28 L497.44,530.91 L498.15,530.85 L498.87,530.92 L499.58,531.45 L500.30,531.59 L501.01,532.00 L501.73,531.38 L502.44,531.80 L503.16,531.68 L503.87,532.34 L504.59,531.94 L505.30,532.08" stroke="#c01c3c" stroke-width="1.05" fill="none" stroke-linejoin="round"/>
<path d="M433.80,531.02 L434.51,529.76 L435.23,528.16 L435.94,528.31 L436.66,528.48 L437.38,528.63 L438.09,527.78 L438.81,527.18 L439.52,526.75 L440.24,526.62 L440.95,526.15 L441.67,525.71 L442.38,525.86 L443.10,525.86 L443.81,525.65 L444.53,525.35 L445.24,525.49 L445.96,524.86 L446.67,524.25 L447.38,523.06 L448.10,522.88 L448.81,521.80 L449.53,520.87 L450.25,519.44 L450.96,518.85 L451.68,518.52 L452.39,516.82 L453.11,515.29 L453.82,512.90 L454.54,512.42 L455.25,511.57 L455.97,510.99 L456.68,509.98 L457.40,508.16 L458.11,506.15 L458.82,504.02 L459.54,501.64 L460.25,500.56 L460.97,499.29 L461.69,499.06 L462.40,498.09 L463.12,496.89 L463.83,495.86 L464.55,494.74 L465.26,493.99 L465.98,493.18 L466.69,491.65 L467.41,491.59 L468.12,490.74 L468.84,490.64 L469.55,489.20 L470.26,488.79 L470.98,489.16 L471.69,489.25 L472.41,489.31 L473.12,489.73 L473.84,491.57 L474.56,494.01 L475.27,496.56 L475.99,498.74 L476.70,500.59 L477.42,502.19 L478.13,504.44 L478.85,506.12 L479.56,508.00 L480.28,509.65 L480.99,511.23 L481.71,512.27 L482.42,512.85 L483.13,514.75 L483.85,516.08 L484.56,517.60 L485.28,518.37 L486.00,519.90 L486.71,521.24 L487.43,522.27 L488.14,523.15 L488.86,524.55 L489.57,525.87 L490.29,526.70 L491.00,526.56 L491.72,526.72 L492.43,527.18 L493.15,528.03 L493.86,528.16 L494.57,528.76 L495.29,529.38 L496.00,530.46 L496.72,530.63 L497.44,530.68 L498.15,530.88 L498.87,531.27 L499.58,531.25 L500.30,531.08 L501.01,530.98 L501.73,531.55 L502.44,531.83 L503.16,531.68 L503.87,531.75 L504.59,531.36 L505.30,531.76" stroke="#e0304e" stroke-width="1.05" fill="none" stroke-linejoin="round"/>
<rect x="433.80" y="473.70" width="71.50" height="61.50" fill="none" stroke="#2a2a2a" stroke-width="1.15"/>
<line x1="430.90" y1="473.70" x2="433.80" y2="473.70" stroke="#2a2a2a" stroke-width="0.8"/>
<line x1="430.90" y1="480.50" x2="433.80" y2="480.50" stroke="#2a2a2a" stroke-width="0.8"/>
<line x1="430.90" y1="487.31" x2="433.80" y2="487.31" stroke="#2a2a2a" stroke-width="0.8"/>
<line x1="430.90" y1="494.11" x2="433.80" y2="494.11" stroke="#2a2a2a" stroke-width="0.8"/>
<line x1="430.90" y1="500.91" x2="433.80" y2="500.91" stroke="#2a2a2a" stroke-width="0.8"/>
<line x1="430.90" y1="507.72" x2="433.80" y2="507.72" stroke="#2a2a2a" stroke-width="0.8"/>
<line x1="430.90" y1="514.52" x2="433.80" y2="514.52" stroke="#2a2a2a" stroke-width="0.8"/>
<line x1="430.90" y1="521.32" x2="433.80" y2="521.32" stroke="#2a2a2a" stroke-width="0.8"/>
<line x1="430.90" y1="528.13" x2="433.80" y2="528.13" stroke="#2a2a2a" stroke-width="0.8"/>
<text x="427.30" y="476.70" font-size="6.6" text-anchor="end" stroke="#262626" stroke-width="0.07">2.5</text>
<text x="427.30" y="531.13" font-size="6.6" text-anchor="end" stroke="#262626" stroke-width="0.07">0.5</text>
<line x1="433.80" y1="535.20" x2="433.80" y2="538.10" stroke="#2a2a2a" stroke-width="0.8"/>
<text x="433.80" y="547.40" font-size="6.8" text-anchor="middle" stroke="#262626" stroke-width="0.07">−2.5</text>
<line x1="469.55" y1="535.20" x2="469.55" y2="538.10" stroke="#2a2a2a" stroke-width="0.8"/>
<text x="469.55" y="547.40" font-size="6.8" text-anchor="middle" stroke="#262626" stroke-width="0.07">0</text>
<line x1="505.30" y1="535.20" x2="505.30" y2="538.10" stroke="#2a2a2a" stroke-width="0.8"/>
<text x="505.30" y="547.40" font-size="6.8" text-anchor="middle" stroke="#262626" stroke-width="0.07">+2.5</text>
<text x="447.05" y="559.70" font-size="8.6" textLength="45.00" lengthAdjust="spacingAndGlyphs" stroke="#262626" stroke-width="0.07">kb from center</text>
<text x="453.80" y="468.70" font-size="8.2" textLength="32.50" lengthAdjust="spacingAndGlyphs" stroke="#262626" stroke-width="0.07">OXPHOS</text>
<text x="402.90" y="504.90" font-size="8.2" text-anchor="middle" textLength="59.20" lengthAdjust="spacingAndGlyphs" transform="rotate(-90 402.90 504.90)" stroke="#262626" stroke-width="0.07">Averaged H3K27ac</text>
<text x="413.30" y="504.90" font-size="8.0" text-anchor="middle" textLength="26.10" lengthAdjust="spacingAndGlyphs" transform="rotate(-90 413.30 504.90)" stroke="#262626" stroke-width="0.07">intensity</text>
<text x="436.60" y="484.10" font-size="6.9" fill="#3a6aaa" textLength="23.20" lengthAdjust="spacingAndGlyphs" stroke="#3a6aaa" stroke-width="0.07">EtOH(3)</text>
<text x="437.70" y="490.50" font-size="6.9" fill="#d02848" textLength="21.10" lengthAdjust="spacingAndGlyphs" stroke="#d02848" stroke-width="0.07">OHT(3)</text>
<text x="475.30" y="481.50" font-size="6.6" textLength="15.00" lengthAdjust="spacingAndGlyphs" stroke="#262626" stroke-width="0.07">T-ALL</text>
<text x="490.90" y="478.50" font-size="4.3" textLength="9.80" lengthAdjust="spacingAndGlyphs" stroke="#262626" stroke-width="0.12">#969</text>
<path d="M282.00,647.65 L282.72,647.97 L283.44,647.85 L284.15,648.09 L284.87,647.44 L285.59,647.74 L286.31,647.45 L287.03,648.28 L287.74,647.74 L288.46,647.70 L289.18,647.24 L289.90,647.13 L290.62,646.79 L291.33,646.62 L292.05,645.99 L292.77,645.78 L293.49,644.48 L294.21,644.38 L294.92,643.77 L295.64,643.14 L296.36,642.36 L297.08,642.36 L297.80,642.03 L298.51,642.17 L299.23,641.57 L299.95,641.01 L300.67,639.17 L301.39,637.17 L302.10,636.03 L302.82,635.46 L303.54,634.85 L304.26,633.31 L304.98,631.42 L305.69,629.92 L306.41,628.59 L307.13,627.50 L307.85,624.74 L308.57,623.11 L309.28,621.27 L310.00,619.26 L310.72,615.51 L311.44,612.28 L312.16,609.92 L312.87,609.45 L313.59,609.27 L314.31,609.48 L315.03,608.61 L315.75,607.89 L316.46,607.85 L317.18,607.80 L317.90,607.73 L318.62,607.19 L319.34,608.71 L320.05,609.93 L320.77,611.59 L321.49,612.39 L322.21,613.92 L322.93,615.32 L323.64,616.89 L324.36,618.72 L325.08,620.54 L325.80,623.08 L326.52,625.10 L327.23,627.93 L327.95,629.72 L328.67,631.48 L329.39,633.26 L330.11,634.90 L330.82,636.68 L331.54,638.31 L332.26,641.04 L332.98,643.38 L333.70,644.19 L334.41,643.40 L335.13,643.01 L335.85,643.16 L336.57,644.59 L337.29,645.66 L338.00,646.17 L338.72,646.68 L339.44,646.52 L340.16,646.54 L340.88,646.13 L341.59,645.91 L342.31,646.40 L343.03,646.24 L343.75,646.38 L344.47,646.97 L345.18,647.76 L345.90,648.32 L346.62,647.42 L347.34,646.93 L348.06,646.59 L348.77,646.88 L349.49,646.82 L350.21,646.63 L350.93,647.03 L351.65,648.07 L352.36,648.28 L353.08,648.23 L353.80,647.60" stroke="#4a7ab8" stroke-width="1.05" fill="none" stroke-linejoin="round"/>
<path d="M282.00,647.71 L282.72,647.88 L283.44,648.57 L284.15,649.42 L284.87,649.08 L285.59,648.69 L286.31,648.89 L287.03,650.14 L287.74,650.70 L288.46,649.65 L289.18,648.32 L289.90,647.33 L290.62,646.99 L291.33,646.69 L292.05,646.25 L292.77,645.32 L293.49,645.14 L294.21,644.93 L294.92,643.91 L295.64,643.26 L296.36,642.20 L297.08,642.51 L297.80,642.11 L298.51,641.82 L299.23,640.80 L299.95,639.44 L300.67,638.13 L301.39,637.45 L302.10,635.50 L302.82,634.09 L303.54,632.17 L304.26,632.32 L304.98,631.50 L305.69,630.37 L306.41,629.61 L307.13,628.24 L307.85,625.87 L308.57,620.90 L309.28,616.98 L310.00,614.18 L310.72,612.32 L311.44,608.69 L312.16,605.51 L312.87,602.86 L313.59,600.86 L314.31,599.25 L315.03,598.40 L315.75,599.03 L316.46,598.04 L317.18,596.85 L317.90,596.30 L318.62,597.65 L319.34,599.87 L320.05,601.32 L320.77,602.83 L321.49,605.59 L322.21,608.33 L322.93,610.55 L323.64,612.58 L324.36,615.41 L325.08,618.57 L325.80,621.62 L326.52,624.82 L327.23,628.19 L327.95,631.02 L328.67,633.73 L329.39,635.10 L330.11,636.53 L330.82,637.92 L331.54,639.91 L332.26,641.53 L332.98,642.69 L333.70,643.37 L334.41,644.10 L335.13,644.44 L335.85,645.98 L336.57,646.65 L337.29,646.91 L338.00,646.53 L338.72,646.83 L339.44,647.79 L340.16,648.02 L340.88,647.16 L341.59,646.82 L342.31,646.18 L343.03,647.08 L343.75,646.46 L344.47,647.22 L345.18,646.94 L345.90,647.20 L346.62,646.80 L347.34,647.45 L348.06,647.96 L348.77,648.67 L349.49,648.42 L350.21,648.50 L350.93,648.33 L351.65,648.10 L352.36,648.50 L353.08,648.82 L353.80,649.40" stroke="#1c2550" stroke-width="1.05" fill="none" stroke-linejoin="round"/>
<path d="M282.00,648.69 L282.72,648.97 L283.44,649.65 L284.15,649.50 L284.87,649.67 L285.59,648.45 L286.31,648.05 L287.03,647.92 L287.74,649.01 L288.46,650.48 L289.18,649.71 L289.90,649.34 L290.62,648.10 L291.33,647.81 L292.05,646.95 L292.77,646.34 L293.49,645.55 L294.21,644.69 L294.92,644.51 L295.64,644.01 L296.36,643.81 L297.08,643.54 L297.80,642.79 L298.51,641.46 L299.23,641.28 L299.95,641.21 L300.67,639.17 L301.39,638.00 L302.10,636.23 L302.82,635.63 L303.54,633.53 L304.26,632.36 L304.98,631.91 L305.69,629.59 L306.41,627.63 L307.13,626.12 L307.85,624.67 L308.57,622.36 L309.28,618.73 L310.00,614.91 L310.72,612.13 L311.44,607.94 L312.16,605.15 L312.87,602.19 L313.59,600.58 L314.31,598.52 L315.03,598.14 L315.75,597.36 L316.46,596.89 L317.18,595.88 L317.90,594.94 L318.62,596.15 L319.34,598.07 L320.05,601.15 L320.77,603.49 L321.49,604.72 L322.21,607.22 L322.93,608.23 L323.64,612.31 L324.36,615.82 L325.08,618.95 L325.80,621.85 L326.52,623.55 L327.23,627.65 L327.95,629.44 L328.67,631.67 L329.39,633.39 L330.11,636.40 L330.82,639.55 L331.54,640.84 L332.26,641.50 L332.98,641.61 L333.70,642.83 L334.41,643.36 L335.13,644.48 L335.85,645.72 L336.57,646.15 L337.29,646.47 L338.00,647.42 L338.72,647.91 L339.44,647.55 L340.16,645.32 L340.88,646.23 L341.59,646.85 L342.31,647.77 L343.03,646.62 L343.75,647.20 L344.47,647.32 L345.18,648.12 L345.90,647.83 L346.62,648.54 L347.34,648.21 L348.06,648.51 L348.77,648.11 L349.49,648.44 L350.21,647.76 L350.93,647.03 L351.65,647.13 L352.36,648.20 L353.08,649.44 L353.80,649.78" stroke="#6a1428" stroke-width="1.05" fill="none" stroke-linejoin="round"/>
<path d="M282.00,648.61 L282.72,648.44 L283.44,647.63 L284.15,649.02 L284.87,649.31 L285.59,649.54 L286.31,649.43 L287.03,649.83 L287.74,649.79 L288.46,649.62 L289.18,649.06 L289.90,649.08 L290.62,649.05 L291.33,648.79 L292.05,647.64 L292.77,646.72 L293.49,645.16 L294.21,645.06 L294.92,643.99 L295.64,643.86 L296.36,643.20 L297.08,642.54 L297.80,641.97 L298.51,640.82 L299.23,640.28 L299.95,639.49 L300.67,639.14 L301.39,638.33 L302.10,636.78 L302.82,635.54 L303.54,634.06 L304.26,633.32 L304.98,631.95 L305.69,631.16 L306.41,630.28 L307.13,628.55 L307.85,625.62 L308.57,622.79 L309.28,619.40 L310.00,616.03 L310.72,611.85 L311.44,607.88 L312.16,605.23 L312.87,602.39 L313.59,600.74 L314.31,598.90 L315.03,598.69 L315.75,597.69 L316.46,597.51 L317.18,596.44 L317.90,597.22 L318.62,597.64 L319.34,599.33 L320.05,601.87 L320.77,603.67 L321.49,605.38 L322.21,607.73 L322.93,610.46 L323.64,613.46 L324.36,615.76 L325.08,618.12 L325.80,621.32 L326.52,624.83 L327.23,629.24 L327.95,632.01 L328.67,633.08 L329.39,634.45 L330.11,635.93 L330.82,639.27 L331.54,640.59 L332.26,642.72 L332.98,642.87 L333.70,643.93 L334.41,644.75 L335.13,645.33 L335.85,646.28 L336.57,646.14 L337.29,647.19 L338.00,646.77 L338.72,647.87 L339.44,648.05 L340.16,648.15 L340.88,647.59 L341.59,647.05 L342.31,646.62 L343.03,647.24 L343.75,646.94 L344.47,647.71 L345.18,646.65 L345.90,647.68 L346.62,648.10 L347.34,649.24 L348.06,649.25 L348.77,649.89 L349.49,649.85 L350.21,649.67 L350.93,649.50 L351.65,649.60 L352.36,650.37 L353.08,649.38 L353.80,649.11" stroke="#c01c3c" stroke-width="1.05" fill="none" stroke-linejoin="round"/>
<path d="M282.00,649.15 L282.72,648.43 L283.44,648.23 L284.15,648.80 L284.87,649.79 L285.59,650.51 L286.31,650.39 L287.03,649.71 L287.74,650.02 L288.46,651.05 L289.18,650.01 L289.90,649.16 L290.62,647.42 L291.33,647.88 L292.05,647.55 L292.77,646.79 L293.49,645.44 L294.21,644.84 L294.92,644.77 L295.64,644.94 L296.36,644.48 L297.08,644.07 L297.80,643.31 L298.51,643.06 L299.23,641.30 L299.95,641.21 L300.67,639.68 L301.39,638.59 L302.10,636.85 L302.82,635.35 L303.54,634.52 L304.26,632.31 L304.98,631.39 L305.69,629.69 L306.41,629.55 L307.13,626.74 L307.85,624.38 L308.57,620.40 L309.28,617.83 L310.00,614.15 L310.72,610.50 L311.44,606.34 L312.16,604.37 L312.87,602.36 L313.59,601.07 L314.31,598.93 L315.03,598.68 L315.75,598.90 L316.46,598.44 L317.18,597.42 L317.90,596.15 L318.62,597.06 L319.34,598.52 L320.05,601.38 L320.77,603.81 L321.49,606.75 L322.21,608.63 L322.93,611.28 L323.64,614.19 L324.36,617.54 L325.08,619.65 L325.80,621.54 L326.52,623.81 L327.23,626.39 L327.95,629.47 L328.67,632.24 L329.39,634.17 L330.11,636.18 L330.82,638.05 L331.54,641.12 L332.26,642.35 L332.98,643.85 L333.70,644.26 L334.41,645.17 L335.13,645.35 L335.85,645.51 L336.57,645.69 L337.29,645.77 L338.00,646.40 L338.72,647.18 L339.44,647.72 L340.16,648.05 L340.88,648.27 L341.59,647.65 L342.31,648.09 L343.03,647.54 L343.75,648.55 L344.47,648.91 L345.18,648.46 L345.90,648.53 L346.62,648.36 L347.34,648.35 L348.06,648.41 L348.77,647.99 L349.49,648.40 L350.21,648.79 L350.93,649.35 L351.65,649.81 L352.36,649.31 L353.08,649.35 L353.80,650.36" stroke="#e0304e" stroke-width="1.05" fill="none" stroke-linejoin="round"/>
<rect x="282.00" y="592.50" width="71.80" height="62.50" fill="none" stroke="#2a2a2a" stroke-width="1.15"/>
<line x1="279.10" y1="592.50" x2="282.00" y2="592.50" stroke="#2a2a2a" stroke-width="0.8"/>
<line x1="279.10" y1="599.41" x2="282.00" y2="599.41" stroke="#2a2a2a" stroke-width="0.8"/>
<line x1="279.10" y1="606.33" x2="282.00" y2="606.33" stroke="#2a2a2a" stroke-width="0.8"/>
<line x1="279.10" y1="613.24" x2="282.00" y2="613.24" stroke="#2a2a2a" stroke-width="0.8"/>
<line x1="279.10" y1="620.16" x2="282.00" y2="620.16" stroke="#2a2a2a" stroke-width="0.8"/>
<line x1="279.10" y1="627.07" x2="282.00" y2="627.07" stroke="#2a2a2a" stroke-width="0.8"/>
<line x1="279.10" y1="633.98" x2="282.00" y2="633.98" stroke="#2a2a2a" stroke-width="0.8"/>
<line x1="279.10" y1="640.90" x2="282.00" y2="640.90" stroke="#2a2a2a" stroke-width="0.8"/>
<line x1="279.10" y1="647.81" x2="282.00" y2="647.81" stroke="#2a2a2a" stroke-width="0.8"/>
<text x="275.50" y="595.50" font-size="6.6" text-anchor="end" stroke="#262626" stroke-width="0.07">2.5</text>
<text x="275.50" y="650.81" font-size="6.6" text-anchor="end" stroke="#262626" stroke-width="0.07">0.5</text>
<line x1="282.00" y1="655.00" x2="282.00" y2="657.90" stroke="#2a2a2a" stroke-width="0.8"/>
<text x="282.00" y="667.20" font-size="6.8" text-anchor="middle" stroke="#262626" stroke-width="0.07">−2.5</text>
<line x1="317.90" y1="655.00" x2="317.90" y2="657.90" stroke="#2a2a2a" stroke-width="0.8"/>
<text x="317.90" y="667.20" font-size="6.8" text-anchor="middle" stroke="#262626" stroke-width="0.07">0</text>
<line x1="353.80" y1="655.00" x2="353.80" y2="657.90" stroke="#2a2a2a" stroke-width="0.8"/>
<text x="353.80" y="667.20" font-size="6.8" text-anchor="middle" stroke="#262626" stroke-width="0.07">+2.5</text>
<text x="295.40" y="679.50" font-size="8.6" textLength="45.00" lengthAdjust="spacingAndGlyphs" stroke="#262626" stroke-width="0.07">kb from center</text>
<text x="298.80" y="587.50" font-size="8.2" textLength="40.00" lengthAdjust="spacingAndGlyphs" stroke="#262626" stroke-width="0.07">DNA repair</text>
<text x="251.10" y="623.70" font-size="8.2" text-anchor="middle" textLength="59.20" lengthAdjust="spacingAndGlyphs" transform="rotate(-90 251.10 623.70)" stroke="#262626" stroke-width="0.07">Averaged H3K27ac</text>
<text x="261.50" y="623.70" font-size="8.0" text-anchor="middle" textLength="26.10" lengthAdjust="spacingAndGlyphs" transform="rotate(-90 261.50 623.70)" stroke="#262626" stroke-width="0.07">intensity</text>
<text x="284.80" y="602.90" font-size="6.9" fill="#3a6aaa" textLength="23.20" lengthAdjust="spacingAndGlyphs" stroke="#3a6aaa" stroke-width="0.07">EtOH(3)</text>
<text x="285.90" y="609.30" font-size="6.9" fill="#d02848" textLength="21.10" lengthAdjust="spacingAndGlyphs" stroke="#d02848" stroke-width="0.07">OHT(3)</text>
<text x="323.80" y="600.30" font-size="6.6" textLength="15.00" lengthAdjust="spacingAndGlyphs" stroke="#262626" stroke-width="0.07">T-ALL</text>
<text x="339.40" y="597.30" font-size="4.3" textLength="9.80" lengthAdjust="spacingAndGlyphs" stroke="#262626" stroke-width="0.12">#970</text>
<path d="M434.50,645.57 L435.20,644.84 L435.91,645.10 L436.62,644.51 L437.32,644.39 L438.02,644.10 L438.73,644.63 L439.44,644.83 L440.14,644.44 L440.85,643.40 L441.55,642.47 L442.25,642.15 L442.96,642.38 L443.67,641.70 L444.37,640.87 L445.07,640.58 L445.78,640.86 L446.49,640.91 L447.19,640.24 L447.89,639.54 L448.60,639.12 L449.31,638.66 L450.01,638.22 L450.71,637.14 L451.42,636.62 L452.12,636.03 L452.83,634.82 L453.54,633.85 L454.24,632.95 L454.94,632.62 L455.65,631.94 L456.36,631.29 L457.06,630.04 L457.76,628.41 L458.47,627.54 L459.18,627.00 L459.88,626.83 L460.58,626.05 L461.29,625.23 L462.00,623.59 L462.70,622.46 L463.40,621.40 L464.11,621.65 L464.81,621.01 L465.52,620.86 L466.23,619.90 L466.93,618.99 L467.63,618.11 L468.34,617.48 L469.05,617.23 L469.75,616.58 L470.45,616.04 L471.16,616.44 L471.87,617.78 L472.57,619.19 L473.27,619.50 L473.98,619.72 L474.69,620.47 L475.39,622.02 L476.10,623.48 L476.80,624.94 L477.50,626.84 L478.21,628.23 L478.92,629.21 L479.62,629.60 L480.32,630.55 L481.03,631.71 L481.74,633.34 L482.44,634.87 L483.14,636.28 L483.85,637.23 L484.56,637.98 L485.26,638.11 L485.97,638.31 L486.67,638.99 L487.38,639.86 L488.08,641.27 L488.79,642.11 L489.49,643.20 L490.19,643.43 L490.90,644.02 L491.61,644.55 L492.31,645.21 L493.01,646.07 L493.72,646.05 L494.43,645.98 L495.13,645.08 L495.83,645.50 L496.54,645.86 L497.25,646.97 L497.95,646.27 L498.65,646.28 L499.36,645.65 L500.06,646.63 L500.77,646.73 L501.48,647.07 L502.18,647.06 L502.88,647.43 L503.59,647.62 L504.30,647.60 L505.00,647.84" stroke="#4a7ab8" stroke-width="1.05" fill="none" stroke-linejoin="round"/>
<path d="M434.50,645.26 L435.20,644.82 L435.91,644.94 L436.62,645.51 L437.32,645.58 L438.02,644.70 L438.73,643.95 L439.44,644.09 L440.14,643.38 L440.85,642.82 L441.55,642.22 L442.25,641.86 L442.96,641.67 L443.67,641.67 L444.37,641.60 L445.07,641.79 L445.78,640.73 L446.49,640.52 L447.19,639.85 L447.89,640.09 L448.60,639.22 L449.31,638.81 L450.01,638.17 L450.71,638.04 L451.42,636.93 L452.12,635.78 L452.83,634.64 L453.54,633.84 L454.24,632.30 L454.94,631.78 L455.65,631.31 L456.36,631.63 L457.06,630.29 L457.76,628.50 L458.47,626.98 L459.18,626.30 L459.88,625.82 L460.58,624.28 L461.29,622.41 L462.00,620.62 L462.70,619.89 L463.40,618.84 L464.11,617.74 L464.81,616.05 L465.52,614.43 L466.23,613.00 L466.93,611.44 L467.63,610.37 L468.34,608.96 L469.05,607.60 L469.75,606.95 L470.45,606.76 L471.16,607.98 L471.87,608.99 L472.57,610.31 L473.27,610.87 L473.98,612.44 L474.69,613.83 L475.39,617.30 L476.10,619.41 L476.80,622.05 L477.50,623.47 L478.21,625.28 L478.92,626.88 L479.62,628.68 L480.32,630.42 L481.03,631.68 L481.74,632.89 L482.44,634.49 L483.14,636.56 L483.85,638.06 L484.56,638.35 L485.26,638.58 L485.97,638.58 L486.67,639.58 L487.38,640.21 L488.08,640.87 L488.79,641.46 L489.49,641.97 L490.19,643.11 L490.90,643.77 L491.61,644.73 L492.31,645.55 L493.01,645.66 L493.72,645.88 L494.43,645.49 L495.13,645.57 L495.83,645.29 L496.54,645.12 L497.25,645.42 L497.95,645.85 L498.65,646.22 L499.36,646.92 L500.06,647.41 L500.77,647.98 L501.48,647.79 L502.18,647.14 L502.88,647.06 L503.59,646.89 L504.30,646.62 L505.00,646.46" stroke="#1c2550" stroke-width="1.05" fill="none" stroke-linejoin="round"/>
<path d="M434.50,645.68 L435.20,645.92 L435.91,646.67 L436.62,645.85 L437.32,645.26 L438.02,644.20 L438.73,644.60 L439.44,643.91 L440.14,643.39 L440.85,642.89 L441.55,643.31 L442.25,643.52 L442.96,643.45 L443.67,642.87 L444.37,642.58 L445.07,641.69 L445.78,641.45 L446.49,640.97 L447.19,640.23 L447.89,639.99 L448.60,640.05 L449.31,640.08 L450.01,640.03 L450.71,638.59 L451.42,637.50 L452.12,635.85 L452.83,635.09 L453.54,635.36 L454.24,634.32 L454.94,633.33 L455.65,632.15 L456.36,630.79 L457.06,630.44 L457.76,629.49 L458.47,629.62 L459.18,627.93 L459.88,625.95 L460.58,623.90 L461.29,622.84 L462.00,622.07 L462.70,620.75 L463.40,619.79 L464.11,618.76 L464.81,617.32 L465.52,615.66 L466.23,613.76 L466.93,612.77 L467.63,611.76 L468.34,610.83 L469.05,609.50 L469.75,608.30 L470.45,607.56 L471.16,608.60 L471.87,610.11 L472.57,611.14 L473.27,612.84 L473.98,613.69 L474.69,615.80 L475.39,616.96 L476.10,619.68 L476.80,622.12 L477.50,624.86 L478.21,626.52 L478.92,627.78 L479.62,629.01 L480.32,630.31 L481.03,631.50 L481.74,632.10 L482.44,633.88 L483.14,635.54 L483.85,637.26 L484.56,637.72 L485.26,637.93 L485.97,638.98 L486.67,640.04 L487.38,640.90 L488.08,642.45 L488.79,642.90 L489.49,642.99 L490.19,642.60 L490.90,642.94 L491.61,644.82 L492.31,645.46 L493.01,646.09 L493.72,645.25 L494.43,645.71 L495.13,646.77 L495.83,647.39 L496.54,646.53 L497.25,645.85 L497.95,646.77 L498.65,647.82 L499.36,647.49 L500.06,647.11 L500.77,646.78 L501.48,647.90 L502.18,647.97 L502.88,647.77 L503.59,647.08 L504.30,647.35 L505.00,647.32" stroke="#2e5088" stroke-width="1.05" fill="none" stroke-linejoin="round"/>
<path d="M434.50,647.23 L435.20,647.16 L435.91,646.62 L436.62,646.26 L437.32,646.61 L438.02,647.08 L438.73,646.90 L439.44,646.69 L440.14,645.69 L440.85,645.49 L441.55,645.31 L442.25,645.24 L442.96,644.70 L443.67,643.94 L444.37,643.94 L445.07,643.70 L445.78,643.21 L446.49,642.15 L447.19,641.54 L447.89,641.61 L448.60,641.70 L449.31,641.29 L450.01,641.00 L450.71,639.67 L451.42,639.33 L452.12,637.90 L452.83,636.72 L453.54,635.49 L454.24,634.52 L454.94,634.06 L455.65,633.15 L456.36,632.37 L457.06,631.38 L457.76,629.29 L458.47,627.40 L459.18,626.06 L459.88,625.56 L460.58,624.39 L461.29,623.14 L462.00,622.43 L462.70,621.43 L463.40,620.58 L464.11,618.48 L464.81,617.65 L465.52,616.03 L466.23,616.02 L466.93,614.66 L467.63,614.27 L468.34,612.96 L469.05,611.52 L469.75,610.46 L470.45,609.76 L471.16,611.11 L471.87,611.81 L472.57,612.83 L473.27,614.57 L473.98,615.72 L474.69,617.72 L475.39,618.06 L476.10,620.09 L476.80,621.58 L477.50,625.46 L478.21,627.18 L478.92,629.27 L479.62,630.21 L480.32,632.01 L481.03,632.78 L481.74,634.16 L482.44,635.18 L483.14,637.13 L483.85,638.00 L484.56,639.64 L485.26,640.63 L485.97,641.05 L486.67,641.50 L487.38,641.49 L488.08,641.73 L488.79,642.66 L489.49,643.36 L490.19,645.05 L490.90,645.38 L491.61,646.92 L492.31,647.36 L493.01,647.86 L493.72,647.97 L494.43,647.69 L495.13,648.61 L495.83,648.72 L496.54,648.82 L497.25,647.79 L497.95,648.08 L498.65,647.78 L499.36,648.37 L500.06,647.15 L500.77,647.98 L501.48,648.37 L502.18,649.22 L502.88,649.61 L503.59,649.46 L504.30,649.70 L505.00,648.85" stroke="#e0304e" stroke-width="1.05" fill="none" stroke-linejoin="round"/>
<path d="M434.50,648.80 L435.20,648.21 L435.91,647.81 L436.62,647.51 L437.32,647.35 L438.02,646.83 L438.73,646.92 L439.44,646.67 L440.14,646.62 L440.85,646.26 L441.55,646.33 L442.25,646.10 L442.96,645.87 L443.67,645.70 L444.37,645.19 L445.07,644.23 L445.78,643.42 L446.49,642.78 L447.19,642.71 L447.89,642.50 L448.60,642.74 L449.31,642.40 L450.01,641.03 L450.71,639.80 L451.42,639.17 L452.12,638.68 L452.83,637.80 L453.54,636.45 L454.24,635.70 L454.94,634.91 L455.65,633.94 L456.36,633.38 L457.06,632.45 L457.76,631.23 L458.47,629.15 L459.18,627.39 L459.88,625.49 L460.58,624.15 L461.29,623.70 L462.00,622.99 L462.70,621.98 L463.40,620.30 L464.11,620.01 L464.81,619.36 L465.52,618.60 L466.23,616.84 L466.93,615.28 L467.63,613.71 L468.34,612.99 L469.05,611.88 L469.75,610.94 L470.45,609.91 L471.16,610.99 L471.87,612.16 L472.57,613.64 L473.27,614.72 L473.98,615.54 L474.69,616.84 L475.39,618.58 L476.10,621.52 L476.80,624.07 L477.50,626.29 L478.21,627.72 L478.92,629.74 L479.62,630.83 L480.32,632.57 L481.03,633.67 L481.74,634.89 L482.44,636.05 L483.14,636.90 L483.85,638.20 L484.56,638.90 L485.26,640.16 L485.97,641.38 L486.67,642.49 L487.38,642.76 L488.08,643.21 L488.79,643.40 L489.49,644.09 L490.19,644.61 L490.90,645.72 L491.61,646.68 L492.31,648.13 L493.01,648.78 L493.72,649.45 L494.43,649.37 L495.13,648.83 L495.83,648.36 L496.54,648.21 L497.25,648.82 L497.95,649.16 L498.65,649.31 L499.36,649.07 L500.06,649.35 L500.77,649.63 L501.48,650.33 L502.18,650.21 L502.88,649.30 L503.59,648.53 L504.30,647.90 L505.00,649.18" stroke="#c01c3c" stroke-width="1.05" fill="none" stroke-linejoin="round"/>
<path d="M434.50,647.82 L435.20,647.22 L435.91,647.76 L436.62,647.89 L437.32,647.89 L438.02,647.39 L438.73,646.62 L439.44,646.18 L440.14,645.66 L440.85,645.54 L441.55,645.75 L442.25,645.92 L442.96,645.37 L443.67,644.09 L444.37,643.33 L445.07,643.39 L445.78,643.60 L446.49,642.91 L447.19,642.03 L447.89,641.95 L448.60,641.78 L449.31,641.20 L450.01,639.90 L450.71,639.75 L451.42,639.16 L452.12,638.35 L452.83,636.11 L453.54,634.66 L454.24,634.27 L454.94,633.67 L455.65,633.29 L456.36,632.05 L457.06,631.47 L457.76,630.02 L458.47,628.12 L459.18,627.06 L459.88,625.62 L460.58,624.92 L461.29,623.12 L462.00,621.94 L462.70,620.85 L463.40,619.78 L464.11,618.53 L464.81,617.70 L465.52,616.30 L466.23,615.41 L466.93,613.33 L467.63,613.24 L468.34,612.13 L469.05,611.53 L469.75,609.88 L470.45,610.10 L471.16,610.79 L471.87,611.92 L472.57,612.88 L473.27,614.29 L473.98,615.26 L474.69,616.63 L475.39,618.02 L476.10,619.71 L476.80,621.82 L477.50,624.36 L478.21,627.71 L478.92,630.17 L479.62,631.63 L480.32,632.60 L481.03,632.99 L481.74,633.88 L482.44,635.03 L483.14,636.46 L483.85,638.36 L484.56,639.24 L485.26,640.72 L485.97,641.03 L486.67,641.51 L487.38,642.40 L488.08,643.55 L488.79,644.42 L489.49,644.28 L490.19,644.56 L490.90,645.82 L491.61,646.15 L492.31,646.80 L493.01,646.86 L493.72,647.31 L494.43,647.34 L495.13,647.32 L495.83,647.74 L496.54,648.17 L497.25,649.10 L497.95,648.89 L498.65,648.36 L499.36,648.30 L500.06,648.56 L500.77,649.25 L501.48,649.17 L502.18,649.58 L502.88,650.22 L503.59,649.80 L504.30,649.78 L505.00,649.10" stroke="#6a1428" stroke-width="1.05" fill="none" stroke-linejoin="round"/>
<rect x="434.50" y="592.50" width="70.50" height="62.50" fill="none" stroke="#2a2a2a" stroke-width="1.15"/>
<line x1="431.60" y1="592.50" x2="434.50" y2="592.50" stroke="#2a2a2a" stroke-width="0.8"/>
<line x1="431.60" y1="599.41" x2="434.50" y2="599.41" stroke="#2a2a2a" stroke-width="0.8"/>
<line x1="431.60" y1="606.33" x2="434.50" y2="606.33" stroke="#2a2a2a" stroke-width="0.8"/>
<line x1="431.60" y1="613.24" x2="434.50" y2="613.24" stroke="#2a2a2a" stroke-width="0.8"/>
<line x1="431.60" y1="620.16" x2="434.50" y2="620.16" stroke="#2a2a2a" stroke-width="0.8"/>
<line x1="431.60" y1="627.07" x2="434.50" y2="627.07" stroke="#2a2a2a" stroke-width="0.8"/>
<line x1="431.60" y1="633.98" x2="434.50" y2="633.98" stroke="#2a2a2a" stroke-width="0.8"/>
<line x1="431.60" y1="640.90" x2="434.50" y2="640.90" stroke="#2a2a2a" stroke-width="0.8"/>
<line x1="431.60" y1="647.81" x2="434.50" y2="647.81" stroke="#2a2a2a" stroke-width="0.8"/>
<text x="428.00" y="595.50" font-size="6.6" text-anchor="end" stroke="#262626" stroke-width="0.07">2.5</text>
<text x="428.00" y="650.81" font-size="6.6" text-anchor="end" stroke="#262626" stroke-width="0.07">0.5</text>
<line x1="434.50" y1="655.00" x2="434.50" y2="657.90" stroke="#2a2a2a" stroke-width="0.8"/>
<text x="434.50" y="667.20" font-size="6.8" text-anchor="middle" stroke="#262626" stroke-width="0.07">−2.5</text>
<line x1="469.75" y1="655.00" x2="469.75" y2="657.90" stroke="#2a2a2a" stroke-width="0.8"/>
<text x="469.75" y="667.20" font-size="6.8" text-anchor="middle" stroke="#262626" stroke-width="0.07">0</text>
<line x1="505.00" y1="655.00" x2="505.00" y2="657.90" stroke="#2a2a2a" stroke-width="0.8"/>
<text x="505.00" y="667.20" font-size="6.8" text-anchor="middle" stroke="#262626" stroke-width="0.07">+2.5</text>
<text x="447.25" y="679.50" font-size="8.6" textLength="45.00" lengthAdjust="spacingAndGlyphs" stroke="#262626" stroke-width="0.07">kb from center</text>
<text x="455.00" y="587.50" font-size="8.2" textLength="31.00" lengthAdjust="spacingAndGlyphs" stroke="#262626" stroke-width="0.07">OXPHOS</text>
<text x="403.60" y="623.70" font-size="8.2" text-anchor="middle" textLength="59.20" lengthAdjust="spacingAndGlyphs" transform="rotate(-90 403.60 623.70)" stroke="#262626" stroke-width="0.07">Averaged H3K27ac</text>
<text x="414.00" y="623.70" font-size="8.0" text-anchor="middle" textLength="26.10" lengthAdjust="spacingAndGlyphs" transform="rotate(-90 414.00 623.70)" stroke="#262626" stroke-width="0.07">intensity</text>
<text x="437.30" y="602.90" font-size="6.9" fill="#3a6aaa" textLength="23.20" lengthAdjust="spacingAndGlyphs" stroke="#3a6aaa" stroke-width="0.07">EtOH(3)</text>
<text x="438.40" y="609.30" font-size="6.9" fill="#d02848" textLength="21.10" lengthAdjust="spacingAndGlyphs" stroke="#d02848" stroke-width="0.07">OHT(3)</text>
<text x="475.00" y="600.30" font-size="6.6" textLength="15.00" lengthAdjust="spacingAndGlyphs" stroke="#262626" stroke-width="0.07">T-ALL</text>
<text x="490.60" y="597.30" font-size="4.3" textLength="9.80" lengthAdjust="spacingAndGlyphs" stroke="#262626" stroke-width="0.12">#970</text>
</svg></body></html>
